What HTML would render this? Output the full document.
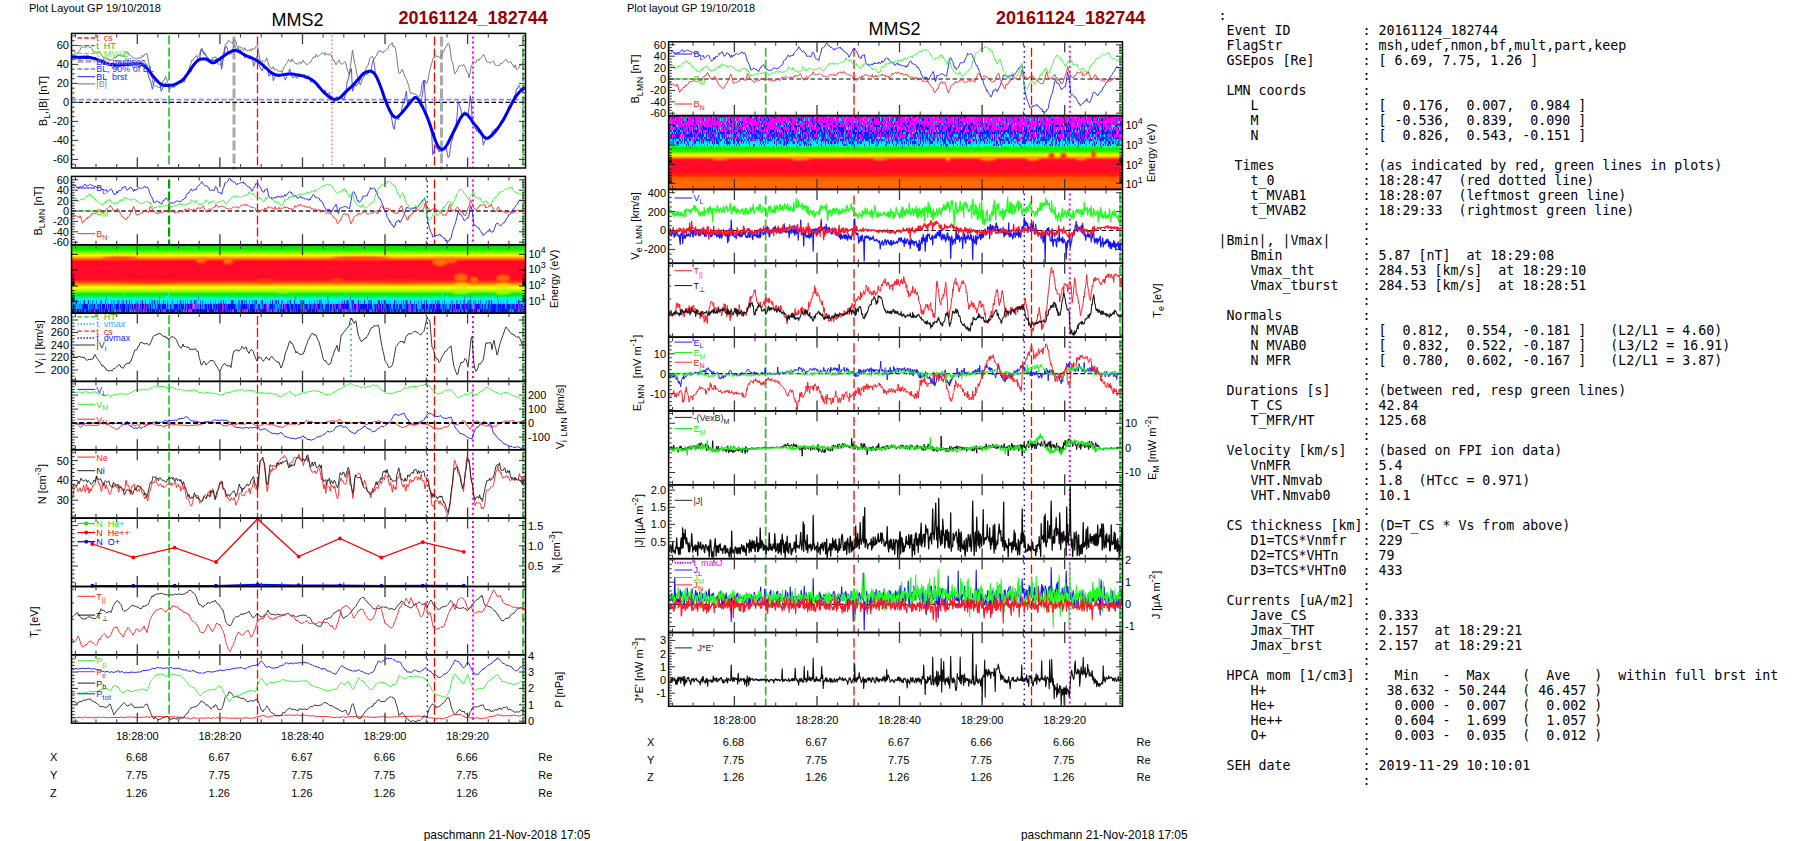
<!DOCTYPE html>
<html><head><meta charset="utf-8"><title>MMS2 20161124_182744</title>
<style>
html,body{margin:0;padding:0;background:#fff;width:1804px;height:841px;overflow:hidden}
pre{position:absolute;left:1218.5px;top:8.4px;margin:0;font-family:"DejaVu Sans Mono","Liberation Mono",monospace;font-size:13.29px;line-height:15px;color:#000;white-space:pre}
svg text{white-space:pre}
</style></head><body>
<svg width="1804" height="841" viewBox="0 0 1804 841" style="position:absolute;left:0;top:0" font-family='Liberation Sans, Arial, sans-serif' fill="none">
<g fill="#000" stroke="none">
<text x="29" y="12" font-size="11">Plot Layout GP 19/10/2018</text>
<text x="271.5" y="26" font-size="18">MMS2</text>
<text x="398.5" y="24" font-size="18" font-weight="bold" fill="#990000">20161124_182744</text>
<text x="627" y="11.5" font-size="11">Plot layout GP 19/10/2018</text>
<text x="868.5" y="35.3" font-size="18">MMS2</text>
<text x="996" y="24" font-size="18" font-weight="bold" fill="#990000">20161124_182744</text>
<text x="423.7" y="838.6" font-size="11.9">paschmann 21-Nov-2018 17:05</text>
<text x="1021" y="838.6" font-size="11.9">paschmann 21-Nov-2018 17:05</text>
<text x="137.3" y="740.1" font-size="11" text-anchor="middle">18:28:00</text>
<text x="219.9" y="740.1" font-size="11" text-anchor="middle">18:28:20</text>
<text x="302.5" y="740.1" font-size="11" text-anchor="middle">18:28:40</text>
<text x="385" y="740.1" font-size="11" text-anchor="middle">18:29:00</text>
<text x="467.6" y="740.1" font-size="11" text-anchor="middle">18:29:20</text>
<text x="50" y="761.3" font-size="11">X</text>
<text x="136.7" y="761.3" font-size="11" text-anchor="middle">6.68</text>
<text x="219.3" y="761.3" font-size="11" text-anchor="middle">6.67</text>
<text x="301.9" y="761.3" font-size="11" text-anchor="middle">6.67</text>
<text x="384.4" y="761.3" font-size="11" text-anchor="middle">6.66</text>
<text x="467" y="761.3" font-size="11" text-anchor="middle">6.66</text>
<text x="538.3" y="761.3" font-size="11">Re</text>
<text x="50" y="779" font-size="11">Y</text>
<text x="136.7" y="779" font-size="11" text-anchor="middle">7.75</text>
<text x="219.3" y="779" font-size="11" text-anchor="middle">7.75</text>
<text x="301.9" y="779" font-size="11" text-anchor="middle">7.75</text>
<text x="384.4" y="779" font-size="11" text-anchor="middle">7.75</text>
<text x="467" y="779" font-size="11" text-anchor="middle">7.75</text>
<text x="538.3" y="779" font-size="11">Re</text>
<text x="50" y="797.2" font-size="11">Z</text>
<text x="136.7" y="797.2" font-size="11" text-anchor="middle">1.26</text>
<text x="219.3" y="797.2" font-size="11" text-anchor="middle">1.26</text>
<text x="301.9" y="797.2" font-size="11" text-anchor="middle">1.26</text>
<text x="384.4" y="797.2" font-size="11" text-anchor="middle">1.26</text>
<text x="467" y="797.2" font-size="11" text-anchor="middle">1.26</text>
<text x="538.3" y="797.2" font-size="11">Re</text>
<text x="734.4" y="724.3" font-size="11" text-anchor="middle">18:28:00</text>
<text x="817" y="724.3" font-size="11" text-anchor="middle">18:28:20</text>
<text x="899.5" y="724.3" font-size="11" text-anchor="middle">18:28:40</text>
<text x="982.1" y="724.3" font-size="11" text-anchor="middle">18:29:00</text>
<text x="1064.7" y="724.3" font-size="11" text-anchor="middle">18:29:20</text>
<text x="647.1" y="746" font-size="11">X</text>
<text x="733.5" y="746" font-size="11" text-anchor="middle">6.68</text>
<text x="816.1" y="746" font-size="11" text-anchor="middle">6.67</text>
<text x="898.6" y="746" font-size="11" text-anchor="middle">6.67</text>
<text x="981.2" y="746" font-size="11" text-anchor="middle">6.66</text>
<text x="1063.8" y="746" font-size="11" text-anchor="middle">6.66</text>
<text x="1136.5" y="746" font-size="11">Re</text>
<text x="647.1" y="763.8" font-size="11">Y</text>
<text x="733.5" y="763.8" font-size="11" text-anchor="middle">7.75</text>
<text x="816.1" y="763.8" font-size="11" text-anchor="middle">7.75</text>
<text x="898.6" y="763.8" font-size="11" text-anchor="middle">7.75</text>
<text x="981.2" y="763.8" font-size="11" text-anchor="middle">7.75</text>
<text x="1063.8" y="763.8" font-size="11" text-anchor="middle">7.75</text>
<text x="1136.5" y="763.8" font-size="11">Re</text>
<text x="647.1" y="781" font-size="11">Z</text>
<text x="733.5" y="781" font-size="11" text-anchor="middle">1.26</text>
<text x="816.1" y="781" font-size="11" text-anchor="middle">1.26</text>
<text x="898.6" y="781" font-size="11" text-anchor="middle">1.26</text>
<text x="981.2" y="781" font-size="11" text-anchor="middle">1.26</text>
<text x="1063.8" y="781" font-size="11" text-anchor="middle">1.26</text>
<text x="1136.5" y="781" font-size="11">Re</text>
</g>
<defs>
<linearGradient id="gl" x1="0" y1="0" x2="0" y2="1"><stop offset="0.000" stop-color="#00d800"/><stop offset="0.077" stop-color="#20ee00"/><stop offset="0.121" stop-color="#90ff00"/><stop offset="0.153" stop-color="#ffff00"/><stop offset="0.184" stop-color="#ffb000"/><stop offset="0.213" stop-color="#ff5a00"/><stop offset="0.242" stop-color="#ff0a28"/><stop offset="0.505" stop-color="#ff0a28"/><stop offset="0.549" stop-color="#ff5000"/><stop offset="0.586" stop-color="#ffa800"/><stop offset="0.615" stop-color="#ffff00"/><stop offset="0.644" stop-color="#e0ff00"/><stop offset="0.681" stop-color="#80ff00"/><stop offset="0.718" stop-color="#10e800"/><stop offset="0.753" stop-color="#00f050"/><stop offset="0.776" stop-color="#00ffb0"/><stop offset="0.805" stop-color="#00f4ff"/><stop offset="0.873" stop-color="#00e0ff"/><stop offset="0.879" stop-color="#0030ff"/><stop offset="1.000" stop-color="#0020ff"/></linearGradient>
<linearGradient id="gm" x1="0" y1="0" x2="0" y2="1"><stop offset="0.000" stop-color="#ff00ff"/><stop offset="0.250" stop-color="#ff00ff"/><stop offset="0.255" stop-color="#0828ff"/><stop offset="0.343" stop-color="#0830ff"/><stop offset="0.349" stop-color="#00dcff"/><stop offset="0.388" stop-color="#00f0ff"/><stop offset="0.406" stop-color="#00ffb0"/><stop offset="0.422" stop-color="#00f040"/><stop offset="0.445" stop-color="#10e800"/><stop offset="0.486" stop-color="#30f000"/><stop offset="0.509" stop-color="#90ff00"/><stop offset="0.533" stop-color="#ffff00"/><stop offset="0.560" stop-color="#ffb800"/><stop offset="0.582" stop-color="#ff5000"/><stop offset="0.601" stop-color="#ff0a28"/><stop offset="0.770" stop-color="#ff0a28"/><stop offset="0.784" stop-color="#ff2000"/><stop offset="0.817" stop-color="#ff2800"/><stop offset="0.838" stop-color="#ff5a00"/><stop offset="0.953" stop-color="#ff7000"/><stop offset="1.000" stop-color="#ff5000"/></linearGradient>
</defs>
<rect x="71.5" y="244.8" width="454" height="68.4" fill="url(#gl)"/>
<rect x="668.6" y="115.6" width="453.9" height="73.8" fill="url(#gm)"/>
<defs><filter id="bl" x="-50%" y="-50%" width="200%" height="200%"><feGaussianBlur stdDeviation="1.1"/></filter><clipPath id="cl"><rect x="71.5" y="244.8" width="454" height="68.4"/></clipPath><clipPath id="cm"><rect x="668.6" y="115.6" width="453.9" height="73.8"/></clipPath></defs>
<g filter="url(#bl)" clip-path="url(#cl)">
<ellipse cx="201" cy="260.5" rx="5" ry="2.5" fill="#ff7a00" opacity="1"/>
<ellipse cx="228" cy="261" rx="5" ry="3" fill="#ff7a00" opacity="1"/>
<ellipse cx="440" cy="262" rx="8" ry="4" fill="#ff7000" opacity="1"/>
<ellipse cx="452" cy="260.5" rx="5" ry="2.5" fill="#ff6a00" opacity="1"/>
<ellipse cx="461" cy="277.5" rx="7" ry="4" fill="#ff6a00" opacity="1"/>
<ellipse cx="474" cy="279.5" rx="4" ry="2.5" fill="#ff7a00" opacity="1"/>
<ellipse cx="503" cy="278" rx="7" ry="3.5" fill="#ff6a00" opacity="1"/>
<ellipse cx="337" cy="280.5" rx="6" ry="2" fill="#ff5000" opacity="1"/>
<ellipse cx="265" cy="281" rx="8" ry="2" fill="#ff4000" opacity="1"/>
<ellipse cx="461" cy="285.5" rx="8" ry="2.5" fill="#ffd800" opacity="1"/>
<ellipse cx="503" cy="286" rx="8" ry="2.5" fill="#ffd800" opacity="1"/>
<ellipse cx="461" cy="291.5" rx="9" ry="2.5" fill="#a0ff00" opacity="1"/>
<ellipse cx="503" cy="292" rx="8" ry="2.5" fill="#a0ff00" opacity="1"/>
<ellipse cx="283" cy="291" rx="7" ry="2" fill="#a0ff00" opacity="1"/>
<ellipse cx="120" cy="258.3" rx="18" ry="1.6" fill="#ff3a10" opacity="1"/>
<ellipse cx="360" cy="258.3" rx="30" ry="1.6" fill="#ff3a10" opacity="1"/>
<ellipse cx="150" cy="281.5" rx="30" ry="1.5" fill="#ff2a18" opacity="1"/>
<ellipse cx="400" cy="281" rx="25" ry="1.5" fill="#ff2a18" opacity="1"/>
</g>
<g filter="url(#bl)" clip-path="url(#cm)">
<ellipse cx="1051.5" cy="156" rx="3" ry="3" fill="#ff2a10" opacity="1"/>
<ellipse cx="1063.5" cy="156" rx="3" ry="3" fill="#ff2a10" opacity="1"/>
<ellipse cx="1093.5" cy="154.5" rx="2.2" ry="4" fill="#ff3a10" opacity="1"/>
<ellipse cx="948" cy="158.5" rx="2" ry="2.5" fill="#ffc000" opacity="1"/>
<ellipse cx="988" cy="158.8" rx="8" ry="1.6" fill="#ffa800" opacity="1"/>
<ellipse cx="1033" cy="158.8" rx="7" ry="1.6" fill="#ffa800" opacity="1"/>
<ellipse cx="1081" cy="158.8" rx="6" ry="1.5" fill="#ffa000" opacity="1"/>
<ellipse cx="720" cy="158.8" rx="9" ry="1.4" fill="#ffa000" opacity="1"/>
<ellipse cx="800" cy="158.8" rx="10" ry="1.4" fill="#ffa000" opacity="1"/>
<ellipse cx="880" cy="158.8" rx="8" ry="1.4" fill="#ffa000" opacity="1"/>
</g>
<path d="M72 310.9h2m1 0h1m1 0h2m1 0h1m1 0h2m2 0h2m3 0h1m1 0h1m1 0h4m1 0h1m2 0h1m1 0h3m2 0h1m2 0h1m2 0h1m4 0h1m1 0h2m1 0h1m1 0h1m4 0h1m8 0h1m4 0h2m1 0h1m1 0h3m1 0h3m1 0h1m5 0h3m2 0h4m2 0h4m6 0h1m4 0h3m1 0h11m2 0h5m4 0h4m1 0h2m2 0h1m1 0h1m4 0h3m3 0h2m6 0h1m1 0h5m6 0h5m6 0h1m5 0h1m1 0h1m2 0h2m2 0h3m2 0h1m3 0h1m1 0h2m7 0h4m1 0h3m1 0h1m8 0h1m1 0h2m1 0h1m3 0h1m3 0h1m1 0h2m17 0h1m3 0h2m1 0h3m3 0h1m2 0h1m2 0h1m1 0h1m3 0h1m2 0h3m1 0h1m2 0h2m2 0h1m3 0h3m1 0h2m3 0h2m3 0h2m2 0h1m3 0h1m1 0h1m2 0h1m2 0h2m1 0h7m1 0h1m1 0h5m2 0h1m2 0h1m4 0h1m3 0h1m3 0h5m1 0h3m3 0h3m1 0h1m1 0h1m3 0h1m1 0h4m2 0h1m1 0h8m6 0h2m1 0h1m2 0h1M72 306.6m1 0h1m9 0h5m6 0h1m5 0h1m1 0h3m1 0h1m3 0h1m5 0h3m1 0h1m1 0h3m3 0h1m3 0h1m1 0h1m2 0h1m4 0h2m1 0h1m1 0h1m2 0h1m4 0h1m2 0h2m2 0h4m1 0h1m2 0h1m3 0h3m2 0h1m1 0h3m1 0h1m1 0h2m1 0h2m8 0h1m4 0h2m1 0h1m1 0h2m2 0h1m1 0h1m1 0h4m2 0h1m3 0h7m6 0h4m1 0h1m3 0h4m4 0h2m4 0h2m4 0h3m8 0h1m1 0h1m2 0h3m2 0h2m2 0h2m1 0h2m5 0h2m2 0h2m3 0h1m2 0h3m2 0h1m3 0h1m1 0h1m1 0h2m1 0h1m2 0h2m3 0h3m1 0h4m5 0h2m2 0h1m1 0h7m1 0h1m1 0h2m3 0h1m1 0h1m1 0h2m1 0h1m3 0h3m1 0h1m2 0h2m2 0h1m1 0h3m4 0h2m3 0h2m3 0h1m5 0h3m1 0h2m1 0h3m1 0h1m3 0h3m3 0h1m6 0h1m1 0h1m1 0h1m1 0h4m2 0h2m2 0h1m3 0h1m4 0h4m3 0h1m2 0h1m2 0h1m2 0h5m2 0h3m1 0h3m2 0h3m2 0h2m2 0h2m1 0h1m1 0h1" stroke="#0010ff" stroke-width="4.3" shape-rendering="crispEdges"/>
<path d="M72 310.9m2 0h1m1 0h1m2 0h1m1 0h1m2 0h1m3 0h1m1 0h1m10 0h2m1 0h1m4 0h1m1 0h2m4 0h2m8 0h1m1 0h1m1 0h1m3 0h3m2 0h2m2 0h1m4 0h1m1 0h1m9 0h2m12 0h2m4 0h1m2 0h2m9 0h1m12 0h1m7 0h2m8 0h1m1 0h1m1 0h1m7 0h1m10 0h1m7 0h1m8 0h1m2 0h2m2 0h1m3 0h1m17 0h1m1 0h1m3 0h2m1 0h1m6 0h1m5 0h2m1 0h1m1 0h3m1 0h1m4 0h1m1 0h1m1 0h2m2 0h1m3 0h2m2 0h4m1 0h3m5 0h1m4 0h1m3 0h1m4 0h1m6 0h1m3 0h2m5 0h2m2 0h2m10 0h1m5 0h1m4 0h1m2 0h1m5 0h1m1 0h1m3 0h1m9 0h1m6 0h1m1 0h1m3 0h2m2 0h1m5 0h1m15 0h1m1 0h1m3 0h1m6 0h2m1 0h1m8 0h2m1 0h1m7 0h1m3 0h1M72 306.6m2 0h2m3 0h1m1 0h2m6 0h5m3 0h3m9 0h1m1 0h2m1 0h2m5 0h1m3 0h3m1 0h3m6 0h1m2 0h1m4 0h1m1 0h1m3 0h1m4 0h1m2 0h2m16 0h1m1 0h1m8 0h1m5 0h1m2 0h1m3 0h1m1 0h1m4 0h1m5 0h1m1 0h1m5 0h1m3 0h1m7 0h1m2 0h3m6 0h2m5 0h1m7 0h2m9 0h2m2 0h1m1 0h2m4 0h1m3 0h2m2 0h2m2 0h1m2 0h1m1 0h1m1 0h1m6 0h3m1 0h1m4 0h2m3 0h1m9 0h1m2 0h2m19 0h1m14 0h1m1 0h1m6 0h1m12 0h1m7 0h1m3 0h1m4 0h2m6 0h1m10 0h1m7 0h1m1 0h1m1 0h3m2 0h1m3 0h1m7 0h1m3 0h1m2 0h1m2 0h1m8 0h1m3 0h1m4 0h2m5 0h2m3 0h1m4 0h1m3 0h2m2 0h2m4 0h1m1 0h1" stroke="#0060ff" stroke-width="4.3" shape-rendering="crispEdges"/>
<path d="M72 310.9m13 0h1m8 0h1m4 0h1m19 0h1m12 0h1m5 0h1m7 0h1m12 0h1m3 0h3m3 0h1m18 0h1m1 0h1m16 0h1m6 0h1m7 0h1m9 0h1m9 0h1m1 0h3m11 0h1m8 0h2m5 0h1m6 0h1m8 0h2m1 0h1m9 0h1m1 0h2m8 0h1m3 0h1m1 0h1m24 0h1m10 0h1m4 0h1m8 0h1m4 0h1m6 0h1m25 0h2m2 0h1m7 0h1m1 0h1m1 0h1m1 0h1m3 0h1m22 0h1m1 0h1m2 0h1m5 0h1m11 0h2m34 0h1m7 0h2M72 306.6m64 0h1m7 0h1m4 0h1m21 0h1m1 0h1m12 0h1m5 0h1m3 0h2m9 0h1m14 0h1m2 0h1m29 0h1m10 0h1m8 0h1m8 0h1m16 0h1m14 0h1m17 0h1m5 0h1m12 0h1m2 0h1m10 0h1m10 0h1m10 0h1m5 0h1m7 0h1m1 0h1m3 0h2m4 0h1m58 0h1m6 0h1m5 0h1m30 0h1" stroke="#ff00ff" stroke-width="4.3" shape-rendering="crispEdges"/>
<path d="M72 310.9m17 0h1m2 0h1m29 0h1m16 0h1m5 0h1m24 0h1m11 0h1m32 0h1m9 0h1m5 0h1m11 0h1m12 0h1m2 0h2m21 0h1m2 0h1m8 0h1m5 0h1m54 0h1m2 0h1m2 0h1m15 0h1m1 0h1m2 0h1m16 0h1m1 0h1m61 0h1m23 0h2m2 0h1m24 0h1M72 306.6m36 0h1m26 0h1m4 0h1m36 0h1m35 0h1m12 0h1m18 0h1m23 0h1m37 0h1m19 0h1m16 0h1m7 0h1m16 0h1m64 0h1m1 0h1m27 0h1m4 0h1m9 0h1m44 0h1" stroke="#6000ff" stroke-width="4.3" shape-rendering="crispEdges"/>
<path d="M72 310.9m36 0h1m5 0h2m4 0h1m4 0h1m4 0h1m3 0h1m8 0h1m11 0h1m27 0h1m2 0h1m2 0h1m1 0h1m41 0h1m3 0h1m1 0h1m7 0h1m7 0h1m15 0h1m3 0h2m2 0h1m6 0h1m42 0h1m2 0h1m4 0h1m4 0h1m2 0h1m5 0h1m4 0h1m13 0h1m2 0h1m16 0h1m9 0h1m4 0h1m9 0h1m2 0h1m23 0h1m7 0h1m11 0h1m3 0h1m6 0h1m5 0h1m30 0h1m1 0h1m5 0h1m5 0h1" stroke="#00a0ff" stroke-width="4.3" shape-rendering="crispEdges"/>
<path d="M72 306.6h1m3 0h3m1 0h1m7 0h1m6 0h2m4 0h1m3 0h1m1 0h1m5 0h1m5 0h1m13 0h1m5 0h1m11 0h1m1 0h2m1 0h1m9 0h1m1 0h2m2 0h1m11 0h1m8 0h2m4 0h1m1 0h1m1 0h1m8 0h1m23 0h2m11 0h1m6 0h2m2 0h2m5 0h2m7 0h1m1 0h1m3 0h1m20 0h1m4 0h1m14 0h2m4 0h1m2 0h1m16 0h3m5 0h1m14 0h2m7 0h1m2 0h2m5 0h2m5 0h1m3 0h1m14 0h4m4 0h1m2 0h1m6 0h1m5 0h1m5 0h2m2 0h1m3 0h1m4 0h1m6 0h1m4 0h2m9 0h1m2 0h1m18 0h1m17 0h1" stroke="#00b0ff" stroke-width="4.3" shape-rendering="crispEdges"/>
<path d="M72 302.3h1m5 0h1m1 0h1m9 0h1m2 0h1m13 0h1m6 0h1m4 0h1m1 0h1m13 0h2m1 0h1m1 0h2m11 0h1m1 0h1m9 0h1m15 0h1m11 0h1m11 0h1m7 0h1m4 0h1m1 0h1m9 0h1m4 0h1m7 0h1m1 0h1m14 0h1m4 0h1m1 0h1m6 0h1m13 0h2m14 0h1m6 0h1m13 0h1m1 0h1m10 0h1m2 0h1m8 0h1m9 0h1m16 0h1m4 0h2m2 0h1m1 0h2m5 0h2m1 0h1m17 0h1m3 0h1m10 0h3m8 0h1m7 0h2m5 0h1m7 0h1m5 0h1m2 0h1m6 0h1m3 0h1m4 0h1m1 0h1m7 0h1m2 0h1m2 0h1m9 0h1m2 0h1m4 0h1" stroke="#00c0ff" stroke-width="4.3" shape-rendering="crispEdges"/>
<path d="M72 302.3m1 0h1m1 0h1m7 0h1m8 0h1m3 0h1m3 0h2m9 0h1m1 0h1m3 0h2m3 0h2m7 0h1m13 0h1m3 0h1m1 0h2m14 0h1m4 0h1m4 0h1m5 0h1m1 0h1m1 0h1m2 0h2m3 0h2m3 0h1m1 0h1m7 0h1m4 0h1m5 0h1m3 0h1m7 0h1m4 0h2m4 0h1m1 0h1m2 0h1m2 0h1m1 0h2m5 0h1m8 0h1m4 0h1m5 0h2m4 0h1m12 0h3m6 0h1m4 0h1m2 0h1m2 0h2m6 0h1m13 0h1m3 0h1m1 0h1m2 0h1m16 0h3m10 0h1m3 0h1m15 0h1m3 0h1m1 0h1m6 0h1m3 0h1m2 0h1m2 0h1m13 0h2m4 0h1m7 0h1m3 0h1m3 0h1m2 0h2m3 0h3m2 0h1m1 0h1m2 0h1m1 0h1m5 0h1m1 0h2m8 0h1m8 0h1m15 0h1" stroke="#0080ff" stroke-width="4.3" shape-rendering="crispEdges"/>
<path d="M72 302.3m4 0h1m7 0h1m3 0h1m16 0h1m20 0h1m2 0h1m12 0h1m11 0h1m2 0h1m1 0h1m3 0h1m16 0h1m13 0h1m28 0h1m7 0h2m8 0h2m13 0h1m5 0h1m9 0h1m3 0h1m1 0h1m11 0h1m3 0h1m8 0h1m15 0h1m24 0h1m2 0h1m4 0h2m4 0h1m5 0h1m6 0h1m6 0h2m4 0h1m9 0h1m8 0h1m2 0h1m3 0h1m15 0h1m8 0h1m1 0h1m53 0h1m26 0h1" stroke="#0020ff" stroke-width="4.3" shape-rendering="crispEdges"/>
<path d="M72 298.1m34 0h1m52 0h1m38 0h1m96 0h1m31 0h1m22 0h1m16 0h1m96 0h1m5 0h1m26 0h1" stroke="#0090ff" stroke-width="4.3" shape-rendering="crispEdges"/>
<path d="M72 298.1m11 0h1m25 0h1m37 0h1m18 0h2m37 0h1m11 0h1m8 0h1m28 0h1m3 0h1m1 0h1m18 0h1m16 0h1m5 0h1m10 0h2m6 0h1m17 0h2m43 0h1m5 0h1m44 0h1m9 0h2m12 0h1m25 0h1m5 0h1m21 0h1m2 0h1" stroke="#00ffff" stroke-width="4.3" shape-rendering="crispEdges"/>
<path d="M72 293.8m51 0h1m44 0h1m176 0h1m96 0h1" stroke="#00ffd0" stroke-width="4.3" shape-rendering="crispEdges"/>
<path d="M669 117.1h1m4 0h1m36 0h1m9 0h1m12 0h1m15 0h2m4 0h1m10 0h1m3 0h1m2 0h1m6 0h1m5 0h1m8 0h1m6 0h1m8 0h1m31 0h1m9 0h2m2 0h1m8 0h1m8 0h1m20 0h1m11 0h1m4 0h2m3 0h1m19 0h1m9 0h1m10 0h1m3 0h1m14 0h1m9 0h1m1 0h1m17 0h1m2 0h1m22 0h1m1 0h1m11 0h1m13 0h1m5 0h1m10 0h1m4 0h1m6 0h1m2 0h1m2 0h1m10 0h1M669 119.4m8 0h1m9 0h1m6 0h1m8 0h1m7 0h1m4 0h1m13 0h1m16 0h1m1 0h1m6 0h1m3 0h1m3 0h1m3 0h1m21 0h1m7 0h2m1 0h1m10 0h1m10 0h1m1 0h1m3 0h1m42 0h2m1 0h1m3 0h1m2 0h1m5 0h1m3 0h1m3 0h2m12 0h1m11 0h2m4 0h1m17 0h1m7 0h1m3 0h1m6 0h1m40 0h1m6 0h1m4 0h1m15 0h1m2 0h1m6 0h1m7 0h1m17 0h1m6 0h1m14 0h1m4 0h1m1 0h1m1 0h2m2 0h1m3 0h1m9 0h1M669 121.7m7 0h1m6 0h1m10 0h1m15 0h1m2 0h1m1 0h1m11 0h1m2 0h2m8 0h1m1 0h1m14 0h1m4 0h1m4 0h1m1 0h1m9 0h1m4 0h2m5 0h1m5 0h1m7 0h1m1 0h1m4 0h1m1 0h1m1 0h1m11 0h2m1 0h1m2 0h1m8 0h1m4 0h1m9 0h1m4 0h1m5 0h1m3 0h1m7 0h1m3 0h1m5 0h1m16 0h1m6 0h1m15 0h1m19 0h1m6 0h1m1 0h2m10 0h1m5 0h1m1 0h1m18 0h1m6 0h1m7 0h1m13 0h1m8 0h1m1 0h1m2 0h1m2 0h1m22 0h1m6 0h1m10 0h1m26 0h1m6 0h1M669 124m4 0h1m13 0h1m5 0h1m1 0h1m11 0h1m9 0h1m4 0h1m5 0h1m5 0h1m2 0h1m1 0h1m1 0h1m3 0h1m1 0h1m11 0h1m1 0h1m2 0h1m13 0h1m1 0h1m5 0h1m2 0h1m3 0h1m1 0h1m9 0h1m1 0h1m5 0h1m3 0h2m4 0h3m7 0h2m4 0h1m9 0h2m3 0h1m3 0h1m2 0h1m9 0h1m1 0h2m5 0h1m1 0h1m8 0h1m2 0h1m8 0h2m2 0h2m8 0h2m1 0h1m2 0h1m1 0h1m1 0h1m3 0h1m7 0h2m3 0h1m1 0h1m3 0h1m3 0h1m3 0h1m3 0h1m3 0h1m3 0h3m13 0h1m4 0h1m7 0h1m11 0h1m9 0h1m6 0h1m8 0h1m3 0h1m3 0h1m7 0h1m10 0h3m1 0h2m5 0h2m5 0h1m3 0h1m6 0h2m1 0h1m3 0h3m5 0h2m1 0h1m3 0h1m4 0h1M669 126.3m4 0h3m5 0h1m2 0h2m1 0h1m2 0h2m1 0h2m1 0h2m4 0h2m5 0h1m2 0h2m1 0h3m3 0h1m2 0h1m2 0h1m2 0h2m2 0h1m3 0h1m3 0h1m6 0h2m2 0h3m1 0h2m5 0h1m1 0h1m6 0h1m1 0h1m2 0h1m5 0h1m1 0h1m1 0h1m1 0h1m3 0h3m1 0h2m3 0h3m7 0h1m2 0h1m1 0h2m10 0h2m5 0h2m2 0h1m1 0h2m3 0h1m5 0h1m4 0h1m2 0h1m2 0h1m3 0h1m4 0h6m2 0h1m6 0h1m1 0h1m1 0h1m8 0h1m2 0h1m5 0h2m3 0h3m1 0h3m2 0h2m2 0h1m5 0h5m2 0h1m4 0h1m2 0h2m3 0h1m2 0h1m1 0h1m3 0h2m2 0h2m1 0h1m1 0h2m3 0h1m1 0h1m5 0h1m2 0h3m8 0h1m1 0h2m1 0h1m3 0h2m6 0h2m2 0h1m1 0h1m9 0h1m3 0h1m2 0h1m3 0h1m3 0h1m1 0h1m1 0h1m2 0h4m2 0h2m3 0h2m1 0h2m10 0h2m1 0h1m2 0h2m2 0h1m2 0h1m2 0h1m4 0h1m7 0h1m4 0h2M669 128.6h1m6 0h1m3 0h1m1 0h1m5 0h1m4 0h1m3 0h1m3 0h1m1 0h4m1 0h3m1 0h1m4 0h1m5 0h1m2 0h1m7 0h1m4 0h1m1 0h1m4 0h1m4 0h1m2 0h1m6 0h3m1 0h1m3 0h1m4 0h1m6 0h2m7 0h1m4 0h2m3 0h2m3 0h2m1 0h1m2 0h1m5 0h1m2 0h1m2 0h2m2 0h1m3 0h1m1 0h3m2 0h6m1 0h1m6 0h1m1 0h3m8 0h1m2 0h1m7 0h1m4 0h1m9 0h2m2 0h2m9 0h1m3 0h1m5 0h2m1 0h1m1 0h3m1 0h4m6 0h1m2 0h1m3 0h1m4 0h4m2 0h3m7 0h2m3 0h3m2 0h1m2 0h1m6 0h1m5 0h2m2 0h1m3 0h1m10 0h1m1 0h1m6 0h1m1 0h1m1 0h1m2 0h1m1 0h1m2 0h1m6 0h1m1 0h3m3 0h1m2 0h1m2 0h1m1 0h1m13 0h1m1 0h1m1 0h1m3 0h1m2 0h1m1 0h1m1 0h1m2 0h1m6 0h2m1 0h2m1 0h2m3 0h1m1 0h1m8 0h1m4 0h1M669 130.9m1 0h1m2 0h3m2 0h2m3 0h1m1 0h1m2 0h1m2 0h1m1 0h5m4 0h1m5 0h1m1 0h1m1 0h1m1 0h2m1 0h1m1 0h1m7 0h2m2 0h1m1 0h1m4 0h3m1 0h1m1 0h1m2 0h1m1 0h1m1 0h1m2 0h1m1 0h3m6 0h1m2 0h1m1 0h4m2 0h1m5 0h2m1 0h1m1 0h1m1 0h2m1 0h2m1 0h1m6 0h5m2 0h1m2 0h4m3 0h3m2 0h1m1 0h1m1 0h2m3 0h1m3 0h1m1 0h5m2 0h2m1 0h2m2 0h2m3 0h1m2 0h1m3 0h1m3 0h1m1 0h1m4 0h1m2 0h3m2 0h1m1 0h1m1 0h1m2 0h2m3 0h1m2 0h2m1 0h3m2 0h1m8 0h1m2 0h2m2 0h2m4 0h1m1 0h1m4 0h1m2 0h3m4 0h1m1 0h3m2 0h2m5 0h4m5 0h3m3 0h2m7 0h1m1 0h3m2 0h1m3 0h1m1 0h2m2 0h1m1 0h6m1 0h1m2 0h2m2 0h2m2 0h1m2 0h3m3 0h3m1 0h1m1 0h1m1 0h1m1 0h1m1 0h2m2 0h1m3 0h3m4 0h1m1 0h2m3 0h1m1 0h5m2 0h1m3 0h1m2 0h1m1 0h1m1 0h2m2 0h2m1 0h2m2 0h2m1 0h1m2 0h3m3 0h2m3 0h1m1 0h2m5 0h1M669 133.2h1m2 0h1m1 0h1m1 0h1m1 0h1m1 0h1m2 0h2m5 0h2m3 0h2m3 0h1m1 0h1m3 0h1m1 0h1m2 0h1m1 0h1m4 0h1m1 0h5m1 0h4m4 0h1m1 0h1m3 0h2m4 0h1m1 0h1m1 0h2m1 0h1m2 0h1m1 0h3m1 0h1m2 0h1m3 0h3m2 0h1m1 0h1m1 0h1m2 0h1m1 0h1m1 0h2m2 0h1m1 0h3m1 0h1m4 0h1m1 0h1m4 0h1m2 0h3m1 0h2m1 0h3m1 0h2m1 0h1m2 0h1m1 0h2m3 0h1m1 0h1m1 0h1m2 0h3m2 0h1m2 0h1m2 0h5m1 0h4m2 0h5m3 0h2m1 0h1m1 0h3m2 0h2m2 0h3m1 0h1m2 0h1m1 0h1m2 0h2m2 0h1m3 0h3m2 0h1m3 0h3m1 0h2m1 0h1m1 0h1m2 0h1m1 0h1m1 0h1m1 0h3m1 0h2m1 0h1m1 0h3m1 0h1m2 0h1m1 0h4m1 0h2m1 0h2m1 0h1m2 0h1m1 0h3m1 0h1m2 0h1m1 0h2m1 0h10m1 0h1m1 0h3m1 0h1m1 0h1m1 0h1m2 0h2m3 0h1m1 0h3m1 0h2m1 0h1m2 0h2m3 0h2m1 0h1m4 0h1m2 0h1m4 0h1m1 0h2m1 0h2m1 0h1m1 0h2m2 0h2m1 0h3m3 0h1m2 0h1m4 0h1m1 0h1m5 0h1m1 0h3m4 0h2m1 0h4m1 0h1m1 0h1m1 0h7m1 0h2m1 0h4m3 0h2" stroke="#0818ff" stroke-width="2.3" shape-rendering="crispEdges"/>
<path d="M669 117.1m17 0h1m66 0h1m61 0h1m27 0h1m2 0h1m70 0h1m20 0h1m105 0h1M669 119.4m15 0h1m35 0h1m75 0h1m38 0h1m3 0h1m49 0h1m4 0h1m76 0h1m11 0h1m7 0h1m38 0h1m67 0h1M669 121.7h1m11 0h1m18 0h1m35 0h1m49 0h1m70 0h1m115 0h1m9 0h1m103 0h1m3 0h1m13 0h1m5 0h1m6 0h1M669 124m67 0h1m14 0h1m24 0h1m85 0h1m135 0h1m16 0h1M669 126.3m93 0h1m18 0h1m26 0h1m6 0h1m50 0h1m13 0h1m168 0h1m68 0h1M669 128.6m51 0h1m9 0h1m115 0h1m2 0h1m1 0h1m45 0h1m7 0h1m117 0h1m41 0h1m14 0h1m19 0h1M669 130.9m3 0h1m7 0h1m18 0h1m16 0h1m50 0h1m11 0h1m135 0h1m140 0h1m30 0h1M669 133.2m1 0h1m2 0h1m113 0h1m11 0h1m44 0h1m58 0h2m7 0h1m103 0h1" stroke="#00ffa0" stroke-width="2.3" shape-rendering="crispEdges"/>
<path d="M669 117.1m8 0h1m13 0h1m9 0h1m14 0h1m7 0h1m7 0h1m13 0h1m29 0h1m24 0h1m15 0h1m22 0h1m8 0h1m12 0h1m12 0h1m96 0h1m3 0h1m9 0h1m10 0h1m2 0h1m6 0h1m22 0h1m9 0h1m7 0h1m1 0h1M669 119.4m17 0h1m30 0h1m16 0h1m30 0h2m22 0h1m10 0h1m6 0h1m3 0h1m35 0h1m9 0h1m19 0h1m23 0h1m1 0h1m3 0h1m36 0h1m47 0h1m17 0h2m14 0h1m89 0h1M669 121.7m13 0h1m8 0h1m25 0h1m21 0h1m9 0h1m3 0h1m48 0h1m18 0h2m13 0h1m3 0h1m1 0h1m13 0h1m32 0h1m2 0h1m11 0h1m6 0h1m25 0h1m44 0h1m12 0h1m1 0h1m2 0h1m62 0h1m7 0h1m1 0h1m6 0h1m2 0h1m8 0h1m6 0h1M669 124m57 0h2m20 0h1m4 0h1m1 0h1m15 0h1m34 0h1m4 0h1m25 0h2m12 0h1m15 0h2m18 0h1m7 0h1m1 0h1m11 0h1m1 0h1m4 0h1m35 0h1m42 0h1m13 0h1m2 0h1m25 0h1m3 0h1m8 0h2m2 0h2m31 0h1m18 0h1m9 0h1m3 0h1M669 126.3m1 0h1m52 0h1m56 0h1m39 0h2m82 0h1m10 0h1m14 0h1m1 0h1m12 0h1m35 0h1m5 0h1m9 0h2m25 0h1m11 0h1m6 0h1m9 0h1m11 0h1m11 0h1m8 0h1m6 0h1m2 0h1m10 0h1M669 128.6m9 0h1m5 0h1m17 0h1m11 0h1m16 0h1m3 0h2m13 0h1m7 0h1m20 0h1m22 0h1m33 0h1m22 0h2m1 0h1m1 0h1m6 0h1m2 0h1m7 0h1m4 0h1m2 0h1m8 0h1m1 0h1m5 0h1m3 0h3m27 0h1m17 0h1m2 0h1m8 0h1m12 0h1m6 0h1m7 0h1m3 0h1m5 0h1m43 0h1m9 0h1m12 0h1m12 0h1M669 130.9m7 0h2m51 0h1m4 0h1m45 0h1m3 0h1m6 0h1m6 0h1m9 0h1m9 0h1m16 0h1m16 0h1m7 0h1m2 0h1m4 0h1m1 0h1m19 0h1m27 0h1m8 0h1m16 0h1m2 0h1m26 0h1m2 0h1m4 0h2m10 0h1m5 0h1m32 0h1m14 0h1m13 0h1m2 0h1m5 0h1m7 0h1m19 0h1m6 0h1m3 0h1m8 0h2M669 133.2m8 0h1m1 0h1m1 0h1m4 0h1m2 0h1m3 0h1m16 0h1m5 0h1m26 0h1m19 0h2m10 0h1m3 0h1m8 0h1m8 0h1m15 0h1m9 0h1m1 0h1m6 0h2m5 0h1m7 0h1m9 0h1m23 0h1m10 0h1m1 0h1m1 0h1m28 0h1m10 0h1m2 0h1m21 0h1m4 0h1m22 0h1m19 0h1m9 0h1m2 0h2m16 0h1m24 0h2m24 0h1m26 0h1" stroke="#0070ff" stroke-width="2.3" shape-rendering="crispEdges"/>
<path d="M669 117.1m3 0h1m8 0h1m30 0h1m32 0h1m6 0h1m6 0h1m68 0h1m5 0h1m18 0h1m11 0h1m14 0h1m3 0h1m4 0h1m16 0h1m4 0h1m21 0h1m27 0h1m11 0h1m29 0h1m20 0h1m27 0h1m4 0h1m7 0h1m4 0h1m4 0h1m10 0h1m12 0h1M669 119.4m24 0h1m10 0h1m17 0h1m3 0h1m8 0h1m4 0h1m63 0h1m3 0h1m31 0h1m4 0h1m17 0h1m4 0h1m11 0h1m24 0h1m9 0h1m4 0h1m32 0h1m45 0h1m35 0h1m2 0h1m8 0h1m16 0h1M669 121.7m2 0h1m53 0h1m3 0h1m15 0h1m14 0h1m28 0h1m10 0h1m43 0h1m9 0h1m10 0h1m4 0h1m15 0h1m6 0h1m40 0h1m1 0h1m2 0h1m27 0h1m18 0h1m17 0h1m114 0h1M669 124m5 0h1m28 0h1m17 0h1m3 0h1m14 0h1m47 0h1m7 0h1m19 0h1m125 0h1m21 0h1m31 0h1m11 0h1m14 0h1m15 0h1m23 0h1m9 0h1m3 0h1m14 0h1M669 126.3m2 0h1m4 0h2m20 0h1m27 0h1m20 0h1m34 0h1m2 0h1m59 0h1m25 0h1m14 0h1m7 0h1m58 0h1m59 0h1m5 0h1m8 0h1m82 0h4M669 128.6m27 0h1m16 0h1m29 0h1m1 0h1m11 0h1m35 0h1m3 0h1m1 0h1m22 0h1m5 0h1m18 0h1m13 0h1m13 0h1m61 0h1m23 0h1m15 0h1m2 0h1m53 0h1m7 0h1m14 0h1m3 0h1m23 0h2m25 0h1m6 0h1M669 130.9m23 0h1m12 0h1m12 0h1m27 0h1m30 0h1m3 0h1m17 0h1m10 0h1m16 0h1m4 0h1m22 0h1m3 0h1m57 0h1m3 0h1m3 0h2m3 0h1m4 0h1m2 0h1m26 0h1m63 0h1m42 0h1m2 0h1m2 0h1m15 0h1M669 133.2m6 0h1m6 0h1m4 0h1m13 0h1m23 0h1m18 0h1m45 0h1m7 0h1m21 0h1m97 0h1m53 0h1m28 0h1m4 0h1m6 0h1m21 0h1m9 0h1m71 0h1M669 135.5m12 0h1m22 0h2m10 0h1m3 0h1m6 0h1m1 0h2m1 0h1m5 0h1m2 0h1m8 0h1m13 0h2m30 0h1m4 0h1m1 0h1m14 0h1m7 0h1m9 0h1m15 0h1m40 0h1m14 0h2m6 0h1m11 0h1m3 0h1m5 0h1m2 0h1m1 0h1m10 0h1m1 0h2m3 0h1m5 0h1m8 0h2m7 0h1m7 0h1m1 0h1m1 0h1m1 0h1m4 0h1m2 0h2m10 0h3m13 0h1m4 0h1m4 0h1m10 0h1m6 0h1m26 0h1m3 0h1m5 0h1m3 0h1m16 0h1M669 137.8m11 0h1m2 0h1m9 0h1m4 0h1m4 0h1m3 0h1m12 0h2m3 0h1m16 0h1m1 0h2m1 0h1m17 0h1m3 0h1m1 0h1m4 0h1m3 0h1m9 0h1m16 0h1m2 0h1m8 0h2m5 0h1m2 0h1m11 0h1m2 0h1m11 0h1m16 0h1m3 0h3m1 0h4m4 0h2m1 0h1m5 0h1m8 0h2m8 0h1m6 0h1m5 0h1m5 0h1m2 0h1m3 0h1m5 0h1m2 0h1m14 0h1m5 0h2m1 0h3m2 0h1m5 0h1m3 0h1m1 0h1m3 0h1m4 0h1m9 0h1m12 0h1m3 0h1m6 0h1m14 0h1m1 0h1m12 0h1m3 0h1m14 0h1m5 0h1m1 0h1m2 0h1m15 0h1M669 140.1m1 0h2m2 0h1m1 0h3m2 0h1m1 0h1m3 0h2m2 0h1m8 0h1m21 0h3m3 0h1m1 0h1m1 0h1m2 0h1m7 0h1m2 0h1m2 0h1m6 0h1m1 0h1m4 0h2m1 0h1m6 0h1m1 0h1m6 0h1m2 0h1m3 0h1m3 0h3m1 0h1m6 0h1m1 0h1m4 0h2m3 0h1m1 0h2m10 0h1m8 0h1m7 0h1m2 0h1m8 0h1m4 0h1m4 0h2m4 0h1m9 0h1m1 0h1m1 0h1m12 0h1m1 0h1m8 0h1m1 0h3m1 0h1m1 0h1m4 0h1m4 0h1m3 0h2m2 0h1m1 0h1m4 0h1m6 0h1m1 0h1m3 0h1m2 0h2m7 0h1m5 0h1m1 0h1m6 0h1m1 0h1m1 0h1m4 0h1m1 0h2m10 0h1m4 0h2m5 0h1m10 0h1m3 0h1m2 0h1m10 0h2m2 0h1m2 0h1m3 0h2m3 0h1m3 0h1m3 0h1m11 0h1m7 0h1m1 0h1m1 0h1m5 0h1m9 0h1m2 0h1" stroke="#00e8ff" stroke-width="2.3" shape-rendering="crispEdges"/>
<path d="M669 135.5m9 0h1m83 0h1m26 0h1m7 0h1m33 0h1m9 0h1m37 0h1m123 0h1m27 0h1m50 0h1m5 0h1M669 137.8m31 0h1m32 0h1m88 0h1m10 0h2m32 0h1m92 0h1m24 0h1m8 0h1m27 0h1m36 0h1m5 0h1" stroke="#6000ff" stroke-width="2.3" shape-rendering="crispEdges"/>
<path d="M669 135.5m3 0h1m1 0h1m5 0h1m1 0h1m1 0h1m11 0h1m11 0h1m2 0h1m2 0h2m7 0h1m1 0h2m1 0h1m7 0h1m8 0h1m1 0h3m7 0h1m1 0h1m1 0h1m4 0h1m3 0h1m4 0h1m2 0h1m3 0h1m12 0h1m10 0h1m2 0h1m1 0h1m2 0h1m1 0h1m8 0h1m4 0h1m3 0h2m2 0h1m4 0h1m1 0h2m3 0h1m2 0h1m2 0h1m2 0h2m2 0h1m13 0h2m1 0h1m2 0h1m2 0h1m3 0h1m4 0h2m2 0h2m1 0h1m1 0h2m4 0h1m1 0h1m5 0h1m4 0h1m11 0h3m2 0h1m7 0h1m14 0h1m5 0h1m4 0h1m3 0h1m2 0h1m1 0h1m7 0h2m7 0h1m4 0h1m5 0h3m3 0h1m4 0h2m6 0h1m2 0h2m1 0h1m2 0h1m1 0h3m9 0h1m4 0h1m1 0h1m1 0h1m5 0h1m10 0h1m1 0h1m4 0h1m4 0h1m1 0h1m1 0h2m6 0h1m3 0h1m2 0h1m3 0h1m1 0h1m1 0h3M669 137.8m10 0h1m5 0h1m2 0h1m3 0h1m1 0h2m13 0h1m2 0h1m2 0h1m13 0h1m1 0h2m1 0h1m1 0h1m2 0h1m13 0h1m4 0h1m1 0h1m6 0h1m7 0h1m1 0h1m6 0h1m3 0h1m5 0h1m2 0h2m3 0h1m3 0h1m2 0h1m1 0h1m1 0h1m3 0h1m3 0h1m2 0h1m12 0h1m2 0h1m1 0h1m12 0h1m4 0h1m1 0h1m13 0h1m9 0h2m6 0h1m5 0h1m12 0h1m4 0h2m1 0h1m6 0h1m5 0h1m13 0h1m4 0h2m1 0h1m8 0h1m3 0h1m1 0h1m17 0h1m6 0h1m3 0h1m2 0h1m14 0h3m9 0h1m3 0h1m4 0h1m7 0h1m1 0h1m6 0h1m3 0h1m1 0h2m7 0h1m1 0h1m1 0h1m2 0h1m3 0h1m3 0h1m2 0h2m1 0h1m5 0h1m8 0h1m1 0h1m4 0h1m5 0h1M669 140.1m23 0h1m2 0h1m6 0h1m8 0h2m27 0h1m11 0h1m1 0h1m4 0h1m11 0h1m9 0h1m1 0h1m12 0h1m13 0h1m13 0h1m10 0h1m10 0h1m10 0h1m3 0h1m18 0h1m9 0h1m8 0h1m3 0h1m5 0h1m51 0h1m6 0h3m1 0h1m11 0h1m4 0h1m15 0h1m7 0h1m2 0h1m3 0h1m7 0h1m8 0h1m9 0h1m5 0h1m18 0h1m3 0h1m18 0h1m9 0h1m7 0h1m1 0h1m3 0h1M669 142.4m7 0h1m90 0h1m8 0h1m8 0h1m15 0h1m30 0h1m18 0h1m6 0h1m143 0h1m33 0h1m56 0h1m6 0h1m9 0h1m8 0h1" stroke="#ff00ff" stroke-width="2.3" shape-rendering="crispEdges"/>
<path d="M669 135.5h1m13 0h1m9 0h1m1 0h1m1 0h1m9 0h1m9 0h1m19 0h1m1 0h1m2 0h1m3 0h1m11 0h1m4 0h1m20 0h2m2 0h1m18 0h1m7 0h1m4 0h1m6 0h2m11 0h1m3 0h1m2 0h1m21 0h1m2 0h1m16 0h1m1 0h1m5 0h1m13 0h1m7 0h3m2 0h2m3 0h1m14 0h1m2 0h1m5 0h1m1 0h1m16 0h1m11 0h1m5 0h1m7 0h1m7 0h1m7 0h1m11 0h1m2 0h1m17 0h1m3 0h1m7 0h1m7 0h1m2 0h1m1 0h1m4 0h1m5 0h1m1 0h1m22 0h2m1 0h1M669 137.8h1m2 0h1m3 0h1m4 0h2m4 0h1m2 0h2m4 0h1m2 0h1m8 0h1m8 0h1m5 0h1m3 0h1m2 0h1m9 0h1m9 0h1m12 0h1m9 0h1m19 0h1m2 0h1m4 0h1m25 0h2m7 0h1m1 0h2m9 0h1m1 0h1m9 0h1m31 0h1m3 0h1m1 0h1m3 0h2m4 0h1m21 0h1m3 0h1m2 0h1m2 0h1m4 0h1m10 0h1m3 0h1m1 0h1m2 0h1m3 0h1m1 0h1m10 0h1m4 0h1m6 0h1m8 0h2m2 0h4m9 0h1m4 0h1m5 0h1m5 0h1m1 0h1m4 0h2m5 0h1m2 0h1m8 0h1m9 0h1m4 0h1m8 0h1m10 0h1m8 0h1m2 0h1m7 0h1" stroke="#0080ff" stroke-width="2.3" shape-rendering="crispEdges"/>
<path d="M669 140.1m3 0h1m20 0h1m10 0h2m7 0h1m1 0h1m2 0h1m26 0h1m7 0h1m3 0h1m14 0h1m1 0h1m4 0h2m18 0h1m5 0h1m3 0h1m4 0h1m5 0h1m8 0h1m4 0h1m2 0h1m6 0h1m4 0h1m2 0h1m2 0h1m4 0h1m17 0h1m4 0h1m2 0h1m4 0h1m1 0h2m3 0h1m6 0h1m2 0h1m2 0h2m5 0h1m4 0h2m3 0h1m3 0h1m7 0h1m6 0h1m2 0h1m7 0h1m16 0h1m6 0h1m2 0h1m7 0h1m10 0h1m5 0h1m11 0h1m4 0h1m1 0h1m3 0h1m1 0h1m13 0h1m5 0h1m17 0h1m1 0h1m4 0h1m3 0h1m2 0h2m3 0h2m14 0h3m1 0h1m3 0h1m1 0h1m1 0h2M669 142.4h4m7 0h1m7 0h1m4 0h1m8 0h1m4 0h1m5 0h1m16 0h1m15 0h1m1 0h2m12 0h1m5 0h1m9 0h2m1 0h1m1 0h1m4 0h2m2 0h1m5 0h2m6 0h3m1 0h1m5 0h1m6 0h1m3 0h1m10 0h1m5 0h1m1 0h1m1 0h1m10 0h1m16 0h2m3 0h1m5 0h2m7 0h1m1 0h1m9 0h1m7 0h1m1 0h1m6 0h2m13 0h1m32 0h1m5 0h2m5 0h2m3 0h1m2 0h1m8 0h1m10 0h2m2 0h1m12 0h1m2 0h1m3 0h1m3 0h1m9 0h1m13 0h1m1 0h1m12 0h1m1 0h1m17 0h1m2 0h1m1 0h1m10 0h1" stroke="#0090ff" stroke-width="2.3" shape-rendering="crispEdges"/>
<path d="M669 142.4m4 0h1m3 0h2m2 0h1m2 0h1m2 0h1m6 0h2m3 0h1m1 0h1m1 0h1m5 0h1m2 0h1m1 0h1m1 0h3m5 0h1m1 0h4m3 0h2m2 0h2m2 0h1m1 0h1m16 0h1m2 0h1m1 0h1m8 0h1m5 0h1m3 0h1m1 0h2m5 0h2m2 0h1m5 0h3m11 0h1m3 0h1m3 0h1m2 0h1m1 0h2m2 0h2m1 0h1m4 0h1m6 0h2m1 0h2m3 0h1m2 0h2m7 0h1m1 0h3m4 0h1m7 0h1m2 0h1m2 0h1m4 0h1m3 0h2m1 0h1m1 0h1m3 0h1m1 0h4m4 0h1m2 0h1m5 0h4m4 0h1m5 0h3m3 0h2m1 0h2m1 0h1m4 0h1m4 0h2m1 0h3m5 0h1m7 0h1m4 0h1m6 0h2m2 0h1m3 0h1m3 0h2m1 0h1m5 0h1m4 0h4m7 0h1m3 0h1m1 0h1m5 0h2m4 0h1m3 0h2m2 0h1m5 0h1m3 0h1m2 0h2m4 0h1m1 0h1m1 0h1m1 0h1m4 0h1m4 0h1m1 0h1m8 0h1m2 0h2m2 0h2m1 0h1m2 0h1M669 144.7h1m7 0h1m8 0h1m1 0h1m3 0h1m14 0h1m5 0h1m13 0h1m1 0h1m6 0h1m2 0h1m9 0h1m3 0h2m6 0h1m2 0h1m11 0h1m6 0h2m1 0h1m12 0h2m3 0h1m1 0h1m1 0h1m1 0h1m10 0h1m3 0h1m17 0h3m8 0h1m9 0h1m4 0h1m7 0h1m7 0h2m6 0h1m2 0h1m11 0h1m9 0h2m2 0h1m6 0h1m11 0h1m1 0h1m1 0h3m5 0h1m3 0h1m4 0h1m3 0h1m26 0h2m1 0h1m1 0h1m2 0h1m11 0h1m5 0h2m23 0h1m5 0h1m1 0h1m2 0h1m2 0h1m5 0h1m2 0h1m10 0h1m13 0h1m1 0h1m5 0h1m2 0h1m1 0h1m1 0h2m1 0h1m6 0h1" stroke="#0828ff" stroke-width="2.3" shape-rendering="crispEdges"/>
<path d="M669 144.7m6 0h1m2 0h1m15 0h1m4 0h1m4 0h1m13 0h2m5 0h1m8 0h1m24 0h1m21 0h1m14 0h1m14 0h1m6 0h1m1 0h1m8 0h1m1 0h1m1 0h1m3 0h1m8 0h2m3 0h3m3 0h1m17 0h2m18 0h1m4 0h1m1 0h1m1 0h1m7 0h3m1 0h1m16 0h2m5 0h1m19 0h1m3 0h1m6 0h1m6 0h1m21 0h1m23 0h1m4 0h1m4 0h1m3 0h1m7 0h1m2 0h1m1 0h1m4 0h1m2 0h1m2 0h1m6 0h1m4 0h2m4 0h1m5 0h1m8 0h1m6 0h1" stroke="#00a0ff" stroke-width="2.3" shape-rendering="crispEdges"/>
<path d="M669 147m9 0h1m19 0h1m15 0h1m6 0h1m6 0h1m29 0h1m2 0h1m10 0h1m2 0h1m8 0h1m5 0h1m3 0h1m3 0h1m1 0h1m1 0h1m21 0h1m4 0h1m11 0h1m2 0h1m6 0h1m7 0h1m1 0h3m2 0h1m5 0h2m4 0h2m11 0h1m25 0h1m33 0h1m5 0h1m10 0h1m5 0h1m6 0h1m1 0h1m10 0h1m4 0h2m10 0h1m6 0h1m13 0h1m10 0h1m9 0h1m7 0h1m4 0h1m8 0h1m4 0h1m3 0h1m2 0h1m15 0h2m1 0h1m3 0h2m2 0h1m3 0h1m1 0h1" stroke="#00ffd0" stroke-width="2.3" shape-rendering="crispEdges"/>
<path d="M669 147m21 0h1m20 0h1m41 0h1m19 0h1m23 0h1m56 0h1m47 0h1m43 0h1m74 0h1m55 0h1m23 0h1" stroke="#0060ff" stroke-width="2.3" shape-rendering="crispEdges"/>
<path d="M169.1 35.4L169.1 167.5" stroke="#3fbf3f" stroke-width="1.8" stroke-dasharray="9 3"/>
<path d="M169.1 179.4L169.1 244.2" stroke="#00a000" stroke-width="2.2" stroke-dasharray="9 3"/>
<path d="M169.1 315.1L169.1 380.9" stroke="#3fbf3f" stroke-width="1.8" stroke-dasharray="9 3"/>
<path d="M169.1 383.4L169.1 449.3" stroke="#3fbf3f" stroke-width="1.8" stroke-dasharray="9 3"/>
<path d="M169.1 451.8L169.1 517.6" stroke="#3fbf3f" stroke-width="1.8" stroke-dasharray="9 3"/>
<path d="M169.1 520.1L169.1 586" stroke="#3fbf3f" stroke-width="1.8" stroke-dasharray="9 3"/>
<path d="M169.1 588.5L169.1 654.3" stroke="#3fbf3f" stroke-width="1.8" stroke-dasharray="9 3"/>
<path d="M169.1 656.8L169.1 722.7" stroke="#3fbf3f" stroke-width="1.8" stroke-dasharray="9 3"/>
<path d="M523 36.4L523 167.5" stroke="#3fbf3f" stroke-width="2" stroke-dasharray="9 3"/>
<path d="M523 179.4L523 244.2" stroke="#3fbf3f" stroke-width="2" stroke-dasharray="9 3"/>
<path d="M523 316.1L523 380.9" stroke="#3fbf3f" stroke-width="2" stroke-dasharray="9 3"/>
<path d="M523 384.4L523 449.3" stroke="#3fbf3f" stroke-width="2" stroke-dasharray="9 3"/>
<path d="M523 452.8L523 517.6" stroke="#3fbf3f" stroke-width="2" stroke-dasharray="9 3"/>
<path d="M523 521.1L523 586" stroke="#3fbf3f" stroke-width="2" stroke-dasharray="9 3"/>
<path d="M523 589.5L523 654.3" stroke="#3fbf3f" stroke-width="2" stroke-dasharray="9 3"/>
<path d="M523 657.8L523 722.7" stroke="#3fbf3f" stroke-width="2" stroke-dasharray="9 3"/>
<path d="M234 36.4L234 169.5" stroke="#aaaaaa" stroke-width="3" stroke-dasharray="10 3"/>
<path d="M441.5 36.4L441.5 169.5" stroke="#aaaaaa" stroke-width="3" stroke-dasharray="10 3"/>
<path d="M332 35.4L332 167.5" stroke="#ff5050" stroke-width="1" stroke-dasharray="2 2"/>
<path d="M351.1 318.1L351.1 380.9" stroke="#33bbff" stroke-width="1.8" stroke-dasharray="1.8 3.4"/>
<path d="M257.5 36.4L257.5 167.5" stroke="#ff0000" stroke-width="1.3" stroke-dasharray="9 3"/>
<path d="M257.5 179.4L257.5 244.2" stroke="#ff0000" stroke-width="1.3" stroke-dasharray="9 3"/>
<path d="M257.5 316.1L257.5 380.9" stroke="#ff0000" stroke-width="1.3" stroke-dasharray="9 3"/>
<path d="M257.5 384.4L257.5 449.3" stroke="#ff0000" stroke-width="1.3" stroke-dasharray="9 3"/>
<path d="M257.5 452.8L257.5 517.6" stroke="#ff0000" stroke-width="1.3" stroke-dasharray="9 3"/>
<path d="M257.5 521.1L257.5 586" stroke="#ff0000" stroke-width="1.3" stroke-dasharray="9 3"/>
<path d="M257.5 589.5L257.5 654.3" stroke="#ff0000" stroke-width="1.3" stroke-dasharray="9 3"/>
<path d="M257.5 657.8L257.5 722.7" stroke="#ff0000" stroke-width="1.3" stroke-dasharray="9 3"/>
<path d="M434.5 36.4L434.5 167.5" stroke="#ff0000" stroke-width="1.3" stroke-dasharray="9 3"/>
<path d="M434.5 179.4L434.5 244.2" stroke="#ff0000" stroke-width="1.3" stroke-dasharray="9 3"/>
<path d="M434.5 316.1L434.5 380.9" stroke="#ff0000" stroke-width="1.3" stroke-dasharray="9 3"/>
<path d="M434.5 384.4L434.5 449.3" stroke="#ff0000" stroke-width="1.3" stroke-dasharray="9 3"/>
<path d="M434.5 452.8L434.5 517.6" stroke="#ff0000" stroke-width="1.3" stroke-dasharray="9 3"/>
<path d="M434.5 521.1L434.5 586" stroke="#ff0000" stroke-width="1.3" stroke-dasharray="9 3"/>
<path d="M434.5 589.5L434.5 654.3" stroke="#ff0000" stroke-width="1.3" stroke-dasharray="9 3"/>
<path d="M434.5 657.8L434.5 722.7" stroke="#ff0000" stroke-width="1.3" stroke-dasharray="9 3"/>
<path d="M427.3 180.4L427.3 244.2" stroke="#0000ff" stroke-width="1.4" stroke-dasharray="1.6 3.6"/>
<path d="M427.3 317.1L427.3 380.9" stroke="#0000ff" stroke-width="1.4" stroke-dasharray="1.6 3.6"/>
<path d="M427.3 385.4L427.3 449.3" stroke="#0000ff" stroke-width="1.4" stroke-dasharray="1.6 3.6"/>
<path d="M427.3 453.8L427.3 517.6" stroke="#0000ff" stroke-width="1.4" stroke-dasharray="1.6 3.6"/>
<path d="M427.3 522.1L427.3 586" stroke="#0000ff" stroke-width="1.4" stroke-dasharray="1.6 3.6"/>
<path d="M427.3 590.5L427.3 654.3" stroke="#0000ff" stroke-width="1.4" stroke-dasharray="1.6 3.6"/>
<path d="M427.3 658.8L427.3 722.7" stroke="#0000ff" stroke-width="1.4" stroke-dasharray="1.6 3.6"/>
<path d="M473 36.4L473 167.5" stroke="#ff00ff" stroke-width="2" stroke-dasharray="2 3"/>
<path d="M473 179.4L473 244.2" stroke="#ff00ff" stroke-width="2" stroke-dasharray="2 3"/>
<path d="M473 316.1L473 380.9" stroke="#ff00ff" stroke-width="2" stroke-dasharray="2 3"/>
<path d="M473 384.4L473 449.3" stroke="#ff00ff" stroke-width="2" stroke-dasharray="2 3"/>
<path d="M473 452.8L473 517.6" stroke="#ff00ff" stroke-width="2" stroke-dasharray="2 3"/>
<path d="M473 521.1L473 586" stroke="#ff00ff" stroke-width="2" stroke-dasharray="2 3"/>
<path d="M473 589.5L473 654.3" stroke="#ff00ff" stroke-width="2" stroke-dasharray="2 3"/>
<path d="M473 657.8L473 722.7" stroke="#ff00ff" stroke-width="2" stroke-dasharray="2 3"/>
<path d="M765.7 47.8L765.7 115.1" stroke="#3fbf3f" stroke-width="1.8" stroke-dasharray="9 3"/>
<path d="M765.7 195.5L765.7 262.8" stroke="#3fbf3f" stroke-width="1.8" stroke-dasharray="9 3"/>
<path d="M765.7 269.3L765.7 336.7" stroke="#3fbf3f" stroke-width="1.8" stroke-dasharray="9 3"/>
<path d="M765.7 343.2L765.7 410.5" stroke="#3fbf3f" stroke-width="1.8" stroke-dasharray="9 3"/>
<path d="M765.7 417L765.7 484.3" stroke="#3fbf3f" stroke-width="1.8" stroke-dasharray="9 3"/>
<path d="M765.7 490.8L765.7 558.2" stroke="#3fbf3f" stroke-width="1.8" stroke-dasharray="9 3"/>
<path d="M765.7 564.7L765.7 632" stroke="#3fbf3f" stroke-width="1.8" stroke-dasharray="9 3"/>
<path d="M765.7 638.5L765.7 705.9" stroke="#3fbf3f" stroke-width="1.8" stroke-dasharray="9 3"/>
<path d="M1120.1 44.8L1120.1 115.1" stroke="#3fbf3f" stroke-width="2" stroke-dasharray="9 3"/>
<path d="M1120.1 192.5L1120.1 262.8" stroke="#3fbf3f" stroke-width="2" stroke-dasharray="9 3"/>
<path d="M1120.1 266.3L1120.1 336.7" stroke="#3fbf3f" stroke-width="2" stroke-dasharray="9 3"/>
<path d="M1120.1 340.2L1120.1 410.5" stroke="#3fbf3f" stroke-width="2" stroke-dasharray="9 3"/>
<path d="M1120.1 414L1120.1 484.3" stroke="#3fbf3f" stroke-width="2" stroke-dasharray="9 3"/>
<path d="M1120.1 487.8L1120.1 558.2" stroke="#3fbf3f" stroke-width="2" stroke-dasharray="9 3"/>
<path d="M1120.1 561.7L1120.1 632" stroke="#3fbf3f" stroke-width="2" stroke-dasharray="9 3"/>
<path d="M1120.1 635.5L1120.1 705.9" stroke="#3fbf3f" stroke-width="2" stroke-dasharray="9 3"/>
<path d="M854 47.8L854 115.1" stroke="#ff0000" stroke-width="1.3" stroke-dasharray="9 3"/>
<path d="M854 195.5L854 262.8" stroke="#ff0000" stroke-width="1.3" stroke-dasharray="9 3"/>
<path d="M854 269.3L854 336.7" stroke="#ff0000" stroke-width="1.3" stroke-dasharray="9 3"/>
<path d="M854 343.2L854 410.5" stroke="#ff0000" stroke-width="1.3" stroke-dasharray="9 3"/>
<path d="M854 417L854 484.3" stroke="#ff0000" stroke-width="1.3" stroke-dasharray="9 3"/>
<path d="M854 490.8L854 558.2" stroke="#ff0000" stroke-width="1.3" stroke-dasharray="9 3"/>
<path d="M854 564.7L854 632" stroke="#ff0000" stroke-width="1.3" stroke-dasharray="9 3"/>
<path d="M854 638.5L854 705.9" stroke="#ff0000" stroke-width="1.3" stroke-dasharray="9 3"/>
<path d="M1031.5 47.8L1031.5 115.1" stroke="#ff0000" stroke-width="1.3" stroke-dasharray="9 3"/>
<path d="M1031.5 195.5L1031.5 262.8" stroke="#ff0000" stroke-width="1.3" stroke-dasharray="9 3"/>
<path d="M1031.5 269.3L1031.5 336.7" stroke="#ff0000" stroke-width="1.3" stroke-dasharray="9 3"/>
<path d="M1031.5 343.2L1031.5 410.5" stroke="#ff0000" stroke-width="1.3" stroke-dasharray="9 3"/>
<path d="M1031.5 417L1031.5 484.3" stroke="#ff0000" stroke-width="1.3" stroke-dasharray="9 3"/>
<path d="M1031.5 490.8L1031.5 558.2" stroke="#ff0000" stroke-width="1.3" stroke-dasharray="9 3"/>
<path d="M1031.5 564.7L1031.5 632" stroke="#ff0000" stroke-width="1.3" stroke-dasharray="9 3"/>
<path d="M1031.5 638.5L1031.5 705.9" stroke="#ff0000" stroke-width="1.3" stroke-dasharray="9 3"/>
<path d="M1024.3 45.8L1024.3 115.1" stroke="#0000ff" stroke-width="1.4" stroke-dasharray="1.6 3.6"/>
<path d="M1024.3 193.5L1024.3 262.8" stroke="#0000ff" stroke-width="1.4" stroke-dasharray="1.6 3.6"/>
<path d="M1024.3 267.3L1024.3 336.7" stroke="#0000ff" stroke-width="1.4" stroke-dasharray="1.6 3.6"/>
<path d="M1024.3 341.2L1024.3 410.5" stroke="#0000ff" stroke-width="1.4" stroke-dasharray="1.6 3.6"/>
<path d="M1024.3 415L1024.3 484.3" stroke="#0000ff" stroke-width="1.4" stroke-dasharray="1.6 3.6"/>
<path d="M1024.3 488.8L1024.3 558.2" stroke="#0000ff" stroke-width="1.4" stroke-dasharray="1.6 3.6"/>
<path d="M1024.3 562.7L1024.3 632" stroke="#0000ff" stroke-width="1.4" stroke-dasharray="1.6 3.6"/>
<path d="M1024.3 636.5L1024.3 705.9" stroke="#0000ff" stroke-width="1.4" stroke-dasharray="1.6 3.6"/>
<path d="M1069.8 45.8L1069.8 115.1" stroke="#ff00ff" stroke-width="2" stroke-dasharray="2 3"/>
<path d="M1069.8 193.5L1069.8 262.8" stroke="#ff00ff" stroke-width="2" stroke-dasharray="2 3"/>
<path d="M1069.8 267.3L1069.8 336.7" stroke="#ff00ff" stroke-width="2" stroke-dasharray="2 3"/>
<path d="M1069.8 341.2L1069.8 410.5" stroke="#ff00ff" stroke-width="2" stroke-dasharray="2 3"/>
<path d="M1069.8 415L1069.8 484.3" stroke="#ff00ff" stroke-width="2" stroke-dasharray="2 3"/>
<path d="M1069.8 488.8L1069.8 558.2" stroke="#ff00ff" stroke-width="2" stroke-dasharray="2 3"/>
<path d="M1069.8 562.7L1069.8 632" stroke="#ff00ff" stroke-width="2" stroke-dasharray="2 3"/>
<path d="M1069.8 636.5L1069.8 705.9" stroke="#ff00ff" stroke-width="2" stroke-dasharray="2 3"/>
<path d="M71.5 99.7L525.5 99.7" stroke="#8a8aff" stroke-width="1.8" stroke-dasharray="5 2.5"/>
<path d="M71.5 102.3L525.5 102.3" stroke="#000" stroke-width="1.2" stroke-dasharray="4.5 2.5"/>
<path d="M72 51.3L73.1 51L74.2 50.8L75.3 53.5L76.4 53.8L77.5 53.2L78.6 51.8L79.7 50.7L80.8 48L81.9 47.2L83 47.1L84.1 46.6L85.2 47.5L86.3 47.2L87.4 45.5L88.5 45.3L89.6 47.6L90.7 47.1L91.8 48.6L92.9 51L94 52.1L95.1 51.9L96.2 52.2L97.3 53.4L98.4 51.5L99.5 51.6L100.6 54.2L101.7 55.6L102.8 56.4L103.9 58L105 57.7L106.1 57.9L107.2 58.7L108.3 58.2L109.4 61.2L110.5 59.6L111.6 59.9L112.7 58.8L113.8 58.3L114.9 57.3L116 57.8L117.1 55.1L118.2 55.7L119.3 55.3L120.4 56.2L121.5 54.6L122.6 56.6L123.7 56.2L124.8 54.5L125.9 53.6L127 52L128.1 52.5L129.2 54.7L130.3 55.1L131.4 56.4L132.5 57.6L133.6 58.1L134.7 57.8L135.8 59.2L136.9 58.7L138 57.9L139.1 58L140.2 57.7L141.3 58.5L142.4 55.1L143.5 56.9L144.6 54.5L145.7 54.2L146.8 53.2L147.9 58L149 63.6L150.1 68.4L151.2 74.7L152.3 78.8L153.4 84.9L154.5 85.5L155.6 86.4L156.7 86L157.8 86.8L158.9 87.5L160 87.2L161.1 86.9L162.2 83.4L163.3 80.5L164.4 80L165.5 76.4L166.6 79L167.7 82.9L168.8 84.6L169.9 85.5L171 84.7L172.1 85L173.2 87.3L174.3 87L175.4 86.3L176.5 85.3L177.6 83L178.7 82L179.8 82.4L180.9 81.3L182 79.3L183.1 78.2L184.2 76.9L185.3 76L186.4 74.2L187.5 73.3L188.6 70.8L189.7 66.1L190.8 63.6L191.9 60.1L193 60.7L194.1 57.7L195.2 57.6L196.3 55.4L197.4 57.6L198.5 55.8L199.6 54.1L200.7 49.8L201.8 49.9L202.9 51.6L204 51.9L205.1 53.4L206.2 55.6L207.3 57L208.4 59.1L209.5 61L210.6 61.2L211.7 60.4L212.8 57.4L213.9 57.5L215 57.1L216.1 57.1L217.2 62L218.3 64.3L219.4 64.1L220.5 65L221.6 64.6L222.7 57.6L223.8 51.8L224.9 46.5L226 43.5L227.1 43.5L228.2 40.6L229.3 41L230.4 41.7L231.5 42.6L232.6 43.5L233.7 39.8L234.8 40.2L235.9 41.7L237 45.7L238.1 46.9L239.2 46.6L240.3 47.2L241.4 47L242.5 48.9L243.6 50.4L244.7 47.6L245.8 50.1L246.9 50.6L248 50.6L249.1 50.8L250.2 49L251.3 51.1L252.4 48.3L253.5 49.2L254.6 49.1L255.7 46.7L256.8 46.6L257.9 47.3L259 54.5L260.1 60.9L261.2 61.3L262.3 60.6L263.4 61.3L264.5 61.9L265.6 61.1L266.7 57.8L267.8 61.5L268.9 65.7L270 67L271.1 68.5L272.2 68.6L273.3 66.6L274.4 70.1L275.5 69.5L276.6 69.2L277.7 70.9L278.8 70.9L279.9 71.6L281 70.9L282.1 72.7L283.2 68.9L284.3 66.6L285.4 65L286.5 63.3L287.6 62.1L288.7 59.2L289.8 60.6L290.9 62.2L292 58.9L293.1 61L294.2 62.4L295.3 63.5L296.4 63L297.5 64.7L298.6 63.1L299.7 61.7L300.8 63.7L301.9 62.7L303 60.2L304.1 62.5L305.2 62.5L306.3 64.4L307.4 64.8L308.5 63.5L309.6 62.8L310.7 62.4L311.8 59.5L312.9 58.1L314 56.6L315.1 57.7L316.2 54.5L317.3 56.5L318.4 56.2L319.5 55.4L320.6 54.4L321.7 53.1L322.8 53.5L323.9 52.3L325 55.3L326.1 53.2L327.2 54.2L328.3 55.2L329.4 53.7L330.5 54.2L331.6 56.1L332.7 59L333.8 59.9L334.9 62.4L336 64.9L337.1 62.9L338.2 60.9L339.3 60.1L340.4 63.6L341.5 64.1L342.6 63.9L343.7 62.8L344.8 61.6L345.9 63.5L347 68.9L348.1 71.5L349.2 74.4L350.3 66.9L351.4 59.1L352.5 50L353.6 57.2L354.7 63.4L355.8 68.2L356.9 74.6L358 77.7L359.1 79.8L360.2 85.4L361.3 83.2L362.4 78.9L363.5 78.1L364.6 73L365.7 69.2L366.8 67.2L367.9 65.5L369 61.8L370.1 57.9L371.2 57.4L372.3 56.1L373.4 58.5L374.5 59L375.6 56.3L376.7 55.6L377.8 52.3L378.9 50.9L380 51.2L381.1 51.4L382.2 51.7L383.3 53L384.4 51L385.5 50.6L386.6 49.6L387.7 49L388.8 45.7L389.9 45L391 44.4L392.1 42.5L393.2 46.8L394.3 46.1L395.4 48.3L396.5 54.6L397.6 64.5L398.7 73L399.8 73.6L400.9 72L402 69.3L403.1 70.9L404.2 74.9L405.3 77.2L406.4 79.3L407.5 82L408.6 85.4L409.7 91L410.8 93.7L411.9 93.2L413 92.7L414.1 94.2L415.2 94L416.3 94.5L417.4 96.1L418.5 97L419.6 96.3L420.7 93.7L421.8 84.6L422.9 81.5L424 81.1L425.1 80.2L426.2 83.9L427.3 82.7L428.4 78L429.5 71.4L430.6 67.1L431.7 63.2L432.8 59.4L433.9 57.2L435 55.8L436.1 56.2L437.2 56.4L438.3 56L439.4 57.6L440.5 57.1L441.6 55.1L442.7 52.5L443.8 51.9L444.9 48.6L446 46.7L447.1 45.1L448.2 43.2L449.3 44.5L450.4 51.4L451.5 60.3L452.6 62L453.7 68.6L454.8 73.9L455.9 72.4L457 70.8L458.1 68.4L459.2 65.7L460.3 66.1L461.4 65.2L462.5 66L463.6 64.5L464.7 66.2L465.8 68.9L466.9 71.3L468 73.4L469.1 77.9L470.2 72.4L471.3 65.8L472.4 64.3L473.5 62.7L474.6 62.2L475.7 63L476.8 60L477.9 59.7L479 60.7L480.1 58.6L481.2 57.2L482.3 56.5L483.4 54.4L484.5 56.4L485.6 58.8L486.7 61.6L487.8 62.1L488.9 62.2L490 63.2L491.1 62.6L492.2 61.5L493.3 61.1L494.4 62.9L495.5 65.3L496.6 65.5L497.7 65.3L498.8 65.7L499.9 65.1L501 62.9L502.1 63.7L503.2 62.6L504.3 60.8L505.4 59.9L506.5 59.5L507.6 62L508.7 62.5L509.8 62.2L510.9 61.6L512 64.3L513.1 64.8L514.2 67.6L515.3 64.9L516.4 69.4L517.5 69.4L518.6 68.3L519.7 65.5L520.8 65.2L521.9 64.4L523 63.4L524.1 64.3" stroke="#777" stroke-width="1" stroke-linejoin="round"/>
<path d="M72 57.5L73.1 56.7L74.2 58.5L75.3 59.5L76.4 58.5L77.5 57L78.6 57.9L79.7 60.3L80.8 57.8L81.9 58.3L83 58.6L84.1 55.3L85.2 57.4L86.3 54.9L87.4 55.4L88.5 55.6L89.6 58.6L90.7 57.1L91.8 58.7L92.9 60.1L94 58.7L95.1 57.1L96.2 59.8L97.3 59.5L98.4 62.5L99.5 62.4L100.6 60.1L101.7 61.8L102.8 61.5L103.9 60.5L105 61.6L106.1 62L107.2 62.8L108.3 65.1L109.4 63.7L110.5 65.7L111.6 66.5L112.7 68L113.8 68.3L114.9 65.1L116 67.9L117.1 69L118.2 65.4L119.3 61.2L120.4 63.6L121.5 63L122.6 62.1L123.7 62.2L124.8 64.2L125.9 63.6L127 64.6L128.1 65.7L129.2 65.6L130.3 65.8L131.4 64.1L132.5 66.3L133.6 68.2L134.7 66.7L135.8 64.4L136.9 66.4L138 66.4L139.1 66.7L140.2 67.3L141.3 64.7L142.4 66.1L143.5 65.3L144.6 65.9L145.7 63.8L146.8 64.2L147.9 74L149 77.7L150.1 80L151.2 83.3L152.3 89.2L153.4 85L154.5 80.2L155.6 79.3L156.7 80.9L157.8 79.9L158.9 84L160 83.9L161.1 91.2L162.2 89.2L163.3 86.3L164.4 85.1L165.5 82.5L166.6 85.9L167.7 85.1L168.8 87.8L169.9 88.4L171 87.8L172.1 86.4L173.2 87.1L174.3 86.5L175.4 84.1L176.5 85.2L177.6 82.9L178.7 82.8L179.8 80L180.9 81.1L182 82.9L183.1 79.8L184.2 82.1L185.3 79.1L186.4 75.2L187.5 73.5L188.6 73.8L189.7 71.5L190.8 72.1L191.9 69.5L193 65.2L194.1 63.1L195.2 62.9L196.3 62.8L197.4 58.7L198.5 61.3L199.6 58.9L200.7 52.2L201.8 48.3L202.9 51.8L204 54.6L205.1 53.6L206.2 55.8L207.3 59L208.4 57.8L209.5 60L210.6 59.2L211.7 62.4L212.8 59.6L213.9 61L215 59.3L216.1 59.8L217.2 59L218.3 58.6L219.4 59.6L220.5 58.4L221.6 69.3L222.7 62L223.8 56.3L224.9 49.5L226 46.4L227.1 47.3L228.2 52.3L229.3 54.3L230.4 52.7L231.5 53.6L232.6 50.2L233.7 46L234.8 45.8L235.9 51.9L237 48.6L238.1 47.4L239.2 50.8L240.3 49.4L241.4 52L242.5 53.8L243.6 54.2L244.7 57.7L245.8 56.4L246.9 56.1L248 56.7L249.1 58.8L250.2 55.9L251.3 56.6L252.4 57.2L253.5 66.2L254.6 64.8L255.7 58.5L256.8 56.7L257.9 59L259 64.7L260.1 67.7L261.2 69.2L262.3 71L263.4 66.8L264.5 68.5L265.6 67.3L266.7 68.9L267.8 69.8L268.9 76.2L270 75.4L271.1 71.7L272.2 71.8L273.3 80.7L274.4 77.5L275.5 76.2L276.6 75.9L277.7 75.7L278.8 76.6L279.9 76.2L281 74.9L282.1 74.6L283.2 74.2L284.3 77.4L285.4 80.1L286.5 76.7L287.6 73L288.7 72.1L289.8 68.9L290.9 73.7L292 76.3L293.1 78.1L294.2 76.3L295.3 75.1L296.4 78.2L297.5 77.4L298.6 73.3L299.7 74.6L300.8 73.9L301.9 75.5L303 77.1L304.1 74.3L305.2 75.9L306.3 79L307.4 76.8L308.5 75.9L309.6 78.9L310.7 82.4L311.8 79.4L312.9 79L314 81.3L315.1 80.7L316.2 82.7L317.3 87.2L318.4 87.6L319.5 88.4L320.6 89.6L321.7 90.4L322.8 90.9L323.9 91.4L325 90.2L326.1 93.8L327.2 94L328.3 93.1L329.4 92.9L330.5 96.9L331.6 96.3L332.7 97.8L333.8 102.2L334.9 101.7L336 99.9L337.1 96.6L338.2 98.2L339.3 98.5L340.4 98.5L341.5 98L342.6 97.9L343.7 100.2L344.8 96.3L345.9 93.6L347 82.7L348.1 79.2L349.2 75L350.3 71.2L351.4 68.6L352.5 91.2L353.6 88.4L354.7 82.3L355.8 86.2L356.9 85.1L358 84.1L359.1 81.7L360.2 80.3L361.3 77.7L362.4 72.5L363.5 73.2L364.6 75.8L365.7 74.7L366.8 74.1L367.9 74L369 70L370.1 72.1L371.2 70.2L372.3 62.9L373.4 59.4L374.5 65.5L375.6 75.6L376.7 78.5L377.8 78.9L378.9 80.3L380 83.4L381.1 87.1L382.2 90.2L383.3 92.9L384.4 99.3L385.5 98.5L386.6 102.8L387.7 106.1L388.8 107.5L389.9 109.8L391 113.9L392.1 121.1L393.2 127.1L394.3 129.2L395.4 120.5L396.5 118.1L397.6 119.2L398.7 119.6L399.8 114.1L400.9 113.1L402 107.3L403.1 104.2L404.2 101.7L405.3 96.1L406.4 91.2L407.5 104.8L408.6 99.3L409.7 102.2L410.8 102.5L411.9 100L413 99.6L414.1 96.5L415.2 97.1L416.3 98.1L417.4 96.9L418.5 103.1L419.6 103.3L420.7 106.5L421.8 97.7L422.9 90.9L424 80.1L425.1 94.5L426.2 111.9L427.3 118.2L428.4 121.9L429.5 125.9L430.6 128.6L431.7 133.8L432.8 154.7L433.9 151.1L435 148L436.1 145.6L437.2 148.9L438.3 150.1L439.4 152.1L440.5 149.5L441.6 152.5L442.7 149.2L443.8 147.2L444.9 146.3L446 145.4L447.1 153.1L448.2 157.6L449.3 156.1L450.4 147.4L451.5 141.5L452.6 139.3L453.7 132.3L454.8 130.3L455.9 126.3L457 116.8L458.1 101.8L459.2 104.7L460.3 107.5L461.4 112.4L462.5 117.4L463.6 112.6L464.7 111.6L465.8 112.8L466.9 113.7L468 115.8L469.1 107.5L470.2 95.6L471.3 103.1L472.4 124.8L473.5 123.4L474.6 124.8L475.7 129.2L476.8 131.4L477.9 129.6L479 133.2L480.1 131.5L481.2 131L482.3 136.8L483.4 145.2L484.5 141.2L485.6 140.2L486.7 137.9L487.8 139.8L488.9 138.4L490 138.6L491.1 135.9L492.2 131.9L493.3 130L494.4 129.6L495.5 128.9L496.6 129.8L497.7 130.2L498.8 125.7L499.9 125.9L501 121L502.1 119.7L503.2 122.3L504.3 120.3L505.4 118.3L506.5 114.2L507.6 112.2L508.7 106.2L509.8 106.6L510.9 107.9L512 101.9L513.1 101.6L514.2 96L515.3 94.8L516.4 88.9L517.5 88.5L518.6 85L519.7 86.6L520.8 90.7L521.9 91.8L523 90.8L524.1 85.5" stroke="#3a3aff" stroke-width="0.9" stroke-linejoin="round"/>
<path d="M72 57L73 57.1L74 57.1L75 57.1L76 57.1L77 57.2L78 57.2L79 57.2L80 57.3L81 57.3L82 57.3L83 57.3L84 57.4L85 57.4L86 57.4L87 57.4L88 57.5L89 57.5L90 57.5L91 57.7L92 57.9L93 58.1L94 58.4L95 58.8L96 59.1L97 59.4L98 59.8L99 60.2L100 60.6L101 61L102 61.4L103 61.9L104 62.3L105 62.8L106 63.3L107 63.7L108 64L109 64.2L110 64.4L111 64.5L112 64.6L113 64.7L114 64.7L115 64.8L116 64.9L117 64.9L118 64.9L119 64.9L120 64.8L121 64.8L122 64.7L123 64.7L124 64.6L125 64.6L126 64.5L127 64.4L128 64.3L129 64.2L130 64.1L131 64L132 63.9L133 63.9L134 63.8L135 63.8L136 63.8L137 63.8L138 63.8L139 63.8L140 63.8L141 63.9L142 64.3L143 64.8L144 65.5L145 66.3L146 67.2L147 68.3L148 69.4L149 70.7L150 72.1L151 73.4L152 74.8L153 76.1L154 77.3L155 78.5L156 79.6L157 80.6L158 81.7L159 82.7L160 83.5L161 84.2L162 84.7L163 85L164 85.3L165 85.4L166 85.5L167 85.5L168 85.5L169 85.4L170 85.3L171 85.2L172 85.1L173 84.9L174 84.6L175 84.3L176 83.9L177 83.4L178 82.9L179 82.4L180 81.9L181 81.3L182 80.6L183 79.6L184 78.6L185 77.3L186 76L187 74.6L188 73.2L189 71.7L190 70.2L191 68.7L192 67.2L193 65.8L194 64.5L195 63.3L196 62.2L197 61.3L198 60.4L199 59.8L200 59.3L201 59L202 58.9L203 58.9L204 58.8L205 58.9L206 59.1L207 59.6L208 60.1L209 60.9L210 61.6L211 62.3L212 62.7L213 62.9L214 62.7L215 62.3L216 61.6L217 60.9L218 60.2L219 59.5L220 58.8L221 58.1L222 57.3L223 56.6L224 55.9L225 55.1L226 54.4L227 53.7L228 53L229 52.5L230 52L231 51.6L232 51.1L233 50.7L234 50.5L235 50.4L236 50.5L237 50.8L238 51.2L239 51.7L240 52.2L241 52.7L242 53.3L243 54L244 54.6L245 55.2L246 55.7L247 56.1L248 56.5L249 56.8L250 57.2L251 57.6L252 58.1L253 58.5L254 59L255 59.5L256 60L257 60.5L258 61.2L259 61.8L260 62.6L261 63.4L262 64.3L263 65.2L264 66.1L265 67L266 67.9L267 68.8L268 69.8L269 70.7L270 71.7L271 72.5L272 73.2L273 73.7L274 74.2L275 74.5L276 74.8L277 75L278 75.2L279 75.3L280 75.3L281 75.1L282 74.9L283 74.7L284 74.5L285 74.4L286 74.3L287 74.2L288 74.1L289 74.1L290 74L291 74L292 74L293 74.1L294 74.3L295 74.5L296 74.7L297 74.9L298 75.1L299 75.3L300 75.4L301 75.6L302 75.8L303 76.1L304 76.4L305 76.7L306 77L307 77.3L308 77.7L309 78.1L310 78.7L311 79.3L312 80L313 80.7L314 81.5L315 82.3L316 83.2L317 84.3L318 85.4L319 86.6L320 87.9L321 89.1L322 90.3L323 91.4L324 92.4L325 93.4L326 94.2L327 95.1L328 96L329 96.7L330 97.4L331 98.1L332 98.6L333 98.9L334 99.2L335 99.2L336 99.2L337 99L338 98.7L339 98.3L340 97.7L341 96.9L342 95.9L343 94.8L344 93.7L345 92.6L346 91.6L347 90.7L348 89.8L349 88.9L350 88L351 87.1L352 86.1L353 85.1L354 84L355 82.9L356 81.7L357 80.6L358 79.5L359 78.3L360 77.2L361 76L362 74.9L363 74L364 73.2L365 72.6L366 72.1L367 71.8L368 71.4L369 71.2L370 71.1L371 71.3L372 71.7L373 72.3L374 73.2L375 74.4L376 76L377 77.9L378 80.1L379 82.5L380 85L381 87.7L382 90.5L383 93.5L384 96.4L385 99.2L386 101.9L387 104.4L388 106.8L389 109L390 111L391 112.8L392 114.3L393 115.6L394 116.6L395 117.2L396 117.4L397 117.2L398 116.6L399 115.8L400 114.8L401 113.8L402 112.7L403 111.5L404 110.3L405 109L406 107.8L407 106.5L408 105.3L409 104L410 102.8L411 101.5L412 100.3L413 99.2L414 98.2L415 97.6L416 97.6L417 98.1L418 99L419 100.4L420 102.1L421 103.9L422 105.8L423 107.8L424 110L425 112.1L426 114.3L427 116.6L428 119.1L429 121.8L430 124.7L431 127.7L432 130.7L433 133.7L434 136.7L435 139.5L436 142L437 144.3L438 146.2L439 147.6L440 148.6L441 149.4L442 149.5L443 149.3L444 148.7L445 147.7L446 146.3L447 144.7L448 143L449 141L450 139L451 137L452 135L453 133L454 131L455 129L456 127L457 125L458 123L459 121L460 119.1L461 117.4L462 115.9L463 114.7L464 114L465 113.8L466 113.9L467 114.5L468 115.5L469 116.7L470 118L471 119.4L472 120.9L473 122.3L474 123.6L475 124.9L476 126L477 127.2L478 128.5L479 129.9L480 131.3L481 132.8L482 134.3L483 135.8L484 136.9L485 137.7L486 138.2L487 138.2L488 137.9L489 137.5L490 136.8L491 136.1L492 135.1L493 134L494 132.9L495 131.8L496 130.5L497 129.3L498 127.9L499 126.5L500 125L501 123.5L502 121.9L503 120.3L504 118.6L505 116.7L506 114.8L507 112.8L508 110.8L509 108.8L510 106.9L511 105L512 103.1L513 101.2L514 99.5L515 97.8L516 96.3L517 95L518 93.8L519 92.6L520 91.5L521 90.5L522 89.6L523 88.7L524 88.3L525 87.9" stroke="#0000f0" stroke-width="3" stroke-linejoin="round"/>
<path d="M71.5 211L525.5 211" stroke="#222" stroke-width="1.5" stroke-dasharray="4.5 2.6"/>
<path d="M72 184.6L72.8 185.2L73.6 184.8L74.4 186.2L75.2 184.6L76 186.3L76.8 187.7L77.6 186.9L78.4 188.3L79.2 186.9L80 187.2L80.8 186.6L81.6 187L82.4 187.1L83.2 185.9L84 184.8L84.8 184.3L85.6 184.4L86.4 186.4L87.2 185.7L88 185.9L88.8 185.3L89.6 184.4L90.4 184.5L91.2 185.3L92 185.3L92.8 185.4L93.6 186L94.4 186.9L95.2 186.1L96 187.1L96.8 187.5L97.6 187.9L98.4 187.7L99.2 187.3L100 186.9L100.8 188.5L101.6 189L102.4 189.3L103.2 189.3L104 189.8L104.8 190.3L105.6 190L106.4 189.6L107.2 192.3L108 191.5L108.8 190.5L109.6 190L110.4 189.8L111.2 189L112 189.7L112.8 192.2L113.6 193.1L114.4 195L115.2 194.2L116 193.9L116.8 191.2L117.6 193L118.4 190.9L119.2 190L120 190.9L120.8 190.3L121.6 189.5L122.4 187.3L123.2 188.1L124 187.3L124.8 186L125.6 187.2L126.4 189.1L127.2 190.4L128 189.3L128.8 189.1L129.6 187.4L130.4 187.1L131.2 188.2L132 188.1L132.8 189.7L133.6 191.5L134.4 189.1L135.2 190.8L136 189.4L136.8 190L137.6 189.4L138.4 187.8L139.2 187.9L140 187.8L140.8 188.6L141.6 188.3L142.4 188L143.2 187.5L144 187L144.8 186.1L145.6 187.5L146.4 187.8L147.2 186.8L148 188L148.8 189.7L149.6 192.6L150.4 194.8L151.2 196.3L152 197.8L152.8 199.2L153.6 202.6L154.4 202.8L155.2 202.2L156 201.8L156.8 200.8L157.6 201.5L158.4 202.3L159.2 201.8L160 203.3L160.8 203.2L161.6 204.3L162.4 202.4L163.2 200.4L164 200.7L164.8 199.1L165.6 198.8L166.4 197.7L167.2 199.7L168 200.6L168.8 201.7L169.6 202.5L170.4 202L171.2 203.2L172 203L172.8 203L173.6 203L174.4 203.2L175.2 201.9L176 201.1L176.8 200.9L177.6 201.3L178.4 201.1L179.2 201.7L180 201.1L180.8 201.7L181.6 200.5L182.4 199.9L183.2 199.9L184 198.7L184.8 198.3L185.6 198.1L186.4 194.5L187.2 194.2L188 193L188.8 193.1L189.6 191.7L190.4 190L191.2 189L192 190.5L192.8 190.9L193.6 189.3L194.4 190L195.2 189.2L196 190L196.8 187.4L197.6 186.8L198.4 185.9L199.2 185L200 184.6L200.8 183.5L201.6 181.4L202.4 182.3L203.2 183.9L204 184.7L204.8 185.8L205.6 186.1L206.4 185.1L207.2 186.3L208 187.7L208.8 187.8L209.6 190.3L210.4 190.4L211.2 190.3L212 189.8L212.8 190.1L213.6 191.1L214.4 189.8L215.2 187.1L216 186.5L216.8 187.6L217.6 190.4L218.4 192.4L219.2 193L220 192.3L220.8 193L221.6 194.4L222.4 191.4L223.2 188.7L224 186.6L224.8 183L225.6 182.5L226.4 182.5L227.2 181.9L228 180.8L228.8 178.8L229.6 178.5L230.4 178.8L231.2 180.8L232 180.1L232.8 181.5L233.6 182.5L234.4 181.8L235.2 182.9L236 183.6L236.8 184.9L237.6 183.2L238.4 184.2L239.2 183.4L240 182.8L240.8 182.7L241.6 182.5L242.4 182.5L243.2 181.7L244 183.8L244.8 183.6L245.6 183.8L246.4 185.3L247.2 186.4L248 186.1L248.8 186.7L249.6 188L250.4 187.8L251.2 189.3L252 191.3L252.8 189.8L253.6 188.7L254.4 186.5L255.2 185.6L256 183.4L256.8 184.2L257.6 182.8L258.4 184.7L259.2 185.3L260 186.7L260.8 188.1L261.6 190.7L262.4 190.8L263.2 192L264 192.5L264.8 189.8L265.6 189.6L266.4 189.4L267.2 188.4L268 192.4L268.8 196.3L269.6 197.7L270.4 198.1L271.2 197.2L272 199.4L272.8 197.8L273.6 197.5L274.4 197.4L275.2 198.3L276 196.8L276.8 197.5L277.6 195.9L278.4 196.9L279.2 196.8L280 196.6L280.8 197.5L281.6 195.5L282.4 196.4L283.2 197.1L284 196.5L284.8 194.4L285.6 195.9L286.4 195.3L287.2 194.6L288 192.8L288.8 192.4L289.6 191.5L290.4 192.4L291.2 192L292 194.1L292.8 194.3L293.6 194.9L294.4 196.4L295.2 195.7L296 195.5L296.8 197.3L297.6 198.7L298.4 197.5L299.2 197.6L300 196.2L300.8 196.3L301.6 198.2L302.4 198L303.2 197.6L304 198.8L304.8 198.7L305.6 198.8L306.4 199.1L307.2 199L308 199.1L308.8 200.5L309.6 198.9L310.4 199.8L311.2 197.3L312 196.8L312.8 194.8L313.6 194.6L314.4 195.2L315.2 197.4L316 196.9L316.8 197.6L317.6 198L318.4 197.6L319.2 198.4L320 200.6L320.8 200L321.6 201.2L322.4 203L323.2 203.2L324 206.2L324.8 207.3L325.6 209.1L326.4 210.8L327.2 210.6L328 208.8L328.8 210.7L329.6 209.3L330.4 210.4L331.2 212L332 211.5L332.8 209.5L333.6 207.7L334.4 206.4L335.2 206L336 204.3L336.8 205.9L337.6 211.3L338.4 213.6L339.2 210.8L340 207.6L340.8 208.1L341.6 208L342.4 207.1L343.2 206.9L344 206.4L344.8 206.5L345.6 206.4L346.4 206.6L347.2 207.9L348 207.6L348.8 208.6L349.6 208.5L350.4 203.6L351.2 200.5L352 195.2L352.8 192.2L353.6 191.7L354.4 192.2L355.2 194.8L356 195.3L356.8 199.2L357.6 201L358.4 200.4L359.2 202.5L360 201.5L360.8 200.9L361.6 200.2L362.4 198.1L363.2 195.9L364 196.4L364.8 196L365.6 196L366.4 195.7L367.2 195.8L368 193.1L368.8 191.6L369.6 190.5L370.4 187.5L371.2 188.5L372 188.7L372.8 188.7L373.6 187.8L374.4 188.2L375.2 189L376 192L376.8 191.9L377.6 195.1L378.4 196.9L379.2 198.6L380 198.4L380.8 200.4L381.6 202.4L382.4 204.2L383.2 205.7L384 209.5L384.8 211L385.6 211.7L386.4 213.7L387.2 217.3L388 218L388.8 219.1L389.6 222.1L390.4 221.5L391.2 223.9L392 225L392.8 224.9L393.6 227.4L394.4 227L395.2 225.2L396 221.6L396.8 222.1L397.6 221.4L398.4 220L399.2 220.4L400 222.6L400.8 221.6L401.6 219.5L402.4 218.4L403.2 216.7L404 214.6L404.8 212.7L405.6 210.3L406.4 207.3L407.2 207.8L408 207.6L408.8 208.4L409.6 207.9L410.4 208.6L411.2 209.7L412 208.3L412.8 207.9L413.6 208.9L414.4 207.9L415.2 207L416 208.8L416.8 207.4L417.6 206.2L418.4 205.8L419.2 205.2L420 203.7L420.8 202.7L421.6 201L422.4 200.9L423.2 199.6L424 199.1L424.8 198.7L425.6 202.2L426.4 211.4L427.2 217.5L428 222L428.8 225.6L429.6 228.7L430.4 231L431.2 232.4L432 234.1L432.8 237.2L433.6 236.8L434.4 236.2L435.2 236.5L436 235L436.8 235.8L437.6 235.4L438.4 235.6L439.2 234.1L440 234.2L440.8 236.1L441.6 235.8L442.4 236.7L443.2 238.1L444 238.7L444.8 237.9L445.6 241.1L446.4 240L447.2 241.5L448 240.8L448.8 241.4L449.6 239L450.4 239.2L451.2 237.9L452 233.5L452.8 230.3L453.6 228.3L454.4 225.5L455.2 224.2L456 220.9L456.8 217.5L457.6 213.7L458.4 211.8L459.2 213.1L460 214.9L460.8 214.6L461.6 215L462.4 217.1L463.2 218.2L464 220.6L464.8 220.5L465.6 219.4L466.4 218.8L467.2 218.2L468 218.3L468.8 216.1L469.6 211.5L470.4 205.4L471.2 206.7L472 210L472.8 214.9L473.6 223.3L474.4 225.8L475.2 224.9L476 225.9L476.8 226.6L477.6 227.6L478.4 227.4L479.2 228.8L480 230.2L480.8 231.4L481.6 233.4L482.4 233.3L483.2 235.5L484 234.4L484.8 234.1L485.6 233.4L486.4 233.1L487.2 231.3L488 231.1L488.8 231.3L489.6 228.8L490.4 231.3L491.2 232L492 231.6L492.8 232.2L493.6 230.8L494.4 228.7L495.2 226.7L496 224L496.8 223.4L497.6 222.9L498.4 224L499.2 224.5L500 225.9L500.8 225.8L501.6 225L502.4 223.7L503.2 222.7L504 223L504.8 222.1L505.6 220.1L506.4 218.3L507.2 218L508 216.9L508.8 214.4L509.6 214.5L510.4 214.1L511.2 212.2L512 212L512.8 209.3L513.6 209.2L514.4 207.7L515.2 207L516 205.3L516.8 204.3L517.6 204L518.4 201.5L519.2 200.5L520 199.6L520.8 200.7L521.6 200.7L522.4 200.3L523.2 201.3L524 202.4L524.8 201.6" stroke="#1a1aff" stroke-width="0.9" stroke-linejoin="round"/>
<path d="M72 197.4L72.8 197.4L73.6 198.8L74.4 199.7L75.2 198.2L76 198.2L76.8 199.9L77.6 201.4L78.4 201.3L79.2 201.2L80 200.1L80.8 199.1L81.6 200.3L82.4 198.8L83.2 199.4L84 199.1L84.8 198.3L85.6 196.6L86.4 195.9L87.2 196.7L88 195L88.8 194.2L89.6 195.2L90.4 194.2L91.2 196.7L92 197.1L92.8 196.1L93.6 198L94.4 198.5L95.2 198.5L96 200.9L96.8 200.7L97.6 201.8L98.4 201.8L99.2 202.8L100 203.8L100.8 203.9L101.6 204.1L102.4 204.6L103.2 205.1L104 203.2L104.8 201.5L105.6 203.1L106.4 201.6L107.2 199.8L108 200.8L108.8 199.6L109.6 199.3L110.4 200L111.2 202.2L112 202.2L112.8 203L113.6 202.7L114.4 204.2L115.2 202.5L116 203.5L116.8 202.3L117.6 203L118.4 202.9L119.2 200.7L120 200.3L120.8 200.7L121.6 199L122.4 201L123.2 199.4L124 197.9L124.8 196.9L125.6 198.6L126.4 198.8L127.2 197.9L128 198.6L128.8 199.6L129.6 198.9L130.4 200.4L131.2 200.1L132 200.2L132.8 198.7L133.6 198.8L134.4 199.2L135.2 200L136 199.7L136.8 201.5L137.6 200.9L138.4 202.5L139.2 202.8L140 203.1L140.8 203.9L141.6 202.7L142.4 203.4L143.2 203.8L144 202.7L144.8 201.5L145.6 202.1L146.4 201.3L147.2 200.9L148 201.5L148.8 203.2L149.6 202.1L150.4 204.2L151.2 203.3L152 205.7L152.8 206.3L153.6 208.5L154.4 208L155.2 207.1L156 208.1L156.8 207.1L157.6 206.7L158.4 206.3L159.2 206.3L160 206.8L160.8 206.2L161.6 205.7L162.4 206.3L163.2 205.9L164 205.4L164.8 206.5L165.6 205.4L166.4 205.4L167.2 205.4L168 205.7L168.8 205.8L169.6 205.8L170.4 206.6L171.2 206.6L172 207.5L172.8 206.5L173.6 206.5L174.4 205.6L175.2 205.1L176 206.3L176.8 205.2L177.6 204.7L178.4 205.1L179.2 203.8L180 203.5L180.8 203.3L181.6 205.2L182.4 204.2L183.2 204L184 204.6L184.8 205.1L185.6 205.1L186.4 204.8L187.2 203.7L188 203.9L188.8 203.3L189.6 203.6L190.4 202.3L191.2 200L192 200.2L192.8 201L193.6 201.4L194.4 201.8L195.2 202.9L196 200.3L196.8 202.2L197.6 202.8L198.4 204.5L199.2 203.5L200 203.6L200.8 204.1L201.6 205.3L202.4 203.5L203.2 204.4L204 203.5L204.8 203L205.6 199.6L206.4 200.4L207.2 200.8L208 201.9L208.8 203.8L209.6 203L210.4 203L211.2 201.4L212 201.6L212.8 200.9L213.6 201.2L214.4 201.5L215.2 202.5L216 203.5L216.8 202.7L217.6 202.4L218.4 201.8L219.2 202.2L220 202L220.8 200.9L221.6 201.4L222.4 201.1L223.2 200.2L224 200.8L224.8 202.7L225.6 203.6L226.4 204L227.2 202.5L228 202.2L228.8 200.5L229.6 199.7L230.4 199.4L231.2 198.5L232 196.7L232.8 196.3L233.6 197.1L234.4 197.2L235.2 196.8L236 196L236.8 197.9L237.6 196.9L238.4 196.9L239.2 196.9L240 197.3L240.8 197.3L241.6 197L242.4 196.3L243.2 196L244 196.2L244.8 195.4L245.6 195.3L246.4 195L247.2 195.7L248 194.3L248.8 191.8L249.6 193.4L250.4 193.2L251.2 194.1L252 194L252.8 194L253.6 193.1L254.4 195.4L255.2 196.2L256 197.1L256.8 198.2L257.6 197.4L258.4 198L259.2 197.1L260 199.3L260.8 198.6L261.6 199.5L262.4 200.4L263.2 201.6L264 201.3L264.8 200.2L265.6 197.7L266.4 199.1L267.2 197.6L268 196.6L268.8 195.5L269.6 196.5L270.4 197.7L271.2 198.3L272 198.8L272.8 198.7L273.6 199.8L274.4 201.6L275.2 201.1L276 202.8L276.8 202L277.6 201.8L278.4 202.1L279.2 203.4L280 204L280.8 205.4L281.6 204.8L282.4 205.2L283.2 203.7L284 201.8L284.8 199.5L285.6 199.9L286.4 199.6L287.2 199.4L288 199.4L288.8 196.8L289.6 197.5L290.4 197L291.2 197.2L292 195.9L292.8 197.3L293.6 196.1L294.4 195.9L295.2 196.7L296 195.8L296.8 196.4L297.6 196L298.4 194.5L299.2 194.8L300 194L300.8 193.7L301.6 195.1L302.4 193.6L303.2 194.6L304 193.5L304.8 193.9L305.6 194.2L306.4 193.7L307.2 191.7L308 192L308.8 193.6L309.6 192.6L310.4 192.1L311.2 191.5L312 191.6L312.8 191.4L313.6 190.1L314.4 190.5L315.2 192L316 189.5L316.8 189.2L317.6 189.3L318.4 188.7L319.2 188.6L320 188.3L320.8 186.8L321.6 186.5L322.4 186.4L323.2 185.3L324 186.6L324.8 186.1L325.6 184.6L326.4 184.4L327.2 184.5L328 184.4L328.8 185.1L329.6 184.3L330.4 184.5L331.2 185.8L332 186.8L332.8 187.2L333.6 188.8L334.4 189.4L335.2 191.5L336 192.4L336.8 193.2L337.6 193.6L338.4 191.8L339.2 192L340 191.6L340.8 191.8L341.6 192.3L342.4 189.6L343.2 190.5L344 188.9L344.8 188.6L345.6 191.5L346.4 190.5L347.2 193.4L348 194.1L348.8 195.9L349.6 197.6L350.4 196.3L351.2 193.5L352 193.1L352.8 193.5L353.6 197.5L354.4 201.3L355.2 201.5L356 203L356.8 204.7L357.6 204.8L358.4 205.1L359.2 206.1L360 206.8L360.8 206.2L361.6 207.4L362.4 204.1L363.2 205.3L364 206.9L364.8 208.1L365.6 208.2L366.4 207.8L367.2 207.5L368 206.4L368.8 205.4L369.6 203.9L370.4 203.4L371.2 203.7L372 202.4L372.8 202.6L373.6 201.8L374.4 199.7L375.2 196.5L376 193.7L376.8 193.6L377.6 190.8L378.4 188.6L379.2 187.6L380 187.1L380.8 186.6L381.6 185.8L382.4 184.7L383.2 184.5L384 183.6L384.8 182.4L385.6 183.2L386.4 183.3L387.2 182.9L388 181L388.8 181.5L389.6 182.1L390.4 182.5L391.2 182.6L392 184.3L392.8 184L393.6 185.6L394.4 185.9L395.2 185.4L396 188L396.8 191.2L397.6 193.5L398.4 193L399.2 195.4L400 197.5L400.8 195.8L401.6 194.8L402.4 192.8L403.2 193.4L404 195.6L404.8 199.3L405.6 201.8L406.4 203.6L407.2 204.1L408 204.8L408.8 206.1L409.6 209.3L410.4 210.5L411.2 208.6L412 207.3L412.8 207.8L413.6 207.3L414.4 206.5L415.2 205.4L416 206L416.8 206.7L417.6 206.4L418.4 206.7L419.2 208.4L420 208.1L420.8 207.7L421.6 206.2L422.4 203.4L423.2 201.7L424 200.1L424.8 197L425.6 201.5L426.4 210.4L427.2 215.5L428 216.9L428.8 219.4L429.6 220L430.4 219.7L431.2 218.2L432 216.6L432.8 214.4L433.6 213.4L434.4 214.4L435.2 213.8L436 213L436.8 215.5L437.6 215.8L438.4 215L439.2 213.8L440 212.4L440.8 212.6L441.6 212.3L442.4 209.9L443.2 206.5L444 207.9L444.8 207.4L445.6 204.7L446.4 204.3L447.2 203.6L448 201.2L448.8 202L449.6 201.2L450.4 203.6L451.2 204.9L452 206.2L452.8 203.3L453.6 201.7L454.4 200.5L455.2 197.8L456 197.1L456.8 193.9L457.6 192.7L458.4 192L459.2 190L460 189.1L460.8 189.7L461.6 189.9L462.4 190.5L463.2 191.5L464 193.5L464.8 193.4L465.6 194.7L466.4 196L467.2 197.5L468 199.4L468.8 199.2L469.6 197.9L470.4 195.7L471.2 195L472 194.2L472.8 191.7L473.6 194.4L474.4 193.6L475.2 196.1L476 198.1L476.8 197.6L477.6 198L478.4 198.4L479.2 197.7L480 198L480.8 200.5L481.6 201.2L482.4 202.1L483.2 203L484 201.5L484.8 201.5L485.6 201.6L486.4 200.8L487.2 203.2L488 203.3L488.8 204.6L489.6 205.4L490.4 204.9L491.2 203.4L492 202.8L492.8 200L493.6 199.8L494.4 197.7L495.2 197.4L496 197.5L496.8 196.2L497.6 196.1L498.4 193.1L499.2 193L500 193L500.8 191.6L501.6 191.6L502.4 191.5L503.2 191.1L504 190.3L504.8 189.3L505.6 188.8L506.4 188.8L507.2 189.3L508 189L508.8 188.3L509.6 187.6L510.4 188.3L511.2 187.1L512 187.2L512.8 189L513.6 190.7L514.4 191.6L515.2 192.5L516 192L516.8 192.9L517.6 193.1L518.4 193.2L519.2 193.4L520 194.5L520.8 193.7L521.6 193.7L522.4 193.1L523.2 191.5L524 192L524.8 191.5" stroke="#2ef52e" stroke-width="0.9" stroke-linejoin="round"/>
<path d="M72 215L72.8 213.3L73.6 215.2L74.4 215.8L75.2 215.5L76 215.7L76.8 216.6L77.6 216.4L78.4 217L79.2 217.9L80 215.8L80.8 217.2L81.6 220.4L82.4 223.2L83.2 222L84 220.5L84.8 220.3L85.6 219.5L86.4 218.3L87.2 219.1L88 216.9L88.8 217.7L89.6 216.1L90.4 216.1L91.2 215.3L92 213.3L92.8 213.9L93.6 213.3L94.4 213.3L95.2 213.5L96 213L96.8 211.1L97.6 212.2L98.4 211.1L99.2 211.1L100 210.7L100.8 210.8L101.6 212.6L102.4 211.5L103.2 213.2L104 210.8L104.8 212.3L105.6 209.8L106.4 209.4L107.2 208.3L108 208.4L108.8 207.3L109.6 206.9L110.4 205.1L111.2 206.9L112 207.4L112.8 209.9L113.6 210.5L114.4 210.6L115.2 210.5L116 210L116.8 210L117.6 208.5L118.4 209.1L119.2 210.3L120 213L120.8 214.4L121.6 216.4L122.4 216.6L123.2 217.1L124 218.3L124.8 218.9L125.6 219.4L126.4 219.7L127.2 218.1L128 216.9L128.8 215.8L129.6 215.3L130.4 213.4L131.2 211.9L132 210.4L132.8 208.4L133.6 206.4L134.4 208.5L135.2 210.6L136 214.2L136.8 215.4L137.6 215L138.4 214L139.2 214.4L140 213.9L140.8 213.2L141.6 213.1L142.4 213.3L143.2 210.7L144 210.4L144.8 210.7L145.6 209.6L146.4 210.9L147.2 212.2L148 211.4L148.8 212.6L149.6 209L150.4 206L151.2 207.6L152 208.5L152.8 211.5L153.6 211.2L154.4 211.2L155.2 212.8L156 213.1L156.8 213.7L157.6 214L158.4 212.7L159.2 212.9L160 212.8L160.8 212.7L161.6 211.5L162.4 212.6L163.2 211.7L164 210.6L164.8 210.2L165.6 210.5L166.4 211.3L167.2 212L168 211.9L168.8 211L169.6 211.5L170.4 210.7L171.2 212.3L172 211L172.8 211.9L173.6 212.1L174.4 212.2L175.2 213.1L176 212.7L176.8 211.8L177.6 212.4L178.4 212.4L179.2 211.6L180 212L180.8 210.8L181.6 211.2L182.4 212.6L183.2 211.5L184 210.5L184.8 209.3L185.6 209L186.4 210.5L187.2 209.5L188 208.7L188.8 208.5L189.6 209.2L190.4 209.6L191.2 209.5L192 210.3L192.8 210.7L193.6 208.9L194.4 209.2L195.2 210.5L196 209.6L196.8 208.2L197.6 208.9L198.4 207.3L199.2 208.2L200 208.3L200.8 208.2L201.6 208.1L202.4 206.7L203.2 206.1L204 207.3L204.8 209.3L205.6 210.8L206.4 212.1L207.2 211.9L208 209.7L208.8 208.9L209.6 208.5L210.4 209.4L211.2 210.5L212 208.7L212.8 208.1L213.6 207.2L214.4 207L215.2 206.9L216 204.4L216.8 205.6L217.6 206.4L218.4 207.5L219.2 206.8L220 206.5L220.8 206.8L221.6 206.4L222.4 205.8L223.2 206.4L224 207.1L224.8 207.1L225.6 207.5L226.4 209.2L227.2 208.3L228 208.6L228.8 209.1L229.6 209.1L230.4 208.7L231.2 208.6L232 207.9L232.8 207.6L233.6 206.5L234.4 207.4L235.2 207.5L236 206.7L236.8 206.5L237.6 208.1L238.4 207.8L239.2 207.6L240 206.6L240.8 205.3L241.6 205.4L242.4 204.9L243.2 204.4L244 205.4L244.8 205.1L245.6 205.7L246.4 203.9L247.2 205.4L248 205.2L248.8 206.2L249.6 206.4L250.4 207L251.2 207.2L252 206.7L252.8 207.8L253.6 207.5L254.4 207.7L255.2 208.5L256 210.6L256.8 211.9L257.6 210.6L258.4 211.9L259.2 212.5L260 211.4L260.8 211.5L261.6 209.9L262.4 209.1L263.2 210.1L264 210.5L264.8 207.9L265.6 209.5L266.4 208.6L267.2 208L268 206.6L268.8 207.2L269.6 207.4L270.4 207.8L271.2 207.9L272 207.9L272.8 208.1L273.6 209.3L274.4 207.9L275.2 206.7L276 209.6L276.8 208.5L277.6 209.3L278.4 207.8L279.2 207.4L280 209.4L280.8 208.4L281.6 207.8L282.4 208.5L283.2 207.8L284 207.7L284.8 206.4L285.6 208.1L286.4 207.1L287.2 207.9L288 207.3L288.8 209.1L289.6 208.1L290.4 209.1L291.2 208.2L292 210.3L292.8 209.2L293.6 208.7L294.4 208L295.2 205.4L296 206.9L296.8 206.3L297.6 205.8L298.4 204.7L299.2 206.1L300 205.8L300.8 204.3L301.6 205.6L302.4 206.4L303.2 206.2L304 205.3L304.8 206.8L305.6 206.1L306.4 207.3L307.2 206.9L308 207.8L308.8 206.4L309.6 207L310.4 207L311.2 208.9L312 208.6L312.8 209.1L313.6 209.8L314.4 208.8L315.2 209L316 209.6L316.8 209.8L317.6 211L318.4 209.4L319.2 211L320 209.7L320.8 212.2L321.6 211.6L322.4 211.4L323.2 210.5L324 211.2L324.8 211.1L325.6 212.6L326.4 213.8L327.2 213.2L328 212.8L328.8 213.4L329.6 213.6L330.4 211.8L331.2 214.6L332 215.2L332.8 215.8L333.6 217.6L334.4 217.8L335.2 218.6L336 219L336.8 221.9L337.6 223.7L338.4 222.4L339.2 221.8L340 220L340.8 220.3L341.6 218.3L342.4 215.4L343.2 215L344 213.4L344.8 213.6L345.6 215L346.4 214.3L347.2 214.2L348 214L348.8 216.6L349.6 218.7L350.4 222.2L351.2 223.7L352 221.8L352.8 220.3L353.6 217.7L354.4 216.6L355.2 216.2L356 215.5L356.8 215.2L357.6 215.3L358.4 213L359.2 214.3L360 213.5L360.8 214.3L361.6 213L362.4 212.6L363.2 212.5L364 212.1L364.8 211.5L365.6 211.9L366.4 213.3L367.2 214L368 214.3L368.8 213.8L369.6 213.8L370.4 213.4L371.2 212.6L372 212.7L372.8 213.8L373.6 211.7L374.4 211.2L375.2 211.4L376 212.8L376.8 212.8L377.6 214L378.4 212.3L379.2 210.2L380 208L380.8 206.4L381.6 205.8L382.4 206.5L383.2 208.3L384 209.1L384.8 208.9L385.6 208.1L386.4 208.5L387.2 208.1L388 208.1L388.8 209.6L389.6 208.8L390.4 210.3L391.2 210.6L392 211L392.8 211.2L393.6 213.1L394.4 212.9L395.2 213.6L396 212.9L396.8 213.5L397.6 213.5L398.4 211.3L399.2 208.8L400 207.4L400.8 207.2L401.6 205.5L402.4 208.1L403.2 211.4L404 212.7L404.8 214.8L405.6 215.5L406.4 217.9L407.2 219.8L408 219.9L408.8 215.9L409.6 215.9L410.4 216.4L411.2 214.2L412 214.3L412.8 212.3L413.6 212.4L414.4 211.7L415.2 210.1L416 209.2L416.8 208.8L417.6 209.1L418.4 210.6L419.2 209.9L420 211.2L420.8 211.6L421.6 212L422.4 210.3L423.2 208.8L424 207.3L424.8 203.4L425.6 202.7L426.4 205.2L427.2 208.7L428 208.6L428.8 208.8L429.6 209.8L430.4 210.9L431.2 210.8L432 209L432.8 209.2L433.6 209.6L434.4 207.6L435.2 207.6L436 209.8L436.8 209.6L437.6 210.9L438.4 210.6L439.2 211.6L440 212.4L440.8 213.2L441.6 213.4L442.4 214.2L443.2 215.2L444 215.4L444.8 214.5L445.6 215.5L446.4 214.6L447.2 211.4L448 210.1L448.8 206.6L449.6 204.6L450.4 206.4L451.2 210.1L452 211.3L452.8 210.1L453.6 210.3L454.4 210.2L455.2 209.3L456 208.8L456.8 207.8L457.6 206.8L458.4 208.6L459.2 209.5L460 209.6L460.8 212.3L461.6 210.9L462.4 213L463.2 212.8L464 215.4L464.8 215.2L465.6 215.5L466.4 212.7L467.2 211.1L468 208.3L468.8 206.2L469.6 204.1L470.4 199.7L471.2 201.3L472 203.5L472.8 206.2L473.6 208.1L474.4 208.4L475.2 209.6L476 209.5L476.8 209.3L477.6 207.7L478.4 207.8L479.2 207L480 204.9L480.8 205L481.6 205.1L482.4 205.5L483.2 204.9L484 204.6L484.8 204.3L485.6 208L486.4 207.3L487.2 207.7L488 206.8L488.8 206.2L489.6 206.7L490.4 205L491.2 204.3L492 206.8L492.8 207.4L493.6 210.1L494.4 211.3L495.2 212L496 210.2L496.8 209.8L497.6 207.4L498.4 206.8L499.2 208.2L500 209.8L500.8 211.1L501.6 210.8L502.4 211.6L503.2 211.6L504 212.2L504.8 212.4L505.6 212.9L506.4 212.7L507.2 213.2L508 212.2L508.8 211.1L509.6 211.6L510.4 212.4L511.2 211.3L512 213.3L512.8 213.1L513.6 212.5L514.4 212L515.2 211.7L516 211.5L516.8 210.7L517.6 209.5L518.4 210.2L519.2 212L520 211.2L520.8 211.4L521.6 210.3L522.4 211.3L523.2 212.1L524 209.8L524.8 209.7" stroke="#ff2020" stroke-width="0.9" stroke-linejoin="round"/>
<path d="M72 353.1L73 353.4L74 356.6L75 357.3L76 357.2L77 357.4L78 356.7L79 356.2L80 356.6L81 357.3L82 357L83 357.6L84 357.4L85 358L86 359.6L87 360.6L88 359.4L89 359.7L90 359.6L91 359.3L92 359L93 359L94 355.7L95 354.4L96 357L97 357.8L98 359.7L99 361.1L100 362.1L101 364.2L102 366L103 365.4L104 367.2L105 367.4L106 369.8L107 369.6L108 371L109 371L110 370.5L111 370.3L112 371.1L113 369.5L114 368.2L115 368.6L116 367.4L117 366.5L118 365.6L119 364.7L120 365.1L121 367.3L122 367.2L123 368.4L124 367.1L125 364.7L126 363.9L127 363.6L128 363L129 363.9L130 361.3L131 361.3L132 358L133 355.5L134 352.3L135 349.9L136 350L137 349.7L138 346.3L139 346.4L140 342.8L141 342.2L142 342.6L143 343L144 343.9L145 343.7L146 344L147 343.2L148 344.2L149 345.5L150 344.2L151 341.9L152 339.5L153 336.7L154 335.6L155 335.6L156 334.9L157 334.1L158 334.1L159 333.5L160 333.6L161 334.1L162 334.8L163 336.4L164 336.4L165 336L166 338.1L167 337.3L168 339.3L169 339L170 338.6L171 336.9L172 337.1L173 336.4L174 337.7L175 338.1L176 339.2L177 341.1L178 343.7L179 346.1L180 346.9L181 348.3L182 346.9L183 344.1L184 346.7L185 346.3L186 347.3L187 347.1L188 347.1L189 347.6L190 349.9L191 349.3L192 348.9L193 349.6L194 349.3L195 348.5L196 349.3L197 351.4L198 351.2L199 357L200 360L201 364.7L202 365L203 363L204 361.1L205 362.7L206 365.1L207 364.1L208 363.1L209 361.8L210 361L211 360.2L212 361L213 360.3L214 361.4L215 363.6L216 365.6L217 366.3L218 368.8L219 370.7L220 371.1L221 369L222 366.5L223 365.2L224 363.9L225 363.7L226 365.1L227 365.9L228 365.7L229 366L230 365.5L231 367.6L232 360.5L233 353.7L234 351.1L235 351L236 350.1L237 349.5L238 351.1L239 351L240 350L241 348.8L242 346.3L243 347.9L244 348.8L245 348.3L246 346.8L247 350L248 351.7L249 353.4L250 351.1L251 349.4L252 349.9L253 350.8L254 354.1L255 356.5L256 359.1L257 361.1L258 358.6L259 356.8L260 358L261 357.7L262 359.3L263 361.3L264 360.4L265 359.5L266 357L267 357.4L268 359.1L269 360.3L270 358L271 357.1L272 356.2L273 358.1L274 359.2L275 360.3L276 361L277 362.1L278 361.9L279 362.2L280 365.2L281 368.1L282 366.2L283 362.2L284 360.1L285 354.9L286 351.5L287 349.7L288 346.4L289 342.4L290 340.9L291 343.4L292 343.2L293 344.8L294 347.8L295 349.9L296 353L297 351.5L298 352.9L299 354.1L300 354L301 354.9L302 353.9L303 354.2L304 352L305 349.1L306 345.9L307 343.8L308 340.1L309 339.2L310 336.9L311 334.5L312 333.7L313 333.2L314 335.3L315 334.5L316 335.1L317 337.6L318 340.3L319 341.8L320 345.8L321 349.1L322 353.4L323 358.5L324 360.4L325 360.8L326 360.9L327 363.2L328 364.5L329 364.1L330 364.3L331 362.6L332 357.8L333 355.7L334 352.3L335 349.7L336 347.9L337 345.4L338 349.9L339 351.5L340 343.3L341 336.5L342 334L343 333.4L344 331.7L345 330.9L346 329.7L347 328.2L348 327L349 326.3L350 321.7L351 318.3L352 318.6L353 321.8L354 323.4L355 321.6L356 321L357 327.9L358 334.1L359 336.7L360 339.3L361 341.3L362 341.3L363 339.8L364 339.5L365 338L366 338.4L367 336.5L368 335.1L369 332.8L370 330.3L371 328.2L372 327.6L373 327.6L374 325.7L375 325.6L376 326.4L377 325.7L378 324.7L379 327.6L380 334.8L381 341.4L382 346.5L383 351.3L384 355.2L385 361L386 362.1L387 363.5L388 365.9L389 367.8L390 366.8L391 367L392 365.5L393 363L394 357.4L395 352.1L396 346.5L397 345.5L398 344L399 342.7L400 341.4L401 341.5L402 341.9L403 341.3L404 343.3L405 340.7L406 336.7L407 335.3L408 334.9L409 333.2L410 334.2L411 333.5L412 333.4L413 332.4L414 331.5L415 331.1L416 331.8L417 332.3L418 332.6L419 333.7L420 334.7L421 334.8L422 333.4L423 332.2L424 331.2L425 326.9L426 322.2L427 318.2L428 318.6L429 319.6L430 322.9L431 334.8L432 347L433 348.7L434 351.4L435 356.2L436 357.9L437 359.2L438 359.2L439 362.5L440 361.5L441 359L442 356.8L443 355L444 353.8L445 351.4L446 351.4L447 350L448 348.6L449 347.4L450 347L451 345.9L452 353.7L453 361.1L454 366.5L455 369.4L456 372.2L457 374.8L458 373.9L459 368.2L460 365.4L461 362.2L462 362.6L463 362.5L464 360.8L465 358.3L466 359.3L467 362.6L468 367.2L469 358.2L470 348.2L471 339L472 336.7L473 352.6L474 364.2L475 368.9L476 371.5L477 370.2L478 367.7L479 363.3L480 364.3L481 363.4L482 361.3L483 360.7L484 355.1L485 349.4L486 342.5L487 343.4L488 343L489 342.9L490 342.5L491 343.1L492 349.6L493 343.5L494 340.3L495 345.8L496 349.6L497 355L498 352.4L499 347.4L500 343.8L501 340.3L502 337.9L503 335L504 332.1L505 329.1L506 326.9L507 328.7L508 329.6L509 330.3L510 332.4L511 333.3L512 333.9L513 334.4L514 334.6L515 336.2L516 336.5L517 337.5L518 336.7L519 336.8L520 338.8L521 341.1L522 344.2L523 345.6L524 344.8L525 344.7" stroke="#222" stroke-width="0.9" stroke-linejoin="round"/>
<path d="M72 391.5L73 391.5L74 391.8L75 392.4L76 392.8L77 392.2L78 392.1L79 392L80 391.9L81 392.3L82 392.7L83 392.3L84 392.1L85 391.4L86 392.2L87 392.2L88 391.8L89 393L90 392.5L91 393.2L92 392.1L93 391.9L94 392.4L95 392.4L96 391.6L97 393.3L98 394.1L99 394.2L100 393.5L101 393.9L102 395.3L103 394.1L104 395.1L105 395.2L106 395.6L107 395.1L108 394.8L109 394.8L110 396.5L111 396.1L112 395.7L113 395.2L114 394.6L115 394.9L116 394L117 394.5L118 395.2L119 393.5L120 394L121 393.3L122 394.1L123 393.9L124 393.8L125 394.5L126 394.4L127 394.1L128 393.5L129 393.9L130 392.9L131 393L132 391.9L133 391.1L134 390.6L135 391L136 389.3L137 389.4L138 390.5L139 390.3L140 390.2L141 389.9L142 389L143 389.9L144 388.8L145 389.9L146 389.7L147 390.4L148 389.6L149 388.8L150 388.8L151 388.3L152 387.5L153 387.3L154 386.3L155 385.7L156 386.1L157 386.5L158 386.5L159 386.1L160 386.2L161 386.7L162 386.1L163 386.7L164 386.4L165 387L166 388.2L167 388.3L168 386.9L169 386.8L170 387.3L171 387.3L172 386.9L173 387.1L174 387.9L175 389.1L176 388.6L177 389.7L178 390.1L179 388.9L180 389.6L181 389.9L182 389.8L183 389.8L184 390.7L185 390.4L186 389.9L187 390.4L188 390.4L189 390.9L190 390.7L191 389.8L192 390.4L193 390L194 389.3L195 390.8L196 390.6L197 390.9L198 392.1L199 392.8L200 392.4L201 393.1L202 392.7L203 393.3L204 393.2L205 393.1L206 392.4L207 392.6L208 391.9L209 392.7L210 393.1L211 393.3L212 393.5L213 393.4L214 392.8L215 394L216 393.4L217 394.1L218 394.2L219 394.4L220 395.1L221 395.3L222 394.6L223 394.6L224 394.1L225 393.8L226 393L227 392.5L228 392.6L229 393L230 392.2L231 392.4L232 391.2L233 391.2L234 391L235 390.7L236 390.6L237 390.4L238 390L239 389.6L240 389.9L241 389.9L242 389.6L243 389.8L244 390.2L245 391.6L246 390.7L247 391L248 390.4L249 390.7L250 390.8L251 390.5L252 390.6L253 390.5L254 390.6L255 391.3L256 392.9L257 392.5L258 393.2L259 393.7L260 392L261 392.6L262 391.9L263 393.1L264 393.4L265 393.3L266 393.9L267 392.9L268 393.1L269 392.9L270 393.6L271 393.4L272 392.9L273 394.3L274 394.1L275 394.3L276 393.4L277 395.1L278 395.7L279 396.1L280 397.2L281 396.6L282 396.3L283 395.3L284 395.3L285 393.5L286 394L287 393.6L288 392.7L289 391.6L290 391.2L291 393.3L292 393.1L293 394.8L294 394.3L295 396L296 395.9L297 394.8L298 395L299 393.9L300 394.2L301 394.1L302 392.9L303 392.9L304 392.9L305 392L306 392.3L307 392.3L308 391.4L309 391.4L310 391L311 391.5L312 391.1L313 391.1L314 390.4L315 391.1L316 390.5L317 391.8L318 391.4L319 390.9L320 392.4L321 392.4L322 392.6L323 393.3L324 394.1L325 394.6L326 394.9L327 395L328 394.1L329 394.1L330 394.4L331 394.5L332 393.3L333 392.5L334 392.1L335 391.7L336 391L337 390.7L338 389.5L339 389.1L340 389.3L341 388.9L342 387.6L343 387.6L344 386.3L345 386.2L346 385.2L347 385.4L348 384.9L349 384L350 384L351 383.2L352 384.5L353 384.9L354 385.2L355 386.1L356 385.7L357 385.5L358 386.2L359 386.4L360 387.5L361 387.7L362 387.2L363 386.8L364 387.3L365 387.8L366 387.5L367 386.6L368 386L369 386.3L370 386.1L371 386.4L372 386.3L373 384.5L374 384.9L375 386.3L376 385.2L377 385.4L378 385.9L379 387.1L380 388.6L381 389.5L382 390L383 390.7L384 391.6L385 392.8L386 393.5L387 392.9L388 393.4L389 393L390 393.3L391 393.5L392 394.3L393 393L394 393L395 392.1L396 392.2L397 391.9L398 391.1L399 391.4L400 391.2L401 390.8L402 389.9L403 389.2L404 388.2L405 387.6L406 387.6L407 388.5L408 387.5L409 387.8L410 385.9L411 386.7L412 385.9L413 386.8L414 386.8L415 386.3L416 386.7L417 386.6L418 386.3L419 385.8L420 385.6L421 385.6L422 385.5L423 385.1L424 384.8L425 384.7L426 384.4L427 383.6L428 385.4L429 385.4L430 387.2L431 387.5L432 389.8L433 390.3L434 389.9L435 391.4L436 392.7L437 393.7L438 394.3L439 393.8L440 393.3L441 393.5L442 393.2L443 391.9L444 391.6L445 390.5L446 389.7L447 390.5L448 390.2L449 389.9L450 389.7L451 389.7L452 390.9L453 392.1L454 393.8L455 393.7L456 395.6L457 396.8L458 397.9L459 397.4L460 396.7L461 396.7L462 396.2L463 395L464 395.1L465 393.5L466 394.8L467 394.9L468 394.4L469 393.8L470 393.1L471 392L472 392L473 394.2L474 395.3L475 394.6L476 394.6L477 394.7L478 393.2L479 393.2L480 391.7L481 391.8L482 390.9L483 390.1L484 389.8L485 389.3L486 387.2L487 387.7L488 387.7L489 388.6L490 389.5L491 389.8L492 390.6L493 390.6L494 391.6L495 391.9L496 392.3L497 392.2L498 393.1L499 393.3L500 394.6L501 393.4L502 393.4L503 393.5L504 392.4L505 392.7L506 392.6L507 392.7L508 393.3L509 394.3L510 393.3L511 394.6L512 395.2L513 395.6L514 395.7L515 396.3L516 396.6L517 397.2L518 396.8L519 397.2L520 399L521 400.4L522 400.4L523 401.7L524 401.4L525 401.6" stroke="#2ef52e" stroke-width="0.9" stroke-linejoin="round"/>
<path d="M72 423.4L73 423.7L74 422.7L75 423.6L76 423.4L77 424.2L78 424.1L79 423.9L80 424.4L81 423.9L82 424.2L83 424.1L84 423.8L85 423.7L86 423.5L87 423.3L88 423.6L89 423.9L90 423.1L91 422.7L92 422.9L93 423.4L94 423.1L95 423L96 422.6L97 422.5L98 422.9L99 422.9L100 423.2L101 423.1L102 423.9L103 422.6L104 422.5L105 422.9L106 422.8L107 423.5L108 423.2L109 423.5L110 423L111 423.2L112 423.4L113 424.4L114 422.7L115 422.9L116 423.8L117 423.5L118 423.4L119 423.4L120 422.6L121 424.4L122 423.6L123 424.3L124 424.3L125 424.4L126 424.9L127 423.9L128 423.8L129 424.9L130 426L131 426.9L132 426.5L133 427.8L134 428.3L135 428L136 427.9L137 428.5L138 428.1L139 426.6L140 427.2L141 428.6L142 427.7L143 427.4L144 426.4L145 426.5L146 426.1L147 425L148 425.1L149 423.9L150 424.3L151 423L152 423L153 422.3L154 421.8L155 422.2L156 422.1L157 421.6L158 422.7L159 422.1L160 422.7L161 421.8L162 422.4L163 422L164 420.9L165 420.5L166 420.1L167 421.6L168 420.7L169 420.7L170 420.9L171 420.3L172 420.4L173 420.5L174 420.4L175 420L176 420.2L177 420.5L178 419.1L179 418.8L180 418.5L181 418.6L182 418.1L183 418.7L184 418.1L185 417.3L186 416.6L187 417.2L188 417.7L189 418.6L190 420L191 420.5L192 421.1L193 421L194 420.9L195 421.1L196 421.2L197 421.3L198 422L199 422.1L200 422L201 424L202 422.7L203 423.1L204 421.9L205 422.1L206 421.5L207 421.9L208 422.5L209 422.3L210 422.5L211 422L212 421.1L213 420.7L214 419.9L215 419.9L216 420.4L217 420.3L218 420L219 420.6L220 420.6L221 419.8L222 420.1L223 420.3L224 420.2L225 420.3L226 419.9L227 420.7L228 421.1L229 422.1L230 422.6L231 423.2L232 424.1L233 425.5L234 426.5L235 426.8L236 427.2L237 427.4L238 427.7L239 427.2L240 427.7L241 427.7L242 428.3L243 428L244 428.2L245 427.4L246 428L247 427.3L248 427.8L249 428.6L250 427.2L251 427.4L252 428L253 427.8L254 427.5L255 427.2L256 428L257 427.7L258 427.4L259 428.2L260 430.1L261 430L262 429.4L263 429.3L264 428.6L265 429.1L266 429.2L267 430.1L268 430.9L269 431.3L270 432.2L271 432.6L272 433.3L273 433.6L274 433.1L275 433.6L276 433.6L277 434.2L278 433.5L279 434.1L280 432.6L281 432.9L282 432.9L283 434.4L284 435.7L285 436.8L286 436.2L287 437.4L288 437.2L289 437.6L290 438.2L291 438.2L292 438.4L293 438.1L294 438.9L295 438.7L296 438.9L297 438.2L298 437.9L299 437.9L300 437.5L301 437.5L302 436.8L303 435.6L304 437.4L305 437.2L306 437.9L307 439.5L308 439.5L309 439.5L310 439.6L311 440.4L312 439.7L313 439.8L314 439L315 438.5L316 437.5L317 437.2L318 436.8L319 437L320 436.4L321 435.9L322 435.7L323 434.7L324 434.6L325 433.9L326 432.8L327 431.7L328 431.2L329 431.7L330 432.3L331 431.3L332 431.6L333 430.6L334 430.2L335 428.4L336 427L337 426.4L338 426.3L339 426L340 425.5L341 425.9L342 425.6L343 427.3L344 427.2L345 426.7L346 427L347 427.6L348 429.1L349 430.6L350 430.7L351 432.2L352 432.1L353 432.6L354 433.5L355 433.3L356 433.2L357 430.8L358 430.4L359 430.4L360 429.2L361 429.3L362 428.2L363 426.7L364 427L365 425.9L366 426.9L367 428.2L368 428.8L369 429.2L370 428.9L371 430.2L372 431.5L373 431.9L374 431.5L375 431.2L376 430.8L377 429.2L378 428.6L379 428.5L380 427.3L381 426.3L382 426.1L383 427.2L384 426.4L385 425.4L386 425.1L387 423.7L388 423.3L389 422.5L390 421.7L391 420.4L392 418.8L393 416.7L394 415L395 414.2L396 414L397 415.2L398 415.1L399 415.4L400 414.5L401 414.3L402 414L403 413.8L404 412.9L405 415.1L406 417.2L407 418.8L408 419.1L409 422.2L410 422.4L411 423.3L412 423.9L413 425L414 424.8L415 425.5L416 424.2L417 424L418 422.9L419 422.3L420 422.1L421 421.2L422 421.2L423 420.7L424 419.7L425 417.7L426 416.9L427 414.7L428 414L429 413.1L430 413.2L431 413.8L432 414.5L433 415L434 415.4L435 416.3L436 416.1L437 416.6L438 416.4L439 416.2L440 416L441 415.7L442 416.9L443 418.1L444 417.9L445 418.1L446 418.6L447 418.5L448 417.7L449 417.6L450 417.6L451 416.9L452 419.3L453 422L454 424.7L455 427.1L456 428.5L457 429.6L458 430.9L459 432.6L460 433.3L461 433.6L462 433.9L463 434.3L464 434.9L465 435.1L466 436.5L467 436.7L468 437.5L469 437.8L470 438.5L471 438.3L472 439L473 435.5L474 432.6L475 430.1L476 428.3L477 426.9L478 427.4L479 426L480 424.1L481 424.3L482 423.4L483 422.1L484 421.7L485 422.1L486 423.2L487 423.7L488 423.9L489 425.4L490 425L491 424.5L492 427.7L493 431.9L494 434.2L495 434.2L496 436L497 437.1L498 438.4L499 439.1L500 440.1L501 440.8L502 441.6L503 443L504 443.9L505 443.9L506 444.4L507 445.1L508 445.3L509 446L510 446.4L511 446.5L512 446.4L513 447.4L514 447.6L515 447.3L516 447L517 446.7L518 447.1L519 447.1L520 447.5L521 449L522 447.7L523 446.4L524 445.9L525 445.3" stroke="#1a1aff" stroke-width="0.9" stroke-linejoin="round"/>
<path d="M72 423.2L73 423.6L74 423.2L75 424.2L76 424L77 423.8L78 424.2L79 425.8L80 427L81 427.4L82 425.9L83 425.3L84 424.8L85 424.6L86 425.9L87 425.3L88 425L89 425.3L90 425.1L91 425.3L92 425.2L93 425.1L94 425.8L95 425.1L96 425.6L97 425.4L98 425L99 424.7L100 423.5L101 423.2L102 422.3L103 422.9L104 423L105 423.4L106 424L107 424L108 424.8L109 424.6L110 425.3L111 426.6L112 426.8L113 427.7L114 428L115 428.7L116 429.5L117 429.2L118 428.4L119 428.4L120 426.9L121 425.7L122 425.9L123 424.7L124 424.2L125 423.2L126 422.2L127 421.1L128 421.7L129 422.7L130 422.7L131 424.5L132 425.4L133 424.6L134 425.4L135 426L136 425.3L137 424.9L138 425.2L139 424.7L140 425.1L141 424.7L142 423.5L143 424.5L144 424.2L145 424.7L146 423.9L147 424.3L148 424.1L149 423.6L150 423.9L151 424L152 423.9L153 423.8L154 424L155 424.4L156 425.1L157 425.2L158 425.5L159 425.6L160 425.6L161 425.3L162 426L163 426.3L164 427.3L165 425L166 425.6L167 425.3L168 424.8L169 424.7L170 424.8L171 424.4L172 425.4L173 424.3L174 424.6L175 424.4L176 425.1L177 424.9L178 424.6L179 425.4L180 425.2L181 425.2L182 425L183 425.3L184 424.9L185 425.6L186 425.6L187 425.5L188 425.6L189 426L190 425.9L191 424.9L192 425.4L193 425.7L194 425.2L195 424.7L196 425L197 425.2L198 424.9L199 424.8L200 424.7L201 424.1L202 424.1L203 423.5L204 423.4L205 423.2L206 422.3L207 421.8L208 421.1L209 421.9L210 421.8L211 422.7L212 422.4L213 422.4L214 422.4L215 422.8L216 422.9L217 423.5L218 423.7L219 423.3L220 423.6L221 424.4L222 424.6L223 425.9L224 425.2L225 426.4L226 425.8L227 425.6L228 424.8L229 424.7L230 424.1L231 424.5L232 424.3L233 424.3L234 423.7L235 424.5L236 424.6L237 424L238 423.6L239 423.9L240 423.9L241 423.8L242 424.3L243 424.2L244 423.6L245 424.3L246 424L247 423.4L248 423.1L249 422.8L250 422.7L251 423L252 423.4L253 423.9L254 424.9L255 424.8L256 425.6L257 425.5L258 426.5L259 425.8L260 425.8L261 424.5L262 425.2L263 424.8L264 423.8L265 423.6L266 423.9L267 423.9L268 424.5L269 424L270 425.2L271 423.9L272 424.2L273 424.8L274 425.2L275 425.4L276 426L277 426.1L278 426.8L279 426.6L280 426.6L281 427.1L282 427.3L283 427.3L284 426.9L285 425.9L286 425.3L287 424.4L288 424.9L289 423.7L290 424.2L291 424.1L292 424.1L293 424.2L294 423.9L295 424.4L296 424L297 423.4L298 424.5L299 424.3L300 424.7L301 423.3L302 422.9L303 423.1L304 423L305 422.1L306 420.5L307 420.4L308 421.4L309 421.6L310 421.9L311 421.5L312 421.8L313 422.6L314 422.3L315 423L316 422.9L317 423L318 423.3L319 422.1L320 423.1L321 422.9L322 422.3L323 423.4L324 422.1L325 422.7L326 422.2L327 421.5L328 421.6L329 421.1L330 421L331 421.4L332 420.5L333 420.8L334 420.8L335 421.2L336 421.3L337 421L338 421L339 419.4L340 419.6L341 420.3L342 421.3L343 422.4L344 422.5L345 421.8L346 422.6L347 422.1L348 422.2L349 422.5L350 422.9L351 423.2L352 423.1L353 422.8L354 423L355 423L356 422.4L357 422.9L358 422.2L359 422.5L360 422.7L361 421.4L362 423.3L363 422.2L364 423.7L365 424.5L366 423.8L367 424.8L368 423.3L369 422.9L370 424.1L371 423.6L372 422.6L373 422.6L374 421.4L375 421.4L376 421.5L377 421.4L378 420.4L379 421.1L380 421.6L381 421.6L382 422.3L383 422.5L384 422L385 422.6L386 422.4L387 424L388 423.7L389 423.6L390 422.8L391 422.2L392 422.6L393 421.8L394 422.2L395 423.1L396 423.7L397 424.2L398 425.6L399 425.9L400 426.2L401 427.2L402 427.4L403 427.4L404 427L405 426.8L406 426.5L407 426.2L408 424.6L409 424L410 425.3L411 424.8L412 424.2L413 423.9L414 424.3L415 424.4L416 424.8L417 424.1L418 423.9L419 424.1L420 423.3L421 423.1L422 424.2L423 423.9L424 423.8L425 424.2L426 424L427 424.4L428 424.9L429 424.8L430 426.1L431 426.4L432 426.5L433 428.4L434 427.7L435 427.3L436 428.7L437 428.1L438 428.6L439 429.2L440 428.5L441 428.8L442 428.9L443 427.2L444 427.2L445 427.1L446 426.7L447 427.1L448 426.8L449 425.1L450 423.5L451 422.6L452 421.7L453 422.7L454 422.7L455 423.1L456 425.1L457 424.8L458 424.3L459 423.7L460 423.2L461 422.9L462 421.6L463 420.3L464 421.2L465 421.3L466 423.5L467 425.4L468 426.3L469 427.9L470 429.1L471 427.5L472 425.8L473 423.3L474 421.5L475 422.4L476 421L477 421L478 421.1L479 422.2L480 422.6L481 422.9L482 424.7L483 424.5L484 425.1L485 425.8L486 425.8L487 426L488 425.9L489 425.5L490 426.7L491 427.1L492 427L493 426.3L494 426.4L495 425.6L496 426.6L497 425.2L498 424.2L499 423.6L500 422.9L501 422.7L502 422.1L503 422.3L504 421.5L505 421L506 420.7L507 421.5L508 420.8L509 421.4L510 420.9L511 421.4L512 420.4L513 420.6L514 421.1L515 421.6L516 422.6L517 422.4L518 421.9L519 421.8L520 421.8L521 421.7L522 421.2L523 422.1L524 422.4L525 421.8" stroke="#ff2020" stroke-width="0.9" stroke-linejoin="round"/>
<path d="M71.5 423.1L525.5 423.1" stroke="#000" stroke-width="2" stroke-dasharray="5 2.6"/>
<path d="M72 497.1L72.9 498.1L73.8 490L74.7 488L75.6 485.9L76.5 486.7L77.4 488.6L78.3 491.8L79.2 490L80.1 487.8L81 491.5L81.9 491.3L82.8 488.4L83.7 485.2L84.6 490.3L85.5 492.2L86.4 484L87.3 490L88.2 487.3L89.1 493.5L90 488.4L90.9 491.2L91.8 488.6L92.7 485.8L93.6 485.6L94.5 484.4L95.4 482.7L96.3 478.1L97.2 476.7L98.1 481.1L99 484.7L99.9 484L100.8 489.8L101.7 491.4L102.6 484.7L103.5 485L104.4 483.1L105.3 488.7L106.2 484.7L107.1 488.7L108 488.9L108.9 492.9L109.8 494.6L110.7 493.4L111.6 490.5L112.5 484.4L113.4 487.7L114.3 486.2L115.2 484.1L116.1 487.4L117 487.1L117.9 488.9L118.8 492.3L119.7 485.4L120.6 486.2L121.5 489.2L122.4 490.6L123.3 488.8L124.2 490.8L125.1 487.6L126 480.2L126.9 485.1L127.8 485.5L128.7 485.2L129.6 491.5L130.5 494.4L131.4 486.7L132.3 486.8L133.2 485.1L134.1 484L135 489.6L135.9 487.3L136.8 491.2L137.7 491.2L138.6 489.2L139.5 491.4L140.4 486L141.3 489.4L142.2 493.5L143.1 493L144 496.8L144.9 498.9L145.8 496.5L146.7 496.3L147.6 501.1L148.5 497.3L149.4 490.7L150.3 490.6L151.2 486.8L152.1 483.6L153 481.9L153.9 483L154.8 481.1L155.7 478.8L156.6 482.8L157.5 484.1L158.4 485.9L159.3 485.4L160.2 483.6L161.1 484.9L162 486.8L162.9 485.5L163.8 487.7L164.7 486.3L165.6 486.3L166.5 485.4L167.4 484L168.3 484.2L169.2 483.4L170.1 484.8L171 482.7L171.9 485.5L172.8 483.9L173.7 483L174.6 483.8L175.5 482.1L176.4 487.7L177.3 485.3L178.2 484.3L179.1 486.9L180 486.2L180.9 491.1L181.8 488.2L182.7 483.6L183.6 489.4L184.5 487L185.4 491.9L186.3 498.5L187.2 497.9L188.1 498.6L189 500.6L189.9 503.6L190.8 505.7L191.7 505.7L192.6 502.8L193.5 496.6L194.4 495.9L195.3 496.9L196.2 495.1L197.1 495.8L198 495.4L198.9 500.6L199.8 503.2L200.7 501.3L201.6 501L202.5 500.2L203.4 497.1L204.3 495.4L205.2 494.5L206.1 496.2L207 496.7L207.9 492.7L208.8 492.9L209.7 490.6L210.6 496.4L211.5 491.6L212.4 488.7L213.3 490.9L214.2 494.5L215.1 497.8L216 498.2L216.9 495.6L217.8 490.3L218.7 486.3L219.6 485.1L220.5 481.8L221.4 480.8L222.3 487.3L223.2 489.2L224.1 490.4L225 492L225.9 497L226.8 495.5L227.7 498.1L228.6 498.1L229.5 501.1L230.4 500.2L231.3 497.5L232.2 499.7L233.1 499.7L234 497.4L234.9 500.2L235.8 505.2L236.7 502.5L237.6 500.5L238.5 499.8L239.4 493.2L240.3 493.3L241.2 492.6L242.1 495.4L243 495.5L243.9 496L244.8 493.7L245.7 491.9L246.6 491.3L247.5 492.2L248.4 491.3L249.3 488L250.2 493.8L251.1 488.9L252 487.6L252.9 483.8L253.8 480.4L254.7 487.6L255.6 488.6L256.5 489.5L257.4 490.6L258.3 486.8L259.2 474.7L260.1 461.9L261 460.6L261.9 459.6L262.8 460.8L263.7 461.7L264.6 467.8L265.5 476L266.4 486.1L267.3 491.6L268.2 485.6L269.1 478.4L270 474.1L270.9 469.4L271.8 471.6L272.7 467.7L273.6 469.7L274.5 469.4L275.4 469.1L276.3 468.5L277.2 462.3L278.1 465.8L279 461.5L279.9 460.3L280.8 458.3L281.7 457.7L282.6 456.8L283.5 458.2L284.4 455.4L285.3 456.3L286.2 458.1L287.1 460.3L288 464.3L288.9 464.1L289.8 463.1L290.7 462.7L291.6 462.6L292.5 462.4L293.4 459.2L294.3 457.4L295.2 457.8L296.1 457.1L297 457.8L297.9 458L298.8 454.3L299.7 456.6L300.6 459.4L301.5 459.3L302.4 459.8L303.3 465.7L304.2 462.3L305.1 458.8L306 460.4L306.9 456.4L307.8 461.4L308.7 457.9L309.6 466.3L310.5 468.3L311.4 471L312.3 472.7L313.2 471.4L314.1 472.4L315 470.7L315.9 473.7L316.8 472.9L317.7 469.1L318.6 468L319.5 469.4L320.4 472.5L321.3 479.6L322.2 478.1L323.1 484.5L324 489L324.9 484.2L325.8 493.3L326.7 485.3L327.6 486.4L328.5 486.2L329.4 486.8L330.3 491.1L331.2 484.4L332.1 486.5L333 485.8L333.9 488.5L334.8 486.1L335.7 491.9L336.6 496.4L337.5 498.7L338.4 495.8L339.3 482.7L340.2 481L341.1 478.1L342 481.1L342.9 480.6L343.8 483.3L344.7 483.9L345.6 484.6L346.5 481.9L347.4 474.8L348.3 470.8L349.2 478.6L350.1 485L351 484.8L351.9 488.9L352.8 498.4L353.7 492.4L354.6 479.9L355.5 474.7L356.4 476L357.3 474.2L358.2 473.5L359.1 473.2L360 473.4L360.9 479.5L361.8 482.5L362.7 485.3L363.6 483.8L364.5 480.3L365.4 482.4L366.3 486L367.2 489.7L368.1 492.3L369 491.8L369.9 491.6L370.8 497.9L371.7 493.2L372.6 488.2L373.5 492.6L374.4 489.8L375.3 490.7L376.2 487.3L377.1 487.2L378 488.8L378.9 484.1L379.8 483.9L380.7 481.2L381.6 483.7L382.5 478.8L383.4 477.1L384.3 479.9L385.2 474.7L386.1 476.3L387 477.3L387.9 475.8L388.8 482.7L389.7 485.5L390.6 482.5L391.5 487.2L392.4 492.2L393.3 484.9L394.2 488.8L395.1 486.9L396 489.7L396.9 479.9L397.8 477.7L398.7 478L399.6 474.1L400.5 473.2L401.4 481.6L402.3 485.8L403.2 487.2L404.1 484.3L405 487.5L405.9 491.3L406.8 484.3L407.7 486.6L408.6 486.5L409.5 480.1L410.4 479.2L411.3 482.6L412.2 479.9L413.1 481.3L414 479.9L414.9 477L415.8 477.6L416.7 476.5L417.6 480.3L418.5 476.9L419.4 478.7L420.3 480.1L421.2 474L422.1 480.8L423 481L423.9 480.4L424.8 488.8L425.7 486.1L426.6 478.9L427.5 478.2L428.4 479.1L429.3 486.2L430.2 489.3L431.1 497.8L432 505.9L432.9 505.5L433.8 506.8L434.7 502.7L435.6 500.1L436.5 499.9L437.4 501.1L438.3 501.3L439.2 503.8L440.1 500.5L441 504.4L441.9 503.3L442.8 505L443.7 506L444.6 507.2L445.5 509.9L446.4 512.3L447.3 512.6L448.2 514.5L449.1 509.2L450 505.3L450.9 498L451.8 489.9L452.7 480.8L453.6 468.3L454.5 460.2L455.4 462.1L456.3 464.9L457.2 465.3L458.1 468.7L459 471L459.9 475.5L460.8 477.8L461.7 482.8L462.6 487.7L463.5 491.6L464.4 482.7L465.3 473.3L466.2 462.1L467.1 456.9L468 461.7L468.9 458.8L469.8 468.1L470.7 476L471.6 480L472.5 484.8L473.4 494.7L474.3 499.2L475.2 505.7L476.1 502.7L477 503.1L477.9 502.8L478.8 502.5L479.7 503.5L480.6 503.9L481.5 508.6L482.4 507L483.3 508.8L484.2 506.7L485.1 502L486 491.7L486.9 489.7L487.8 490.6L488.7 489.8L489.6 489.3L490.5 487.7L491.4 486.3L492.3 486.6L493.2 485.8L494.1 482.1L495 477.1L495.9 471.7L496.8 471L497.7 465.9L498.6 470.7L499.5 470.2L500.4 473.6L501.3 472.4L502.2 477.6L503.1 478.3L504 476.6L504.9 477.7L505.8 476.2L506.7 475.4L507.6 477.7L508.5 476.7L509.4 479.4L510.3 481L511.2 480.3L512.1 477.1L513 479.1L513.9 478.9L514.8 480.7L515.7 477.9L516.6 479.7L517.5 480.6L518.4 479.1L519.3 473.6L520.2 476.5L521.1 476.2L522 480.4L522.9 478.7L523.8 482.2L524.7 477.8" stroke="#ff2020" stroke-width="0.9" stroke-linejoin="round"/>
<path d="M72 486.8L72.9 487.5L73.8 483.9L74.7 485.3L75.6 485.2L76.5 486.2L77.4 484.1L78.3 481.1L79.2 483.7L80.1 480.8L81 478.3L81.9 480.3L82.8 480.2L83.7 481.3L84.6 480.1L85.5 480L86.4 480.1L87.3 482.4L88.2 480.4L89.1 481.5L90 482.5L90.9 484.3L91.8 484.2L92.7 483.6L93.6 480.3L94.5 480.6L95.4 482L96.3 475.8L97.2 478.9L98.1 479.3L99 479.5L99.9 478.7L100.8 478.8L101.7 482L102.6 483L103.5 485.4L104.4 481.4L105.3 480.5L106.2 481.2L107.1 482.7L108 481.5L108.9 480.9L109.8 484.5L110.7 486.2L111.6 487.2L112.5 486.9L113.4 482.3L114.3 483.5L115.2 484L116.1 484.7L117 486.2L117.9 484.2L118.8 488L119.7 488L120.6 487.5L121.5 487.3L122.4 488.7L123.3 489.5L124.2 494.9L125.1 494.2L126 491.3L126.9 489.6L127.8 489.9L128.7 490.8L129.6 489.6L130.5 492.1L131.4 490.7L132.3 494.4L133.2 493.6L134.1 490L135 488.8L135.9 490.1L136.8 487L137.7 485.1L138.6 487L139.5 486.4L140.4 486.7L141.3 488L142.2 489.5L143.1 489.9L144 491.5L144.9 495.2L145.8 493.3L146.7 497.3L147.6 494.6L148.5 490.2L149.4 486.8L150.3 482.4L151.2 483.1L152.1 480.8L153 476.5L153.9 477.4L154.8 477.4L155.7 476.4L156.6 479.1L157.5 478L158.4 480.9L159.3 478.1L160.2 477.6L161.1 479.5L162 480.2L162.9 480.2L163.8 480.7L164.7 481L165.6 482.2L166.5 481.8L167.4 479.3L168.3 479.3L169.2 477.4L170.1 478.7L171 478.2L171.9 477L172.8 479.3L173.7 477.7L174.6 481.9L175.5 479.9L176.4 478L177.3 480.5L178.2 479.9L179.1 479.3L180 481.3L180.9 479.6L181.8 483.6L182.7 483.6L183.6 481.6L184.5 485.9L185.4 487.3L186.3 490.3L187.2 492.5L188.1 496.8L189 494.4L189.9 498.6L190.8 498.7L191.7 496.7L192.6 498.2L193.5 496.3L194.4 492.7L195.3 495.2L196.2 496.6L197.1 498.6L198 497.1L198.9 498.4L199.8 500L200.7 501.3L201.6 501.6L202.5 501.1L203.4 498.6L204.3 496.4L205.2 497.3L206.1 498.9L207 496.2L207.9 494.9L208.8 496.2L209.7 496.8L210.6 490.7L211.5 492.1L212.4 492.2L213.3 490.2L214.2 495.4L215.1 499.7L216 495.7L216.9 491.5L217.8 490.7L218.7 488.8L219.6 482.8L220.5 483.6L221.4 483.1L222.3 481.6L223.2 488.6L224.1 488.3L225 489.9L225.9 493.3L226.8 495.9L227.7 494.6L228.6 494.2L229.5 496.5L230.4 495L231.3 493.7L232.2 492.2L233.1 492L234 490.7L234.9 492.5L235.8 496.6L236.7 495.6L237.6 491.9L238.5 487.3L239.4 484L240.3 487.7L241.2 487.3L242.1 491.9L243 488L243.9 489.1L244.8 486.9L245.7 486.6L246.6 484.4L247.5 484.1L248.4 486L249.3 484.3L250.2 483.9L251.1 479.8L252 479.5L252.9 477L253.8 476.7L254.7 482.8L255.6 484.1L256.5 486.4L257.4 489.4L258.3 480.3L259.2 471.3L260.1 460.6L261 459.6L261.9 459.3L262.8 457.1L263.7 461.6L264.6 463.9L265.5 473L266.4 482L267.3 484.7L268.2 481.9L269.1 473.2L270 464.7L270.9 465.3L271.8 466.6L272.7 465.8L273.6 465.8L274.5 466L275.4 466.2L276.3 467.4L277.2 463.1L278.1 463L279 464.1L279.9 464L280.8 462L281.7 464.2L282.6 461.4L283.5 462.1L284.4 461.3L285.3 461.5L286.2 460.2L287.1 461.9L288 465.3L288.9 468L289.8 464.4L290.7 466.9L291.6 464.4L292.5 465.9L293.4 464.7L294.3 465.7L295.2 462L296.1 459.3L297 457.8L297.9 457.5L298.8 456.9L299.7 459L300.6 459.6L301.5 461.2L302.4 459.4L303.3 458.7L304.2 460.9L305.1 460.2L306 459.3L306.9 455.5L307.8 454.8L308.7 459.8L309.6 463.4L310.5 467.3L311.4 464.5L312.3 462L313.2 466.1L314.1 463.3L315 461.9L315.9 466L316.8 468L317.7 466.9L318.6 466.6L319.5 464.6L320.4 468.2L321.3 465.1L322.2 477L323.1 479.4L324 481.7L324.9 480.7L325.8 479.6L326.7 485L327.6 479.9L328.5 480.5L329.4 478.1L330.3 484.1L331.2 480.7L332.1 481.4L333 483.5L333.9 480.6L334.8 480.7L335.7 483.3L336.6 485.8L337.5 487.7L338.4 484.9L339.3 477.9L340.2 472.7L341.1 474.4L342 474.8L342.9 472.2L343.8 472.2L344.7 475.7L345.6 477.3L346.5 472.8L347.4 469.9L348.3 467.3L349.2 470.2L350.1 476.4L351 484.2L351.9 489.8L352.8 493.2L353.7 489.9L354.6 478.7L355.5 475L356.4 476.6L357.3 477.7L358.2 477.7L359.1 477.1L360 478.1L360.9 477.8L361.8 480.7L362.7 484L363.6 487.5L364.5 488.1L365.4 488L366.3 487.6L367.2 491.3L368.1 492.2L369 492.4L369.9 494.7L370.8 493.6L371.7 492.9L372.6 491.3L373.5 490L374.4 488.2L375.3 485L376.2 481.7L377.1 485L378 481.9L378.9 482L379.8 480.6L380.7 477.9L381.6 479.3L382.5 474L383.4 471.2L384.3 472.2L385.2 470.4L386.1 473.3L387 469.4L387.9 472.7L388.8 476.5L389.7 475.5L390.6 479.8L391.5 478.7L392.4 481.4L393.3 480.9L394.2 481.1L395.1 480.5L396 481.4L396.9 474.2L397.8 471.9L398.7 467.8L399.6 471.5L400.5 476.5L401.4 480.2L402.3 479.1L403.2 480.4L404.1 481.6L405 478.1L405.9 480.9L406.8 480.8L407.7 475L408.6 475.1L409.5 476.9L410.4 473.9L411.3 473.4L412.2 472.1L413.1 473.5L414 469.8L414.9 470.3L415.8 469L416.7 470.6L417.6 474L418.5 470.5L419.4 473.2L420.3 471.3L421.2 472.7L422.1 472.5L423 471.2L423.9 470.8L424.8 476.3L425.7 477.2L426.6 479.2L427.5 481.3L428.4 482.5L429.3 488.9L430.2 490.7L431.1 492.1L432 497.6L432.9 493.3L433.8 496.5L434.7 496.2L435.6 495.8L436.5 496.8L437.4 499.1L438.3 496.8L439.2 497.3L440.1 495.8L441 497.3L441.9 496L442.8 499.6L443.7 503L444.6 502.4L445.5 505.7L446.4 508.4L447.3 510.2L448.2 512.4L449.1 507.1L450 503L450.9 493.4L451.8 487.2L452.7 482.5L453.6 471.8L454.5 468.4L455.4 469.3L456.3 466.5L457.2 467.3L458.1 473.3L459 474.2L459.9 474.9L460.8 482.3L461.7 485.4L462.6 488.7L463.5 486.4L464.4 480.8L465.3 472.1L466.2 469.2L467.1 460.2L468 459.8L468.9 460.8L469.8 465.9L470.7 476.5L471.6 482.5L472.5 484.2L473.4 493.1L474.3 497.3L475.2 499.7L476.1 497.1L477 497.3L477.9 496.6L478.8 498.3L479.7 494.8L480.6 499.1L481.5 498.2L482.4 501.6L483.3 496.6L484.2 492.2L485.1 488.1L486 484.1L486.9 480.7L487.8 480.6L488.7 480.4L489.6 478L490.5 480.7L491.4 480L492.3 477.8L493.2 478L494.1 474.6L495 470.7L495.9 466.4L496.8 464.9L497.7 464.1L498.6 465.7L499.5 462.8L500.4 468L501.3 470.5L502.2 470.5L503.1 470.3L504 468.3L504.9 468L505.8 472.2L506.7 473.2L507.6 470.4L508.5 472.6L509.4 470.7L510.3 475.5L511.2 478.4L512.1 477.8L513 479.7L513.9 480.1L514.8 477.1L515.7 479.6L516.6 479.2L517.5 480.1L518.4 479.6L519.3 479.9L520.2 481.3L521.1 481L522 483.9L522.9 480.4L523.8 483L524.7 483.5" stroke="#1a1a1a" stroke-width="0.9" stroke-linejoin="round"/>
<path d="M92.3 544L133.3 557.4L174.7 547.6L216 562L257.6 518.9L298.6 556.6L340 538.5L381.4 557.5L422.8 542.2L463.8 551.8" stroke="#ff0000" stroke-width="1.3"/>
<circle cx="92.3" cy="544" r="1.9" fill="#ff0000"/>
<circle cx="133.3" cy="557.4" r="1.9" fill="#ff0000"/>
<circle cx="174.7" cy="547.6" r="1.9" fill="#ff0000"/>
<circle cx="216" cy="562" r="1.9" fill="#ff0000"/>
<circle cx="257.6" cy="518.9" r="1.9" fill="#ff0000"/>
<circle cx="298.6" cy="556.6" r="1.9" fill="#ff0000"/>
<circle cx="340" cy="538.5" r="1.9" fill="#ff0000"/>
<circle cx="381.4" cy="557.5" r="1.9" fill="#ff0000"/>
<circle cx="422.8" cy="542.2" r="1.9" fill="#ff0000"/>
<circle cx="463.8" cy="551.8" r="1.9" fill="#ff0000"/>
<path d="M92.3 586.1L133.3 586.1L174.7 586.1L216 586.1L257.6 585L298.6 585.6L340 585.8L381.4 586.1L422.8 586L463.8 586.1" stroke="#00dd00" stroke-width="1"/>
<path d="M92.3 585.7L133.3 585.7L174.7 585.7L216 585.7L257.6 584.6L298.6 585.2L340 585.4L381.4 585.7L422.8 585.6L463.8 585.7" stroke="#0000ff" stroke-width="1.6"/>
<circle cx="92.3" cy="585.7" r="1.9" fill="#0000ff"/>
<circle cx="133.3" cy="585.7" r="1.9" fill="#0000ff"/>
<circle cx="174.7" cy="585.7" r="1.9" fill="#0000ff"/>
<circle cx="216" cy="585.7" r="1.9" fill="#0000ff"/>
<circle cx="257.6" cy="584.6" r="1.9" fill="#0000ff"/>
<circle cx="298.6" cy="585.2" r="1.9" fill="#0000ff"/>
<circle cx="340" cy="585.4" r="1.9" fill="#0000ff"/>
<circle cx="381.4" cy="585.7" r="1.9" fill="#0000ff"/>
<circle cx="422.8" cy="585.6" r="1.9" fill="#0000ff"/>
<circle cx="463.8" cy="585.7" r="1.9" fill="#0000ff"/>
<path d="M72 616.8L73 616.6L74 615.6L75 614.4L76 614.1L77 612.4L78 613.1L79 614.9L80 616.7L81 617.9L82 618L83 619.6L84 618.8L85 618.4L86 619.2L87 617.6L88 616.5L89 617.2L90 616.9L91 617.3L92 618L93 618.6L94 618.3L95 618.5L96 618.4L97 617.2L98 614.8L99 612.4L100 611.8L101 608.8L102 610.5L103 610.3L104 610.4L105 611.2L106 612.6L107 613.1L108 611.7L109 611.9L110 611.4L111 612.7L112 609.7L113 606.4L114 604.7L115 602.8L116 601.9L117 600.5L118 601.3L119 601.8L120 603.6L121 604.6L122 607.3L123 610.5L124 611.5L125 610.6L126 610.9L127 610.2L128 609L129 608L130 607.2L131 606L132 605.5L133 605.6L134 605.9L135 606.2L136 606.6L137 607.1L138 607L139 608.1L140 608.5L141 608.8L142 608.1L143 605.9L144 606.5L145 605.9L146 605.2L147 605.5L148 604.4L149 602.6L150 599.8L151 598.3L152 595.9L153 597L154 594.8L155 595.3L156 594.2L157 594.1L158 594L159 594L160 593.4L161 593.4L162 593.2L163 594.2L164 594.3L165 594.3L166 594.7L167 594.9L168 594.8L169 595.4L170 595.1L171 594.5L172 594.4L173 595.3L174 595L175 593.9L176 594.2L177 594.7L178 594.2L179 593.8L180 593.9L181 594.7L182 594.3L183 594.3L184 594.1L185 593.9L186 592.6L187 593L188 591.2L189 590.4L190 590.3L191 590.7L192 591.9L193 592.4L194 593.2L195 594.2L196 596.5L197 599L198 602.1L199 604.7L200 604.6L201 605.2L202 606L203 607.4L204 605.5L205 605.5L206 604.5L207 604L208 602.1L209 603.2L210 603.3L211 602.4L212 602L213 601.6L214 601.5L215 600.1L216 602.2L217 602.9L218 604.4L219 604.2L220 606.3L221 607.9L222 609.5L223 609.9L224 613.9L225 618.9L226 622.3L227 623.6L228 625L229 625.2L230 625.7L231 624.9L232 623L233 620.5L234 618.6L235 617.5L236 616.5L237 617.1L238 616.3L239 616.2L240 615.4L241 613.7L242 614.3L243 614.9L244 613.2L245 613.8L246 612.7L247 613.3L248 612.1L249 611L250 613.7L251 614.5L252 616.9L253 617.7L254 617.6L255 615.9L256 615.5L257 613.2L258 614L259 615.5L260 616.1L261 616.8L262 616.9L263 617L264 615.2L265 614.9L266 613.8L267 612.1L268 610.1L269 612.3L270 613.8L271 614.3L272 614.8L273 614.2L274 614.4L275 615.3L276 614.9L277 613.8L278 614.4L279 614.7L280 614.5L281 615.2L282 615.1L283 615.9L284 614.9L285 614.6L286 614L287 613.6L288 613.4L289 613.6L290 615L291 616.1L292 615.5L293 614.7L294 616.1L295 616.3L296 617.3L297 616.2L298 616.3L299 615.9L300 615.8L301 615.3L302 615.4L303 614.8L304 615.3L305 615.3L306 615.2L307 616.8L308 617.8L309 617L310 617.7L311 619.5L312 621.8L313 622.8L314 623.5L315 624.3L316 624.7L317 626L318 625.7L319 626.6L320 626L321 626.4L322 624.1L323 622.1L324 619.7L325 619L326 618.7L327 619.6L328 617.8L329 618.1L330 617.6L331 617.6L332 615.6L333 614.5L334 612.9L335 612.6L336 611.8L337 611.4L338 611L339 609.5L340 611L341 612.6L342 615.9L343 617.9L344 618.5L345 616.9L346 616.6L347 616.1L348 615.4L349 614.4L350 612.9L351 611.8L352 611L353 608.9L354 608L355 607.4L356 606.3L357 603.5L358 602.8L359 600.9L360 598.9L361 598.4L362 597.4L363 597.4L364 597.5L365 599.4L366 600.8L367 601.2L368 603.1L369 603.5L370 604.8L371 605.5L372 607L373 608.5L374 608.6L375 609.2L376 609L377 608.3L378 608.2L379 608.5L380 608.1L381 607.3L382 607.3L383 606.5L384 607.7L385 606.9L386 606.9L387 607.5L388 608.1L389 609.6L390 609L391 608.3L392 608.7L393 608.9L394 610L395 609.4L396 607.8L397 606.2L398 605.8L399 603.8L400 603.6L401 601.4L402 601.1L403 601.9L404 603.1L405 605.4L406 605.1L407 606.2L408 606.4L409 607L410 607.9L411 607.9L412 607.3L413 606.5L414 605.1L415 604.2L416 604.2L417 604.1L418 602.6L419 602L420 602.4L421 603.6L422 604.2L423 604.5L424 604L425 603.6L426 606.4L427 607.4L428 605.1L429 603.3L430 601.5L431 600L432 601.6L433 604.1L434 605.9L435 606.3L436 606.9L437 607.9L438 609.5L439 609.7L440 608.3L441 608.1L442 606.8L443 606.9L444 606.6L445 606.6L446 606L447 605.5L448 604.4L449 603L450 601.2L451 600.5L452 601.8L453 603.5L454 605L455 604.6L456 607.4L457 607.4L458 607.9L459 608.4L460 608.3L461 608.1L462 608.3L463 607.6L464 607.7L465 608.7L466 608.7L467 610.6L468 610.1L469 609L470 607.6L471 606.6L472 604.7L473 603.4L474 603L475 601.3L476 600.3L477 599.7L478 599.1L479 598.5L480 596.7L481 597L482 595.2L483 599.1L484 602.9L485 605.3L486 605.3L487 605.7L488 606.3L489 606.8L490 606.8L491 607.1L492 608.5L493 609.6L494 610.8L495 610.6L496 612.2L497 614L498 614.5L499 617L500 617.9L501 620.2L502 620.7L503 620.9L504 620.4L505 619.2L506 617.9L507 618.8L508 618.1L509 618.1L510 615.8L511 614.9L512 614.4L513 613.5L514 613.4L515 611.5L516 610.8L517 609.2L518 608.7L519 608.7L520 607.8L521 607.8L522 608.2L523 608.8L524 609L525 609.4" stroke="#2a2a2a" stroke-width="0.9" stroke-linejoin="round"/>
<path d="M72 638.9L73 639.7L74 642L75 641.7L76 640.2L77 638.7L78 636L79 637.6L80 641L81 644.3L82 646.6L83 646.9L84 646.8L85 645.2L86 644.6L87 644.5L88 642.5L89 641.9L90 640.7L91 641.5L92 642.7L93 642.7L94 643.5L95 644.5L96 645.6L97 644.5L98 641.7L99 638.8L100 639.6L101 637.3L102 635.9L103 634.7L104 633.6L105 634.3L106 635.2L107 637.2L108 638L109 636.7L110 636.3L111 634.7L112 631.7L113 629.3L114 627.9L115 627.1L116 627.6L117 626.8L118 629.5L119 631.4L120 633L121 634.3L122 634.8L123 637L124 635.2L125 632.7L126 630.7L127 629.7L128 627.4L129 628.5L130 630.2L131 632L132 633.4L133 635.1L134 633L135 631.8L136 629.2L137 629.1L138 629.5L139 631.2L140 631.5L141 630.3L142 629.5L143 628L144 626L145 629.2L146 629.9L147 632.6L148 627.3L149 624.4L150 619.9L151 617.9L152 615.4L153 614.7L154 612.3L155 611.8L156 610L157 609.8L158 610L159 609L160 608.7L161 608.6L162 608.5L163 609.7L164 610.5L165 611.6L166 612.3L167 610.4L168 609.1L169 609L170 609.8L171 607.4L172 607.3L173 605.3L174 606.3L175 606.5L176 606.6L177 606.9L178 607L179 609.3L180 609.1L181 610L182 610L183 612.2L184 612.4L185 612.2L186 613.3L187 612.9L188 614.6L189 614.5L190 616.8L191 619L192 620.6L193 621.4L194 621.6L195 622.7L196 623.5L197 625L198 626.3L199 628.7L200 631.6L201 632.6L202 632.2L203 632.9L204 632.2L205 631L206 628.8L207 625.8L208 624.3L209 625.8L210 627.9L211 629.1L212 631.6L213 630.8L214 628.8L215 626.9L216 624.3L217 622.9L218 624.3L219 624.6L220 624.4L221 626.8L222 629.6L223 630.5L224 633.6L225 637.8L226 642.7L227 645.3L228 648.3L229 650.4L230 651.6L231 649.5L232 646.9L233 645.9L234 642.3L235 641.2L236 636.6L237 635.1L238 632.7L239 632.3L240 633.8L241 634.6L242 635.5L243 634.9L244 634.4L245 632.2L246 631.5L247 630.9L248 630L249 632.5L250 634.3L251 637.2L252 636.2L253 634.5L254 631.3L255 629.2L256 625.9L257 622.4L258 620.6L259 619.9L260 619.2L261 618.4L262 618.8L263 618.4L264 618.2L265 615.5L266 615.2L267 614.1L268 615.2L269 617.1L270 618.7L271 618.1L272 619.4L273 618.9L274 619.1L275 617.5L276 618.9L277 616.9L278 616.8L279 616L280 616.3L281 616.1L282 615.8L283 614L284 614.8L285 615.1L286 614.5L287 613.3L288 613.5L289 613.8L290 615.5L291 615.8L292 616.7L293 616.6L294 617.7L295 618.6L296 620.9L297 620L298 620.9L299 622.3L300 621.9L301 623.4L302 623.6L303 622.7L304 622.6L305 621.4L306 621.4L307 620.5L308 622L309 623.1L310 623.7L311 623.1L312 623.2L313 622.9L314 623.9L315 624.2L316 623.9L317 623.3L318 622.7L319 621.7L320 622.2L321 622.4L322 622.4L323 621.6L324 622.2L325 622.5L326 622.6L327 622.2L328 623.2L329 623.6L330 625.6L331 626.8L332 625.2L333 627.9L334 628.9L335 629.8L336 628.2L337 624.5L338 622.5L339 618.4L340 615.2L341 610.2L342 607.7L343 607.7L344 606.8L345 606L346 605.9L347 605.7L348 607L349 607.7L350 608.4L351 610.1L352 613.8L353 616.4L354 618.2L355 616.5L356 614.7L357 613.2L358 611.1L359 610.7L360 610.3L361 608.7L362 609.8L363 609.3L364 611.3L365 614.4L366 615.6L367 617.6L368 618.8L369 619.7L370 620.2L371 619.8L372 619.4L373 618.7L374 615.9L375 614.8L376 610.8L377 606.2L378 605.3L379 605.5L380 606.3L381 608.9L382 611.4L383 616.1L384 619.4L385 623.6L386 623.8L387 624.5L388 624.9L389 626.7L390 627.7L391 627.7L392 627.8L393 626.6L394 623L395 621.8L396 618.2L397 615.6L398 613.1L399 609.1L400 606.9L401 606.6L402 604L403 602.6L404 602.8L405 601.3L406 598.1L407 599.8L408 601.4L409 603.9L410 600.3L411 597.7L412 600.2L413 602.7L414 605.9L415 603.5L416 604.2L417 608.1L418 608.9L419 612.4L420 615.5L421 616.7L422 616.3L423 615L424 611.4L425 605.4L426 602.3L427 609.6L428 615L429 612.6L430 612.3L431 615.8L432 621.5L433 626L434 628.7L435 628.2L436 629.4L437 628.4L438 628.9L439 628.3L440 627.5L441 626.4L442 627L443 627.5L444 626.3L445 623.3L446 620.7L447 617.7L448 614.6L449 612.7L450 610.4L451 608.1L452 607.6L453 604.4L454 607.5L455 609.5L456 607L457 603.1L458 599.6L459 599.2L460 598.7L461 597.7L462 597.4L463 598.6L464 599.3L465 600.7L466 603.2L467 606.8L468 609L469 608.8L470 607.4L471 606.6L472 608.1L473 611.7L474 612.8L475 613.9L476 612.7L477 612.1L478 611.9L479 611.6L480 611.8L481 612.2L482 612L483 611.4L484 609L485 608.1L486 606.1L487 604L488 602.2L489 600L490 597.1L491 595.5L492 593.6L493 590.6L494 590L495 591.7L496 593.9L497 596.1L498 596.5L499 596.4L500 595.3L501 597.5L502 599.1L503 602.2L504 603.2L505 603.8L506 604.5L507 604.5L508 604.7L509 605L510 605.4L511 606.5L512 607L513 607.6L514 606.7L515 607.1L516 607.5L517 608L518 607.5L519 607.9L520 607.7L521 608L522 608.1L523 608.8L524 609.2L525 608.7" stroke="#ff2020" stroke-width="0.9" stroke-linejoin="round"/>
<path d="M72 717.4L73 717.2L74 717.8L75 717.4L76 717.5L77 717.8L78 717.3L79 717.3L80 717.5L81 717.2L82 718.2L83 718L84 716.9L85 717.2L86 717.1L87 717.5L88 717.6L89 717.6L90 716.9L91 717.7L92 717.7L93 718L94 717.5L95 717.4L96 717.5L97 717.5L98 717L99 717.1L100 717.4L101 717.8L102 717.5L103 716.9L104 717.3L105 717.6L106 716.9L107 717.9L108 717.3L109 718.1L110 717.3L111 717.4L112 717.6L113 717.5L114 717.2L115 717.5L116 717.4L117 717.6L118 717.4L119 717.6L120 717.4L121 716.9L122 716.9L123 717.4L124 717.7L125 717.8L126 717.4L127 716.9L128 717.4L129 717.3L130 716.6L131 716.8L132 717L133 717.6L134 716.8L135 717.2L136 717.6L137 717.1L138 717.1L139 717.5L140 716.8L141 717.6L142 717.4L143 717.3L144 716.9L145 717.5L146 716.9L147 716.5L148 717.1L149 717.4L150 717.3L151 716.7L152 716.7L153 716.8L154 717L155 716.5L156 716.2L157 716.6L158 716.6L159 716.4L160 716.7L161 716.5L162 716.6L163 716.8L164 717L165 716.4L166 716.7L167 716.6L168 716.5L169 717.1L170 716.8L171 716.7L172 716.9L173 716.8L174 716.9L175 716.4L176 717.4L177 717.1L178 717.1L179 717.1L180 717.3L181 716.9L182 717.5L183 718L184 717.4L185 717.8L186 718L187 718.1L188 718.3L189 717.9L190 718.6L191 719.1L192 718.5L193 717.8L194 717.9L195 717.6L196 718L197 718.7L198 717.5L199 718.7L200 718.1L201 718.2L202 718L203 717.9L204 718.4L205 718L206 718.2L207 717.9L208 717.7L209 717.7L210 718.1L211 718.4L212 718.5L213 717.9L214 717.5L215 718.5L216 718L217 717.5L218 717.7L219 718.3L220 718.3L221 718.2L222 718.1L223 717.7L224 717.9L225 717.9L226 718L227 717.9L228 718.1L229 717.9L230 718.7L231 718.1L232 717.9L233 718.6L234 718.1L235 717.9L236 718.8L237 718.1L238 717.7L239 718.6L240 718L241 718.1L242 718L243 718.5L244 718L245 717.7L246 717.7L247 717.8L248 718L249 718L250 718.3L251 718.3L252 718L253 717.9L254 718.2L255 717.8L256 717.1L257 717L258 716.3L259 716.8L260 716L261 716L262 715.6L263 715L264 715.8L265 716L266 715.9L267 716.7L268 717.2L269 716.6L270 717L271 716.3L272 715.8L273 716.1L274 715.8L275 715.8L276 715.7L277 715.8L278 715.7L279 715.4L280 715.7L281 715.4L282 715.5L283 715.7L284 714.7L285 715.3L286 715L287 715.1L288 715.1L289 715L290 715.1L291 715.1L292 715.1L293 715.3L294 715.7L295 715.2L296 714.9L297 714.8L298 715L299 715.6L300 715.5L301 715.2L302 715.1L303 715.3L304 715.2L305 714.8L306 715.8L307 715.1L308 715.6L309 716.2L310 716L311 715.9L312 715.6L313 715.8L314 716.1L315 716.1L316 716.2L317 716.4L318 716.5L319 716.3L320 716.3L321 716.6L322 716.4L323 716.6L324 716.8L325 716.3L326 716.6L327 716.4L328 716.8L329 716.7L330 717.1L331 716.8L332 717.5L333 717.3L334 717.8L335 717.6L336 717.2L337 717.1L338 717.5L339 717.1L340 717.4L341 717.3L342 717L343 716.2L344 717.2L345 717.6L346 717.1L347 717L348 716.6L349 716.8L350 716.9L351 716.1L352 717L353 716.5L354 716.8L355 716.3L356 716.7L357 717.1L358 716.9L359 716.6L360 716.8L361 717L362 717.2L363 717.4L364 716.7L365 716.5L366 717L367 716.6L368 716.9L369 717.4L370 716.9L371 717.6L372 717.2L373 717.2L374 717.1L375 717.7L376 717.2L377 717.2L378 716.8L379 717.1L380 717.1L381 716.7L382 716.8L383 716.9L384 716.2L385 717.1L386 717.3L387 716.9L388 717.3L389 717L390 717.2L391 717.3L392 717L393 716.9L394 717.2L395 716.6L396 716.9L397 716.4L398 717.1L399 717L400 716.7L401 716.6L402 716.9L403 716.4L404 716.5L405 716.8L406 716.4L407 716.7L408 716.4L409 716.3L410 716.3L411 716.2L412 716.8L413 715.8L414 715.9L415 716.9L416 716.2L417 716.2L418 715.8L419 716.2L420 716.1L421 716.4L422 716.8L423 716.7L424 716.9L425 717L426 717.5L427 717.6L428 717.9L429 717.4L430 717.9L431 718L432 717.8L433 718L434 718.2L435 718.6L436 718.2L437 718.9L438 718.2L439 717.8L440 718.7L441 718.4L442 718.4L443 718.9L444 718.7L445 718.2L446 717.4L447 717.6L448 717L449 716.5L450 716.3L451 715.9L452 715L453 714.8L454 714.9L455 714.9L456 714.5L457 714.5L458 714.4L459 714.8L460 714.4L461 714.5L462 715.6L463 716.4L464 716.1L465 717L466 717.7L467 717.5L468 716.5L469 717.4L470 717.9L471 717.9L472 717.4L473 717.6L474 718.5L475 718L476 717.9L477 717.6L478 718.1L479 718.2L480 718.7L481 718.6L482 718.6L483 718.4L484 717.8L485 718.2L486 718L487 717.9L488 717.5L489 716.8L490 716.4L491 716.6L492 716.8L493 716.1L494 715.9L495 715.9L496 715.6L497 715L498 714.5L499 714.8L500 715.5L501 715.2L502 715L503 716L504 715.7L505 716.2L506 715.6L507 715.3L508 716.1L509 715.9L510 715.5L511 715.4L512 715.8L513 715L514 715.2L515 715.6L516 715.3L517 715.6L518 715.9L519 716L520 716L521 715.4L522 715.4L523 716L524 715.9L525 716" stroke="#ff2020" stroke-width="0.9" stroke-linejoin="round"/>
<path d="M72 701.4L73 701.9L74 701.4L75 701.8L76 703.3L77 702.8L78 703.3L79 701.6L80 701.7L81 701.4L82 701.6L83 700.1L84 700.3L85 700.3L86 699.8L87 699.9L88 698.7L89 699.7L90 698.5L91 699.9L92 701L93 701.4L94 702.2L95 701.8L96 703.2L97 703.4L98 704.5L99 705.2L100 706.6L101 706.5L102 706.6L103 706.7L104 706.9L105 707.3L106 707.8L107 706.9L108 706.3L109 704.4L110 704L111 706.4L112 709.5L113 712.2L114 714.9L115 713.3L116 711.4L117 710.7L118 709.1L119 708.6L120 707.1L121 705.6L122 705.1L123 703.5L124 702.6L125 703.6L126 704.9L127 706.1L128 705.5L129 705.4L130 704.6L131 703.5L132 705.3L133 705.4L134 707.4L135 707.7L136 707.4L137 706.9L138 707.5L139 707.7L140 707.1L141 706.8L142 707.2L143 707.7L144 706.2L145 704.9L146 704.2L147 704L148 706.7L149 709L150 711.3L151 713.6L152 716L153 717.8L154 719.2L155 716.9L156 718.1L157 719L158 719.8L159 719.1L160 719.4L161 719L162 718L163 717.7L164 717.8L165 717.1L166 716.5L167 716.8L168 716.8L169 718L170 719L171 719.9L172 718.2L173 719.1L174 717.9L175 718.5L176 719.2L177 719.2L178 717.6L179 718.7L180 719L181 717.5L182 718.3L183 717.4L184 717.1L185 715.6L186 714.2L187 713.6L188 713L189 710.4L190 709.4L191 707.7L192 708.2L193 707.1L194 707L195 706.9L196 706.2L197 706.2L198 705L199 703.8L200 702.9L201 700.9L202 701.1L203 702.2L204 702.5L205 703.3L206 705.2L207 705L208 705.2L209 706.8L210 707.3L211 709.1L212 707.5L213 706.5L214 707.4L215 705L216 704.8L217 706.6L218 709.4L219 709.7L220 709.5L221 709.4L222 708.5L223 705.6L224 702.1L225 697.8L226 696.6L227 696L228 694.9L229 691.7L230 692.3L231 692.6L232 694.1L233 695.1L234 697.7L235 696.5L236 696L237 697.3L238 696.6L239 697.4L240 697.3L241 698.9L242 698.2L243 698.2L244 698.8L245 699.4L246 700.2L247 701.7L248 701.8L249 701.3L250 700.7L251 700.8L252 700.9L253 700.7L254 701.3L255 700L256 699.4L257 699.2L258 701.2L259 703.7L260 706.4L261 709.6L262 709.9L263 711.9L264 709.9L265 708.9L266 707.7L267 705.9L268 707.6L269 708.8L270 711.2L271 712.4L272 712.9L273 713.1L274 714.1L275 714.8L276 715.7L277 715.5L278 715L279 716.2L280 715.6L281 715.2L282 714.8L283 712.2L284 712.9L285 712.4L286 711.5L287 709.8L288 708.8L289 708.9L290 707.7L291 708.8L292 710L293 708.8L294 709.5L295 709.6L296 710L297 710.4L298 710.9L299 708.8L300 708.8L301 709.4L302 709.1L303 709.1L304 709.7L305 708.8L306 709.2L307 709.5L308 709.2L309 708.1L310 706.7L311 706.1L312 707L313 706.3L314 705.3L315 705.1L316 705.4L317 705.3L318 705.7L319 705.4L320 705.3L321 705.2L322 704.4L323 703.5L324 702.4L325 703L326 702.4L327 703.8L328 703.6L329 705L330 706L331 705.4L332 705.7L333 706.6L334 707.2L335 707.6L336 708.5L337 708.7L338 708.8L339 710L340 710.3L341 710.6L342 712L343 711.3L344 711L345 710.1L346 710.4L347 713.3L348 714.8L349 714.6L350 711.8L351 707.5L352 704.6L353 703.6L354 706.6L355 710.2L356 713.6L357 716.5L358 718L359 718.3L360 718.6L361 718L362 715.5L363 715.2L364 713.6L365 711.9L366 710.9L367 709.5L368 708.6L369 708L370 707.3L371 706.3L372 706.6L373 706L374 703.5L375 703.8L376 702.2L377 701.4L378 699.5L379 700.1L380 700.4L381 701.9L382 701.6L383 701.2L384 701.7L385 701.7L386 700.2L387 698.6L388 698.7L389 697.4L390 697L391 696.5L392 697.6L393 697.1L394 698.8L395 699.3L396 703.6L397 706.4L398 710.5L399 715.6L400 714.2L401 714L402 712.4L403 713.3L404 714.6L405 715.7L406 718.1L407 718.3L408 719.7L409 720.1L410 720.9L411 721.9L412 721L413 720.3L414 721.3L415 721L416 722.1L417 721.3L418 719.7L419 720.8L420 720.7L421 719.6L422 718.5L423 717.6L424 715.4L425 716.2L426 717L427 716.5L428 712.8L429 709.4L430 707L431 706.1L432 704.3L433 703.9L434 704.8L435 705L436 707.5L437 707L438 706.9L439 706.5L440 705.8L441 705.3L442 703.7L443 703.6L444 702.3L445 701.3L446 699.7L447 697.9L448 697.9L449 698L450 701.3L451 706.1L452 709L453 711.2L454 713.5L455 714.5L456 713.5L457 711.9L458 711.2L459 709.7L460 709.5L461 711L462 711.3L463 711.9L464 711L465 713.1L466 713.7L467 714.4L468 715.7L469 716.2L470 712.5L471 710.9L472 708.2L473 706.9L474 706.9L475 707L476 706.9L477 707L478 706.6L479 706.3L480 705.5L481 705.1L482 705.5L483 704.5L484 707.2L485 709L486 710L487 709.3L488 709.7L489 710.1L490 709.6L491 711.9L492 710.8L493 711.2L494 711L495 710L496 709.1L497 710.4L498 708.9L499 709L500 707.8L501 709.7L502 709.3L503 707.6L504 707.2L505 707.8L506 706.7L507 706.9L508 709.7L509 709.6L510 708.9L511 710.1L512 710.1L513 711.5L514 711.2L515 712.8L516 711.6L517 711.7L518 712.3L519 711.9L520 711.4L521 709.9L522 711L523 709.7L524 711.3L525 711.2" stroke="#2a2a2a" stroke-width="0.9" stroke-linejoin="round"/>
<path d="M72 693.3L73 693.3L74 693.9L75 693.5L76 693.6L77 692.9L78 693.4L79 692.5L80 693L81 693.1L82 692.9L83 693.5L84 692.8L85 692.5L86 692.7L87 692.9L88 692.7L89 691.5L90 691L91 691.6L92 691.5L93 691.4L94 691.8L95 691.1L96 691.4L97 691.4L98 690.7L99 690.4L100 690.2L101 689.9L102 689.6L103 689.1L104 688.7L105 688.5L106 688.1L107 688.9L108 689.7L109 689.8L110 690.2L111 690.1L112 688.2L113 686.6L114 686.6L115 685L116 685.9L117 687L118 686.9L119 688.1L120 690.9L121 691.1L122 692.1L123 692.9L124 692.2L125 691.8L126 690.5L127 689.7L128 690.4L129 690.4L130 690.8L131 691.4L132 691.6L133 691.7L134 691.3L135 690.3L136 690.6L137 690.2L138 690L139 689.6L140 689L141 689.9L142 689.6L143 689.1L144 688.8L145 690.2L146 690.2L147 691L148 688.7L149 685.8L150 682.4L151 680.8L152 679.9L153 678.8L154 677.5L155 676.7L156 674.8L157 675.4L158 674.5L159 674.4L160 674.3L161 674.1L162 674.1L163 675L164 675.1L165 675.8L166 676.9L167 676L168 674.7L169 674.5L170 674.4L171 674.1L172 673.9L173 674.5L174 674.2L175 674L176 675.2L177 675.3L178 675.2L179 675.5L180 675.5L181 676L182 677.3L183 678.2L184 678.4L185 680.3L186 681.3L187 682.3L188 683.8L189 685L190 685.5L191 686.7L192 687.1L193 687.4L194 687.7L195 688.5L196 690L197 691.3L198 692.8L199 694.6L200 695.3L201 695.5L202 694.3L203 693.2L204 691.9L205 691.9L206 691.1L207 691.2L208 690.3L209 690L210 689.7L211 690L212 689.5L213 689L214 689.8L215 690.2L216 688.8L217 687.4L218 686.3L219 686.6L220 686.9L221 686.8L222 688.1L223 690.5L224 693.2L225 694.6L226 696.4L227 698.2L228 699.1L229 701.3L230 700.7L231 699.9L232 698.1L233 696.9L234 696.7L235 697.2L236 696.3L237 695.4L238 694.6L239 695.5L240 694.8L241 694.7L242 693.2L243 693.4L244 692.7L245 692.5L246 693L247 691.2L248 691.4L249 690.7L250 690.9L251 690.8L252 690.6L253 690.5L254 691.5L255 691.6L256 690.8L257 687.4L258 683.8L259 680.7L260 679.7L261 678.9L262 678.5L263 680.3L264 682.2L265 683.5L266 684.9L267 685.1L268 684L269 683.2L270 682.7L271 682.3L272 682.9L273 682.7L274 682.8L275 682.2L276 682.2L277 681.8L278 681.5L279 681.2L280 681.6L281 680.7L282 679.5L283 679.7L284 679.9L285 680.1L286 680.3L287 680.9L288 680.8L289 680.8L290 681.7L291 681.3L292 681.5L293 681.9L294 681.6L295 681.6L296 680.7L297 681.4L298 681.6L299 681.1L300 681.4L301 680.9L302 680.7L303 681L304 681L305 680.5L306 681.6L307 680.9L308 681.4L309 682.6L310 684.2L311 685.1L312 685.8L313 685.2L314 686.4L315 686.3L316 687.1L317 687.6L318 687.2L319 688L320 688.2L321 688.4L322 688.9L323 689.4L324 689.4L325 690.3L326 689.5L327 691.3L328 690.9L329 690.7L330 691L331 690.3L332 690L333 689.5L334 688.7L335 689.4L336 689.2L337 688.7L338 686.8L339 685.2L340 684.1L341 682.5L342 683.3L343 683.9L344 684.4L345 684.8L346 683.8L347 682L348 681.9L349 682.4L350 684.4L351 686L352 688.6L353 689.5L354 687.7L355 686.1L356 683.6L357 681.8L358 679.4L359 677.8L360 679.3L361 680.4L362 680.7L363 680.9L364 681.6L365 683.3L366 684.5L367 686.2L368 686.8L369 688L370 689.3L371 689.6L372 689.5L373 688.7L374 686.8L375 685.4L376 684L377 683.7L378 682.7L379 681.7L380 682.1L381 682.5L382 682.4L383 682.8L384 682L385 683.4L386 683.7L387 684.5L388 685.1L389 685.8L390 686.6L391 686.6L392 685.9L393 684.1L394 684.4L395 684.8L396 683.9L397 682L398 678.9L399 675.6L400 675.5L401 676.5L402 676.9L403 678.2L404 678.9L405 678.4L406 678.3L407 677.4L408 677.2L409 676.3L410 676.5L411 676.3L412 676.7L413 677.3L414 676.3L415 676.2L416 676.4L417 676L418 676.2L419 676.6L420 676.9L421 677.8L422 677.7L423 677.6L424 678.2L425 678.6L426 680.1L427 681.5L428 683.2L429 684.1L430 685.9L431 687.5L432 690.4L433 692.1L434 693L435 694L436 694.7L437 694.9L438 695L439 695.8L440 695.5L441 696.2L442 696.2L443 696.7L444 696.9L445 697.3L446 696.5L447 695.4L448 693.8L449 692.4L450 689.3L451 683.9L452 680.4L453 676.8L454 675.5L455 674L456 674.7L457 676.6L458 678L459 679L460 679.9L461 680.9L462 682.2L463 683.9L464 683.4L465 680.4L466 678.5L467 675.1L468 674.2L469 677.6L470 681.6L471 684.4L472 686.7L473 688.1L474 689.2L475 690.3L476 690.2L477 689.6L478 688.8L479 688.4L480 688.1L481 688.3L482 688.7L483 688.4L484 687.9L485 686.8L486 684.2L487 683.1L488 681.8L489 680.9L490 680.4L491 679.6L492 679L493 678.2L494 677L495 676.4L496 675.6L497 674.7L498 675L499 676.4L500 679L501 679.1L502 681.8L503 681.3L504 681.5L505 682.1L506 682L507 682.6L508 683L509 683.6L510 683.6L511 683.4L512 684L513 684.1L514 684.6L515 684.4L516 683.7L517 683.2L518 683.3L519 682.9L520 682L521 681L522 681.2L523 681.4L524 682L525 682.7" stroke="#2ef52e" stroke-width="0.9" stroke-linejoin="round"/>
<path d="M72 669.1L73 668.9L74 669.6L75 668.4L76 668.7L77 668.4L78 669.5L79 668.3L80 668.8L81 668.5L82 668.5L83 668.1L84 669L85 668L86 669L87 668L88 668.4L89 668.1L90 668.6L91 668.8L92 669.1L93 668.7L94 668.6L95 668.9L96 669.8L97 669.3L98 670L99 670.3L100 671.2L101 670.8L102 671.3L103 671L104 672.1L105 671.8L106 671.9L107 671.2L108 671.7L109 672.1L110 672.6L111 671.7L112 671.6L113 672.4L114 672.5L115 671.8L116 671.7L117 672L118 670.5L119 670.8L120 672.7L121 671.3L122 671.6L123 672.1L124 673L125 672.7L126 671.9L127 673L128 672.8L129 672.3L130 673.2L131 671.7L132 672L133 672.8L134 671.9L135 672.6L136 672.2L137 672.3L138 671.9L139 672.3L140 671.8L141 672L142 670.8L143 670.5L144 670.6L145 670.4L146 670.4L147 670.6L148 669.7L149 670.3L150 669.9L151 669.1L152 668.8L153 667.9L154 669L155 668.8L156 668.1L157 667.6L158 667.6L159 667.5L160 668.6L161 667.3L162 668.4L163 668.7L164 668.1L165 668L166 668.3L167 667.6L168 668.2L169 668.1L170 667.9L171 667.4L172 667.6L173 668.7L174 668.1L175 668.7L176 668.7L177 668.2L178 667.9L179 668.5L180 668.4L181 669.1L182 669.7L183 670L184 669.6L185 670.4L186 669.6L187 670.2L188 671.5L189 670.5L190 671.3L191 671.5L192 670.4L193 670.6L194 671L195 671.4L196 672.2L197 672.4L198 672.3L199 673.1L200 673.2L201 672.6L202 673.6L203 672.6L204 673.2L205 672.6L206 672L207 671.8L208 671.6L209 671.6L210 672.1L211 671.8L212 672L213 672.1L214 671.4L215 671.9L216 671.2L217 670.6L218 671.1L219 671L220 669.5L221 670.3L222 670.6L223 670.8L224 670.2L225 670.7L226 669.4L227 669L228 670.2L229 669.3L230 669.4L231 669.2L232 669L233 668.4L234 669.1L235 667.9L236 668.1L237 668.2L238 668.1L239 667.7L240 667.9L241 667.7L242 667.4L243 668.5L244 668.4L245 669L246 668.4L247 667.7L248 666.6L249 667L250 667L251 666.2L252 665.7L253 665.6L254 665.3L255 665.4L256 665.2L257 664.5L258 665L259 663.4L260 662.5L261 660.9L262 661.5L263 662.6L264 663.9L265 665.7L266 667L267 667.1L268 667.3L269 666L270 667.3L271 667.7L272 668.1L273 668.1L274 668L275 667.9L276 668L277 667.2L278 668L279 666.5L280 665.9L281 666L282 665.4L283 665.4L284 664.5L285 663.6L286 663L287 662.5L288 663.8L289 664L290 663.1L291 663.1L292 663.1L293 664.2L294 663.1L295 662.9L296 663.2L297 663.3L298 663.1L299 662.7L300 662.6L301 662.9L302 663L303 663.2L304 661.9L305 663L306 662.6L307 663.1L308 662.6L309 663.7L310 663.8L311 664.9L312 664.7L313 665.8L314 665.5L315 666.6L316 666.5L317 667L318 667.1L319 667.1L320 668.2L321 669.4L322 668.6L323 668.5L324 668.6L325 669.2L326 669.1L327 670.9L328 671L329 670.9L330 671.9L331 671.8L332 672.7L333 673.5L334 673.6L335 674.1L336 674.1L337 672.4L338 670.9L339 669.2L340 667.7L341 666.5L342 665.3L343 666.8L344 667.1L345 668L346 668.3L347 669.2L348 669.1L349 670.1L350 669.9L351 670.5L352 670.5L353 671.6L354 670.4L355 671.1L356 670.9L357 671.2L358 669.9L359 669.7L360 670.6L361 671.5L362 671.7L363 671.8L364 672.4L365 672.9L366 673.6L367 673.3L368 674.4L369 673.6L370 673.6L371 672.5L372 672.4L373 672.1L374 670.8L375 668.7L376 665.3L377 664.4L378 661.5L379 661.1L380 661.5L381 662.6L382 661.5L383 660.7L384 660.5L385 658.7L386 659.3L387 657.6L388 658.7L389 658.4L390 658.7L391 658.2L392 658.4L393 659.4L394 660.1L395 660.2L396 661.5L397 661.9L398 662L399 661.6L400 662.2L401 663L402 665.6L403 666.8L404 668L405 670.1L406 670L407 671.8L408 672.3L409 671.7L410 672.1L411 672.3L412 672.1L413 671.2L414 670.3L415 669.6L416 670.8L417 671L418 671.5L419 671.4L420 672.3L421 671.1L422 670.2L423 669.8L424 669.4L425 668.1L426 667.9L427 668.2L428 669.6L429 670.8L430 671.4L431 671.4L432 673.3L433 673.8L434 675.5L435 674.5L436 675.7L437 675.5L438 677.5L439 677.6L440 677.3L441 677.3L442 676.1L443 675L444 674.1L445 673.9L446 673.6L447 673L448 671.7L449 670.5L450 669L451 667.4L452 665.6L453 664.3L454 661.9L455 660L456 660.3L457 661.7L458 661.3L459 662.1L460 663.9L461 664.1L462 666.4L463 667.5L464 667.8L465 666.4L466 664.5L467 662.6L468 662.7L469 663.3L470 666.2L471 667.8L472 670L473 671.7L474 673.1L475 673.8L476 674.5L477 673.9L478 674.5L479 673.7L480 672L481 670.6L482 670L483 668.7L484 669.5L485 667.6L486 667.1L487 666.1L488 665.1L489 664.8L490 664.1L491 663.8L492 663.1L493 661.6L494 661L495 660.2L496 660L497 658L498 658.1L499 659.4L500 660.2L501 661.4L502 662.7L503 663.6L504 663.2L505 664.4L506 665.2L507 665.3L508 665.5L509 665.4L510 666.6L511 666.4L512 667.3L513 669L514 669.6L515 670.6L516 671L517 670.7L518 669.8L519 668.9L520 667L521 667L522 666.8L523 667L524 668.4L525 669.1" stroke="#1a1aff" stroke-width="0.9" stroke-linejoin="round"/>
<path d="M668.6 79L1122.5 79" stroke="#000" stroke-width="1.0" stroke-dasharray="4.5 2.6"/>
<path d="M669.1 50L669.9 50.7L670.7 50.3L671.5 51.7L672.3 50.1L673.1 51.9L673.9 53.4L674.7 52.6L675.5 54.2L676.3 52.7L677.1 52.9L677.9 52.3L678.7 52.6L679.5 52.8L680.3 51.5L681.1 50.3L681.9 49.8L682.7 49.9L683.5 52.1L684.3 51.3L685.1 51.4L685.9 50.8L686.7 49.9L687.5 50L688.3 50.9L689.1 50.8L689.9 51L690.7 51.6L691.5 52.6L692.3 51.7L693.1 52.7L693.9 53.2L694.7 53.7L695.5 53.5L696.3 53.1L697.1 52.6L697.9 54.3L698.7 54.8L699.5 55.1L700.3 55.2L701.1 55.8L701.9 56.2L702.7 56L703.5 55.5L704.3 58.4L705.1 57.6L705.9 56.6L706.7 56L707.5 55.7L708.3 54.9L709.1 55.7L709.9 58.5L710.7 59.5L711.5 61.4L712.3 60.7L713.1 60.2L713.9 57.4L714.7 59.2L715.5 57L716.3 55.9L717.1 56.9L717.9 56.3L718.7 55.4L719.5 53L720.3 53.9L721.1 53L721.9 51.6L722.7 52.9L723.5 55L724.3 56.4L725.1 55.2L725.9 54.9L726.7 53.1L727.5 52.8L728.3 54L729.1 53.9L729.9 55.7L730.7 57.6L731.5 55.1L732.3 56.9L733.1 55.3L733.9 55.9L734.7 55.3L735.5 53.7L736.3 53.7L737.1 53.6L737.9 54.4L738.7 54.1L739.5 53.7L740.3 53.3L741.1 52.7L741.9 51.7L742.7 53.2L743.5 53.6L744.3 52.5L745.1 53.9L745.9 55.7L746.7 58.9L747.5 61.2L748.3 63L749.1 64.7L749.9 66.2L750.7 69.8L751.5 69.9L752.3 69.3L753.1 69L753.9 67.8L754.7 68.5L755.5 69.5L756.3 69L757.1 70.6L757.9 70.5L758.7 71.6L759.5 69.6L760.3 67.5L761.1 67.7L761.9 65.9L762.7 65.5L763.5 64.5L764.3 66.5L765.1 67.6L765.9 68.8L766.7 69.7L767.5 69.2L768.3 70.4L769.1 70.2L769.9 70.2L770.7 70.3L771.5 70.5L772.3 69.1L773.1 68.1L773.9 68L774.7 68.4L775.5 68.1L776.3 68.7L777.1 68.2L777.9 68.8L778.7 67.5L779.5 66.9L780.3 66.7L781.1 65.5L781.9 65.1L782.7 64.7L783.5 61L784.3 60.6L785.1 59.3L785.9 59.4L786.7 57.9L787.5 56.1L788.3 54.9L789.1 56.5L789.9 56.9L790.7 55.2L791.5 55.9L792.3 55.1L793.1 55.9L793.9 53.1L794.7 52.4L795.5 51.5L796.3 50.5L797.1 49.9L797.9 48.8L798.7 46.6L799.5 47.6L800.3 49.4L801.1 50.1L801.9 51.3L802.7 51.7L803.5 50.7L804.3 52L805.1 53.4L805.9 53.6L806.7 56.3L807.5 56.4L808.3 56.3L809.1 55.8L809.9 56.2L810.7 57.2L811.5 55.6L812.3 52.7L813.1 52.2L813.9 53.5L814.7 56.5L815.5 58.5L816.3 59.2L817.1 58.6L817.9 59.3L818.7 60.7L819.5 57.4L820.3 54.5L821.1 52.1L821.9 48.2L822.7 47.6L823.5 47.7L824.3 47L825.1 45.8L825.9 43.6L826.7 43.3L827.5 43.7L828.3 45.9L829.1 45.2L829.9 46.7L830.7 47.8L831.5 47.1L832.3 48.2L833.1 48.9L833.9 50.2L834.7 48.5L835.5 49.5L836.3 48.7L837.1 48.1L837.9 48L838.7 47.7L839.5 47.8L840.3 47L841.1 49.2L841.9 49L842.7 49.2L843.5 50.9L844.3 52L845.1 51.8L845.9 52.4L846.7 53.7L847.5 53.7L848.3 55.3L849.1 57.3L849.9 55.7L850.7 54.4L851.5 52.1L852.3 51.1L853.1 48.8L853.9 49.5L854.7 48.2L855.5 50.2L856.3 50.9L857.1 52.6L857.9 54.1L858.7 56.9L859.5 56.9L860.3 58.1L861.1 58.6L861.9 55.8L862.7 55.5L863.5 55.3L864.3 54.6L865.1 58.9L865.9 63.1L866.7 64.4L867.5 64.9L868.3 63.9L869.1 66.2L869.9 64.6L870.7 64.3L871.5 64.1L872.3 65.1L873.1 63.5L873.9 64.1L874.7 62.5L875.5 63.5L876.3 63.5L877.1 63.2L877.9 64L878.7 62L879.5 63L880.3 63.7L881.1 63L881.9 60.8L882.7 62.4L883.5 61.7L884.3 60.9L885.1 59L885.9 58.6L886.7 57.7L887.5 58.7L888.3 58.3L889.1 60.5L889.9 60.7L890.7 61.4L891.5 63L892.3 62.2L893.1 62L893.9 64L894.7 65.5L895.5 64.2L896.3 64.4L897.1 62.8L897.9 63L898.7 65L899.5 64.8L900.3 64.4L901.1 65.6L901.9 65.6L902.7 65.7L903.5 65.9L904.3 65.9L905.1 66L905.9 67.4L906.7 65.7L907.5 66.6L908.3 64L909.1 63.4L909.9 61.2L910.7 61L911.5 61.8L912.3 64L913.1 63.6L913.9 64.3L914.7 64.8L915.5 64.4L916.3 65.3L917.1 67.6L917.9 67L918.7 68.3L919.5 70.3L920.3 70.7L921.1 73.9L921.9 75.1L922.7 77.1L923.5 78.8L924.3 78.6L925.1 76.7L925.9 78.6L926.7 77.2L927.5 78.3L928.3 80L929.1 79.6L929.9 77.2L930.7 75.3L931.5 73.9L932.3 73.3L933.1 71.5L933.9 73.8L934.7 79.7L935.5 81.6L936.3 78.5L937.1 75.1L937.9 75.9L938.7 75.7L939.5 74.7L940.3 74.4L941.1 73.9L941.9 74L942.7 74L943.5 74.2L944.3 75.6L945.1 75.4L945.9 76.5L946.7 75.8L947.5 70.6L948.3 67.1L949.1 61.4L949.9 58L950.7 58L951.5 58.6L952.3 61.3L953.1 62L953.9 66.2L954.7 68L955.5 67.4L956.3 69.7L957.1 68.6L957.9 67.8L958.7 67L959.5 64.8L960.3 62.4L961.1 63L961.9 62.6L962.7 62.6L963.5 62.3L964.3 62.2L965.1 59.3L965.9 57.7L966.7 56.4L967.5 53.3L968.3 54.3L969.1 54.4L969.9 54.4L970.7 53.5L971.5 53.9L972.3 55.1L973.1 58.3L973.9 58.3L974.7 61.7L975.5 63.6L976.3 65.4L977.1 65.3L977.9 67.5L978.7 69.7L979.5 71.7L980.3 73.5L981.1 77.5L981.9 79.3L982.7 80L983.5 82.2L984.3 86.1L985.1 86.9L985.9 88L986.7 91.1L987.5 90.6L988.3 93.3L989.1 94.4L989.9 94.4L990.7 97.1L991.5 96.4L992.3 94.4L993.1 90.5L993.9 90.9L994.7 90.1L995.5 88.7L996.3 89.6L997.1 91.8L997.9 90.5L998.7 88.1L999.5 87L1000.3 85.2L1001.1 82.8L1001.9 80.7L1002.7 78L1003.5 74.8L1004.3 75.5L1005.1 75.3L1005.9 76.2L1006.7 75.7L1007.5 76.4L1008.3 77.6L1009.1 75.9L1009.9 75.6L1010.7 76.6L1011.5 75.6L1012.3 74.6L1013.1 76.5L1013.9 75L1014.7 73.7L1015.5 73.2L1016.3 72.5L1017.1 70.8L1017.9 69.8L1018.7 68L1019.5 67.9L1020.3 66.5L1021.1 65.9L1021.9 65.4L1022.7 70.3L1023.5 80.3L1024.3 86.6L1025.1 91.5L1025.9 95.3L1026.7 98.6L1027.5 101.2L1028.3 102.8L1029.1 104.7L1029.9 107.9L1030.7 107.2L1031.5 106.6L1032.3 107L1033.1 105.4L1033.9 106.1L1034.7 105.7L1035.5 105.9L1036.3 104.4L1037.1 104.5L1037.9 106.5L1038.7 106.3L1039.5 107.2L1040.3 108.7L1041.1 109.4L1041.9 108.7L1042.7 112L1043.5 110.9L1044.3 112.5L1045.1 111.8L1045.9 112L1046.7 109.5L1047.5 109.6L1048.3 108.2L1049.1 103.4L1049.9 99.8L1050.7 97.8L1051.5 94.6L1052.3 93.1L1053.1 89.4L1053.9 85.7L1054.7 81.6L1055.5 80L1056.3 81.4L1057.1 83.4L1057.9 83.2L1058.7 83.6L1059.5 85.8L1060.3 87.1L1061.1 89.4L1061.9 89.4L1062.7 88.1L1063.5 87.6L1064.3 86.9L1065.1 86.9L1065.9 84L1066.7 78.9L1067.5 72.4L1068.3 74.8L1069.1 78.4L1069.9 84.2L1070.7 93.5L1071.5 95.3L1072.3 94.4L1073.1 95.4L1073.9 96.1L1074.7 97.3L1075.5 97.1L1076.3 98.7L1077.1 100.2L1077.9 101.5L1078.7 103.7L1079.5 103.6L1080.3 105.9L1081.1 104.6L1081.9 104.2L1082.7 103.4L1083.5 103.2L1084.3 101.3L1085.1 100.9L1085.9 101.1L1086.7 98.6L1087.5 101.3L1088.3 102L1089.1 101.7L1089.9 102.3L1090.7 100.4L1091.5 98.2L1092.3 95.9L1093.1 93L1093.9 92.2L1094.7 92.2L1095.5 93.4L1096.3 93.9L1097.1 95.3L1097.9 95.4L1098.7 94.2L1099.5 92.8L1100.3 91.7L1101.1 91.9L1101.9 90.9L1102.7 88.9L1103.5 86.9L1104.3 86.6L1105.1 85.3L1105.9 82.8L1106.7 82.7L1107.5 82.2L1108.3 80.2L1109.1 79.9L1109.9 77.1L1110.7 76.8L1111.5 75.2L1112.3 74.3L1113.1 72.6L1113.9 71.4L1114.7 71L1115.5 68.5L1116.3 67.5L1117.1 66.4L1117.9 67.7L1118.7 67.8L1119.5 67.3L1120.3 68.4L1121.1 69.5L1121.9 68.7" stroke="#1a1aff" stroke-width="0.9" stroke-linejoin="round"/>
<path d="M669.1 64.1L669.9 64.2L670.7 65.6L671.5 66.5L672.3 65L673.1 65L673.9 66.8L674.7 68.3L675.5 68.3L676.3 68.2L677.1 67L677.9 66L678.7 67.2L679.5 65.6L680.3 66.3L681.1 65.9L681.9 65L682.7 63.2L683.5 62.4L684.3 63.3L685.1 61.4L685.9 60.7L686.7 61.6L687.5 60.7L688.3 63.4L689.1 63.7L689.9 62.8L690.7 64.8L691.5 65.2L692.3 65.4L693.1 68L693.9 67.7L694.7 68.9L695.5 68.8L696.3 70L697.1 71.1L697.9 71.2L698.7 71.3L699.5 72L700.3 72.5L701.1 70.5L701.9 68.6L702.7 70.2L703.5 68.7L704.3 66.8L705.1 67.8L705.9 66.5L706.7 66.1L707.5 66.9L708.3 69.4L709.1 69.4L709.9 70.1L710.7 70L711.5 71.4L712.3 69.7L713.1 70.7L713.9 69.5L714.7 70.1L715.5 70L716.3 67.7L717.1 67.3L717.9 67.7L718.7 65.9L719.5 68L720.3 66.3L721.1 64.6L721.9 63.6L722.7 65.5L723.5 65.7L724.3 64.7L725.1 65.4L725.9 66.5L726.7 65.8L727.5 67.3L728.3 67.1L729.1 67.2L729.9 65.6L730.7 65.6L731.5 66.1L732.3 67L733.1 66.7L733.9 68.6L734.7 68L735.5 69.6L736.3 69.9L737.1 70.3L737.9 71.1L738.7 70L739.5 70.7L740.3 71.1L741.1 69.9L741.9 68.6L742.7 69.1L743.5 68.3L744.3 67.9L745.1 68.5L745.9 70.4L746.7 69.3L747.5 71.5L748.3 70.6L749.1 73.2L749.9 73.9L750.7 76.3L751.5 75.8L752.3 74.8L753.1 75.9L753.9 74.7L754.7 74.3L755.5 73.8L756.3 73.9L757.1 74.3L757.9 73.7L758.7 73.2L759.5 73.9L760.3 73.4L761.1 72.9L761.9 74L762.7 72.9L763.5 72.9L764.3 72.8L765.1 73.2L765.9 73.2L766.7 73.3L767.5 74.1L768.3 74.2L769.1 75.2L769.9 74.2L770.7 74L771.5 73.1L772.3 72.5L773.1 73.8L773.9 72.6L774.7 72.1L775.5 72.4L776.3 71.1L777.1 70.7L777.9 70.6L778.7 72.6L779.5 71.6L780.3 71.3L781.1 72.1L781.9 72.5L782.7 72.6L783.5 72.2L784.3 71L785.1 71.2L785.9 70.6L786.7 70.8L787.5 69.4L788.3 67L789.1 67.2L789.9 68.1L790.7 68.4L791.5 68.9L792.3 70.1L793.1 67.3L793.9 69.4L794.7 70L795.5 71.8L796.3 70.8L797.1 70.9L797.9 71.5L798.7 72.7L799.5 70.8L800.3 71.7L801.1 70.7L801.9 70L802.7 66.5L803.5 67.4L804.3 67.9L805.1 69.2L805.9 71.1L806.7 70.3L807.5 70.2L808.3 68.5L809.1 68.6L809.9 67.8L810.7 68.2L811.5 68.7L812.3 69.6L813.1 70.8L813.9 69.9L814.7 69.6L815.5 69L816.3 69.3L817.1 69.2L817.9 68L818.7 68.5L819.5 68.1L820.3 67.1L821.1 67.9L821.9 69.9L822.7 70.9L823.5 71.3L824.3 69.6L825.1 69.2L825.9 67.5L826.7 66.6L827.5 66.2L828.3 65.2L829.1 63.4L829.9 62.9L830.7 63.7L831.5 63.8L832.3 63.5L833.1 62.7L833.9 64.6L834.7 63.6L835.5 63.6L836.3 63.6L837.1 64L837.9 64L838.7 63.6L839.5 62.9L840.3 62.6L841.1 62.7L841.9 61.9L842.7 61.8L843.5 61.4L844.3 62.1L845.1 60.6L845.9 58L846.7 59.6L847.5 59.5L848.3 60.5L849.1 60.4L849.9 60.4L850.7 59.5L851.5 61.9L852.3 62.9L853.1 63.9L853.9 65L854.7 64.1L855.5 64.7L856.3 63.7L857.1 66.2L857.9 65.5L858.7 66.6L859.5 67.4L860.3 68.7L861.1 68.3L861.9 67.2L862.7 64.5L863.5 65.8L864.3 64.3L865.1 63.2L865.9 62.2L866.7 63.1L867.5 64.4L868.3 65L869.1 65.7L869.9 65.6L870.7 66.8L871.5 68.7L872.3 68.2L873.1 70L873.9 69.2L874.7 69L875.5 69.3L876.3 70.7L877.1 71.5L877.9 72.9L878.7 72.2L879.5 72.6L880.3 70.9L881.1 68.8L881.9 66.4L882.7 66.8L883.5 66.5L884.3 66.3L885.1 66.1L885.9 63.5L886.7 64.2L887.5 63.6L888.3 63.7L889.1 62.5L889.9 64L890.7 62.6L891.5 62.4L892.3 63.4L893.1 62.4L893.9 62.9L894.7 62.5L895.5 60.8L896.3 61.2L897.1 60.4L897.9 60.1L898.7 61.6L899.5 60L900.3 61L901.1 59.8L901.9 60.2L902.7 60.5L903.5 59.9L904.3 57.8L905.1 58.1L905.9 59.8L906.7 58.8L907.5 58.3L908.3 57.6L909.1 57.7L909.9 57.5L910.7 56.2L911.5 56.5L912.3 58.1L913.1 55.4L913.9 55.1L914.7 55.2L915.5 54.6L916.3 54.3L917.1 53.9L917.9 52.4L918.7 52.1L919.5 52.1L920.3 50.9L921.1 52.2L921.9 51.7L922.7 50L923.5 49.8L924.3 50L925.1 49.9L925.9 50.6L926.7 49.8L927.5 50L928.3 51.4L929.1 52.4L929.9 53L930.7 54.7L931.5 55.4L932.3 57.6L933.1 58.6L933.9 59.4L934.7 59.9L935.5 58.1L936.3 58.1L937.1 57.7L937.9 57.9L938.7 58.4L939.5 55.5L940.3 56.4L941.1 54.7L941.9 54.6L942.7 57.7L943.5 56.8L944.3 59.9L945.1 60.7L945.9 62.6L946.7 64.4L947.5 62.7L948.3 59.8L949.1 59.2L949.9 60.1L950.7 64.5L951.5 68.4L952.3 68.7L953.1 70.3L953.9 72.1L954.7 72.3L955.5 72.6L956.3 73.7L957.1 74.4L957.9 73.7L958.7 74.9L959.5 71.6L960.3 72.9L961.1 74.6L961.9 75.9L962.7 76L963.5 75.4L964.3 75L965.1 73.9L965.9 72.8L966.7 71.3L967.5 70.7L968.3 70.9L969.1 69.5L969.9 69.7L970.7 68.9L971.5 66.4L972.3 63L973.1 59.9L973.9 59.6L974.7 56.7L975.5 54.2L976.3 53.3L977.1 52.7L977.9 52.3L978.7 51.4L979.5 50.2L980.3 50L981.1 49L981.9 47.7L982.7 48.6L983.5 48.5L984.3 48.1L985.1 46.1L985.9 46.7L986.7 47.3L987.5 47.8L988.3 48L989.1 49.7L989.9 49.4L990.7 51.2L991.5 51.5L992.3 51.1L993.1 54L993.9 57.3L994.7 59.8L995.5 59.4L996.3 62.3L997.1 64.1L997.9 62.2L998.7 61.1L999.5 59L1000.3 59.9L1001.1 62.3L1001.9 66.3L1002.7 69.1L1003.5 71L1004.3 71.6L1005.1 72.3L1005.9 73.8L1006.7 77.3L1007.5 78.4L1008.3 76.4L1009.1 74.9L1009.9 75.5L1010.7 75L1011.5 74L1012.3 72.9L1013.1 73.6L1013.9 74.3L1014.7 74L1015.5 74.4L1016.3 76.1L1017.1 75.9L1017.9 75.2L1018.7 73.5L1019.5 70.5L1020.3 68.6L1021.1 66.8L1021.9 63.4L1022.7 69.4L1023.5 79.1L1024.3 84.1L1025.1 85.6L1025.9 88.3L1026.7 89L1027.5 88.4L1028.3 86.7L1029.1 85L1029.9 82.6L1030.7 81.6L1031.5 82.7L1032.3 82L1033.1 81.4L1033.9 83.9L1034.7 84.2L1035.5 83.4L1036.3 81.9L1037.1 80.5L1037.9 80.6L1038.7 80.2L1039.5 77.6L1040.3 74.1L1041.1 75.5L1041.9 74.9L1042.7 72.1L1043.5 71.6L1044.3 70.9L1045.1 68.2L1045.9 68.9L1046.7 68.5L1047.5 71L1048.3 72.4L1049.1 73.4L1049.9 70.4L1050.7 68.6L1051.5 67.1L1052.3 64.2L1053.1 63.4L1053.9 60.1L1054.7 58.9L1055.5 58.1L1056.3 55.9L1057.1 54.9L1057.9 55.7L1058.7 56L1059.5 56.7L1060.3 57.8L1061.1 59.9L1061.9 59.9L1062.7 61.3L1063.5 62.8L1064.3 64.4L1065.1 66.5L1065.9 66L1066.7 64.5L1067.5 62.1L1068.3 61.2L1069.1 60.4L1069.9 57.7L1070.7 60.8L1071.5 60.1L1072.3 62.8L1073.1 64.9L1073.9 64.6L1074.7 64.7L1075.5 65.2L1076.3 64.4L1077.1 64.7L1077.9 67.7L1078.7 68.5L1079.5 69.4L1080.3 70.2L1081.1 68.6L1081.9 68.6L1082.7 68.7L1083.5 68L1084.3 70.5L1085.1 70.7L1085.9 72L1086.7 72.7L1087.5 72.1L1088.3 70.7L1089.1 69.8L1089.9 66.8L1090.7 66.5L1091.5 64.3L1092.3 63.9L1093.1 64.1L1093.9 62.7L1094.7 62.5L1095.5 59.4L1096.3 59.1L1097.1 59.2L1097.9 57.8L1098.7 57.8L1099.5 57.6L1100.3 57.1L1101.1 56.2L1101.9 55.2L1102.7 54.7L1103.5 54.7L1104.3 55.2L1105.1 54.9L1105.9 54.1L1106.7 53.4L1107.5 54L1108.3 52.8L1109.1 53.1L1109.9 54.8L1110.7 56.9L1111.5 57.8L1112.3 58.7L1113.1 58.3L1113.9 59.2L1114.7 59.4L1115.5 59.5L1116.3 59.8L1117.1 60.9L1117.9 60L1118.7 60L1119.5 59.3L1120.3 57.7L1121.1 58.2L1121.9 57.5" stroke="#2ef52e" stroke-width="0.9" stroke-linejoin="round"/>
<path d="M669.1 83.3L669.9 81.6L670.7 83.6L671.5 84.2L672.3 84L673.1 84.1L673.9 85.1L674.7 84.9L675.5 85.6L676.3 86.4L677.1 84.3L677.9 85.9L678.7 89.4L679.5 92.3L680.3 91L681.1 89.5L681.9 89.1L682.7 88.3L683.5 87.1L684.3 87.9L685.1 85.5L685.9 86.3L686.7 84.6L687.5 84.5L688.3 83.7L689.1 81.5L689.9 82.2L690.7 81.5L691.5 81.5L692.3 81.7L693.1 81.2L693.9 79.2L694.7 80.3L695.5 79.2L696.3 79.1L697.1 78.6L697.9 78.8L698.7 80.7L699.5 79.5L700.3 81.3L701.1 78.8L701.9 80.4L702.7 77.7L703.5 77.2L704.3 76L705.1 76L705.9 74.9L706.7 74.5L707.5 72.6L708.3 74.5L709.1 75L709.9 77.8L710.7 78.4L711.5 78.5L712.3 78.5L713.1 77.8L713.9 77.9L714.7 76.2L715.5 76.9L716.3 78.2L717.1 81.2L717.9 82.8L718.7 84.9L719.5 85.2L720.3 85.8L721.1 86.9L721.9 87.6L722.7 88.2L723.5 88.5L724.3 86.8L725.1 85.5L725.9 84.2L726.7 83.7L727.5 81.6L728.3 80L729.1 78.3L729.9 76.1L730.7 74L731.5 76.3L732.3 78.7L733.1 82.6L733.9 83.8L734.7 83.3L735.5 82.3L736.3 82.7L737.1 82.2L737.9 81.4L738.7 81.3L739.5 81.5L740.3 78.8L741.1 78.4L741.9 78.7L742.7 77.5L743.5 79L744.3 80.3L745.1 79.5L745.9 80.6L746.7 76.7L747.5 73.6L748.3 75.3L749.1 76.4L749.9 79.5L750.7 79.2L751.5 79.3L752.3 80.9L753.1 81.3L753.9 82L754.7 82.2L755.5 80.9L756.3 81.1L757.1 80.9L757.9 80.8L758.7 79.6L759.5 80.8L760.3 79.8L761.1 78.5L761.9 78.2L762.7 78.5L763.5 79.3L764.3 80L765.1 80L765.9 79L766.7 79.6L767.5 78.7L768.3 80.4L769.1 79.1L769.9 80L770.7 80.3L771.5 80.3L772.3 81.2L773.1 80.9L773.9 79.8L774.7 80.4L775.5 80.5L776.3 79.7L777.1 80.1L777.9 78.8L778.7 79.3L779.5 80.7L780.3 79.6L781.1 78.5L781.9 77.2L782.7 76.8L783.5 78.4L784.3 77.4L785.1 76.5L785.9 76.3L786.7 77.1L787.5 77.5L788.3 77.4L789.1 78.3L789.9 78.7L790.7 76.8L791.5 77.1L792.3 78.4L793.1 77.4L793.9 76.1L794.7 76.7L795.5 75L796.3 75.9L797.1 76L797.9 75.8L798.7 75.7L799.5 74.3L800.3 73.6L801.1 75L801.9 77.2L802.7 78.8L803.5 80.2L804.3 79.9L805.1 77.6L805.9 76.8L806.7 76.4L807.5 77.3L808.3 78.4L809.1 76.5L809.9 75.8L810.7 74.9L811.5 74.6L812.3 74.5L813.1 71.8L813.9 73L814.7 73.9L815.5 75L816.3 74.4L817.1 74.1L817.9 74.4L818.7 74L819.5 73.3L820.3 73.9L821.1 74.7L821.9 74.7L822.7 75.1L823.5 76.9L824.3 76.1L825.1 76.4L825.9 77L826.7 76.9L827.5 76.5L828.3 76.4L829.1 75.6L829.9 75.3L830.7 74.2L831.5 75.1L832.3 75.2L833.1 74.3L833.9 74.1L834.7 75.8L835.5 75.4L836.3 75.2L837.1 74.1L837.9 72.7L838.7 72.9L839.5 72.3L840.3 71.8L841.1 72.9L841.9 72.6L842.7 73.1L843.5 71.3L844.3 72.9L845.1 72.7L845.9 73.8L846.7 74L847.5 74.7L848.3 74.8L849.1 74.4L849.9 75.5L850.7 75.3L851.5 75.5L852.3 76.3L853.1 78.5L853.9 79.9L854.7 78.7L855.5 80.1L856.3 80.6L857.1 79.5L857.9 79.5L858.7 77.7L859.5 76.9L860.3 78L861.1 78.4L861.9 75.6L862.7 77.3L863.5 76.4L864.3 75.8L865.1 74.3L865.9 74.9L866.7 75L867.5 75.5L868.3 75.6L869.1 75.6L869.9 75.8L870.7 77.1L871.5 75.7L872.3 74.4L873.1 77.4L873.9 76.3L874.7 77.1L875.5 75.5L876.3 75.1L877.1 77.2L877.9 76.2L878.7 75.6L879.5 76.2L880.3 75.5L881.1 75.4L881.9 74L882.7 75.8L883.5 74.7L884.3 75.6L885.1 75L885.9 76.9L886.7 75.9L887.5 76.9L888.3 75.9L889.1 78.1L889.9 77.1L890.7 76.4L891.5 75.6L892.3 72.9L893.1 74.4L893.9 73.9L894.7 73.3L895.5 72.2L896.3 73.6L897.1 73.2L897.9 71.8L898.7 73.1L899.5 73.9L900.3 73.7L901.1 72.8L901.9 74.3L902.7 73.7L903.5 74.9L904.3 74.5L905.1 75.4L905.9 74L906.7 74.6L907.5 74.7L908.3 76.7L909.1 76.4L909.9 76.9L910.7 77.6L911.5 76.7L912.3 76.8L913.1 77.5L913.9 77.7L914.7 78.9L915.5 77.3L916.3 78.9L917.1 77.6L917.9 80.3L918.7 79.6L919.5 79.3L920.3 78.5L921.1 79.3L921.9 79.2L922.7 80.8L923.5 82L924.3 81.4L925.1 81L925.9 81.6L926.7 81.8L927.5 79.9L928.3 83L929.1 83.6L929.9 84.3L930.7 86.3L931.5 86.5L932.3 87.5L933.1 88L933.9 91.2L934.7 92.8L935.5 91.4L936.3 90.7L937.1 88.7L937.9 89L938.7 86.8L939.5 83.8L940.3 83.3L941.1 81.6L941.9 81.8L942.7 83.3L943.5 82.7L944.3 82.5L945.1 82.6L945.9 85.4L946.7 87.7L947.5 91.5L948.3 92.8L949.1 90.6L949.9 89L950.7 86.2L951.5 85.1L952.3 84.6L953.1 83.9L953.9 83.5L954.7 83.7L955.5 81.3L956.3 82.6L957.1 81.8L957.9 82.6L958.7 81.2L959.5 80.7L960.3 80.6L961.1 80.1L961.9 79.6L962.7 80L963.5 81.5L964.3 82.3L965.1 82.6L965.9 82.1L966.7 82L967.5 81.5L968.3 80.7L969.1 80.8L969.9 81.9L970.7 79.7L971.5 79.2L972.3 79.6L973.1 80.9L973.9 81.1L974.7 82.3L975.5 80.2L976.3 77.9L977.1 75.6L977.9 73.7L978.7 73.4L979.5 74.2L980.3 76.1L981.1 77.1L981.9 76.7L982.7 75.8L983.5 76.3L984.3 75.8L985.1 75.9L985.9 77.5L986.7 76.7L987.5 78.2L988.3 78.5L989.1 79.1L989.9 79.2L990.7 81.3L991.5 81.2L992.3 81.9L993.1 81.2L993.9 81.8L994.7 81.6L995.5 79.2L996.3 76.4L997.1 75L997.9 74.7L998.7 72.9L999.5 76.1L1000.3 79.7L1001.1 81L1001.9 83.3L1002.7 84.1L1003.5 86.6L1004.3 88.6L1005.1 88.6L1005.9 84.4L1006.7 84.3L1007.5 84.8L1008.3 82.6L1009.1 82.5L1009.9 80.4L1010.7 80.5L1011.5 79.7L1012.3 77.9L1013.1 76.9L1013.9 76.6L1014.7 77L1015.5 78.6L1016.3 77.9L1017.1 79.3L1017.9 79.6L1018.7 79.9L1019.5 78.2L1020.3 76.5L1021.1 74.9L1021.9 69.9L1022.7 70.2L1023.5 73.1L1024.3 76.5L1025.1 76.6L1025.9 76.7L1026.7 77.6L1027.5 78.9L1028.3 78.8L1029.1 76.9L1029.9 77L1030.7 77.3L1031.5 75.2L1032.3 75.4L1033.1 77.8L1033.9 77.5L1034.7 78.9L1035.5 78.6L1036.3 79.8L1037.1 80.6L1037.9 81.5L1038.7 81.8L1039.5 82.7L1040.3 83.6L1041.1 83.8L1041.9 83L1042.7 83.9L1043.5 82.9L1044.3 79.2L1045.1 77.8L1045.9 74L1046.7 71.7L1047.5 74.1L1048.3 78.1L1049.1 79.4L1049.9 78.2L1050.7 78.2L1051.5 78.1L1052.3 77L1053.1 76.6L1053.9 75.5L1054.7 74.4L1055.5 76.4L1056.3 77.4L1057.1 77.6L1057.9 80.5L1058.7 79.1L1059.5 81.3L1060.3 81.1L1061.1 83.9L1061.9 83.7L1062.7 83.5L1063.5 80.5L1064.3 78.7L1065.1 75.6L1065.9 73.5L1066.7 71.2L1067.5 66.5L1068.3 68.6L1069.1 71L1069.9 73.9L1070.7 75.9L1071.5 76.3L1072.3 77.6L1073.1 77.4L1073.9 77L1074.7 75.3L1075.5 75.2L1076.3 74.5L1077.1 72.2L1077.9 72.4L1078.7 72.5L1079.5 73L1080.3 72.3L1081.1 71.9L1081.9 71.8L1082.7 75.7L1083.5 75L1084.3 75.6L1085.1 74.3L1085.9 73.7L1086.7 74.2L1087.5 72.3L1088.3 71.8L1089.1 74.6L1089.9 75.3L1090.7 78.2L1091.5 79.6L1092.3 79.9L1093.1 77.9L1093.9 77.5L1094.7 75L1095.5 74.6L1096.3 76.1L1097.1 77.8L1097.9 79.2L1098.7 79L1099.5 79.7L1100.3 79.7L1101.1 80.3L1101.9 80.5L1102.7 81.1L1103.5 80.9L1104.3 81.4L1105.1 80.3L1105.9 79.1L1106.7 79.6L1107.5 80.4L1108.3 79.3L1109.1 81.5L1109.9 81.3L1110.7 80.7L1111.5 80.2L1112.3 79.8L1113.1 79.6L1113.9 78.7L1114.7 77.4L1115.5 78.2L1116.3 80L1117.1 79.2L1117.9 79.5L1118.7 78.3L1119.5 79.3L1120.3 80.2L1121.1 77.8L1121.9 77.7" stroke="#ff2020" stroke-width="0.9" stroke-linejoin="round"/>
<path d="M668.6 230.5L1122.5 230.5" stroke="#000" stroke-width="1.2" stroke-dasharray="4.5 2.6"/>
<path d="M669.2 207.2L669.7 211.9L670.2 212.5L670.7 210L671.2 210.1L671.7 212.9L672.2 213.8L672.7 214.9L673.2 211.2L673.7 216.9L674.2 213.5L674.7 213.8L675.2 215.7L675.7 211.6L676.2 214.8L676.7 212.5L677.2 216.1L677.7 211.4L678.2 214.5L678.7 211.5L679.2 215.8L679.7 213.7L680.2 216.2L680.7 212.3L681.2 212L681.7 216L682.2 213.6L682.7 214.2L683.2 217L683.7 214.9L684.2 215L684.7 209.9L685.2 214.7L685.7 217.2L686.2 208.5L686.7 210.1L687.2 210.3L687.7 210.4L688.2 209.7L688.7 209.4L689.2 211.7L689.7 211.9L690.2 209.5L690.7 213.9L691.2 209.8L691.7 210.4L692.2 208.5L692.7 210L693.2 209.8L693.7 205.7L694.2 208.7L694.7 205.6L695.2 211.4L695.7 206.3L696.2 210.3L696.7 209.2L697.2 208.6L697.7 211.1L698.2 210.3L698.7 214.7L699.2 211.7L699.7 214L700.2 213.5L700.7 216L701.2 211.3L701.7 213.1L702.2 215.1L702.7 211.8L703.2 215.4L703.7 213.3L704.2 207.5L704.7 215.8L705.2 210L705.7 211.8L706.2 211.9L706.7 212.1L707.2 209.9L707.7 208L708.2 213.8L708.7 213.5L709.2 207.4L709.7 209.1L710.2 206.1L710.7 210.5L711.2 211.9L711.7 214.2L712.2 208.2L712.7 221.9L713.2 209.2L713.7 210.6L714.2 208.6L714.7 209.8L715.2 208.9L715.7 209.8L716.2 212.6L716.7 209.3L717.2 205.8L717.7 206L718.2 211.1L718.7 209.3L719.2 212.1L719.7 211.2L720.2 207.6L720.7 208.2L721.2 210.2L721.7 212.8L722.2 211.4L722.7 210.7L723.2 206.1L723.7 209.4L724.2 212L724.7 212.3L725.2 208.1L725.7 206.6L726.2 208.1L726.7 205.9L727.2 207.6L727.7 211.8L728.2 209.4L728.7 210.2L729.2 209.9L729.7 206.5L730.2 203.2L730.7 206L731.2 213.1L731.7 214.3L732.2 208.4L732.7 207.2L733.2 209.7L733.7 211.6L734.2 205.5L734.7 207.3L735.2 211.3L735.7 207.5L736.2 213.6L736.7 211.5L737.2 208.9L737.7 211.9L738.2 209.6L738.7 212L739.2 211.5L739.7 213.6L740.2 212.1L740.7 209.8L741.2 210L741.7 210.6L742.2 208.4L742.7 210.8L743.2 214.5L743.7 214.5L744.2 213.6L744.7 212.1L745.2 208.1L745.7 214.6L746.2 208.3L746.7 212.4L747.2 210.3L747.7 213.9L748.2 214.1L748.7 211.5L749.2 209.7L749.7 210.9L750.2 207.4L750.7 212.1L751.2 211.9L751.7 208.8L752.2 207.6L752.7 210.1L753.2 204L753.7 210.2L754.2 213.7L754.7 212.4L755.2 210.9L755.7 210.1L756.2 208.1L756.7 207.3L757.2 209.1L757.7 207L758.2 208.1L758.7 211.1L759.2 204.6L759.7 208.5L760.2 204.1L760.7 209.3L761.2 212.4L761.7 212.9L762.2 210.1L762.7 210.7L763.2 206.4L763.7 208.6L764.2 208.1L764.7 210.9L765.2 210.4L765.7 208.8L766.2 211.7L766.7 212L767.2 217.2L767.7 212.8L768.2 208.9L768.7 206.4L769.2 211.6L769.7 207.3L770.2 205.8L770.7 208.5L771.2 212.4L771.7 210.2L772.2 212.6L772.7 209.7L773.2 209.1L773.7 211.8L774.2 212.5L774.7 205.2L775.2 212.7L775.7 212.2L776.2 206.6L776.7 208.7L777.2 205L777.7 208.4L778.2 210.8L778.7 209.4L779.2 207.7L779.7 204.6L780.2 204.4L780.7 208.9L781.2 210.3L781.7 208.2L782.2 206.2L782.7 207.8L783.2 210.6L783.7 205.6L784.2 208.6L784.7 203.6L785.2 205.9L785.7 205.8L786.2 205.9L786.7 209.6L787.2 205.6L787.7 203.6L788.2 207.1L788.7 211L789.2 208.4L789.7 209.9L790.2 209.7L790.7 206.4L791.2 209.6L791.7 210.2L792.2 208.5L792.7 211.3L793.2 211.1L793.7 202L794.2 211.1L794.7 208L795.2 205.5L795.7 206.1L796.2 198.4L796.7 207.4L797.2 205L797.7 208L798.2 200.9L798.7 200.9L799.2 206L799.7 205.6L800.2 206.9L800.7 206.3L801.2 205.4L801.7 205.7L802.2 203L802.7 209.6L803.2 205.3L803.7 205.5L804.2 205.3L804.7 208.3L805.2 207.9L805.7 206.1L806.2 211.7L806.7 205.7L807.2 209.9L807.7 213.4L808.2 206.7L808.7 212.9L809.2 215.3L809.7 212.4L810.2 211.3L810.7 210.1L811.2 212.3L811.7 211.3L812.2 214.8L812.7 212L813.2 210.8L813.7 210.5L814.2 217.1L814.7 213.2L815.2 216.7L815.7 213.1L816.2 212.3L816.7 211.7L817.2 213.2L817.7 212.8L818.2 214.2L818.7 214.4L819.2 209.4L819.7 214.2L820.2 206.1L820.7 210.5L821.2 206.4L821.7 205L822.2 208.7L822.7 208.7L823.2 207.9L823.7 206.4L824.2 205.8L824.7 207.9L825.2 207.5L825.7 209.7L826.2 203.8L826.7 207.9L827.2 215.4L827.7 220.6L828.2 210.6L828.7 214.6L829.2 214.2L829.7 210.6L830.2 209.9L830.7 209.8L831.2 213.3L831.7 216.2L832.2 214.3L832.7 208.7L833.2 212.1L833.7 210.3L834.2 208.1L834.7 210.5L835.2 214.4L835.7 209.7L836.2 211L836.7 208.5L837.2 209.1L837.7 212.3L838.2 215L838.7 211.6L839.2 209.1L839.7 213.6L840.2 210.4L840.7 213.5L841.2 211.8L841.7 213.4L842.2 208.6L842.7 212L843.2 209.8L843.7 211.1L844.2 212.2L844.7 209.6L845.2 209.6L845.7 210.6L846.2 211.6L846.7 205.1L847.2 206.4L847.7 207.2L848.2 210.2L848.7 211.6L849.2 209L849.7 208.9L850.2 208.7L850.7 207.4L851.2 203.2L851.7 209.1L852.2 210.6L852.7 208.9L853.2 206.5L853.7 210.6L854.2 213.4L854.7 213.9L855.2 211.8L855.7 216.1L856.2 213.4L856.7 215.4L857.2 214L857.7 218.6L858.2 215.9L858.7 216.4L859.2 212.7L859.7 215.1L860.2 214.5L860.7 215L861.2 216.6L861.7 218L862.2 210.6L862.7 215.6L863.2 213.3L863.7 212.3L864.2 213.7L864.7 211.2L865.2 207.8L865.7 210.8L866.2 214.7L866.7 212.6L867.2 208.7L867.7 211.1L868.2 213.5L868.7 213.1L869.2 213.7L869.7 211.2L870.2 216.7L870.7 215.4L871.2 210.8L871.7 209.4L872.2 218.1L872.7 212.1L873.2 211.9L873.7 214.7L874.2 209.1L874.7 205.4L875.2 207.6L875.7 213.9L876.2 212.5L876.7 217.2L877.2 216.2L877.7 214L878.2 211.3L878.7 216.5L879.2 216.4L879.7 215.6L880.2 212.9L880.7 214.9L881.2 214.5L881.7 214.6L882.2 214.5L882.7 215.4L883.2 213.4L883.7 212.2L884.2 213.8L884.7 211.9L885.2 214.5L885.7 215.1L886.2 216.2L886.7 214L887.2 215.6L887.7 212.2L888.2 211.6L888.7 217.4L889.2 211.8L889.7 212.6L890.2 217.2L890.7 209.1L891.2 213.4L891.7 212.1L892.2 213L892.7 211.6L893.2 218.6L893.7 212L894.2 217.9L894.7 215.1L895.2 216.3L895.7 212L896.2 207.1L896.7 211.1L897.2 212.5L897.7 214.9L898.2 213.1L898.7 214.2L899.2 215L899.7 218.5L900.2 211.3L900.7 216.4L901.2 213.3L901.7 206.9L902.2 217.6L902.7 213.3L903.2 207.6L903.7 213.8L904.2 215L904.7 210.5L905.2 215.4L905.7 210.7L906.2 208.8L906.7 209.7L907.2 213.7L907.7 210.9L908.2 210.6L908.7 214.1L909.2 203L909.7 208.3L910.2 210.3L910.7 215.3L911.2 213L911.7 212.2L912.2 208L912.7 210.1L913.2 215.5L913.7 213.6L914.2 209.6L914.7 209.6L915.2 212.8L915.7 209.2L916.2 206.4L916.7 215.6L917.2 217.7L917.7 208.9L918.2 217.9L918.7 213.3L919.2 207.9L919.7 215.2L920.2 212.1L920.7 210.2L921.2 217.3L921.7 213.7L922.2 209.7L922.7 208.4L923.2 212.7L923.7 215.5L924.2 208.4L924.7 221.2L925.2 206.5L925.7 208.5L926.2 209.4L926.7 211.5L927.2 207L927.7 217.2L928.2 202.2L928.7 212.4L929.2 204.4L929.7 213.7L930.2 207.5L930.7 207.3L931.2 216.4L931.7 212.2L932.2 212.4L932.7 220.3L933.2 208.6L933.7 214L934.2 217.2L934.7 212.9L935.2 214.8L935.7 212.1L936.2 212.4L936.7 208.5L937.2 216L937.7 214.9L938.2 213.6L938.7 209.4L939.2 211.2L939.7 207.8L940.2 213L940.7 213.9L941.2 214.6L941.7 208.5L942.2 211.5L942.7 207.7L943.2 208.9L943.7 204.6L944.2 205.9L944.7 209.8L945.2 205.6L945.7 210.1L946.2 209.3L946.7 202.5L947.2 204.7L947.7 207.3L948.2 202L948.7 206.7L949.2 207.7L949.7 212.7L950.2 207.1L950.7 208.3L951.2 200.7L951.7 204.6L952.2 200.9L952.7 201.5L953.2 210.9L953.7 216.1L954.2 226.9L954.7 210.2L955.2 210.4L955.7 202.3L956.2 203.2L956.7 213.8L957.2 212.2L957.7 211.2L958.2 209.4L958.7 211.5L959.2 209.6L959.7 205.8L960.2 201L960.7 209.7L961.2 210.5L961.7 211.2L962.2 209.6L962.7 206.1L963.2 204L963.7 217.1L964.2 202.7L964.7 205L965.2 205.4L965.7 201.5L966.2 207.7L966.7 207.6L967.2 203.9L967.7 209.4L968.2 211.1L968.7 209.6L969.2 212.1L969.7 210.4L970.2 207.3L970.7 208.1L971.2 205.2L971.7 217.9L972.2 203.3L972.7 199.3L973.2 202.6L973.7 214.7L974.2 213.5L974.7 214.7L975.2 204.5L975.7 204.6L976.2 212.6L976.7 206.9L977.2 219L977.7 208.7L978.2 219.5L978.7 214.8L979.2 212L979.7 203.3L980.2 217L980.7 217.9L981.2 215.2L981.7 199.2L982.2 216.5L982.7 223.8L983.2 210L983.7 220.8L984.2 225.1L984.7 219.2L985.2 221.4L985.7 222.6L986.2 212.1L986.7 215.5L987.2 209.8L987.7 220.9L988.2 219.8L988.7 219.3L989.2 219.6L989.7 214.6L990.2 221.1L990.7 215.9L991.2 214.9L991.7 211.6L992.2 214.1L992.7 215.8L993.2 205L993.7 213.8L994.2 199.9L994.7 207L995.2 208.6L995.7 220.4L996.2 210.9L996.7 208.2L997.2 204.6L997.7 209.4L998.2 203.8L998.7 203.9L999.2 213L999.7 214.3L1000.2 215.8L1000.7 211.6L1001.2 210.8L1001.7 213.6L1002.2 217.8L1002.7 208.6L1003.2 220.2L1003.7 215.9L1004.2 210.6L1004.7 216.8L1005.2 215.4L1005.7 209.5L1006.2 210.3L1006.7 211.6L1007.2 201.9L1007.7 197.2L1008.2 211.2L1008.7 212.7L1009.2 211.6L1009.7 202.5L1010.2 205L1010.7 212.9L1011.2 201.9L1011.7 211L1012.2 214.4L1012.7 205.4L1013.2 204.5L1013.7 206.5L1014.2 205.6L1014.7 213.6L1015.2 207L1015.7 210.7L1016.2 203.9L1016.7 207.2L1017.2 202.6L1017.7 202L1018.2 200.7L1018.7 210.5L1019.2 202L1019.7 208.8L1020.2 204.3L1020.7 205.6L1021.2 203.2L1021.7 211.5L1022.2 215.3L1022.7 211.4L1023.2 209.9L1023.7 207.9L1024.2 210.6L1024.7 211L1025.2 213.5L1025.7 207.3L1026.2 209.7L1026.7 212.1L1027.2 206.1L1027.7 210.7L1028.2 209L1028.7 210.8L1029.2 204.4L1029.7 207.1L1030.2 201.7L1030.7 208.2L1031.2 208.5L1031.7 212.9L1032.2 211.5L1032.7 210.6L1033.2 211.3L1033.7 213.7L1034.2 214.6L1034.7 216.4L1035.2 212.3L1035.7 211.6L1036.2 213.6L1036.7 211L1037.2 215.3L1037.7 207.8L1038.2 211L1038.7 208.7L1039.2 209L1039.7 210.5L1040.2 202.6L1040.7 209.6L1041.2 205.1L1041.7 210.4L1042.2 202.4L1042.7 206.1L1043.2 205.6L1043.7 203L1044.2 205L1044.7 203.9L1045.2 204.5L1045.7 198.2L1046.2 205.1L1046.7 204.7L1047.2 200.3L1047.7 204.4L1048.2 205L1048.7 205.4L1049.2 202.5L1049.7 209.3L1050.2 209.6L1050.7 209.2L1051.2 212.6L1051.7 201L1052.2 208.2L1052.7 211L1053.2 213.4L1053.7 210.6L1054.2 210.7L1054.7 214.4L1055.2 207L1055.7 218.9L1056.2 215.3L1056.7 215.3L1057.2 218L1057.7 221.5L1058.2 215.2L1058.7 212.7L1059.2 216L1059.7 216.9L1060.2 217.6L1060.7 221.3L1061.2 213.1L1061.7 216.5L1062.2 208.2L1062.7 217.1L1063.2 214.5L1063.7 215.2L1064.2 214.9L1064.7 211.5L1065.2 210.4L1065.7 211.7L1066.2 213.3L1066.7 217.9L1067.2 212.7L1067.7 210.9L1068.2 209.3L1068.7 216L1069.2 211.4L1069.7 214.1L1070.2 216.7L1070.7 215.9L1071.2 214.7L1071.7 218.2L1072.2 218.2L1072.7 212.8L1073.2 210.3L1073.7 218.7L1074.2 213.9L1074.7 216.5L1075.2 212.7L1075.7 212.5L1076.2 210L1076.7 209.4L1077.2 212.1L1077.7 212.5L1078.2 209L1078.7 211.4L1079.2 213.5L1079.7 211.7L1080.2 209.8L1080.7 211.4L1081.2 216.5L1081.7 211.9L1082.2 209.2L1082.7 215.1L1083.2 213.2L1083.7 214L1084.2 202.1L1084.7 209.2L1085.2 210.8L1085.7 207.8L1086.2 208.3L1086.7 210.1L1087.2 207.3L1087.7 214.9L1088.2 210.8L1088.7 211.8L1089.2 210.1L1089.7 208.5L1090.2 210.3L1090.7 216.3L1091.2 205.8L1091.7 214.1L1092.2 213L1092.7 214.1L1093.2 217.5L1093.7 208.3L1094.2 212.3L1094.7 211.5L1095.2 214.6L1095.7 215.7L1096.2 214.4L1096.7 212.2L1097.2 211.3L1097.7 210L1098.2 221.9L1098.7 212.6L1099.2 217.9L1099.7 213.1L1100.2 215.9L1100.7 207.3L1101.2 211.5L1101.7 217.2L1102.2 215.9L1102.7 213.7L1103.2 218.7L1103.7 217.1L1104.2 216.7L1104.7 213.7L1105.2 211.1L1105.7 218.8L1106.2 217.8L1106.7 217.3L1107.2 214.5L1107.7 217.1L1108.2 215.6L1108.7 217.5L1109.2 211L1109.7 208.9L1110.2 218.9L1110.7 221.7L1111.2 216.9L1111.7 214.2L1112.2 213.1L1112.7 211.6L1113.2 216.1L1113.7 216.2L1114.2 210L1114.7 213.9L1115.2 216L1115.7 212.8L1116.2 217.4L1116.7 216.9L1117.2 217.1L1117.7 218.7L1118.2 214.6L1118.7 221.4L1119.2 219L1119.7 215.4L1120.2 211.3L1120.7 216.1L1121.2 212.3L1121.7 214.4" stroke="#1eff1e" stroke-width="1.2" stroke-linejoin="round"/>
<path d="M669.2 233.1L669.7 234.2L670.2 228.7L670.7 231.6L671.2 234.3L671.7 236.2L672.2 231.4L672.7 232.7L673.2 233.8L673.7 231.1L674.2 237.5L674.7 232.3L675.2 233.6L675.7 236L676.2 234.1L676.7 231.3L677.2 233.2L677.7 234.1L678.2 236.1L678.7 236.5L679.2 234.9L679.7 239.7L680.2 244.4L680.7 235L681.2 232.9L681.7 235.1L682.2 233.3L682.7 243.4L683.2 234.6L683.7 234.8L684.2 238L684.7 235.1L685.2 238.3L685.7 236.7L686.2 235L686.7 232.6L687.2 235.9L687.7 235.8L688.2 235.8L688.7 233.6L689.2 235.2L689.7 235.8L690.2 236.8L690.7 232.8L691.2 233.4L691.7 230.9L692.2 230.9L692.7 236.3L693.2 237L693.7 231L694.2 231.9L694.7 231.9L695.2 235.5L695.7 233.8L696.2 234.9L696.7 229.7L697.2 232.7L697.7 232.3L698.2 233.1L698.7 235.7L699.2 229.4L699.7 232.3L700.2 235.9L700.7 234.6L701.2 230.8L701.7 229.2L702.2 230.7L702.7 234L703.2 232.4L703.7 234L704.2 234.4L704.7 236.3L705.2 231.6L705.7 232.6L706.2 236.5L706.7 230.3L707.2 233.7L707.7 231.5L708.2 232.4L708.7 233.1L709.2 232L709.7 234.5L710.2 233.5L710.7 236.9L711.2 232.8L711.7 236.4L712.2 235.2L712.7 233L713.2 232.8L713.7 233.3L714.2 234.3L714.7 234.8L715.2 233.1L715.7 233.8L716.2 234.4L716.7 236.9L717.2 236.2L717.7 230.7L718.2 235.8L718.7 236.7L719.2 233.1L719.7 238.3L720.2 234.3L720.7 236.8L721.2 232.9L721.7 238.2L722.2 236.4L722.7 234.7L723.2 234.1L723.7 229.5L724.2 233.5L724.7 234.1L725.2 234.7L725.7 236.4L726.2 234.6L726.7 231L727.2 235L727.7 242.6L728.2 234.9L728.7 240.6L729.2 229.1L729.7 235.6L730.2 235.4L730.7 235.6L731.2 220.1L731.7 233.5L732.2 232.5L732.7 235.3L733.2 234.6L733.7 233L734.2 236.9L734.7 236.8L735.2 236.6L735.7 235.7L736.2 238.8L736.7 233.1L737.2 234.3L737.7 235.3L738.2 235.7L738.7 233.7L739.2 231.7L739.7 236.7L740.2 233.4L740.7 235.3L741.2 236.8L741.7 234.4L742.2 236.3L742.7 232.4L743.2 232.1L743.7 234.5L744.2 228.6L744.7 233.8L745.2 233.3L745.7 236.3L746.2 237.5L746.7 236L747.2 237.7L747.7 236.8L748.2 232.1L748.7 236.7L749.2 234.9L749.7 237.5L750.2 236.6L750.7 231.3L751.2 232.9L751.7 232.3L752.2 237.4L752.7 239.7L753.2 235.1L753.7 233.3L754.2 235.7L754.7 232.1L755.2 235L755.7 235.4L756.2 236.4L756.7 236.8L757.2 230.4L757.7 237.3L758.2 235.1L758.7 235.8L759.2 237.9L759.7 230.9L760.2 235.1L760.7 237.3L761.2 229.9L761.7 230.6L762.2 232.1L762.7 232.6L763.2 235L763.7 233.6L764.2 232.7L764.7 230.4L765.2 234.2L765.7 232.4L766.2 228.5L766.7 231.4L767.2 226.4L767.7 231.4L768.2 233.3L768.7 230.2L769.2 237L769.7 235.9L770.2 232.9L770.7 230.2L771.2 230.7L771.7 233.1L772.2 229.7L772.7 231.2L773.2 231.8L773.7 227.5L774.2 229.4L774.7 230.3L775.2 226.1L775.7 231.8L776.2 232.7L776.7 230.6L777.2 228.2L777.7 229.1L778.2 232.5L778.7 228.6L779.2 229.6L779.7 233.3L780.2 229.7L780.7 229.1L781.2 233.1L781.7 233L782.2 231.3L782.7 228L783.2 229.5L783.7 229.9L784.2 223.8L784.7 231.9L785.2 232L785.7 229.4L786.2 232.6L786.7 230.5L787.2 231.2L787.7 231.8L788.2 232.3L788.7 231.2L789.2 237.7L789.7 231.5L790.2 229.7L790.7 230.2L791.2 233.4L791.7 226.9L792.2 229.2L792.7 231L793.2 233L793.7 231L794.2 225.4L794.7 235.4L795.2 233.2L795.7 229.5L796.2 231.3L796.7 233.8L797.2 228.3L797.7 224.8L798.2 240.1L798.7 231.4L799.2 228.8L799.7 231.4L800.2 230L800.7 220.1L801.2 234.5L801.7 228.1L802.2 234L802.7 233.7L803.2 231.5L803.7 246L804.2 232.8L804.7 233.4L805.2 232.6L805.7 235.8L806.2 237L806.7 235.4L807.2 237.5L807.7 235.1L808.2 235.3L808.7 237.6L809.2 231.5L809.7 238.1L810.2 233.7L810.7 235.5L811.2 237.2L811.7 231.5L812.2 229.8L812.7 229.3L813.2 251.2L813.7 229.3L814.2 230.5L814.7 233.2L815.2 228.3L815.7 231.8L816.2 231.3L816.7 228.9L817.2 234L817.7 234.6L818.2 227.8L818.7 228.1L819.2 232.5L819.7 232.2L820.2 230.4L820.7 230L821.2 219.4L821.7 229.1L822.2 227.4L822.7 228.5L823.2 229.3L823.7 228.4L824.2 226.6L824.7 228L825.2 229.1L825.7 229.2L826.2 224L826.7 230.2L827.2 227.9L827.7 230.2L828.2 227.8L828.7 232.1L829.2 227.4L829.7 229.8L830.2 230.4L830.7 230.3L831.2 233.9L831.7 233.1L832.2 233.8L832.7 230.5L833.2 231.4L833.7 231.1L834.2 229.1L834.7 230.3L835.2 232.7L835.7 232.6L836.2 235.2L836.7 235.5L837.2 232L837.7 233.4L838.2 234.6L838.7 236.5L839.2 234.1L839.7 237.6L840.2 234.5L840.7 239.3L841.2 233.8L841.7 238.3L842.2 238.5L842.7 236.4L843.2 235.5L843.7 235L844.2 238.5L844.7 237.2L845.2 234.4L845.7 239L846.2 235.2L846.7 236.2L847.2 239L847.7 240.4L848.2 233.7L848.7 236.8L849.2 237.8L849.7 235.9L850.2 238.9L850.7 236.4L851.2 239.3L851.7 236.1L852.2 233.5L852.7 232.2L853.2 234L853.7 229.7L854.2 229.1L854.7 218.8L855.2 228.8L855.7 232.1L856.2 234.4L856.7 233.4L857.2 234.6L857.7 232.8L858.2 236.7L858.7 243.3L859.2 240.5L859.7 241.1L860.2 236.4L860.7 238.8L861.2 241.1L861.7 235.9L862.2 235L862.7 237.6L863.2 241.3L863.7 240.2L864.2 260.9L864.7 236.7L865.2 236.7L865.7 238.2L866.2 235.7L866.7 237.3L867.2 236.9L867.7 237.8L868.2 235.8L868.7 238.4L869.2 237.1L869.7 240.1L870.2 239.3L870.7 237.4L871.2 238.3L871.7 239.4L872.2 238.6L872.7 237.8L873.2 236.1L873.7 238.7L874.2 240.9L874.7 239.9L875.2 240.2L875.7 240.2L876.2 240.8L876.7 239.1L877.2 240.7L877.7 240.8L878.2 241.7L878.7 242.6L879.2 240.8L879.7 241.1L880.2 248.9L880.7 244.1L881.2 244.2L881.7 242.8L882.2 240.7L882.7 242.1L883.2 245.4L883.7 244.9L884.2 242.5L884.7 240.8L885.2 239.3L885.7 241.3L886.2 244.9L886.7 241.2L887.2 241.8L887.7 240L888.2 240.3L888.7 243.3L889.2 242.2L889.7 244.7L890.2 242.8L890.7 240.6L891.2 245.7L891.7 240.6L892.2 243.6L892.7 244.4L893.2 244.1L893.7 240.9L894.2 242.3L894.7 242.9L895.2 243.7L895.7 243.1L896.2 242.5L896.7 241.3L897.2 242.5L897.7 243.1L898.2 240.6L898.7 238.4L899.2 239.8L899.7 238L900.2 241.4L900.7 240.3L901.2 237.7L901.7 239.7L902.2 241.6L902.7 242.3L903.2 240L903.7 240.6L904.2 246.4L904.7 238.1L905.2 240.3L905.7 243.4L906.2 243.1L906.7 240.5L907.2 238.8L907.7 239.4L908.2 242.1L908.7 244.3L909.2 244.3L909.7 240.7L910.2 248.4L910.7 243.9L911.2 239.2L911.7 240.4L912.2 243.8L912.7 240.7L913.2 241L913.7 243.4L914.2 245.5L914.7 241.7L915.2 242.2L915.7 242.3L916.2 241.1L916.7 244.6L917.2 247.1L917.7 243.9L918.2 245.9L918.7 250.3L919.2 240L919.7 250.6L920.2 249.6L920.7 242.7L921.2 241.6L921.7 237.8L922.2 243.6L922.7 239.3L923.2 234.4L923.7 240.9L924.2 239.7L924.7 237.9L925.2 251.2L925.7 241.4L926.2 235.3L926.7 236.9L927.2 241.6L927.7 233.8L928.2 234.3L928.7 235.7L929.2 234.1L929.7 237.8L930.2 238.7L930.7 239.7L931.2 238.2L931.7 236.8L932.2 235.2L932.7 244.6L933.2 237.4L933.7 237.4L934.2 235.8L934.7 237.4L935.2 238.1L935.7 234.3L936.2 238.2L936.7 236.1L937.2 232.2L937.7 232.3L938.2 235.4L938.7 234.2L939.2 230.6L939.7 236.8L940.2 231.5L940.7 230.5L941.2 238.6L941.7 240L942.2 238L942.7 234.3L943.2 234.9L943.7 238.9L944.2 237.8L944.7 234.9L945.2 239L945.7 241.8L946.2 237.7L946.7 239.3L947.2 233.2L947.7 232.9L948.2 238.4L948.7 240.4L949.2 236.7L949.7 238.7L950.2 238.2L950.7 258.3L951.2 240.5L951.7 235.8L952.2 238.6L952.7 244.6L953.2 242.4L953.7 240.3L954.2 239.1L954.7 239.6L955.2 243.7L955.7 237.7L956.2 228.6L956.7 238.5L957.2 239.4L957.7 234.1L958.2 235.5L958.7 239.2L959.2 235.7L959.7 242L960.2 239.6L960.7 238.6L961.2 236.9L961.7 238.4L962.2 239.1L962.7 248.3L963.2 235.7L963.7 238.5L964.2 238.9L964.7 233.9L965.2 241.8L965.7 243.3L966.2 237.7L966.7 236.1L967.2 237.2L967.7 239L968.2 234.8L968.7 237.2L969.2 237.8L969.7 239.9L970.2 237.7L970.7 234.1L971.2 235.6L971.7 240.5L972.2 239.6L972.7 259.6L973.2 235.8L973.7 242.1L974.2 242L974.7 243.3L975.2 237.7L975.7 235.7L976.2 244.6L976.7 241.4L977.2 236.1L977.7 238.8L978.2 237.6L978.7 238.1L979.2 234.7L979.7 233.9L980.2 236.7L980.7 239.6L981.2 234.2L981.7 238.2L982.2 235.5L982.7 230.8L983.2 237.5L983.7 233.3L984.2 233.7L984.7 233.1L985.2 228.8L985.7 233.5L986.2 233.6L986.7 234.7L987.2 230.9L987.7 226.5L988.2 232.5L988.7 228.5L989.2 227.1L989.7 238.7L990.2 224.7L990.7 224.8L991.2 230.6L991.7 226.8L992.2 230L992.7 225.7L993.2 226.5L993.7 229.5L994.2 230L994.7 229.3L995.2 231.7L995.7 226.3L996.2 222.9L996.7 225.2L997.2 229.3L997.7 226.5L998.2 230.2L998.7 231.7L999.2 229.5L999.7 230.2L1000.2 229.6L1000.7 228.7L1001.2 230.9L1001.7 232.8L1002.2 231.8L1002.7 232L1003.2 231.7L1003.7 234L1004.2 236.9L1004.7 229.2L1005.2 235.1L1005.7 231.5L1006.2 234.2L1006.7 234.1L1007.2 232.3L1007.7 230.8L1008.2 234.5L1008.7 222.8L1009.2 236.9L1009.7 230.3L1010.2 232.3L1010.7 236.7L1011.2 233.4L1011.7 234.6L1012.2 234.9L1012.7 239L1013.2 237.2L1013.7 232.2L1014.2 233.7L1014.7 233.4L1015.2 237.4L1015.7 230.6L1016.2 234.8L1016.7 233.1L1017.2 235.5L1017.7 232.6L1018.2 228.5L1018.7 237.3L1019.2 236.1L1019.7 232.3L1020.2 234L1020.7 237.5L1021.2 230.3L1021.7 229.9L1022.2 231.3L1022.7 226.5L1023.2 226.4L1023.7 228.6L1024.2 217.5L1024.7 223.6L1025.2 225.7L1025.7 221.2L1026.2 223.7L1026.7 223.2L1027.2 227L1027.7 223.6L1028.2 231.5L1028.7 227.4L1029.2 227L1029.7 227.9L1030.2 227.6L1030.7 231.5L1031.2 225.2L1031.7 224.7L1032.2 229L1032.7 227.9L1033.2 221.5L1033.7 228.2L1034.2 229.8L1034.7 234.3L1035.2 232.1L1035.7 224.2L1036.2 232.8L1036.7 229.1L1037.2 232L1037.7 231.4L1038.2 236.2L1038.7 234.6L1039.2 232.6L1039.7 234.2L1040.2 234.4L1040.7 235.5L1041.2 239L1041.7 233.7L1042.2 233.8L1042.7 237L1043.2 242.8L1043.7 240.4L1044.2 232.8L1044.7 237.9L1045.2 261.6L1045.7 230.9L1046.2 230.5L1046.7 233.4L1047.2 228.3L1047.7 228.3L1048.2 230.8L1048.7 227.5L1049.2 232.1L1049.7 235.4L1050.2 240.3L1050.7 241L1051.2 241.3L1051.7 240.5L1052.2 228.6L1052.7 244.2L1053.2 246.3L1053.7 239.8L1054.2 240.4L1054.7 239.1L1055.2 240.6L1055.7 239.6L1056.2 244.9L1056.7 246.8L1057.2 237.8L1057.7 238.3L1058.2 238.4L1058.7 241.4L1059.2 232.1L1059.7 241.2L1060.2 239.5L1060.7 239.6L1061.2 238.2L1061.7 241.4L1062.2 242.1L1062.7 237.1L1063.2 243.2L1063.7 240.4L1064.2 239.4L1064.7 241.6L1065.2 241.7L1065.7 246.2L1066.2 259L1066.7 242.7L1067.2 247.8L1067.7 240.4L1068.2 241.9L1068.7 242.1L1069.2 240.7L1069.7 236.4L1070.2 248L1070.7 245.5L1071.2 242.2L1071.7 241.1L1072.2 236.1L1072.7 236.3L1073.2 235.4L1073.7 230.7L1074.2 234.6L1074.7 230.3L1075.2 225.8L1075.7 226.7L1076.2 221.4L1076.7 230.6L1077.2 225L1077.7 231.6L1078.2 227.3L1078.7 227.9L1079.2 227.1L1079.7 229.2L1080.2 228.5L1080.7 230.8L1081.2 225.6L1081.7 227.1L1082.2 233.1L1082.7 223.4L1083.2 232.9L1083.7 232.8L1084.2 235.6L1084.7 232.6L1085.2 234.4L1085.7 240.3L1086.2 236.2L1086.7 235.5L1087.2 234.3L1087.7 236.7L1088.2 233.6L1088.7 236.9L1089.2 234.2L1089.7 237.1L1090.2 234.9L1090.7 235.7L1091.2 242L1091.7 234.5L1092.2 238.1L1092.7 233.4L1093.2 231.4L1093.7 232.4L1094.2 240.8L1094.7 243.2L1095.2 238.8L1095.7 241.9L1096.2 239.7L1096.7 238.4L1097.2 243.9L1097.7 238.9L1098.2 241.8L1098.7 241.3L1099.2 238.7L1099.7 238.1L1100.2 236.1L1100.7 247L1101.2 244.9L1101.7 243.1L1102.2 241.3L1102.7 237.9L1103.2 246.9L1103.7 243.2L1104.2 242.4L1104.7 244.2L1105.2 241.3L1105.7 243.7L1106.2 239.5L1106.7 242.7L1107.2 241.7L1107.7 239.1L1108.2 240.2L1108.7 246.6L1109.2 241.6L1109.7 242.8L1110.2 248.4L1110.7 242.2L1111.2 248.7L1111.7 245.8L1112.2 243.3L1112.7 246.7L1113.2 245.6L1113.7 240.6L1114.2 247.1L1114.7 241.8L1115.2 244.4L1115.7 250L1116.2 243.8L1116.7 244.6L1117.2 246L1117.7 244L1118.2 241.9L1118.7 249.2L1119.2 243.6L1119.7 249.6L1120.2 250.6L1120.7 243.5L1121.2 244.5L1121.7 243" stroke="#1414ff" stroke-width="1.2" stroke-linejoin="round"/>
<path d="M669.2 233.6L669.7 231.8L670.2 230.9L670.7 234.8L671.2 232.8L671.7 232.7L672.2 230.3L672.7 228.9L673.2 227.2L673.7 234.7L674.2 231.4L674.7 232.1L675.2 232.6L675.7 230.5L676.2 231.5L676.7 229L677.2 232.7L677.7 231L678.2 231.7L678.7 230.5L679.2 227.9L679.7 231.5L680.2 230.6L680.7 228.4L681.2 230L681.7 230.6L682.2 233.5L682.7 231.9L683.2 228.2L683.7 236.1L684.2 231.3L684.7 229.2L685.2 232.5L685.7 231.5L686.2 232.4L686.7 228.4L687.2 230L687.7 230.7L688.2 228.4L688.7 227.9L689.2 232.3L689.7 222.7L690.2 229.4L690.7 232.5L691.2 231.5L691.7 221.2L692.2 228.6L692.7 227.7L693.2 228.1L693.7 227.9L694.2 228.6L694.7 231.7L695.2 232.1L695.7 226.8L696.2 234.6L696.7 234.1L697.2 232.4L697.7 229.3L698.2 231.2L698.7 229.5L699.2 232.7L699.7 232.2L700.2 233.5L700.7 235.4L701.2 228.9L701.7 230.2L702.2 231.1L702.7 228.3L703.2 231.4L703.7 227.2L704.2 232.6L704.7 230.2L705.2 234L705.7 229.7L706.2 231.1L706.7 234.8L707.2 226.5L707.7 231.5L708.2 226.7L708.7 239L709.2 234.4L709.7 233.7L710.2 231.9L710.7 228.8L711.2 235.1L711.7 231.2L712.2 233.9L712.7 233.5L713.2 231.1L713.7 226L714.2 233.1L714.7 231.6L715.2 231.6L715.7 233.7L716.2 233.3L716.7 230.4L717.2 230.7L717.7 235.2L718.2 228.9L718.7 231.8L719.2 234.2L719.7 230.2L720.2 232.6L720.7 233.9L721.2 229.8L721.7 233.3L722.2 233.8L722.7 234.5L723.2 232.2L723.7 232.9L724.2 235.2L724.7 231.1L725.2 231.6L725.7 231.4L726.2 235.4L726.7 231.5L727.2 230.5L727.7 231L728.2 233.2L728.7 234.8L729.2 232.5L729.7 228.6L730.2 230.7L730.7 235L731.2 234.3L731.7 233.3L732.2 229L732.7 230.6L733.2 232.4L733.7 231.6L734.2 231.3L734.7 233.3L735.2 233.3L735.7 234.9L736.2 231.3L736.7 236.1L737.2 227.5L737.7 230.2L738.2 232.1L738.7 231L739.2 231.9L739.7 232L740.2 232.5L740.7 230.6L741.2 233.6L741.7 233L742.2 234.7L742.7 232.5L743.2 228.5L743.7 225.9L744.2 230.1L744.7 228.4L745.2 233.1L745.7 233.2L746.2 231.9L746.7 229.8L747.2 232.2L747.7 228.4L748.2 230.4L748.7 229.1L749.2 228.4L749.7 234.1L750.2 230.9L750.7 230.6L751.2 233.1L751.7 230.9L752.2 230.6L752.7 233.3L753.2 234.6L753.7 232.5L754.2 233.2L754.7 230L755.2 231.7L755.7 230.9L756.2 233.1L756.7 232.2L757.2 230.9L757.7 232.7L758.2 230.3L758.7 229.6L759.2 233.5L759.7 229.2L760.2 228.3L760.7 228.6L761.2 231.5L761.7 232.2L762.2 229.4L762.7 231L763.2 230L763.7 226.4L764.2 230.4L764.7 231.6L765.2 228.3L765.7 230.6L766.2 229.7L766.7 231.2L767.2 229.9L767.7 233.2L768.2 232.4L768.7 227.6L769.2 231L769.7 231.6L770.2 231.6L770.7 232.5L771.2 231.2L771.7 231.3L772.2 230.6L772.7 228.3L773.2 233.3L773.7 235.6L774.2 229.8L774.7 229.3L775.2 230.6L775.7 229.1L776.2 228.4L776.7 233.5L777.2 231.5L777.7 229.2L778.2 226.1L778.7 229.8L779.2 231.9L779.7 232.7L780.2 228L780.7 231.5L781.2 233L781.7 227.9L782.2 230.8L782.7 227.4L783.2 224.6L783.7 232.1L784.2 230.1L784.7 228.6L785.2 231L785.7 227.5L786.2 229.5L786.7 231.1L787.2 227.3L787.7 229.1L788.2 230.3L788.7 227.1L789.2 228.6L789.7 224.7L790.2 228.1L790.7 227.8L791.2 228.1L791.7 226.3L792.2 227L792.7 227.8L793.2 225.6L793.7 227.4L794.2 228.3L794.7 228.4L795.2 228.2L795.7 226.5L796.2 229.9L796.7 229.9L797.2 224.5L797.7 231.6L798.2 229.9L798.7 233.1L799.2 231L799.7 230.6L800.2 227.9L800.7 225.2L801.2 231.8L801.7 227.8L802.2 235.4L802.7 230L803.2 229.3L803.7 227.4L804.2 230.6L804.7 231.7L805.2 232.4L805.7 229.7L806.2 226.9L806.7 233L807.2 228.1L807.7 230.7L808.2 223.1L808.7 233.8L809.2 226.6L809.7 233.3L810.2 231.9L810.7 228.5L811.2 230.9L811.7 231.3L812.2 232.7L812.7 233L813.2 230.5L813.7 231.3L814.2 231.6L814.7 232.1L815.2 232.6L815.7 230.2L816.2 236.4L816.7 231.7L817.2 230.7L817.7 232.2L818.2 227.8L818.7 228L819.2 228.6L819.7 226.8L820.2 236.4L820.7 223.6L821.2 230.1L821.7 229.8L822.2 228.6L822.7 230.4L823.2 232.6L823.7 239.8L824.2 229.3L824.7 236L825.2 234.8L825.7 231.1L826.2 232.9L826.7 230.4L827.2 228.5L827.7 233L828.2 230.4L828.7 230.4L829.2 232L829.7 230L830.2 232.1L830.7 231.5L831.2 228.6L831.7 229.5L832.2 229.7L832.7 227.9L833.2 231.7L833.7 229.9L834.2 234.1L834.7 227.8L835.2 230.3L835.7 228.5L836.2 229.3L836.7 233.8L837.2 232.2L837.7 233.5L838.2 236L838.7 228.4L839.2 225L839.7 234L840.2 231.6L840.7 232.9L841.2 228.8L841.7 231.5L842.2 228.1L842.7 228.7L843.2 232.9L843.7 227.9L844.2 232.8L844.7 231.5L845.2 232.2L845.7 228.3L846.2 230.5L846.7 228.4L847.2 233.6L847.7 229.1L848.2 231.2L848.7 230.8L849.2 230.4L849.7 230.4L850.2 229.7L850.7 229.5L851.2 229.9L851.7 228.5L852.2 229.1L852.7 235.5L853.2 228.2L853.7 234.5L854.2 228.7L854.7 225.3L855.2 231.1L855.7 231.7L856.2 228.2L856.7 226.2L857.2 229.5L857.7 230.5L858.2 231.3L858.7 231L859.2 231.2L859.7 230.7L860.2 229.2L860.7 230.1L861.2 230.2L861.7 231.9L862.2 229.9L862.7 229.1L863.2 227.9L863.7 231.4L864.2 230.3L864.7 229.8L865.2 229.2L865.7 229.1L866.2 229.6L866.7 230.5L867.2 229.4L867.7 231.6L868.2 230L868.7 229.3L869.2 229.8L869.7 230.8L870.2 230.2L870.7 230.7L871.2 231L871.7 229.4L872.2 230.4L872.7 229.8L873.2 230L873.7 230.2L874.2 229.8L874.7 230.4L875.2 230.7L875.7 230.1L876.2 231.8L876.7 230.7L877.2 230.6L877.7 231.5L878.2 232.7L878.7 230.4L879.2 230.1L879.7 232.1L880.2 230.2L880.7 230.8L881.2 231.2L881.7 230.7L882.2 232.2L882.7 231.9L883.2 231.2L883.7 231L884.2 229.7L884.7 231.1L885.2 232.1L885.7 231.7L886.2 231.3L886.7 230.4L887.2 232.6L887.7 229.1L888.2 231.5L888.7 232.3L889.2 231.9L889.7 233.4L890.2 230.6L890.7 232.4L891.2 233.2L891.7 231.5L892.2 231.8L892.7 232.3L893.2 230.8L893.7 231.6L894.2 232.9L894.7 231.5L895.2 233.9L895.7 232.9L896.2 231.4L896.7 231.3L897.2 231.2L897.7 230.4L898.2 231.8L898.7 229.9L899.2 231.4L899.7 230.3L900.2 230.3L900.7 232.6L901.2 231.9L901.7 231.1L902.2 229.8L902.7 230.3L903.2 227.9L903.7 231.2L904.2 229.5L904.7 229.7L905.2 230.4L905.7 231.1L906.2 230.2L906.7 228.4L907.2 229.1L907.7 228.8L908.2 232.9L908.7 233L909.2 227.8L909.7 229.4L910.2 239.6L910.7 229.8L911.2 228.9L911.7 229.8L912.2 227.1L912.7 230.3L913.2 231.8L913.7 230.6L914.2 231.2L914.7 232.8L915.2 229.5L915.7 228.9L916.2 231.7L916.7 228.7L917.2 228.6L917.7 230.1L918.2 225.9L918.7 228.3L919.2 230L919.7 226.3L920.2 225.7L920.7 230L921.2 226.8L921.7 230L922.2 230.1L922.7 228L923.2 225.2L923.7 226.8L924.2 223.9L924.7 223.3L925.2 226L925.7 225.4L926.2 228.1L926.7 227.3L927.2 224.3L927.7 231L928.2 225.9L928.7 224.4L929.2 223.5L929.7 225.5L930.2 224.8L930.7 220.7L931.2 221L931.7 223.3L932.2 225.4L932.7 230.6L933.2 222.5L933.7 226.1L934.2 225.6L934.7 222.7L935.2 221.9L935.7 224.4L936.2 221.2L936.7 223.3L937.2 222L937.7 223.1L938.2 223.4L938.7 223.4L939.2 227.2L939.7 225.4L940.2 228.8L940.7 225L941.2 224.8L941.7 230.2L942.2 228.4L942.7 230.1L943.2 228.6L943.7 228.2L944.2 229L944.7 224L945.2 226.9L945.7 227.7L946.2 226.7L946.7 226L947.2 228.5L947.7 226.9L948.2 227.1L948.7 227L949.2 225.8L949.7 226.4L950.2 227.7L950.7 224.9L951.2 225.2L951.7 223.8L952.2 225.9L952.7 227.7L953.2 225.2L953.7 230L954.2 226.8L954.7 226.8L955.2 227.8L955.7 227.5L956.2 231.4L956.7 226.6L957.2 229L957.7 231.2L958.2 228.3L958.7 233.3L959.2 228.7L959.7 230.6L960.2 231L960.7 227.8L961.2 231.5L961.7 229.1L962.2 230.6L962.7 230.3L963.2 236.3L963.7 231.6L964.2 230.5L964.7 227.3L965.2 229.6L965.7 232.1L966.2 228.7L966.7 228.6L967.2 230.7L967.7 234.5L968.2 229.4L968.7 229.4L969.2 233.2L969.7 228L970.2 232.4L970.7 231.6L971.2 232.5L971.7 229L972.2 230.7L972.7 231.5L973.2 229.8L973.7 229.7L974.2 230.9L974.7 231.7L975.2 230.2L975.7 232.8L976.2 232.4L976.7 230.6L977.2 234.8L977.7 231.4L978.2 232L978.7 231.8L979.2 232.3L979.7 230L980.2 231.8L980.7 233.8L981.2 233.2L981.7 232.1L982.2 233.5L982.7 230.6L983.2 232.9L983.7 234L984.2 231.8L984.7 230.6L985.2 235.4L985.7 233L986.2 232.8L986.7 231.7L987.2 232.8L987.7 229.5L988.2 229.7L988.7 232.6L989.2 231.3L989.7 229.6L990.2 232.4L990.7 230.4L991.2 233L991.7 234.6L992.2 231L992.7 229.4L993.2 231.2L993.7 229.6L994.2 229.1L994.7 226.5L995.2 230.8L995.7 233.5L996.2 233.1L996.7 232.2L997.2 233.3L997.7 231.9L998.2 233.1L998.7 232.2L999.2 232.9L999.7 230.9L1000.2 231L1000.7 232.5L1001.2 230.3L1001.7 232.1L1002.2 228.6L1002.7 229.2L1003.2 226.8L1003.7 231.3L1004.2 230.2L1004.7 232.6L1005.2 229.5L1005.7 231.7L1006.2 229.7L1006.7 232.7L1007.2 231.2L1007.7 233.1L1008.2 232.3L1008.7 232.3L1009.2 232.5L1009.7 231.1L1010.2 232.2L1010.7 231.4L1011.2 229.9L1011.7 231.9L1012.2 230.2L1012.7 230.4L1013.2 228.2L1013.7 224.4L1014.2 230.6L1014.7 230.6L1015.2 232.3L1015.7 232.9L1016.2 227.8L1016.7 229.8L1017.2 230.8L1017.7 228.8L1018.2 227.5L1018.7 226.6L1019.2 229.2L1019.7 229.3L1020.2 231.6L1020.7 232.3L1021.2 233.7L1021.7 227.1L1022.2 231.7L1022.7 229.7L1023.2 229.3L1023.7 228.5L1024.2 232.9L1024.7 228.3L1025.2 227.6L1025.7 228.6L1026.2 230.4L1026.7 229.3L1027.2 228.6L1027.7 232.4L1028.2 232.1L1028.7 231.2L1029.2 229L1029.7 227.8L1030.2 228L1030.7 223.5L1031.2 230.6L1031.7 231.1L1032.2 231L1032.7 229L1033.2 229.7L1033.7 227.7L1034.2 232.8L1034.7 232.6L1035.2 230.8L1035.7 227.7L1036.2 233.7L1036.7 231.7L1037.2 234L1037.7 233.7L1038.2 234.7L1038.7 236.1L1039.2 232.3L1039.7 233L1040.2 234.5L1040.7 235.1L1041.2 231L1041.7 237.9L1042.2 235.4L1042.7 231.7L1043.2 230.2L1043.7 235.9L1044.2 232.5L1044.7 231.8L1045.2 233.4L1045.7 230.9L1046.2 233L1046.7 232L1047.2 234.4L1047.7 232.8L1048.2 235.6L1048.7 233.6L1049.2 233.7L1049.7 233.3L1050.2 233.5L1050.7 230.4L1051.2 232.9L1051.7 233.5L1052.2 229L1052.7 233.3L1053.2 233.5L1053.7 234.9L1054.2 231.9L1054.7 236.9L1055.2 234L1055.7 233L1056.2 234.3L1056.7 230.9L1057.2 234.2L1057.7 230.4L1058.2 232.2L1058.7 225.6L1059.2 228.2L1059.7 231.4L1060.2 231.5L1060.7 230.1L1061.2 229.1L1061.7 229L1062.2 231.4L1062.7 233.5L1063.2 230.2L1063.7 226.8L1064.2 230.4L1064.7 232.8L1065.2 231.1L1065.7 230.9L1066.2 234.2L1066.7 234.2L1067.2 234.6L1067.7 236.5L1068.2 237.4L1068.7 235.5L1069.2 231.6L1069.7 236.2L1070.2 237.1L1070.7 235.3L1071.2 234.1L1071.7 232.7L1072.2 234.8L1072.7 232.7L1073.2 235.1L1073.7 235.4L1074.2 231.7L1074.7 231.5L1075.2 230.3L1075.7 228.8L1076.2 228.9L1076.7 226.6L1077.2 227.5L1077.7 228L1078.2 229.5L1078.7 229.3L1079.2 230.4L1079.7 230.5L1080.2 231.2L1080.7 229.7L1081.2 228.5L1081.7 231.8L1082.2 228.6L1082.7 230.8L1083.2 230.4L1083.7 232L1084.2 233.9L1084.7 228.8L1085.2 229.5L1085.7 230.7L1086.2 230L1086.7 231.3L1087.2 229.4L1087.7 233.6L1088.2 231.3L1088.7 231.3L1089.2 230.9L1089.7 231.9L1090.2 231.3L1090.7 232.7L1091.2 237.6L1091.7 230.9L1092.2 232.2L1092.7 227.1L1093.2 233.7L1093.7 230.1L1094.2 226.1L1094.7 231.3L1095.2 229.5L1095.7 230L1096.2 229.3L1096.7 228.8L1097.2 228.6L1097.7 227.2L1098.2 228.3L1098.7 228.1L1099.2 228L1099.7 227.4L1100.2 228.3L1100.7 229.3L1101.2 227.5L1101.7 227.4L1102.2 227.7L1102.7 227.5L1103.2 227.4L1103.7 227.4L1104.2 227.7L1104.7 228.5L1105.2 226.6L1105.7 227.5L1106.2 226.7L1106.7 226.2L1107.2 225.6L1107.7 227.4L1108.2 228.2L1108.7 226.1L1109.2 227.6L1109.7 228.1L1110.2 228.1L1110.7 226.3L1111.2 228.4L1111.7 228.9L1112.2 227.1L1112.7 227.9L1113.2 228.4L1113.7 227.3L1114.2 228.4L1114.7 226.7L1115.2 227.4L1115.7 228.5L1116.2 229.2L1116.7 228.1L1117.2 226.7L1117.7 229.5L1118.2 227.6L1118.7 228.8L1119.2 228.2L1119.7 228.2L1120.2 227.9L1120.7 228.3L1121.2 228.3L1121.7 227.6" stroke="#ff1428" stroke-width="1.2" stroke-linejoin="round"/>
<path d="M669.2 315.7L669.7 314.4L670.2 314.3L670.7 315.3L671.2 310.3L671.7 315.5L672.2 314.6L672.7 315.4L673.2 316.1L673.7 313.3L674.2 311.8L674.7 314.8L675.2 315.1L675.7 312.4L676.2 305.4L676.7 302.7L677.2 307.6L677.7 303.7L678.2 303.7L678.7 305.8L679.2 307.8L679.7 303.9L680.2 310.9L680.7 312.9L681.2 310.8L681.7 312.8L682.2 312L682.7 310.9L683.2 315.3L683.7 311.9L684.2 316.8L684.7 312.1L685.2 310.7L685.7 312.3L686.2 313L686.7 308.2L687.2 309.1L687.7 313.4L688.2 308.3L688.7 309.6L689.2 305.6L689.7 315.2L690.2 307.5L690.7 312.4L691.2 307L691.7 309.4L692.2 305.8L692.7 308.6L693.2 306L693.7 305L694.2 309.9L694.7 308L695.2 308.4L695.7 310.9L696.2 312.8L696.7 313.2L697.2 309.1L697.7 312.6L698.2 310.3L698.7 312.2L699.2 312.1L699.7 312.6L700.2 318.6L700.7 311.4L701.2 313.5L701.7 312.3L702.2 316.2L702.7 313.9L703.2 317.8L703.7 316.5L704.2 322.3L704.7 319.9L705.2 315L705.7 321.1L706.2 315.8L706.7 316.3L707.2 323.6L707.7 316.5L708.2 313.2L708.7 311L709.2 307.3L709.7 307.9L710.2 304.6L710.7 302.6L711.2 301.1L711.7 302.3L712.2 302.1L712.7 302.2L713.2 306.1L713.7 303.1L714.2 307.9L714.7 307L715.2 308.3L715.7 307.7L716.2 310.7L716.7 308L717.2 311.3L717.7 312L718.2 306.3L718.7 309.3L719.2 310.3L719.7 312.8L720.2 308.9L720.7 309.9L721.2 311.8L721.7 315.7L722.2 312.9L722.7 309.8L723.2 309L723.7 309.2L724.2 303.7L724.7 310.2L725.2 304.1L725.7 310.1L726.2 310.2L726.7 316.6L727.2 305.4L727.7 312.3L728.2 314.5L728.7 311.7L729.2 315.5L729.7 316.8L730.2 320.7L730.7 313.6L731.2 317.1L731.7 313.4L732.2 315L732.7 315L733.2 314L733.7 314.4L734.2 311.7L734.7 308.3L735.2 308L735.7 309L736.2 309.1L736.7 310.3L737.2 309.2L737.7 309.9L738.2 314.6L738.7 313.2L739.2 304.6L739.7 308.6L740.2 313.8L740.7 313.6L741.2 311.5L741.7 316L742.2 313.1L742.7 316L743.2 311.7L743.7 312.7L744.2 314.2L744.7 314.6L745.2 312.5L745.7 312.7L746.2 315.3L746.7 307.7L747.2 310.6L747.7 308.1L748.2 306.2L748.7 308.8L749.2 300.3L749.7 299.9L750.2 296.4L750.7 302L751.2 296.3L751.7 297.4L752.2 297.5L752.7 296.6L753.2 294.3L753.7 294.1L754.2 290L754.7 291.4L755.2 289.7L755.7 295.3L756.2 297.1L756.7 301.5L757.2 301.6L757.7 304.1L758.2 302.7L758.7 305.2L759.2 305.6L759.7 304.7L760.2 301.9L760.7 306.1L761.2 308L761.7 308.5L762.2 306.5L762.7 305.1L763.2 304.1L763.7 301.2L764.2 302.9L764.7 305.6L765.2 298.9L765.7 304.1L766.2 297.3L766.7 301.2L767.2 300.7L767.7 301.9L768.2 298.4L768.7 302.8L769.2 297.9L769.7 302.5L770.2 301.1L770.7 300.6L771.2 300.7L771.7 303.2L772.2 305L772.7 301.8L773.2 305.8L773.7 309.5L774.2 307.7L774.7 311.3L775.2 306.4L775.7 308L776.2 304.9L776.7 307L777.2 309.4L777.7 308.7L778.2 309L778.7 306.3L779.2 311.4L779.7 308.6L780.2 309.5L780.7 305.1L781.2 306.5L781.7 309.8L782.2 310.7L782.7 310.2L783.2 310.4L783.7 310.6L784.2 317.4L784.7 318L785.2 316.9L785.7 316.7L786.2 317.7L786.7 321.3L787.2 323.9L787.7 315.4L788.2 317.9L788.7 317.4L789.2 319.3L789.7 316.7L790.2 316.4L790.7 315.3L791.2 315.4L791.7 312.9L792.2 317.6L792.7 314.4L793.2 313.2L793.7 313.9L794.2 314.2L794.7 313.4L795.2 308.5L795.7 315.9L796.2 312.5L796.7 314.9L797.2 312.7L797.7 314.6L798.2 309.9L798.7 314.3L799.2 311.6L799.7 312.2L800.2 311.5L800.7 308.2L801.2 308L801.7 311.7L802.2 306.7L802.7 313.8L803.2 308.7L803.7 310L804.2 309.3L804.7 309.2L805.2 315.7L805.7 308.8L806.2 312.6L806.7 309.9L807.2 310.2L807.7 311.3L808.2 310.4L808.7 301.9L809.2 305.6L809.7 307.4L810.2 303.6L810.7 303.4L811.2 299.1L811.7 299.7L812.2 297L812.7 297.1L813.2 291.9L813.7 293.4L814.2 292L814.7 285.6L815.2 293.8L815.7 288.2L816.2 294.3L816.7 296.2L817.2 295.1L817.7 292.4L818.2 295.7L818.7 295.8L819.2 295.3L819.7 298.2L820.2 301.8L820.7 301.5L821.2 301.8L821.7 304.9L822.2 300.7L822.7 305.8L823.2 306.6L823.7 312.3L824.2 307.6L824.7 312.6L825.2 316.5L825.7 313.9L826.2 315.7L826.7 313L827.2 317.2L827.7 314.8L828.2 314.5L828.7 321.5L829.2 319.9L829.7 321L830.2 320.7L830.7 318.3L831.2 321.3L831.7 319.5L832.2 318.4L832.7 318.1L833.2 319.7L833.7 321.8L834.2 318L834.7 315.3L835.2 318.1L835.7 318L836.2 319.7L836.7 314.7L837.2 318.5L837.7 318.5L838.2 314.9L838.7 316.1L839.2 314.3L839.7 315.9L840.2 316.7L840.7 317.5L841.2 313.7L841.7 315.2L842.2 316.3L842.7 313.2L843.2 314.8L843.7 315.4L844.2 310.5L844.7 314.2L845.2 314.4L845.7 311.7L846.2 311.6L846.7 312.8L847.2 312.8L847.7 308.5L848.2 308.5L848.7 308L849.2 314.5L849.7 308.2L850.2 307.1L850.7 311.2L851.2 305.5L851.7 308.5L852.2 303.3L852.7 305.9L853.2 306.8L853.7 307.5L854.2 303.8L854.7 306.8L855.2 305L855.7 301L856.2 299.4L856.7 300.9L857.2 298.6L857.7 299.9L858.2 296.3L858.7 296.1L859.2 298.7L859.7 298.6L860.2 300L860.7 291.9L861.2 293.1L861.7 297.7L862.2 294L862.7 294.6L863.2 294L863.7 290.6L864.2 292.1L864.7 294.5L865.2 291.9L865.7 291.5L866.2 285.1L866.7 286.6L867.2 288.2L867.7 291.3L868.2 288.2L868.7 287.2L869.2 293.5L869.7 291.4L870.2 291.2L870.7 290.9L871.2 295.2L871.7 292.3L872.2 293.4L872.7 294.5L873.2 291.1L873.7 295.2L874.2 290.3L874.7 291.7L875.2 293L875.7 295.5L876.2 292.5L876.7 293.9L877.2 292.7L877.7 292.6L878.2 285.8L878.7 289.9L879.2 290.4L879.7 289.7L880.2 291.3L880.7 289.9L881.2 286.5L881.7 284L882.2 285.9L882.7 286.1L883.2 280.8L883.7 280.7L884.2 281.9L884.7 283.2L885.2 278.4L885.7 283.1L886.2 283.1L886.7 286L887.2 282.6L887.7 284L888.2 281.9L888.7 285.1L889.2 284.8L889.7 289.3L890.2 285.8L890.7 285.2L891.2 286.6L891.7 284.8L892.2 284.5L892.7 290.2L893.2 284.2L893.7 283.8L894.2 285.8L894.7 280.8L895.2 283.2L895.7 281.8L896.2 285.1L896.7 279.1L897.2 284.4L897.7 281.3L898.2 279.2L898.7 284.5L899.2 285.7L899.7 285.6L900.2 283.7L900.7 280.5L901.2 283L901.7 278.9L902.2 281.6L902.7 283.9L903.2 283.1L903.7 276.5L904.2 278.7L904.7 282.8L905.2 281.9L905.7 283.2L906.2 288L906.7 284.6L907.2 291.4L907.7 293.1L908.2 290.6L908.7 297L909.2 295.1L909.7 294.3L910.2 293.1L910.7 295.6L911.2 291.6L911.7 290.6L912.2 292.8L912.7 286.1L913.2 289.2L913.7 290.4L914.2 293.1L914.7 293.3L915.2 288.6L915.7 292.3L916.2 294.2L916.7 294.8L917.2 292L917.7 295.1L918.2 295.3L918.7 300.5L919.2 301.3L919.7 303.7L920.2 304.2L920.7 307.8L921.2 313.2L921.7 309.6L922.2 314.4L922.7 312.7L923.2 310.2L923.7 314.3L924.2 309.4L924.7 308.1L925.2 308.6L925.7 304.5L926.2 304.5L926.7 305.2L927.2 307.6L927.7 304.2L928.2 308.9L928.7 310.2L929.2 306.6L929.7 305L930.2 305.3L930.7 302.7L931.2 311.1L931.7 309.2L932.2 309.8L932.7 312.7L933.2 317.3L933.7 313.2L934.2 313.3L934.7 317.9L935.2 312.1L935.7 300.2L936.2 290.7L936.7 281.8L937.2 281.1L937.7 286.8L938.2 288.5L938.7 292.4L939.2 297.3L939.7 302.1L940.2 302.7L940.7 304.9L941.2 301.1L941.7 298.5L942.2 297.4L942.7 298.9L943.2 294.3L943.7 296.4L944.2 294L944.7 289L945.2 287.3L945.7 282L946.2 287.5L946.7 294.9L947.2 298.8L947.7 309L948.2 311.2L948.7 315.7L949.2 318.2L949.7 312L950.2 308.9L950.7 307.9L951.2 302.9L951.7 298.1L952.2 297.6L952.7 288.9L953.2 291.2L953.7 285.2L954.2 282.4L954.7 283.5L955.2 279.8L955.7 278L956.2 284.8L956.7 282.7L957.2 284.3L957.7 283.7L958.2 287.5L958.7 289.6L959.2 292L959.7 287.7L960.2 288.2L960.7 287.9L961.2 284.4L961.7 281.7L962.2 281.6L962.7 283.7L963.2 280.4L963.7 282.5L964.2 284L964.7 283.5L965.2 284.9L965.7 285.8L966.2 293L966.7 292.1L967.2 293.3L967.7 302.2L968.2 302.6L968.7 309.3L969.2 308.4L969.7 305.9L970.2 304.6L970.7 306.4L971.2 302.7L971.7 301L972.2 305L972.7 303.6L973.2 307.6L973.7 302.8L974.2 306.5L974.7 305.1L975.2 309.4L975.7 307.9L976.2 308.6L976.7 313.1L977.2 311.7L977.7 309L978.2 307.4L978.7 306.2L979.2 302.6L979.7 300.7L980.2 303.4L980.7 300.9L981.2 307.5L981.7 304.8L982.2 306.4L982.7 303.9L983.2 305.9L983.7 305.7L984.2 311.7L984.7 315L985.2 312.7L985.7 318.5L986.2 320.7L986.7 323L987.2 320L987.7 323.1L988.2 322.3L988.7 319.1L989.2 319.6L989.7 317L990.2 315.8L990.7 316.9L991.2 310.9L991.7 314.2L992.2 314.5L992.7 312.1L993.2 303.3L993.7 305.1L994.2 305.3L994.7 299.2L995.2 295.8L995.7 296.5L996.2 290.5L996.7 291.9L997.2 289.3L997.7 292.1L998.2 297.3L998.7 301.4L999.2 305.5L999.7 302.2L1000.2 302.8L1000.7 298.4L1001.2 298.6L1001.7 294.3L1002.2 290.4L1002.7 293.3L1003.2 295.3L1003.7 300.5L1004.2 305.4L1004.7 308.2L1005.2 312.9L1005.7 317.6L1006.2 313.4L1006.7 316.3L1007.2 310.8L1007.7 310.7L1008.2 312.3L1008.7 310.6L1009.2 312.6L1009.7 313.2L1010.2 311.9L1010.7 307.4L1011.2 311.4L1011.7 309.3L1012.2 307.1L1012.7 308.3L1013.2 310.1L1013.7 310.5L1014.2 309.5L1014.7 313.5L1015.2 308.5L1015.7 315.1L1016.2 307.3L1016.7 306.8L1017.2 306.9L1017.7 312.4L1018.2 308.3L1018.7 309.6L1019.2 306.4L1019.7 309.4L1020.2 307.6L1020.7 306.2L1021.2 307.9L1021.7 306L1022.2 303.9L1022.7 307.7L1023.2 305.4L1023.7 304L1024.2 304.9L1024.7 301.6L1025.2 297.7L1025.7 302.4L1026.2 304.5L1026.7 308.8L1027.2 310.5L1027.7 309.6L1028.2 316.2L1028.7 320.9L1029.2 322.9L1029.7 322.3L1030.2 325.6L1030.7 325.5L1031.2 330.3L1031.7 333L1032.2 330.2L1032.7 328.1L1033.2 330.8L1033.7 327.6L1034.2 324.1L1034.7 325L1035.2 325.1L1035.7 323.9L1036.2 322.1L1036.7 320L1037.2 319.8L1037.7 313.9L1038.2 315.3L1038.7 313.5L1039.2 307.2L1039.7 311.7L1040.2 314.6L1040.7 319L1041.2 321.7L1041.7 329.8L1042.2 323.9L1042.7 328.6L1043.2 325.4L1043.7 324.8L1044.2 321.7L1044.7 319.8L1045.2 319.2L1045.7 311.3L1046.2 315.5L1046.7 309.6L1047.2 304.8L1047.7 298.9L1048.2 293L1048.7 291.8L1049.2 285L1049.7 278.8L1050.2 274.2L1050.7 273L1051.2 268.4L1051.7 267.1L1052.2 272.1L1052.7 272.9L1053.2 270.7L1053.7 273.7L1054.2 279L1054.7 281.7L1055.2 285.2L1055.7 290L1056.2 290.1L1056.7 289.1L1057.2 293.2L1057.7 294.3L1058.2 293.8L1058.7 293.6L1059.2 293.6L1059.7 302.2L1060.2 298.5L1060.7 296.4L1061.2 294.7L1061.7 293L1062.2 288.2L1062.7 288.5L1063.2 286.6L1063.7 292.3L1064.2 283.6L1064.7 284.2L1065.2 283.6L1065.7 285.1L1066.2 285.3L1066.7 286.2L1067.2 284.2L1067.7 292L1068.2 289.2L1068.7 288.1L1069.2 284.1L1069.7 281.2L1070.2 282L1070.7 285.9L1071.2 285.9L1071.7 294.3L1072.2 302.7L1072.7 298.2L1073.2 295.6L1073.7 288.8L1074.2 284.8L1074.7 277.7L1075.2 282.9L1075.7 282.7L1076.2 293.2L1076.7 295.1L1077.2 295L1077.7 296.1L1078.2 300.2L1078.7 304.1L1079.2 304.6L1079.7 308L1080.2 313.1L1080.7 315.5L1081.2 312.6L1081.7 311.7L1082.2 306.5L1082.7 306.1L1083.2 302.5L1083.7 296.2L1084.2 297.7L1084.7 291.3L1085.2 288.3L1085.7 285.2L1086.2 281.9L1086.7 274.4L1087.2 281.6L1087.7 285.8L1088.2 288.8L1088.7 289.8L1089.2 296.4L1089.7 298.1L1090.2 300.5L1090.7 298.6L1091.2 292L1091.7 291.1L1092.2 285.4L1092.7 286.4L1093.2 284.2L1093.7 278.5L1094.2 281.4L1094.7 280.1L1095.2 277L1095.7 280.7L1096.2 279.4L1096.7 278.2L1097.2 279.6L1097.7 279.1L1098.2 278.4L1098.7 280.6L1099.2 281.3L1099.7 283.2L1100.2 282.9L1100.7 284.1L1101.2 285L1101.7 284L1102.2 281.4L1102.7 282L1103.2 279.4L1103.7 281.6L1104.2 278.8L1104.7 283.3L1105.2 281.9L1105.7 275.9L1106.2 277.9L1106.7 275.2L1107.2 274.2L1107.7 274.4L1108.2 277.7L1108.7 273.9L1109.2 275L1109.7 274.2L1110.2 277.3L1110.7 277.8L1111.2 274.1L1111.7 275.2L1112.2 278.4L1112.7 277.4L1113.2 276.4L1113.7 282.4L1114.2 273.9L1114.7 275L1115.2 275.8L1115.7 274.8L1116.2 273.7L1116.7 274.2L1117.2 275.4L1117.7 276.3L1118.2 277.1L1118.7 275L1119.2 275.5L1119.7 277.2L1120.2 280L1120.7 284.2L1121.2 284.5L1121.7 278" stroke="#ff1e28" stroke-width="1.0" stroke-linejoin="round"/>
<path d="M669.2 315.9L669.7 312.8L670.2 311.1L670.7 312.8L671.2 313.2L671.7 313.3L672.2 316.1L672.7 313.9L673.2 314.5L673.7 312.7L674.2 313L674.7 313.8L675.2 311.7L675.7 310.7L676.2 313.6L676.7 311.7L677.2 313.4L677.7 313.2L678.2 314.3L678.7 313.1L679.2 315.9L679.7 313L680.2 314.5L680.7 309.9L681.2 314.9L681.7 309.9L682.2 309.5L682.7 311.6L683.2 312.6L683.7 312.6L684.2 311L684.7 312L685.2 312.4L685.7 308.8L686.2 310.7L686.7 311.8L687.2 311L687.7 312.5L688.2 312.8L688.7 311.4L689.2 308.9L689.7 312.3L690.2 313.7L690.7 313.9L691.2 311L691.7 308.6L692.2 308.8L692.7 311.5L693.2 310.6L693.7 310.5L694.2 312.5L694.7 312.6L695.2 311.2L695.7 316.4L696.2 313.5L696.7 309.9L697.2 310.1L697.7 314L698.2 313.6L698.7 313.6L699.2 314.3L699.7 313.4L700.2 314.2L700.7 313.2L701.2 316.1L701.7 311.9L702.2 312.7L702.7 311.2L703.2 313.6L703.7 313.9L704.2 313.1L704.7 312.6L705.2 313.1L705.7 312.1L706.2 312.2L706.7 311L707.2 313.9L707.7 315.2L708.2 315.3L708.7 312.6L709.2 311.8L709.7 315.3L710.2 311.7L710.7 313.4L711.2 312.4L711.7 310.6L712.2 312.1L712.7 311.6L713.2 309.1L713.7 313.5L714.2 308.7L714.7 311.3L715.2 313.2L715.7 312.1L716.2 312.6L716.7 310.7L717.2 313.4L717.7 312.4L718.2 308.9L718.7 308.4L719.2 311.5L719.7 311.7L720.2 311.1L720.7 310.5L721.2 309.3L721.7 310.4L722.2 309.6L722.7 307.8L723.2 311.1L723.7 310.1L724.2 310.2L724.7 308.9L725.2 312.5L725.7 312.3L726.2 313.6L726.7 312.2L727.2 308.9L727.7 314.4L728.2 309.3L728.7 313L729.2 314.2L729.7 311.3L730.2 313.9L730.7 311.9L731.2 309.1L731.7 312.1L732.2 313.1L732.7 313.5L733.2 314.8L733.7 312.1L734.2 311.7L734.7 308.4L735.2 308.7L735.7 312.3L736.2 313.8L736.7 308.8L737.2 316.5L737.7 310.5L738.2 310.5L738.7 313.4L739.2 312.4L739.7 314.3L740.2 312.1L740.7 313.2L741.2 310.3L741.7 311.6L742.2 312.1L742.7 312.4L743.2 316.2L743.7 314.1L744.2 311.9L744.7 312.8L745.2 312.5L745.7 312.6L746.2 312.4L746.7 311.7L747.2 311.7L747.7 308.6L748.2 307.5L748.7 306.7L749.2 304.6L749.7 302.9L750.2 307.1L750.7 303L751.2 303.1L751.7 304.1L752.2 302.6L752.7 306.2L753.2 305.5L753.7 310.7L754.2 315L754.7 313.4L755.2 314.7L755.7 310.2L756.2 309L756.7 310.8L757.2 308.7L757.7 306.4L758.2 307.3L758.7 304.2L759.2 306.5L759.7 305.4L760.2 305.7L760.7 307L761.2 307.5L761.7 311.1L762.2 310.8L762.7 310.7L763.2 310L763.7 310.8L764.2 309.3L764.7 309.1L765.2 310.1L765.7 314.1L766.2 313.4L766.7 312.1L767.2 311.8L767.7 309.3L768.2 306.5L768.7 306.4L769.2 310.7L769.7 310.2L770.2 307.7L770.7 308.6L771.2 310L771.7 307.4L772.2 308.6L772.7 308.9L773.2 309.2L773.7 309.1L774.2 309.5L774.7 310.8L775.2 309.9L775.7 308.7L776.2 308.7L776.7 312.3L777.2 311.4L777.7 310L778.2 307.7L778.7 309.4L779.2 310.7L779.7 312.1L780.2 309.8L780.7 310.8L781.2 311.7L781.7 313.3L782.2 313.6L782.7 312.2L783.2 312.3L783.7 312.1L784.2 314.4L784.7 312.9L785.2 314.4L785.7 314.2L786.2 316.7L786.7 316.6L787.2 320.7L787.7 316.8L788.2 318.5L788.7 314.8L789.2 319.3L789.7 316.3L790.2 317.1L790.7 316.1L791.2 314.6L791.7 317.1L792.2 313.1L792.7 314.2L793.2 317.8L793.7 315.4L794.2 314.2L794.7 319L795.2 319.2L795.7 317.5L796.2 319L796.7 318.8L797.2 318.4L797.7 317.6L798.2 318.5L798.7 320.4L799.2 318L799.7 318.3L800.2 316.8L800.7 315.8L801.2 312.2L801.7 311.2L802.2 311.7L802.7 314L803.2 313.2L803.7 314.6L804.2 313.5L804.7 310.5L805.2 312.7L805.7 310.5L806.2 312.5L806.7 313.8L807.2 310.5L807.7 314L808.2 315.7L808.7 314.5L809.2 316L809.7 312.4L810.2 317.5L810.7 317.1L811.2 318.1L811.7 316.6L812.2 318.7L812.7 320.6L813.2 321.1L813.7 319.3L814.2 315.8L814.7 318.3L815.2 317.8L815.7 314.6L816.2 313.6L816.7 313.9L817.2 314.1L817.7 313.2L818.2 311.4L818.7 312.1L819.2 311.9L819.7 314.4L820.2 312.9L820.7 314.4L821.2 315.3L821.7 314.2L822.2 316.2L822.7 313.8L823.2 317.7L823.7 318.4L824.2 319.7L824.7 316.7L825.2 318.7L825.7 316.9L826.2 318.1L826.7 317.4L827.2 316.1L827.7 318.5L828.2 316.4L828.7 318.2L829.2 315.3L829.7 317.8L830.2 319.1L830.7 319L831.2 318.2L831.7 316.2L832.2 317.1L832.7 315.9L833.2 317.2L833.7 318.4L834.2 315.4L834.7 317.1L835.2 313L835.7 315.3L836.2 314.8L836.7 316.2L837.2 315.3L837.7 314.2L838.2 316L838.7 317.1L839.2 314.6L839.7 312.9L840.2 313.9L840.7 313.9L841.2 314.4L841.7 315L842.2 315.2L842.7 315.1L843.2 314L843.7 315.2L844.2 314.8L844.7 313.4L845.2 314L845.7 313.7L846.2 314.1L846.7 312.4L847.2 313.9L847.7 311.7L848.2 311.3L848.7 311.2L849.2 309.7L849.7 313.1L850.2 307.9L850.7 310.9L851.2 310.6L851.7 314.5L852.2 310.1L852.7 310.2L853.2 312.1L853.7 311.5L854.2 312.7L854.7 313.1L855.2 315.7L855.7 307.9L856.2 314.8L856.7 309.8L857.2 309.7L857.7 308.7L858.2 311.9L858.7 308.5L859.2 306.7L859.7 307.4L860.2 306.5L860.7 307.3L861.2 310.3L861.7 314.4L862.2 313.7L862.7 315.1L863.2 318.2L863.7 318.1L864.2 318.7L864.7 317.3L865.2 314.1L865.7 316.4L866.2 312.7L866.7 313.6L867.2 312.7L867.7 311.6L868.2 309.3L868.7 307.1L869.2 306.1L869.7 305.7L870.2 304.6L870.7 304.9L871.2 304.6L871.7 300.4L872.2 299.5L872.7 299.9L873.2 299.3L873.7 298.3L874.2 296.6L874.7 297.6L875.2 299L875.7 300.8L876.2 304.2L876.7 303.9L877.2 300.3L877.7 302.7L878.2 295.5L878.7 297.2L879.2 296.6L879.7 296.3L880.2 297.8L880.7 297L881.2 298L881.7 299.2L882.2 299.9L882.7 303.6L883.2 305.6L883.7 306.8L884.2 308.6L884.7 309.4L885.2 311.1L885.7 310L886.2 313.1L886.7 312.5L887.2 312.4L887.7 310.9L888.2 312.9L888.7 312.4L889.2 311.3L889.7 313.5L890.2 312.4L890.7 311.1L891.2 313.9L891.7 313.6L892.2 310.7L892.7 311.7L893.2 309.7L893.7 309.3L894.2 312.5L894.7 313.1L895.2 310.8L895.7 313.3L896.2 311.9L896.7 311.6L897.2 313.8L897.7 311.4L898.2 313.5L898.7 313.8L899.2 314.9L899.7 314L900.2 314.8L900.7 314.3L901.2 311.5L901.7 316.3L902.2 314.7L902.7 316.2L903.2 314.3L903.7 314L904.2 315.5L904.7 316.1L905.2 317.8L905.7 315.7L906.2 316.4L906.7 316.4L907.2 315.9L907.7 314.4L908.2 315.6L908.7 315.6L909.2 315.5L909.7 315.7L910.2 313L910.7 315.8L911.2 317.3L911.7 316.5L912.2 317.5L912.7 312.4L913.2 317.6L913.7 314.7L914.2 317.3L914.7 316.1L915.2 316.7L915.7 317.3L916.2 315.8L916.7 317L917.2 315.9L917.7 315.1L918.2 314L918.7 314.8L919.2 315.2L919.7 316.9L920.2 317.3L920.7 318.4L921.2 317.3L921.7 320.1L922.2 319.6L922.7 319.8L923.2 319.8L923.7 320.7L924.2 321.8L924.7 322.5L925.2 323.5L925.7 321.5L926.2 321.5L926.7 324.3L927.2 320.7L927.7 323.4L928.2 322.7L928.7 323.4L929.2 324.3L929.7 323.4L930.2 322.6L930.7 328.3L931.2 326.5L931.7 325.1L932.2 326.7L932.7 324.3L933.2 322.5L933.7 324.2L934.2 323.5L934.7 321.4L935.2 321.8L935.7 321.8L936.2 321.8L936.7 322.8L937.2 319.9L937.7 320.6L938.2 318.1L938.7 317.4L939.2 319.8L939.7 321.4L940.2 322.1L940.7 324.3L941.2 322.9L941.7 324L942.2 326.2L942.7 325.5L943.2 321.8L943.7 321.7L944.2 321.8L944.7 321L945.2 317.4L945.7 313.6L946.2 314L946.7 315.1L947.2 311.9L947.7 316.2L948.2 315.4L948.7 319.2L949.2 323.9L949.7 326.3L950.2 323.3L950.7 323.7L951.2 319.8L951.7 318.8L952.2 314.4L952.7 311.3L953.2 312.3L953.7 311.4L954.2 313.4L954.7 312.7L955.2 312.3L955.7 308.7L956.2 311.9L956.7 313.3L957.2 309.7L957.7 310.4L958.2 312.3L958.7 316.1L959.2 316.4L959.7 315.9L960.2 317.5L960.7 322L961.2 321.7L961.7 323.1L962.2 324.1L962.7 324.7L963.2 325.5L963.7 325.2L964.2 323.6L964.7 326.5L965.2 325.8L965.7 328.2L966.2 327.4L966.7 328.4L967.2 329.2L967.7 326.7L968.2 330.1L968.7 330.6L969.2 328.4L969.7 329.1L970.2 331.3L970.7 327L971.2 322.9L971.7 323.5L972.2 324.9L972.7 322.3L973.2 317.2L973.7 318L974.2 319.4L974.7 318.3L975.2 319.4L975.7 320L976.2 319.6L976.7 318.2L977.2 318L977.7 316.4L978.2 317.6L978.7 313.6L979.2 317.7L979.7 314.7L980.2 317.1L980.7 316.7L981.2 317.2L981.7 318.7L982.2 317.9L982.7 317.5L983.2 317.2L983.7 319.3L984.2 322L984.7 320.6L985.2 321.4L985.7 322.5L986.2 321.1L986.7 321.4L987.2 320.8L987.7 321.8L988.2 322.9L988.7 318.8L989.2 320.8L989.7 319.8L990.2 320.1L990.7 319.5L991.2 316.7L991.7 315.2L992.2 317.1L992.7 317.1L993.2 314.6L993.7 314.1L994.2 313.6L994.7 311.8L995.2 311.4L995.7 310.2L996.2 309.9L996.7 310.1L997.2 315.7L997.7 313.2L998.2 313.5L998.7 318.1L999.2 318L999.7 318.5L1000.2 320L1000.7 320.4L1001.2 323.3L1001.7 323L1002.2 319.1L1002.7 318.7L1003.2 317.4L1003.7 317.1L1004.2 316.3L1004.7 312L1005.2 311.6L1005.7 308L1006.2 311.2L1006.7 312.2L1007.2 311.1L1007.7 313.4L1008.2 315.1L1008.7 312L1009.2 312.1L1009.7 311.9L1010.2 311.7L1010.7 314.6L1011.2 312.3L1011.7 309.3L1012.2 310.6L1012.7 309.8L1013.2 311.6L1013.7 309.8L1014.2 313L1014.7 309.5L1015.2 309.3L1015.7 309L1016.2 308L1016.7 309.2L1017.2 308.2L1017.7 306.9L1018.2 308.1L1018.7 306.8L1019.2 309L1019.7 306.9L1020.2 307.2L1020.7 309.6L1021.2 306.5L1021.7 306.1L1022.2 308.4L1022.7 309.4L1023.2 305.4L1023.7 305.5L1024.2 309.9L1024.7 310.6L1025.2 313.9L1025.7 317.1L1026.2 318.9L1026.7 318.1L1027.2 319.1L1027.7 319.9L1028.2 318.5L1028.7 325.1L1029.2 324.1L1029.7 323.6L1030.2 326L1030.7 327.4L1031.2 327.4L1031.7 323.1L1032.2 322.6L1032.7 322L1033.2 324.5L1033.7 324.8L1034.2 323.7L1034.7 323.3L1035.2 322.6L1035.7 324.2L1036.2 323.3L1036.7 322.2L1037.2 323.7L1037.7 322.6L1038.2 321.9L1038.7 323L1039.2 322.1L1039.7 320.9L1040.2 321.1L1040.7 322.4L1041.2 322.9L1041.7 321L1042.2 321.7L1042.7 321.4L1043.2 321L1043.7 319.7L1044.2 321.1L1044.7 321.5L1045.2 322.3L1045.7 322.1L1046.2 320.1L1046.7 317L1047.2 315.1L1047.7 315.2L1048.2 314.9L1048.7 310.3L1049.2 309.6L1049.7 309.8L1050.2 308.9L1050.7 305.6L1051.2 307.1L1051.7 307.7L1052.2 304.9L1052.7 306.1L1053.2 307.2L1053.7 302.4L1054.2 303.4L1054.7 302.2L1055.2 307.3L1055.7 303.7L1056.2 305.9L1056.7 310.7L1057.2 308.6L1057.7 313.1L1058.2 315.7L1058.7 311.9L1059.2 315.2L1059.7 315L1060.2 315L1060.7 311.5L1061.2 309.1L1061.7 304.1L1062.2 301.4L1062.7 299.2L1063.2 296.2L1063.7 292.7L1064.2 293.8L1064.7 297.2L1065.2 299.1L1065.7 303.3L1066.2 304.3L1066.7 306.8L1067.2 309.8L1067.7 309.9L1068.2 309.3L1068.7 310.3L1069.2 310.7L1069.7 322.9L1070.2 333.6L1070.7 333.7L1071.2 331.2L1071.7 329.7L1072.2 334.2L1072.7 333.7L1073.2 335.1L1073.7 332.2L1074.2 335.3L1074.7 330.6L1075.2 333.7L1075.7 332.3L1076.2 332.2L1076.7 329.6L1077.2 328.3L1077.7 325.1L1078.2 328.8L1078.7 323.7L1079.2 324.5L1079.7 323.7L1080.2 322.4L1080.7 322.8L1081.2 321.9L1081.7 324.1L1082.2 321.2L1082.7 323.9L1083.2 323L1083.7 324L1084.2 323.5L1084.7 322.1L1085.2 319.3L1085.7 318.6L1086.2 319.2L1086.7 318.6L1087.2 317.9L1087.7 317.9L1088.2 314.9L1088.7 317.3L1089.2 317.8L1089.7 313.7L1090.2 314.9L1090.7 314.2L1091.2 311.6L1091.7 304.3L1092.2 304.8L1092.7 299.8L1093.2 297.4L1093.7 294.5L1094.2 297.4L1094.7 303.9L1095.2 304.2L1095.7 308.3L1096.2 310L1096.7 310.5L1097.2 308.7L1097.7 311.2L1098.2 312.5L1098.7 310.2L1099.2 309.5L1099.7 312.3L1100.2 311.3L1100.7 314.1L1101.2 314.5L1101.7 310.8L1102.2 312.2L1102.7 314.7L1103.2 311L1103.7 313.6L1104.2 313.2L1104.7 314.3L1105.2 313.7L1105.7 315.1L1106.2 313.4L1106.7 316.4L1107.2 315.4L1107.7 314.2L1108.2 314.7L1108.7 315.7L1109.2 317.6L1109.7 316.3L1110.2 313.3L1110.7 315.8L1111.2 315.9L1111.7 314.3L1112.2 314.5L1112.7 312.8L1113.2 313.5L1113.7 311.7L1114.2 314.3L1114.7 310L1115.2 311.5L1115.7 310.9L1116.2 312.6L1116.7 313.9L1117.2 314L1117.7 315.1L1118.2 316.1L1118.7 314.8L1119.2 316.7L1119.7 316.7L1120.2 315.2L1120.7 316.5L1121.2 316.2L1121.7 314.4" stroke="#1a1a1a" stroke-width="1.1" stroke-linejoin="round"/>
<path d="M668.6 373.7L1122.5 373.7" stroke="#000" stroke-width="1.2" stroke-dasharray="4.5 2.6"/>
<path d="M669.2 375.6L669.7 377.8L670.2 374.1L670.7 377.2L671.2 375.8L671.7 373.7L672.2 375.8L672.7 377.3L673.2 377.6L673.7 374.8L674.2 377.2L674.7 374.8L675.2 376.7L675.7 376.9L676.2 379.6L676.7 376.2L677.2 377L677.7 378.7L678.2 382.7L678.7 381L679.2 383.7L679.7 381.5L680.2 384.4L680.7 386.8L681.2 382.8L681.7 379.6L682.2 378.8L682.7 377L683.2 378.9L683.7 375.2L684.2 379L684.7 377.7L685.2 376.5L685.7 377.1L686.2 375.7L686.7 376.1L687.2 374.7L687.7 374.5L688.2 374.1L688.7 373L689.2 374.9L689.7 373.3L690.2 372.1L690.7 375.5L691.2 372.6L691.7 374.4L692.2 375.1L692.7 373.4L693.2 374.1L693.7 373L694.2 372.8L694.7 372.2L695.2 371.8L695.7 374L696.2 372.4L696.7 372.1L697.2 372.7L697.7 373.8L698.2 372.1L698.7 373.7L699.2 371.5L699.7 373.6L700.2 372.1L700.7 371.7L701.2 371L701.7 371.4L702.2 372.2L702.7 372L703.2 370.2L703.7 371.9L704.2 370.2L704.7 372.1L705.2 370L705.7 372.7L706.2 368.6L706.7 368.8L707.2 370.1L707.7 370L708.2 367.7L708.7 369.1L709.2 369.6L709.7 370.9L710.2 370.1L710.7 370.4L711.2 372.4L711.7 371.1L712.2 373.8L712.7 374.3L713.2 371.3L713.7 371.3L714.2 373.9L714.7 372.9L715.2 373.7L715.7 373.8L716.2 373.2L716.7 372.7L717.2 372.3L717.7 372.3L718.2 374.3L718.7 375.3L719.2 378.5L719.7 377.7L720.2 378.9L720.7 377.8L721.2 378.5L721.7 376.5L722.2 377.9L722.7 376.9L723.2 375.6L723.7 378.3L724.2 376L724.7 375.4L725.2 376.8L725.7 376.5L726.2 375.7L726.7 373.8L727.2 373.1L727.7 374.8L728.2 373L728.7 372L729.2 371.8L729.7 370.5L730.2 370.6L730.7 370.5L731.2 371.7L731.7 373.9L732.2 372.9L732.7 375L733.2 375.4L733.7 373.3L734.2 374.9L734.7 376L735.2 374L735.7 374.3L736.2 373.4L736.7 375.6L737.2 374.1L737.7 373.8L738.2 375.1L738.7 376L739.2 375.7L739.7 374.1L740.2 373.2L740.7 375.6L741.2 373.1L741.7 372.5L742.2 373.1L742.7 373L743.2 373.1L743.7 374.6L744.2 374.3L744.7 373L745.2 373.2L745.7 372.4L746.2 371.8L746.7 371.2L747.2 369.7L747.7 369L748.2 369.6L748.7 369.6L749.2 371.4L749.7 372L750.2 371.8L750.7 372.2L751.2 373.6L751.7 372.1L752.2 373.6L752.7 373.6L753.2 374.3L753.7 373.3L754.2 371.6L754.7 373.5L755.2 374.6L755.7 372.9L756.2 372.1L756.7 373.7L757.2 373.6L757.7 374.5L758.2 373L758.7 374.5L759.2 375.5L759.7 374.7L760.2 374.1L760.7 373.8L761.2 372.5L761.7 372.3L762.2 372.9L762.7 372.3L763.2 374.4L763.7 373.3L764.2 373.3L764.7 373.3L765.2 367.9L765.7 374L766.2 373.3L766.7 373.7L767.2 373.2L767.7 374.7L768.2 372.9L768.7 373.9L769.2 373.3L769.7 372.7L770.2 372.6L770.7 373.9L771.2 374.3L771.7 374.8L772.2 374.1L772.7 374L773.2 373.3L773.7 373.4L774.2 374.9L774.7 374.5L775.2 373.8L775.7 374.4L776.2 373L776.7 373.1L777.2 373.9L777.7 367L778.2 372L778.7 373.1L779.2 375.1L779.7 372.7L780.2 374.3L780.7 373.2L781.2 372.5L781.7 372.5L782.2 372.6L782.7 371.6L783.2 372.4L783.7 373.2L784.2 372L784.7 373L785.2 373.1L785.7 372.2L786.2 371.6L786.7 370.8L787.2 371L787.7 371.1L788.2 371.1L788.7 371.8L789.2 373.9L789.7 373.1L790.2 370.6L790.7 371.7L791.2 371.9L791.7 371.3L792.2 372.2L792.7 370.9L793.2 371.8L793.7 371.8L794.2 369.5L794.7 369.6L795.2 369.4L795.7 370.8L796.2 370.1L796.7 369.8L797.2 369.6L797.7 370.1L798.2 370.7L798.7 367.5L799.2 368.4L799.7 367.1L800.2 368.8L800.7 369.2L801.2 367.9L801.7 368.2L802.2 372L802.7 370.4L803.2 369.5L803.7 368.7L804.2 370.7L804.7 370.6L805.2 371.6L805.7 373.1L806.2 371.9L806.7 371L807.2 372.1L807.7 371.2L808.2 370.9L808.7 371.4L809.2 370.5L809.7 369.4L810.2 368.4L810.7 369.4L811.2 369.1L811.7 370L812.2 370.5L812.7 369.8L813.2 368.2L813.7 368.2L814.2 370.4L814.7 368.9L815.2 368.3L815.7 368L816.2 369.6L816.7 370.9L817.2 370.5L817.7 369.3L818.2 371.5L818.7 371.3L819.2 371.9L819.7 372.1L820.2 371.9L820.7 369.8L821.2 371.4L821.7 371.6L822.2 371.8L822.7 371.9L823.2 371.1L823.7 367.4L824.2 369.6L824.7 371.5L825.2 369.9L825.7 370.8L826.2 371.2L826.7 371.4L827.2 372L827.7 369L828.2 368.4L828.7 369.2L829.2 369.6L829.7 369.7L830.2 372.8L830.7 367L831.2 370.5L831.7 368.7L832.2 370.3L832.7 370L833.2 369.9L833.7 367.7L834.2 369.8L834.7 369.6L835.2 367.7L835.7 369.5L836.2 367.9L836.7 370.9L837.2 370.1L837.7 368.3L838.2 374.6L838.7 371.8L839.2 364.2L839.7 369.1L840.2 372.2L840.7 371.2L841.2 372.1L841.7 369.5L842.2 369.8L842.7 370L843.2 369.2L843.7 369.3L844.2 367.2L844.7 371.7L845.2 370.7L845.7 370L846.2 370.9L846.7 367.7L847.2 368.8L847.7 370.6L848.2 368.9L848.7 370.7L849.2 372.6L849.7 371.6L850.2 372.1L850.7 370.9L851.2 372.8L851.7 373.6L852.2 371.1L852.7 373.2L853.2 372.2L853.7 373.8L854.2 372.9L854.7 374.9L855.2 376.8L855.7 373.1L856.2 375.5L856.7 376.7L857.2 372.1L857.7 374.7L858.2 376.3L858.7 369L859.2 374.6L859.7 372.1L860.2 369.1L860.7 373.2L861.2 372.9L861.7 370.3L862.2 371.8L862.7 371.1L863.2 372.7L863.7 369.5L864.2 373.9L864.7 372.9L865.2 369.7L865.7 371.5L866.2 371.4L866.7 370.2L867.2 368.7L867.7 369.9L868.2 369.9L868.7 371.3L869.2 368.5L869.7 372L870.2 369.7L870.7 369L871.2 367.6L871.7 372.7L872.2 369.1L872.7 370.6L873.2 368.8L873.7 372.1L874.2 369.8L874.7 371.8L875.2 369.4L875.7 370.7L876.2 370.3L876.7 369.4L877.2 370.8L877.7 370.2L878.2 369.8L878.7 372.1L879.2 373.3L879.7 368.7L880.2 368.4L880.7 361L881.2 370.2L881.7 371.3L882.2 369.2L882.7 371.2L883.2 371.3L883.7 371.7L884.2 370.1L884.7 374.3L885.2 367.7L885.7 372.5L886.2 370.2L886.7 372.3L887.2 379.8L887.7 375.8L888.2 369.9L888.7 372.1L889.2 374.5L889.7 371.4L890.2 367.2L890.7 373.2L891.2 370.1L891.7 370.6L892.2 372.4L892.7 371.2L893.2 371.5L893.7 366.5L894.2 371.3L894.7 368.5L895.2 369L895.7 373.6L896.2 371.3L896.7 370.3L897.2 367.8L897.7 369L898.2 368.4L898.7 372.2L899.2 369.2L899.7 368.1L900.2 368.7L900.7 369.8L901.2 370.7L901.7 368.7L902.2 370.3L902.7 368.4L903.2 368.3L903.7 369.2L904.2 370.8L904.7 367.5L905.2 372.1L905.7 369.9L906.2 369.3L906.7 370.7L907.2 370.5L907.7 367.9L908.2 368.8L908.7 370.3L909.2 373.1L909.7 375L910.2 368.5L910.7 371.3L911.2 372.3L911.7 373.5L912.2 369.3L912.7 373.3L913.2 376.2L913.7 370L914.2 370.1L914.7 369.6L915.2 372.4L915.7 372.9L916.2 369.3L916.7 372.8L917.2 369.5L917.7 372.6L918.2 375.4L918.7 371.6L919.2 378L919.7 373.3L920.2 372.8L920.7 378.4L921.2 375.5L921.7 376.8L922.2 377.9L922.7 377L923.2 372.9L923.7 375.8L924.2 377L924.7 374.4L925.2 374.5L925.7 371.5L926.2 376.4L926.7 374.3L927.2 376.6L927.7 378.4L928.2 378.3L928.7 377.4L929.2 378.8L929.7 376.4L930.2 377.9L930.7 383.1L931.2 380.5L931.7 379.6L932.2 383.6L932.7 380.6L933.2 381.5L933.7 384.7L934.2 375.3L934.7 386L935.2 385.2L935.7 382.6L936.2 382.7L936.7 377.9L937.2 377.8L937.7 378.5L938.2 375.8L938.7 376.3L939.2 374.3L939.7 378.5L940.2 375.4L940.7 375.5L941.2 377.6L941.7 377.1L942.2 375.7L942.7 373.5L943.2 374.3L943.7 375.9L944.2 376.7L944.7 371.9L945.2 369.8L945.7 373.8L946.2 376.7L946.7 380.7L947.2 380L947.7 382.9L948.2 382.1L948.7 384.5L949.2 381.9L949.7 386.1L950.2 379.8L950.7 383.2L951.2 378.8L951.7 380.4L952.2 378L952.7 378.2L953.2 375.7L953.7 376L954.2 376.3L954.7 374.8L955.2 374.4L955.7 374.6L956.2 372.9L956.7 371.4L957.2 368L957.7 373.8L958.2 372.7L958.7 377.5L959.2 371.8L959.7 375.3L960.2 375.4L960.7 375.9L961.2 371.4L961.7 369.9L962.2 372L962.7 370.7L963.2 372.5L963.7 372L964.2 367.9L964.7 374.4L965.2 372.4L965.7 373.8L966.2 372.3L966.7 374.9L967.2 373L967.7 372.8L968.2 371.7L968.7 374L969.2 374.9L969.7 375.2L970.2 374.3L970.7 374.8L971.2 374.1L971.7 374.5L972.2 371.8L972.7 371.6L973.2 374.1L973.7 371.3L974.2 370.4L974.7 372.4L975.2 372.5L975.7 369.5L976.2 372.5L976.7 370.9L977.2 369.8L977.7 371.6L978.2 368.3L978.7 369.7L979.2 373.3L979.7 365.3L980.2 372.2L980.7 374.2L981.2 371.1L981.7 372.1L982.2 370.1L982.7 370.1L983.2 371.5L983.7 371.5L984.2 371.2L984.7 369.8L985.2 365.8L985.7 367.1L986.2 368.1L986.7 364.5L987.2 366.5L987.7 367.8L988.2 367.8L988.7 369.5L989.2 369.8L989.7 367L990.2 371.7L990.7 367.9L991.2 371.6L991.7 368.2L992.2 369.8L992.7 374.8L993.2 372.8L993.7 374.5L994.2 374.7L994.7 374.5L995.2 376.2L995.7 378L996.2 373.7L996.7 372.4L997.2 372.2L997.7 366.7L998.2 368.3L998.7 365.6L999.2 367.2L999.7 370.1L1000.2 372.1L1000.7 375.7L1001.2 374.9L1001.7 378L1002.2 374.1L1002.7 378.2L1003.2 380.2L1003.7 381.1L1004.2 377.5L1004.7 378.8L1005.2 382L1005.7 377.4L1006.2 379.6L1006.7 376.1L1007.2 375.3L1007.7 378.8L1008.2 375.6L1008.7 372.3L1009.2 375.8L1009.7 372.8L1010.2 376.1L1010.7 377.9L1011.2 374.4L1011.7 377.7L1012.2 375.1L1012.7 373.8L1013.2 374L1013.7 375.3L1014.2 370.7L1014.7 370.8L1015.2 373.3L1015.7 372.3L1016.2 370.2L1016.7 370.4L1017.2 372.6L1017.7 368.7L1018.2 371.1L1018.7 371.2L1019.2 370.2L1019.7 370.3L1020.2 368.3L1020.7 365.7L1021.2 367.8L1021.7 365.4L1022.2 366L1022.7 369.4L1023.2 366.8L1023.7 366.7L1024.2 371.1L1024.7 367.3L1025.2 370.5L1025.7 369.9L1026.2 372.1L1026.7 372L1027.2 371.5L1027.7 372L1028.2 374.1L1028.7 371.7L1029.2 372.9L1029.7 374.3L1030.2 375.7L1030.7 371.1L1031.2 375.2L1031.7 374.1L1032.2 376L1032.7 374.6L1033.2 371.7L1033.7 374L1034.2 374.5L1034.7 375.4L1035.2 371.9L1035.7 373.6L1036.2 374.9L1036.7 371L1037.2 374.2L1037.7 374.3L1038.2 376.1L1038.7 378.2L1039.2 376.2L1039.7 377.3L1040.2 376.3L1040.7 374.6L1041.2 373.1L1041.7 378.3L1042.2 374.1L1042.7 373L1043.2 373.8L1043.7 374.7L1044.2 374.8L1044.7 370.5L1045.2 372.8L1045.7 371.9L1046.2 369.5L1046.7 368.4L1047.2 372L1047.7 370.1L1048.2 380.7L1048.7 371.1L1049.2 372.6L1049.7 369.5L1050.2 373.2L1050.7 373.2L1051.2 370.3L1051.7 370.2L1052.2 374.6L1052.7 375.1L1053.2 370.2L1053.7 372.9L1054.2 373.8L1054.7 372.7L1055.2 375.3L1055.7 375L1056.2 374.6L1056.7 373L1057.2 372.8L1057.7 374.3L1058.2 377.2L1058.7 374.2L1059.2 376.3L1059.7 380.4L1060.2 380.2L1060.7 381.9L1061.2 383.7L1061.7 379.3L1062.2 379.9L1062.7 381.5L1063.2 375.7L1063.7 375.8L1064.2 375.7L1064.7 371.4L1065.2 369.4L1065.7 367.8L1066.2 368.9L1066.7 363.2L1067.2 367.3L1067.7 365.2L1068.2 366.8L1068.7 363.2L1069.2 366.5L1069.7 363.2L1070.2 364.1L1070.7 364L1071.2 364L1071.7 363.9L1072.2 366.1L1072.7 367.1L1073.2 365.6L1073.7 370L1074.2 368.1L1074.7 371.2L1075.2 369.3L1075.7 371.6L1076.2 368.5L1076.7 367.6L1077.2 369.5L1077.7 367.4L1078.2 371.4L1078.7 368.1L1079.2 363.7L1079.7 366.1L1080.2 368.2L1080.7 368.4L1081.2 367.1L1081.7 368.7L1082.2 371.6L1082.7 370L1083.2 371.4L1083.7 369.7L1084.2 362.4L1084.7 371.8L1085.2 370.1L1085.7 372.6L1086.2 370.2L1086.7 371.3L1087.2 370.2L1087.7 368.5L1088.2 370.1L1088.7 371.8L1089.2 367.9L1089.7 367.7L1090.2 371.1L1090.7 371.7L1091.2 367.2L1091.7 371.2L1092.2 367.1L1092.7 370.5L1093.2 371.7L1093.7 368.3L1094.2 367.1L1094.7 368.8L1095.2 373.1L1095.7 372.2L1096.2 372.6L1096.7 372.6L1097.2 367.4L1097.7 370.2L1098.2 373.3L1098.7 374L1099.2 374.3L1099.7 374.5L1100.2 373.9L1100.7 374.3L1101.2 372.8L1101.7 377L1102.2 373.3L1102.7 374L1103.2 372.8L1103.7 373.5L1104.2 373.7L1104.7 371.6L1105.2 376.9L1105.7 373.5L1106.2 374.3L1106.7 371.2L1107.2 374.6L1107.7 374.4L1108.2 374.9L1108.7 377L1109.2 375.3L1109.7 373.3L1110.2 375.3L1110.7 372.7L1111.2 373.3L1111.7 374.2L1112.2 371.7L1112.7 372.6L1113.2 374.3L1113.7 376.9L1114.2 375.1L1114.7 373L1115.2 376.7L1115.7 376.3L1116.2 375.4L1116.7 379.4L1117.2 374.6L1117.7 373.2L1118.2 374.9L1118.7 374.2L1119.2 374.9L1119.7 374.8L1120.2 375.3L1120.7 372.2L1121.2 372.6L1121.7 374.1" stroke="#1e1eff" stroke-width="1.0" stroke-linejoin="round"/>
<path d="M669.2 375.2L669.7 373.5L670.2 372.7L670.7 374.8L671.2 373.7L671.7 373.2L672.2 375.6L672.7 375.2L673.2 372.6L673.7 373.7L674.2 374.4L674.7 373.5L675.2 375.6L675.7 374.2L676.2 377.8L676.7 372.5L677.2 374.4L677.7 373.6L678.2 373.5L678.7 374L679.2 374.7L679.7 373.3L680.2 372.8L680.7 373.6L681.2 374.2L681.7 373.2L682.2 373.8L682.7 374.6L683.2 372.7L683.7 375.3L684.2 375.3L684.7 373.9L685.2 373.6L685.7 373.7L686.2 375.1L686.7 372.5L687.2 375.4L687.7 373.4L688.2 372.6L688.7 374.5L689.2 373.6L689.7 374.7L690.2 373.1L690.7 372.7L691.2 375.3L691.7 373.2L692.2 374.4L692.7 373.6L693.2 374.1L693.7 373.2L694.2 373.9L694.7 373.2L695.2 374.1L695.7 373.5L696.2 373.2L696.7 374.3L697.2 373.7L697.7 373L698.2 375.4L698.7 374.3L699.2 373.2L699.7 372.4L700.2 369.3L700.7 374.3L701.2 372.5L701.7 373.4L702.2 372.7L702.7 374.4L703.2 374.7L703.7 373.9L704.2 373.2L704.7 375L705.2 376.2L705.7 374L706.2 374.9L706.7 376L707.2 376.5L707.7 376.2L708.2 377L708.7 374.4L709.2 375.9L709.7 377L710.2 376.4L710.7 376L711.2 375.9L711.7 375.7L712.2 377L712.7 375.6L713.2 376.4L713.7 375L714.2 375.2L714.7 376.2L715.2 375L715.7 375L716.2 374.9L716.7 374.7L717.2 375.3L717.7 374.5L718.2 374.9L718.7 375.2L719.2 374.5L719.7 374.1L720.2 374.3L720.7 375.5L721.2 375.9L721.7 375.6L722.2 375.2L722.7 375.8L723.2 374.5L723.7 374.7L724.2 374.9L724.7 375.2L725.2 375.1L725.7 375.2L726.2 373.8L726.7 374.3L727.2 374.8L727.7 373.7L728.2 374L728.7 374.1L729.2 376.3L729.7 374.4L730.2 373.9L730.7 373.2L731.2 374.2L731.7 375.2L732.2 373.7L732.7 376.5L733.2 374.4L733.7 373.6L734.2 374.4L734.7 375.6L735.2 374.5L735.7 374.8L736.2 375.4L736.7 375.8L737.2 375.4L737.7 376.4L738.2 374.5L738.7 374.4L739.2 374.7L739.7 374.6L740.2 375.8L740.7 375.1L741.2 375.1L741.7 375.3L742.2 375.6L742.7 374.6L743.2 374.1L743.7 373.8L744.2 374.7L744.7 374.5L745.2 375.2L745.7 373.5L746.2 373.8L746.7 374.8L747.2 376.3L747.7 375.9L748.2 374.4L748.7 374.4L749.2 375.2L749.7 376.1L750.2 375.4L750.7 376.4L751.2 374.3L751.7 375.7L752.2 374.8L752.7 375.8L753.2 374.6L753.7 375.2L754.2 376.3L754.7 375.7L755.2 374.9L755.7 375.4L756.2 375.2L756.7 374.6L757.2 375.1L757.7 374.6L758.2 375.3L758.7 374.2L759.2 374.5L759.7 375.7L760.2 374.4L760.7 374.1L761.2 374.3L761.7 374.3L762.2 374.4L762.7 373.9L763.2 373.6L763.7 374L764.2 373.8L764.7 375.2L765.2 374.9L765.7 374.6L766.2 373.4L766.7 374L767.2 374.1L767.7 374.3L768.2 374.9L768.7 373.5L769.2 373.5L769.7 374.5L770.2 373.9L770.7 373.7L771.2 374.3L771.7 372.9L772.2 373.7L772.7 374.6L773.2 373.9L773.7 373.5L774.2 373L774.7 372.7L775.2 373.7L775.7 373.6L776.2 373.7L776.7 372.9L777.2 373.1L777.7 373.6L778.2 373.7L778.7 374.3L779.2 373.8L779.7 373.1L780.2 372.6L780.7 372.4L781.2 373.3L781.7 372.7L782.2 372.9L782.7 372.6L783.2 372.9L783.7 372.2L784.2 373.1L784.7 373.8L785.2 372.9L785.7 373.2L786.2 373.3L786.7 373.7L787.2 372L787.7 373.3L788.2 373.2L788.7 374.2L789.2 371.8L789.7 373.2L790.2 373.3L790.7 372.8L791.2 368.9L791.7 374L792.2 372.8L792.7 373.6L793.2 373.2L793.7 374L794.2 373.1L794.7 372.9L795.2 373.2L795.7 374.5L796.2 373.7L796.7 373.9L797.2 373.4L797.7 372.9L798.2 373.1L798.7 372.3L799.2 372.6L799.7 373.5L800.2 374.1L800.7 374.2L801.2 373.2L801.7 373.9L802.2 374.6L802.7 373.4L803.2 372.5L803.7 374.7L804.2 372.6L804.7 375.3L805.2 374.1L805.7 374.1L806.2 373.6L806.7 373L807.2 374.6L807.7 372.8L808.2 373.7L808.7 373.9L809.2 374.8L809.7 374.9L810.2 373.4L810.7 374L811.2 372.6L811.7 372.2L812.2 375.8L812.7 372.9L813.2 373.8L813.7 373.2L814.2 371.9L814.7 374.1L815.2 373.9L815.7 373.1L816.2 373.6L816.7 372.6L817.2 372.6L817.7 372.1L818.2 373.7L818.7 372.1L819.2 372.3L819.7 373.1L820.2 372.8L820.7 373.9L821.2 371.4L821.7 372.7L822.2 374.7L822.7 373.5L823.2 373.3L823.7 373.5L824.2 374.2L824.7 373.5L825.2 373.4L825.7 371.6L826.2 373.3L826.7 372.7L827.2 373.2L827.7 373.8L828.2 372.4L828.7 373.8L829.2 373.9L829.7 373L830.2 374.5L830.7 373.7L831.2 375.2L831.7 373.7L832.2 375.7L832.7 374.6L833.2 372.8L833.7 373.1L834.2 374.4L834.7 373.9L835.2 372.3L835.7 375.7L836.2 374.5L836.7 373.3L837.2 373.3L837.7 374.4L838.2 373.8L838.7 372.2L839.2 373.3L839.7 371.5L840.2 372.6L840.7 372.9L841.2 373.7L841.7 373.5L842.2 373.5L842.7 373.7L843.2 374.1L843.7 373L844.2 372L844.7 372.3L845.2 374.2L845.7 373.2L846.2 373.7L846.7 370.8L847.2 371.7L847.7 371.7L848.2 372.2L848.7 372.5L849.2 375.5L849.7 372.7L850.2 373.3L850.7 370.8L851.2 374.1L851.7 372.7L852.2 372.8L852.7 373L853.2 374.6L853.7 374.7L854.2 371.9L854.7 372.4L855.2 372.5L855.7 373.1L856.2 373.9L856.7 373.8L857.2 371.5L857.7 374.4L858.2 373.4L858.7 375.3L859.2 373.9L859.7 373.6L860.2 373L860.7 373.1L861.2 373L861.7 372.9L862.2 372.9L862.7 373.9L863.2 373L863.7 372.7L864.2 373.5L864.7 374L865.2 372.1L865.7 374.1L866.2 375L866.7 374.9L867.2 373.7L867.7 374L868.2 374.1L868.7 373.1L869.2 374.8L869.7 375L870.2 372.7L870.7 373.5L871.2 376.3L871.7 374.7L872.2 373.7L872.7 373L873.2 373.9L873.7 372.9L874.2 372.6L874.7 374.2L875.2 373L875.7 372.2L876.2 372L876.7 372.9L877.2 374.1L877.7 371.6L878.2 373.9L878.7 375L879.2 373.7L879.7 374.5L880.2 372.7L880.7 373.9L881.2 374.4L881.7 373.9L882.2 373.8L882.7 376.3L883.2 375.1L883.7 371.6L884.2 374.3L884.7 374.2L885.2 373.7L885.7 368.4L886.2 373.3L886.7 374.1L887.2 373L887.7 372.9L888.2 372.2L888.7 374L889.2 372.1L889.7 372.3L890.2 371.7L890.7 372.5L891.2 372.4L891.7 372.4L892.2 373.1L892.7 371.9L893.2 372.2L893.7 371.8L894.2 372.5L894.7 372.8L895.2 370.3L895.7 371.4L896.2 371.8L896.7 370.5L897.2 369.5L897.7 371.6L898.2 372.1L898.7 372.9L899.2 372.8L899.7 374.2L900.2 373.1L900.7 371.6L901.2 371.9L901.7 372.9L902.2 370.9L902.7 371.3L903.2 373.8L903.7 372.9L904.2 369.6L904.7 372.6L905.2 371.3L905.7 373.7L906.2 371.8L906.7 371.2L907.2 371.5L907.7 372.2L908.2 372.3L908.7 372.1L909.2 371.7L909.7 371.8L910.2 373.8L910.7 372.5L911.2 372.2L911.7 373.1L912.2 371.8L912.7 373L913.2 373.6L913.7 372.3L914.2 372.6L914.7 372.3L915.2 371.9L915.7 373.9L916.2 373.6L916.7 372.8L917.2 374.2L917.7 373.6L918.2 373L918.7 374.8L919.2 372.3L919.7 373.9L920.2 372.7L920.7 372.5L921.2 373.6L921.7 371.9L922.2 373.9L922.7 378.5L923.2 374.5L923.7 373.3L924.2 374.2L924.7 373.6L925.2 374.2L925.7 374.4L926.2 372.8L926.7 378.2L927.2 374.7L927.7 374.6L928.2 373.7L928.7 372.8L929.2 374.2L929.7 375.1L930.2 374.4L930.7 375.9L931.2 373L931.7 374.6L932.2 374.8L932.7 375.9L933.2 376L933.7 376.2L934.2 374.5L934.7 373.9L935.2 375.4L935.7 372.8L936.2 374.2L936.7 371.7L937.2 374.4L937.7 374.2L938.2 373.3L938.7 374.1L939.2 372.5L939.7 372.2L940.2 374.5L940.7 374.1L941.2 373.9L941.7 371.3L942.2 373.5L942.7 371.2L943.2 372.7L943.7 373.6L944.2 372.5L944.7 373.8L945.2 374L945.7 372.8L946.2 382.9L946.7 374.1L947.2 374.7L947.7 375.3L948.2 373.3L948.7 374.8L949.2 374.1L949.7 373.7L950.2 373.6L950.7 377.3L951.2 378L951.7 375.2L952.2 377.1L952.7 374.8L953.2 375.4L953.7 375.9L954.2 376.5L954.7 376.2L955.2 374L955.7 375.4L956.2 376.2L956.7 376L957.2 376.3L957.7 373.9L958.2 375.2L958.7 374.9L959.2 375.6L959.7 375.8L960.2 374.4L960.7 374L961.2 373.3L961.7 379.1L962.2 373.8L962.7 375.7L963.2 375L963.7 373.1L964.2 376L964.7 373.5L965.2 375.2L965.7 374.4L966.2 376.2L966.7 376.2L967.2 373.6L967.7 374.5L968.2 375L968.7 372.1L969.2 373.2L969.7 373.7L970.2 374.8L970.7 374.2L971.2 371.9L971.7 374.1L972.2 374L972.7 373.9L973.2 374.3L973.7 373.6L974.2 372.5L974.7 374.7L975.2 373.1L975.7 373.7L976.2 372.3L976.7 373L977.2 371.9L977.7 372.1L978.2 372.8L978.7 373.4L979.2 373.1L979.7 374.5L980.2 373.3L980.7 370.8L981.2 373.1L981.7 371.5L982.2 373.3L982.7 373.8L983.2 375.2L983.7 373.8L984.2 372.5L984.7 372.1L985.2 372.3L985.7 374.4L986.2 371.6L986.7 371.2L987.2 373L987.7 371.4L988.2 372.8L988.7 372.2L989.2 372.1L989.7 372.5L990.2 370.9L990.7 370.4L991.2 371.9L991.7 369.9L992.2 372.2L992.7 371.3L993.2 372.6L993.7 370.1L994.2 369.4L994.7 371.8L995.2 369.8L995.7 370.3L996.2 369.5L996.7 370.4L997.2 370.3L997.7 371.2L998.2 372.7L998.7 371.9L999.2 372.9L999.7 371.6L1000.2 370.1L1000.7 372.3L1001.2 370.9L1001.7 373.7L1002.2 373.6L1002.7 372.8L1003.2 372.8L1003.7 373.6L1004.2 375.2L1004.7 371.7L1005.2 373.6L1005.7 370.9L1006.2 372.4L1006.7 372.7L1007.2 370.9L1007.7 372L1008.2 374.4L1008.7 371.8L1009.2 372.6L1009.7 374.3L1010.2 375.5L1010.7 373.3L1011.2 373.6L1011.7 374.1L1012.2 372.7L1012.7 374.5L1013.2 373.7L1013.7 374.3L1014.2 374.5L1014.7 375.3L1015.2 375.3L1015.7 374.4L1016.2 374.7L1016.7 372.8L1017.2 373.8L1017.7 374.6L1018.2 373.8L1018.7 374.6L1019.2 373.2L1019.7 373.8L1020.2 372L1020.7 373.1L1021.2 373.1L1021.7 372.2L1022.2 372.5L1022.7 372.1L1023.2 373.2L1023.7 370.6L1024.2 372L1024.7 371L1025.2 373.9L1025.7 369.8L1026.2 370.9L1026.7 373L1027.2 364.1L1027.7 370L1028.2 372.3L1028.7 368.1L1029.2 369.4L1029.7 370L1030.2 366.8L1030.7 367.6L1031.2 367.7L1031.7 367.8L1032.2 369.2L1032.7 366.9L1033.2 366L1033.7 366.9L1034.2 366.3L1034.7 365.2L1035.2 369.1L1035.7 367L1036.2 368L1036.7 365.5L1037.2 364.2L1037.7 368.1L1038.2 366.8L1038.7 372.6L1039.2 365.7L1039.7 365.4L1040.2 364.7L1040.7 366.9L1041.2 364.2L1041.7 366.7L1042.2 367.7L1042.7 367.4L1043.2 368.3L1043.7 369.9L1044.2 367.9L1044.7 369.1L1045.2 369.5L1045.7 369.8L1046.2 371.6L1046.7 373L1047.2 373.5L1047.7 374.6L1048.2 373.3L1048.7 373.3L1049.2 373.7L1049.7 375.4L1050.2 374.8L1050.7 372.4L1051.2 372L1051.7 374.8L1052.2 373.8L1052.7 374.6L1053.2 375.5L1053.7 373.8L1054.2 372.2L1054.7 373.3L1055.2 374.7L1055.7 375.2L1056.2 374.1L1056.7 374.5L1057.2 375.4L1057.7 375.4L1058.2 374.9L1058.7 377.3L1059.2 375.9L1059.7 376.8L1060.2 374.7L1060.7 376L1061.2 375.9L1061.7 377.3L1062.2 376.5L1062.7 377.3L1063.2 375.4L1063.7 375.3L1064.2 373L1064.7 373.1L1065.2 371.8L1065.7 372.7L1066.2 373L1066.7 373.3L1067.2 371.2L1067.7 370.8L1068.2 370.6L1068.7 367.3L1069.2 371.4L1069.7 369L1070.2 369.1L1070.7 369.5L1071.2 367.7L1071.7 369.6L1072.2 371.3L1072.7 367.3L1073.2 362.9L1073.7 369.7L1074.2 367.3L1074.7 369.8L1075.2 370.1L1075.7 369.3L1076.2 367.9L1076.7 366.3L1077.2 367.6L1077.7 368.8L1078.2 367.5L1078.7 368.2L1079.2 366.7L1079.7 367.3L1080.2 367.4L1080.7 369.1L1081.2 366.7L1081.7 367.7L1082.2 368.3L1082.7 368.1L1083.2 368.7L1083.7 367.2L1084.2 368.1L1084.7 372.9L1085.2 369.1L1085.7 370.1L1086.2 371.3L1086.7 371.3L1087.2 371.1L1087.7 370.7L1088.2 371.8L1088.7 371.6L1089.2 371.1L1089.7 373.9L1090.2 371.1L1090.7 371L1091.2 372.6L1091.7 372.1L1092.2 373.7L1092.7 373.7L1093.2 373.1L1093.7 373.3L1094.2 374.8L1094.7 372.8L1095.2 374.8L1095.7 374.6L1096.2 374.7L1096.7 371.9L1097.2 375L1097.7 372.8L1098.2 374L1098.7 373.5L1099.2 374.8L1099.7 374.6L1100.2 372.7L1100.7 373.1L1101.2 375.4L1101.7 374.3L1102.2 372.8L1102.7 373.5L1103.2 373.8L1103.7 373.9L1104.2 372.8L1104.7 374.1L1105.2 372L1105.7 374.9L1106.2 375.7L1106.7 372.8L1107.2 374.1L1107.7 374.3L1108.2 372.7L1108.7 373.7L1109.2 374L1109.7 373L1110.2 373.2L1110.7 373.1L1111.2 374.3L1111.7 374.3L1112.2 373L1112.7 372.9L1113.2 371.8L1113.7 372.7L1114.2 371.5L1114.7 373.5L1115.2 370.7L1115.7 372.9L1116.2 374.4L1116.7 373.8L1117.2 374.1L1117.7 372.6L1118.2 372.4L1118.7 374.6L1119.2 370.5L1119.7 370.9L1120.2 373.3L1120.7 370L1121.2 371.9L1121.7 371.9" stroke="#1eff1e" stroke-width="1.0" stroke-linejoin="round"/>
<path d="M669.2 394.8L669.7 395.1L670.2 396.7L670.7 396.3L671.2 395.7L671.7 394.9L672.2 393.9L672.7 393.5L673.2 392.3L673.7 390.5L674.2 394.5L674.7 395.8L675.2 397.1L675.7 393.8L676.2 397.3L676.7 394.2L677.2 392.7L677.7 393.6L678.2 394.7L678.7 395.8L679.2 391.3L679.7 392.7L680.2 390.5L680.7 390.3L681.2 391.6L681.7 392.6L682.2 395L682.7 402.2L683.2 400.5L683.7 402.1L684.2 399L684.7 397L685.2 390.6L685.7 391.5L686.2 386.8L686.7 392.2L687.2 392.4L687.7 393.5L688.2 395.8L688.7 398.2L689.2 402.2L689.7 398.8L690.2 397.7L690.7 397.7L691.2 395.7L691.7 397.3L692.2 396.4L692.7 400.1L693.2 396.5L693.7 394.7L694.2 395.2L694.7 395.1L695.2 395.2L695.7 394.7L696.2 393L696.7 391.4L697.2 391.3L697.7 391.6L698.2 389L698.7 389.5L699.2 388.8L699.7 386.4L700.2 389.1L700.7 388.2L701.2 388.6L701.7 387L702.2 388.4L702.7 388.4L703.2 388.5L703.7 388.9L704.2 389.1L704.7 389.6L705.2 388.9L705.7 393.5L706.2 394.4L706.7 390.4L707.2 389.7L707.7 389.6L708.2 387.9L708.7 389.2L709.2 390.8L709.7 388.4L710.2 382.7L710.7 386.3L711.2 384.4L711.7 387.7L712.2 389.2L712.7 388.2L713.2 390L713.7 389.6L714.2 385.4L714.7 387.9L715.2 385.4L715.7 390L716.2 388.3L716.7 388L717.2 388.9L717.7 389.4L718.2 390.5L718.7 391.6L719.2 390.8L719.7 391.7L720.2 391.7L720.7 390.1L721.2 391.3L721.7 393.5L722.2 392.8L722.7 392.8L723.2 392.1L723.7 391.8L724.2 392.4L724.7 390.8L725.2 392.5L725.7 392.3L726.2 390.6L726.7 391.8L727.2 390.4L727.7 391.7L728.2 391.4L728.7 392.8L729.2 390.1L729.7 393L730.2 392.3L730.7 393.2L731.2 392.5L731.7 390.7L732.2 392.7L732.7 392L733.2 393.2L733.7 395L734.2 393.7L734.7 392.9L735.2 392.1L735.7 393L736.2 394.3L736.7 391.9L737.2 392.1L737.7 394L738.2 393.5L738.7 394.4L739.2 393.6L739.7 392.8L740.2 393.5L740.7 394.3L741.2 394.7L741.7 394.1L742.2 392.5L742.7 396.4L743.2 393.8L743.7 397.2L744.2 397.2L744.7 397.5L745.2 395.8L745.7 396.6L746.2 392.6L746.7 388.7L747.2 389.8L747.7 386.3L748.2 384.7L748.7 383.5L749.2 384.8L749.7 382.8L750.2 381.9L750.7 380.9L751.2 380.6L751.7 381L752.2 382.1L752.7 381.9L753.2 383.3L753.7 379.9L754.2 379.8L754.7 380.1L755.2 381.1L755.7 378.4L756.2 381.4L756.7 380.4L757.2 380.4L757.7 382.5L758.2 380.9L758.7 381.2L759.2 383.1L759.7 380.7L760.2 382.5L760.7 384.3L761.2 384.9L761.7 382.7L762.2 384.9L762.7 382.9L763.2 381.3L763.7 383.9L764.2 382.7L764.7 384.6L765.2 382.9L765.7 379.6L766.2 381.4L766.7 378.8L767.2 379.5L767.7 379.8L768.2 377.4L768.7 379.4L769.2 380.1L769.7 379.3L770.2 380.7L770.7 379.1L771.2 380.4L771.7 378.4L772.2 379.5L772.7 380.4L773.2 381.4L773.7 380.6L774.2 380.9L774.7 379.7L775.2 382.4L775.7 381.8L776.2 380.9L776.7 380.8L777.2 382L777.7 382.6L778.2 380.8L778.7 383.4L779.2 382.6L779.7 382.2L780.2 384.9L780.7 385.6L781.2 385L781.7 385.6L782.2 386.3L782.7 386.8L783.2 386.9L783.7 387.6L784.2 389L784.7 389.5L785.2 389.7L785.7 392.1L786.2 394L786.7 394.5L787.2 394.7L787.7 396.4L788.2 395.2L788.7 392.5L789.2 392.4L789.7 391.3L790.2 389.8L790.7 389.5L791.2 391L791.7 392.4L792.2 389.9L792.7 390.8L793.2 392.7L793.7 396.6L794.2 398.4L794.7 397.8L795.2 402.1L795.7 400.8L796.2 401.5L796.7 404.5L797.2 410.2L797.7 406.1L798.2 400.1L798.7 400.6L799.2 401.5L799.7 393.3L800.2 392.6L800.7 396.7L801.2 396.8L801.7 392.1L802.2 397.2L802.7 397.7L803.2 397.4L803.7 395.8L804.2 395.1L804.7 393.1L805.2 393L805.7 390.4L806.2 385.8L806.7 389.2L807.2 391.5L807.7 382.1L808.2 388.2L808.7 385.9L809.2 390.2L809.7 393.3L810.2 386.9L810.7 386.4L811.2 387.7L811.7 386.4L812.2 387.4L812.7 388.9L813.2 385.6L813.7 390.7L814.2 385L814.7 385.9L815.2 383.7L815.7 386L816.2 386.6L816.7 389.2L817.2 391L817.7 387L818.2 385.9L818.7 388.9L819.2 389.5L819.7 392.8L820.2 391.8L820.7 391.2L821.2 397.6L821.7 396.1L822.2 399.7L822.7 395.6L823.2 402L823.7 397.9L824.2 403.8L824.7 403.7L825.2 400.2L825.7 395.9L826.2 398.3L826.7 404.2L827.2 394.1L827.7 398.5L828.2 398.6L828.7 399L829.2 398.1L829.7 399.7L830.2 399L830.7 398.2L831.2 404.5L831.7 403.1L832.2 401.1L832.7 397.9L833.2 402.6L833.7 399L834.2 397.3L834.7 396.9L835.2 396.1L835.7 390.8L836.2 395.7L836.7 396.9L837.2 396.8L837.7 398.6L838.2 402.8L838.7 399.3L839.2 399.6L839.7 397.6L840.2 402.5L840.7 399.7L841.2 398.8L841.7 399.5L842.2 394L842.7 395.1L843.2 395.8L843.7 399.9L844.2 394.2L844.7 396.2L845.2 393.1L845.7 392.1L846.2 391.9L846.7 391.5L847.2 397.3L847.7 396.9L848.2 396.7L848.7 397.2L849.2 401.7L849.7 393.1L850.2 397.3L850.7 396.4L851.2 396.8L851.7 395.3L852.2 394.9L852.7 396L853.2 392.8L853.7 393.7L854.2 393.7L854.7 393.1L855.2 396.2L855.7 389.8L856.2 391.1L856.7 393.4L857.2 390.3L857.7 389L858.2 387.2L858.7 394.2L859.2 388.7L859.7 394.1L860.2 393.6L860.7 396L861.2 388L861.7 389.9L862.2 387.5L862.7 387L863.2 386.3L863.7 392L864.2 385.8L864.7 386.2L865.2 389.4L865.7 385.8L866.2 388.1L866.7 383.7L867.2 388.7L867.7 389.5L868.2 384.8L868.7 388.4L869.2 388.5L869.7 386.3L870.2 387L870.7 387L871.2 385.8L871.7 387.1L872.2 386.6L872.7 390.1L873.2 385.6L873.7 385.1L874.2 385.6L874.7 386.6L875.2 384.3L875.7 384.8L876.2 387.7L876.7 387.2L877.2 385.7L877.7 385.5L878.2 384.6L878.7 383.2L879.2 383L879.7 386L880.2 384L880.7 385.4L881.2 387.5L881.7 386.5L882.2 388L882.7 387.7L883.2 388.8L883.7 392.8L884.2 389.2L884.7 393.1L885.2 390.4L885.7 390.5L886.2 392.7L886.7 394.5L887.2 390.8L887.7 391.2L888.2 392.7L888.7 390.2L889.2 388.5L889.7 389.2L890.2 392.1L890.7 390L891.2 389.3L891.7 388.1L892.2 391.3L892.7 392.3L893.2 389.5L893.7 388.9L894.2 391.9L894.7 390.3L895.2 393L895.7 391L896.2 389.5L896.7 388.8L897.2 389.1L897.7 390.9L898.2 383.9L898.7 389.3L899.2 391L899.7 390L900.2 387.8L900.7 391.6L901.2 387.4L901.7 390.8L902.2 387L902.7 386.4L903.2 389.6L903.7 391.6L904.2 390L904.7 388.5L905.2 388.5L905.7 390.2L906.2 392.5L906.7 391.3L907.2 390.8L907.7 391L908.2 392.5L908.7 392.3L909.2 393.6L909.7 394.8L910.2 392.3L910.7 395.7L911.2 391L911.7 395.6L912.2 395.2L912.7 396L913.2 394.8L913.7 397L914.2 396.7L914.7 398.8L915.2 393.1L915.7 396.6L916.2 394.4L916.7 398.2L917.2 391L917.7 392.4L918.2 398.1L918.7 392.8L919.2 390L919.7 387.8L920.2 380.1L920.7 385.1L921.2 385.5L921.7 379.7L922.2 380.2L922.7 382.4L923.2 379.7L923.7 379.2L924.2 382.4L924.7 377.6L925.2 382.9L925.7 383.9L926.2 382.2L926.7 385.2L927.2 386.3L927.7 386.8L928.2 382.9L928.7 384.2L929.2 383.4L929.7 383.2L930.2 383.2L930.7 381.5L931.2 383.7L931.7 378.4L932.2 378.6L932.7 379.7L933.2 376.6L933.7 371.7L934.2 376.9L934.7 378.1L935.2 374.8L935.7 375.9L936.2 374.8L936.7 377.1L937.2 377.9L937.7 374.6L938.2 373.2L938.7 381.4L939.2 379L939.7 377.1L940.2 375.6L940.7 377.6L941.2 376.4L941.7 380.7L942.2 378.7L942.7 378.7L943.2 382.2L943.7 378.7L944.2 378.5L944.7 374.3L945.2 379.7L945.7 381.4L946.2 383.5L946.7 389L947.2 388L947.7 388.8L948.2 392L948.7 391.7L949.2 396.9L949.7 398.9L950.2 397.7L950.7 400.8L951.2 399.7L951.7 401.4L952.2 398L952.7 398.5L953.2 393.1L953.7 392.6L954.2 390.2L954.7 384.9L955.2 386.5L955.7 380.4L956.2 383.3L956.7 383.3L957.2 386.5L957.7 387.7L958.2 383.6L958.7 385.7L959.2 385.9L959.7 386.1L960.2 386.2L960.7 384.7L961.2 388.6L961.7 388.4L962.2 388.1L962.7 391.8L963.2 389.4L963.7 392.4L964.2 392.2L964.7 395.9L965.2 393.8L965.7 392.7L966.2 393.6L966.7 393.5L967.2 397.9L967.7 391L968.2 397.2L968.7 394.2L969.2 400L969.7 397.8L970.2 397.9L970.7 397.4L971.2 399.9L971.7 397.1L972.2 397.9L972.7 390.9L973.2 399.9L973.7 395.3L974.2 395.5L974.7 394L975.2 395.8L975.7 387.1L976.2 393L976.7 391.4L977.2 387.9L977.7 387.4L978.2 383.6L978.7 386.1L979.2 386.1L979.7 382.5L980.2 382.8L980.7 379.6L981.2 379L981.7 374L982.2 378.9L982.7 371.1L983.2 375.7L983.7 370.6L984.2 371.4L984.7 369.7L985.2 367.3L985.7 367.7L986.2 363.2L986.7 365L987.2 360.2L987.7 361.6L988.2 359.4L988.7 358.5L989.2 356.8L989.7 360.4L990.2 356.1L990.7 358.9L991.2 357.8L991.7 356.2L992.2 356.6L992.7 357.9L993.2 354.6L993.7 356.9L994.2 359.8L994.7 362L995.2 361.7L995.7 363.2L996.2 363.9L996.7 364.8L997.2 365.8L997.7 368.3L998.2 363L998.7 365.5L999.2 369.1L999.7 368.7L1000.2 371.6L1000.7 374.7L1001.2 372.1L1001.7 372.4L1002.2 375L1002.7 374.3L1003.2 377.6L1003.7 376.7L1004.2 378.7L1004.7 373.2L1005.2 373.7L1005.7 377.5L1006.2 375.4L1006.7 379.4L1007.2 375.8L1007.7 377.8L1008.2 376.3L1008.7 375.3L1009.2 377.9L1009.7 372.6L1010.2 378.7L1010.7 377.7L1011.2 377L1011.7 379.8L1012.2 379.4L1012.7 375.3L1013.2 382.1L1013.7 378.2L1014.2 379.9L1014.7 380L1015.2 381.8L1015.7 380.8L1016.2 381.5L1016.7 382.2L1017.2 379.2L1017.7 386.8L1018.2 382.5L1018.7 384.9L1019.2 385.6L1019.7 388.7L1020.2 386.8L1020.7 389.4L1021.2 391.5L1021.7 385.8L1022.2 373.9L1022.7 361.4L1023.2 366.7L1023.7 364.8L1024.2 363L1024.7 364.7L1025.2 362.5L1025.7 358.8L1026.2 359.3L1026.7 359.3L1027.2 355.9L1027.7 353.6L1028.2 353.5L1028.7 351.9L1029.2 356L1029.7 351.9L1030.2 350.4L1030.7 350.6L1031.2 345.5L1031.7 345.2L1032.2 349.4L1032.7 350.1L1033.2 350.2L1033.7 359.3L1034.2 354.5L1034.7 355.2L1035.2 357.2L1035.7 358.5L1036.2 352.7L1036.7 356L1037.2 355.3L1037.7 355.7L1038.2 353L1038.7 348.7L1039.2 354.1L1039.7 352.7L1040.2 350.8L1040.7 350.9L1041.2 351.8L1041.7 350.2L1042.2 348.5L1042.7 353.9L1043.2 352.6L1043.7 348L1044.2 347.5L1044.7 348L1045.2 347.7L1045.7 343.8L1046.2 344.3L1046.7 344.2L1047.2 345.6L1047.7 349.8L1048.2 349.2L1048.7 350.8L1049.2 357.2L1049.7 357.9L1050.2 361.7L1050.7 364.9L1051.2 365.4L1051.7 363.9L1052.2 368.4L1052.7 373.9L1053.2 373.9L1053.7 372.7L1054.2 374.3L1054.7 378.5L1055.2 381.6L1055.7 378.1L1056.2 376.1L1056.7 378.3L1057.2 381.6L1057.7 381L1058.2 376.1L1058.7 378.1L1059.2 377L1059.7 377.3L1060.2 373.6L1060.7 377.5L1061.2 378.8L1061.7 376.2L1062.2 372.6L1062.7 373.7L1063.2 371.4L1063.7 374.4L1064.2 371.8L1064.7 370L1065.2 369.8L1065.7 370L1066.2 366.2L1066.7 364.7L1067.2 380.2L1067.7 380.6L1068.2 384.6L1068.7 381.4L1069.2 383.7L1069.7 386.6L1070.2 380.2L1070.7 374.3L1071.2 367.9L1071.7 366.3L1072.2 364.6L1072.7 366.4L1073.2 367.5L1073.7 362.4L1074.2 364.3L1074.7 364.9L1075.2 366.4L1075.7 365.9L1076.2 365.6L1076.7 357.6L1077.2 360.7L1077.7 359.5L1078.2 357.3L1078.7 358.8L1079.2 357L1079.7 359.9L1080.2 355.5L1080.7 357.4L1081.2 355.4L1081.7 356.5L1082.2 355.1L1082.7 357.8L1083.2 358.6L1083.7 358.3L1084.2 357.4L1084.7 358.5L1085.2 356.7L1085.7 358.2L1086.2 358.1L1086.7 358.5L1087.2 356.2L1087.7 358L1088.2 361.3L1088.7 362.5L1089.2 361.3L1089.7 360L1090.2 359.2L1090.7 358.3L1091.2 361.9L1091.7 367.4L1092.2 365.6L1092.7 370.2L1093.2 367.2L1093.7 371.9L1094.2 369.8L1094.7 366.1L1095.2 371.5L1095.7 370.8L1096.2 368.8L1096.7 373.9L1097.2 368.8L1097.7 372.4L1098.2 373.2L1098.7 371L1099.2 373.4L1099.7 375.1L1100.2 374.1L1100.7 380.6L1101.2 378L1101.7 381.5L1102.2 379.3L1102.7 380.5L1103.2 383L1103.7 383.8L1104.2 383.6L1104.7 381.6L1105.2 386L1105.7 386.8L1106.2 387L1106.7 387.6L1107.2 383.5L1107.7 382.7L1108.2 387.2L1108.7 387.4L1109.2 384.4L1109.7 387.3L1110.2 383.2L1110.7 388.7L1111.2 385.7L1111.7 387.1L1112.2 391.1L1112.7 390.9L1113.2 393.9L1113.7 389.9L1114.2 388.1L1114.7 392.2L1115.2 390.3L1115.7 391.6L1116.2 389.4L1116.7 392.1L1117.2 395.7L1117.7 394.4L1118.2 392.6L1118.7 391.9L1119.2 389.7L1119.7 391.6L1120.2 392L1120.7 391.4L1121.2 389.7L1121.7 391.4" stroke="#ff1e28" stroke-width="1.0" stroke-linejoin="round"/>
<path d="M669.2 447.3L669.7 447L670.2 449.4L670.7 446.9L671.2 448.7L671.7 446.4L672.2 450.6L672.7 450.2L673.2 450.6L673.7 445L674.2 449.8L674.7 448.3L675.2 448.1L675.7 448.3L676.2 449L676.7 449.1L677.2 447L677.7 449.1L678.2 452.3L678.7 448.7L679.2 449.2L679.7 446.5L680.2 445.9L680.7 448.1L681.2 446.2L681.7 450.4L682.2 448.2L682.7 450.1L683.2 449.6L683.7 448.2L684.2 450L684.7 448.2L685.2 450.1L685.7 448.7L686.2 448.9L686.7 449.7L687.2 447.4L687.7 447.4L688.2 446.7L688.7 448.4L689.2 448.8L689.7 448.4L690.2 445.8L690.7 447L691.2 449.6L691.7 449L692.2 447.4L692.7 446.7L693.2 445.5L693.7 445.6L694.2 446.1L694.7 447.4L695.2 445.6L695.7 445.6L696.2 448.5L696.7 445.4L697.2 444.8L697.7 446.4L698.2 448.7L698.7 446.6L699.2 443L699.7 444.1L700.2 447.1L700.7 443.9L701.2 442.6L701.7 443.1L702.2 444.9L702.7 445.7L703.2 445.3L703.7 446.3L704.2 448.1L704.7 447.5L705.2 448L705.7 443.7L706.2 446.6L706.7 451L707.2 448.7L707.7 449.5L708.2 445.4L708.7 447.4L709.2 449.7L709.7 447.8L710.2 447.7L710.7 448.3L711.2 448.7L711.7 450.5L712.2 448.7L712.7 440.7L713.2 449.5L713.7 450.2L714.2 449.6L714.7 451.2L715.2 449.7L715.7 450.1L716.2 448.8L716.7 446.1L717.2 449.2L717.7 450.2L718.2 446L718.7 447.4L719.2 449.6L719.7 450L720.2 448.2L720.7 448.6L721.2 449.4L721.7 447.1L722.2 449.4L722.7 449.6L723.2 448.5L723.7 451.2L724.2 449.6L724.7 449.6L725.2 449.1L725.7 449.4L726.2 452.2L726.7 449.8L727.2 450L727.7 445.8L728.2 451.2L728.7 453.1L729.2 448.9L729.7 451.6L730.2 450.2L730.7 449.6L731.2 451.9L731.7 449.6L732.2 450.8L732.7 452.5L733.2 452.7L733.7 449.7L734.2 452.1L734.7 451.6L735.2 450.1L735.7 450.9L736.2 450.8L736.7 448.3L737.2 449.5L737.7 450.6L738.2 449.2L738.7 451.3L739.2 448.9L739.7 450.2L740.2 450.5L740.7 448.5L741.2 448.8L741.7 449.2L742.2 452.8L742.7 448L743.2 448.5L743.7 448.4L744.2 451.1L744.7 448L745.2 453.7L745.7 446.4L746.2 447.8L746.7 449.7L747.2 452.3L747.7 448.9L748.2 449.3L748.7 448.9L749.2 448.2L749.7 448.5L750.2 448.7L750.7 448.4L751.2 447.7L751.7 448L752.2 448.2L752.7 447.8L753.2 448L753.7 448.1L754.2 448.1L754.7 448.6L755.2 447.9L755.7 448.3L756.2 448.3L756.7 447.7L757.2 447.7L757.7 448L758.2 447.7L758.7 447.9L759.2 448.2L759.7 447.8L760.2 448.7L760.7 448L761.2 448.4L761.7 447.6L762.2 447.8L762.7 447.9L763.2 447.6L763.7 446.9L764.2 448L764.7 447.4L765.2 447.6L765.7 447.6L766.2 447.6L766.7 448.2L767.2 447.8L767.7 447.8L768.2 447.8L768.7 447.9L769.2 447.5L769.7 447.4L770.2 447.5L770.7 447.6L771.2 447.7L771.7 446.9L772.2 447.7L772.7 447.2L773.2 447.5L773.7 447.3L774.2 447.6L774.7 447.3L775.2 448.1L775.7 447.4L776.2 447.3L776.7 446.7L777.2 447.5L777.7 447.2L778.2 447.3L778.7 447.5L779.2 447.3L779.7 447.4L780.2 447L780.7 447.2L781.2 446.5L781.7 447.8L782.2 448.1L782.7 446.2L783.2 446.9L783.7 447.6L784.2 444.4L784.7 445.1L785.2 446.8L785.7 444.4L786.2 446L786.7 446.2L787.2 444.9L787.7 443.1L788.2 444.6L788.7 446.2L789.2 445.1L789.7 446.7L790.2 446.4L790.7 445.4L791.2 445.6L791.7 444.3L792.2 446.4L792.7 446.3L793.2 446.4L793.7 443.5L794.2 444.9L794.7 446.5L795.2 445.1L795.7 446.6L796.2 444.2L796.7 447.5L797.2 447.9L797.7 447.4L798.2 446.1L798.7 448.2L799.2 447.4L799.7 450.2L800.2 446.1L800.7 449.1L801.2 449.9L801.7 447.7L802.2 456.2L802.7 446.3L803.2 449.1L803.7 448.4L804.2 447.4L804.7 446.5L805.2 449.9L805.7 449.3L806.2 446.9L806.7 448.3L807.2 447.9L807.7 448.7L808.2 449.2L808.7 448.9L809.2 446.5L809.7 447.3L810.2 447.5L810.7 450.6L811.2 446.5L811.7 447.2L812.2 446.9L812.7 449.5L813.2 446.8L813.7 447.8L814.2 449.6L814.7 449.6L815.2 447.5L815.7 447.4L816.2 448.3L816.7 447.5L817.2 450.1L817.7 446.7L818.2 444.3L818.7 451.9L819.2 448.3L819.7 449.6L820.2 450.5L820.7 450.2L821.2 451.2L821.7 452.4L822.2 451.1L822.7 448.7L823.2 451.6L823.7 451.3L824.2 452.9L824.7 449.5L825.2 452.3L825.7 449.9L826.2 448.1L826.7 449L827.2 448.2L827.7 449.6L828.2 450.5L828.7 448.8L829.2 448.6L829.7 448.9L830.2 451.3L830.7 448.1L831.2 449L831.7 445.9L832.2 451.1L832.7 446.8L833.2 444.8L833.7 447.7L834.2 446L834.7 447.3L835.2 445.3L835.7 446.5L836.2 446.6L836.7 446.6L837.2 447.4L837.7 444.3L838.2 445.7L838.7 448.7L839.2 443.8L839.7 445L840.2 446.3L840.7 445.2L841.2 448.4L841.7 446.3L842.2 443.7L842.7 443.2L843.2 447L843.7 447.2L844.2 443.5L844.7 446.7L845.2 445L845.7 446L846.2 445.1L846.7 447.1L847.2 445L847.7 445.8L848.2 446.1L848.7 446.9L849.2 447.9L849.7 445.8L850.2 448.3L850.7 446.4L851.2 445.6L851.7 438.2L852.2 446.6L852.7 443.5L853.2 449.2L853.7 447L854.2 445.3L854.7 447.9L855.2 448.8L855.7 448.7L856.2 445.4L856.7 446.1L857.2 446.6L857.7 449.9L858.2 447.4L858.7 448L859.2 448.5L859.7 447.7L860.2 448.5L860.7 448L861.2 443.2L861.7 448.3L862.2 448.6L862.7 446.9L863.2 443.6L863.7 448.3L864.2 448.2L864.7 443.6L865.2 450.1L865.7 449.1L866.2 446.7L866.7 448.4L867.2 454.8L867.7 448.2L868.2 448.2L868.7 448L869.2 447.5L869.7 447.3L870.2 447.7L870.7 448.7L871.2 447.1L871.7 450.8L872.2 448.1L872.7 446.2L873.2 446.7L873.7 447.9L874.2 448.4L874.7 448.1L875.2 449.9L875.7 450.9L876.2 446.6L876.7 449.6L877.2 445.6L877.7 445.2L878.2 448.1L878.7 443.3L879.2 448.4L879.7 449.5L880.2 449.4L880.7 448.3L881.2 447.4L881.7 447.5L882.2 446.7L882.7 447.8L883.2 448.3L883.7 446.4L884.2 445.9L884.7 447.4L885.2 450.1L885.7 447.6L886.2 445.6L886.7 446.5L887.2 448.8L887.7 445.1L888.2 448.8L888.7 447.4L889.2 448.3L889.7 448.2L890.2 447.9L890.7 447L891.2 445L891.7 445L892.2 448L892.7 446.7L893.2 445.3L893.7 445.7L894.2 447.5L894.7 447L895.2 446.6L895.7 448.5L896.2 449.2L896.7 447.3L897.2 447.5L897.7 447.3L898.2 446.8L898.7 446.4L899.2 446.7L899.7 448.8L900.2 445.8L900.7 445L901.2 445.3L901.7 448.3L902.2 444.8L902.7 447L903.2 445.3L903.7 446.3L904.2 448.4L904.7 446.1L905.2 448.6L905.7 448.5L906.2 448L906.7 445.5L907.2 449.4L907.7 446.1L908.2 447.8L908.7 447.7L909.2 445.9L909.7 449.5L910.2 446.2L910.7 444.7L911.2 447.3L911.7 446.8L912.2 445.2L912.7 447.6L913.2 447.3L913.7 448.7L914.2 449.6L914.7 449.3L915.2 449.4L915.7 446.4L916.2 446.5L916.7 447.4L917.2 444.9L917.7 446.7L918.2 448.4L918.7 448.6L919.2 447L919.7 447.5L920.2 448.2L920.7 445.9L921.2 447.1L921.7 449.7L922.2 450.1L922.7 447.1L923.2 446.5L923.7 450.7L924.2 444.2L924.7 447L925.2 446.6L925.7 450.4L926.2 447.3L926.7 447.3L927.2 446.4L927.7 448L928.2 443.9L928.7 447.9L929.2 449L929.7 447.2L930.2 448.7L930.7 448.9L931.2 449.4L931.7 449.9L932.2 446.3L932.7 448.8L933.2 451.3L933.7 447.6L934.2 450.9L934.7 450.4L935.2 449.3L935.7 447.9L936.2 451L936.7 450.3L937.2 451.8L937.7 451.5L938.2 449.4L938.7 449L939.2 449.9L939.7 447.9L940.2 449.9L940.7 451L941.2 436L941.7 449.4L942.2 449.6L942.7 450.1L943.2 450L943.7 448.5L944.2 449.8L944.7 448.1L945.2 449.7L945.7 448.1L946.2 451.8L946.7 447.9L947.2 450.1L947.7 448.8L948.2 451.9L948.7 450.6L949.2 450.8L949.7 446.3L950.2 448.2L950.7 449.1L951.2 450.3L951.7 446.4L952.2 449.6L952.7 448.5L953.2 449.8L953.7 447.4L954.2 448L954.7 446.9L955.2 448.4L955.7 446.9L956.2 448.6L956.7 445.7L957.2 446.5L957.7 449L958.2 446.8L958.7 446.5L959.2 446.3L959.7 447.4L960.2 446.7L960.7 447.5L961.2 446.9L961.7 447.5L962.2 450.1L962.7 447.2L963.2 448.9L963.7 447.3L964.2 449.8L964.7 447.1L965.2 448.6L965.7 449.5L966.2 446.9L966.7 451.4L967.2 447.3L967.7 447.7L968.2 449.4L968.7 448.9L969.2 448.8L969.7 449.8L970.2 447.5L970.7 449.4L971.2 450.3L971.7 450L972.2 451L972.7 447.9L973.2 450.3L973.7 447.5L974.2 451.1L974.7 448.2L975.2 449.1L975.7 448.6L976.2 445.5L976.7 453.2L977.2 447.2L977.7 447.5L978.2 448.1L978.7 449.1L979.2 447.4L979.7 449.5L980.2 447.7L980.7 448.6L981.2 448.1L981.7 450.1L982.2 447.5L982.7 446.7L983.2 446.9L983.7 447.4L984.2 448.1L984.7 446.1L985.2 447L985.7 448.3L986.2 443.8L986.7 447L987.2 447.9L987.7 447.1L988.2 446.3L988.7 445.2L989.2 445.6L989.7 446.3L990.2 445.2L990.7 447.6L991.2 447.1L991.7 447L992.2 446.9L992.7 444L993.2 447.7L993.7 445.9L994.2 447.5L994.7 445.5L995.2 447.7L995.7 448.2L996.2 448.9L996.7 446.9L997.2 445.6L997.7 448.6L998.2 448.3L998.7 446.3L999.2 446.4L999.7 445.9L1000.2 447.8L1000.7 448L1001.2 447L1001.7 445L1002.2 447.6L1002.7 448.5L1003.2 447.2L1003.7 447.3L1004.2 443.6L1004.7 447.2L1005.2 448.1L1005.7 447.5L1006.2 448.6L1006.7 447L1007.2 446.2L1007.7 446.7L1008.2 456L1008.7 446.6L1009.2 445L1009.7 446.9L1010.2 448.2L1010.7 450.4L1011.2 446.6L1011.7 443.4L1012.2 448.6L1012.7 444.6L1013.2 447.3L1013.7 450.3L1014.2 445.3L1014.7 450.2L1015.2 446.8L1015.7 446.3L1016.2 446.6L1016.7 448.3L1017.2 445.2L1017.7 449L1018.2 449.4L1018.7 451.2L1019.2 444.9L1019.7 448.8L1020.2 449.1L1020.7 444.4L1021.2 448.3L1021.7 444.8L1022.2 456.1L1022.7 445.2L1023.2 446.7L1023.7 446.2L1024.2 442.6L1024.7 448L1025.2 446L1025.7 450.5L1026.2 449.5L1026.7 444.2L1027.2 445.6L1027.7 446.1L1028.2 440.8L1028.7 447.7L1029.2 446.6L1029.7 446.2L1030.2 444.9L1030.7 442.8L1031.2 444.4L1031.7 447L1032.2 448L1032.7 442.5L1033.2 446.3L1033.7 444.4L1034.2 443.7L1034.7 448.9L1035.2 446.6L1035.7 442.4L1036.2 448.8L1036.7 445.7L1037.2 445.9L1037.7 442L1038.2 444.6L1038.7 443.6L1039.2 444.7L1039.7 445.2L1040.2 443.7L1040.7 446.4L1041.2 441.7L1041.7 441.6L1042.2 446.1L1042.7 445.8L1043.2 445.2L1043.7 441.7L1044.2 443.6L1044.7 440.7L1045.2 444.7L1045.7 447.7L1046.2 444L1046.7 446.5L1047.2 443.6L1047.7 447.2L1048.2 442.5L1048.7 444.3L1049.2 441.6L1049.7 446.6L1050.2 447.4L1050.7 440.9L1051.2 448.8L1051.7 445.3L1052.2 444.8L1052.7 444L1053.2 447.3L1053.7 444.6L1054.2 447.5L1054.7 444.9L1055.2 448.5L1055.7 448.1L1056.2 446.1L1056.7 442.8L1057.2 448.6L1057.7 446.4L1058.2 447.5L1058.7 445.8L1059.2 446.8L1059.7 452.8L1060.2 447.2L1060.7 447.9L1061.2 454.2L1061.7 451.8L1062.2 447.2L1062.7 446.3L1063.2 449.2L1063.7 442.4L1064.2 443.5L1064.7 445.5L1065.2 440.2L1065.7 444.8L1066.2 441.2L1066.7 446.4L1067.2 442.5L1067.7 443L1068.2 439.1L1068.7 439.8L1069.2 440.7L1069.7 438.6L1070.2 444L1070.7 443.9L1071.2 443.4L1071.7 442.6L1072.2 443.1L1072.7 446.5L1073.2 445.5L1073.7 444.9L1074.2 443.4L1074.7 441.7L1075.2 443.1L1075.7 445.9L1076.2 445.2L1076.7 449.6L1077.2 443.8L1077.7 443.8L1078.2 444.5L1078.7 443.7L1079.2 447.5L1079.7 445.1L1080.2 442.7L1080.7 449.4L1081.2 446.2L1081.7 444.2L1082.2 444.9L1082.7 446.3L1083.2 445.9L1083.7 444.3L1084.2 444.4L1084.7 447.9L1085.2 447.4L1085.7 443.1L1086.2 443.3L1086.7 446.8L1087.2 446.1L1087.7 442.2L1088.2 448L1088.7 449.6L1089.2 441L1089.7 441L1090.2 447.9L1090.7 445.6L1091.2 446.6L1091.7 441.3L1092.2 444.4L1092.7 445L1093.2 443.5L1093.7 444.5L1094.2 446.6L1094.7 450L1095.2 447.6L1095.7 442.5L1096.2 445.5L1096.7 446.9L1097.2 444.3L1097.7 446.7L1098.2 446.8L1098.7 445.5L1099.2 447.3L1099.7 447.5L1100.2 448.9L1100.7 448.1L1101.2 449L1101.7 448.8L1102.2 448.3L1102.7 448.6L1103.2 449.6L1103.7 449.9L1104.2 448.9L1104.7 448.3L1105.2 448.2L1105.7 448.4L1106.2 448.1L1106.7 448L1107.2 448.6L1107.7 448.6L1108.2 448.2L1108.7 449L1109.2 449.2L1109.7 448.6L1110.2 448.3L1110.7 448.4L1111.2 447.1L1111.7 448.8L1112.2 447.9L1112.7 449L1113.2 448.3L1113.7 447.7L1114.2 448.5L1114.7 448.3L1115.2 448.1L1115.7 448.7L1116.2 448.9L1116.7 447.5L1117.2 447.4L1117.7 448.3L1118.2 447.7L1118.7 447.1L1119.2 447.9L1119.7 448.1L1120.2 447.4L1120.7 448L1121.2 448.3L1121.7 447.9" stroke="#111" stroke-width="1.0" stroke-linejoin="round"/>
<path d="M669.2 451.3L669.7 448.1L670.2 448.7L670.7 449.4L671.2 448.3L671.7 450.4L672.2 448.1L672.7 449.7L673.2 451.1L673.7 448.8L674.2 451.3L674.7 448.2L675.2 449.1L675.7 448.6L676.2 449L676.7 447.9L677.2 450L677.7 447.6L678.2 450.8L678.7 448.5L679.2 449.1L679.7 448.2L680.2 450.4L680.7 449.9L681.2 448.9L681.7 448.5L682.2 450.4L682.7 449.8L683.2 449.6L683.7 450.9L684.2 449.8L684.7 448.1L685.2 446.6L685.7 447.3L686.2 449.1L686.7 450.2L687.2 455.3L687.7 449.7L688.2 449.2L688.7 448.8L689.2 447.6L689.7 446.3L690.2 447.8L690.7 449.3L691.2 446.5L691.7 446.1L692.2 447L692.7 447.4L693.2 447.7L693.7 447.4L694.2 449.1L694.7 448.4L695.2 445.5L695.7 450.2L696.2 446.8L696.7 444.9L697.2 444.8L697.7 446.2L698.2 446.1L698.7 447.3L699.2 447.2L699.7 448.2L700.2 445.6L700.7 449.8L701.2 448.7L701.7 446.4L702.2 446.3L702.7 448.8L703.2 446.5L703.7 448.1L704.2 444.7L704.7 448L705.2 448.6L705.7 446.9L706.2 448.4L706.7 447.8L707.2 440.1L707.7 449.4L708.2 450.2L708.7 450L709.2 448.5L709.7 449.6L710.2 449.8L710.7 450.3L711.2 449.6L711.7 448.3L712.2 451.8L712.7 448.4L713.2 452L713.7 449.6L714.2 450.3L714.7 450.1L715.2 452.4L715.7 449L716.2 449.2L716.7 451.9L717.2 451.2L717.7 450.9L718.2 449L718.7 451.8L719.2 450.7L719.7 450.2L720.2 448.5L720.7 449.1L721.2 448.1L721.7 446.2L722.2 451.1L722.7 448.7L723.2 450.3L723.7 447.7L724.2 447.6L724.7 447.9L725.2 448.1L725.7 447.1L726.2 447.1L726.7 447.4L727.2 449.3L727.7 447.7L728.2 449.2L728.7 446.9L729.2 449.5L729.7 449.1L730.2 448.8L730.7 445.9L731.2 446.2L731.7 447.4L732.2 448.7L732.7 449L733.2 446.2L733.7 445.7L734.2 448L734.7 447.3L735.2 449.1L735.7 447.7L736.2 448.9L736.7 449.4L737.2 448.3L737.7 449.5L738.2 448.2L738.7 446.5L739.2 447.7L739.7 448.1L740.2 449.3L740.7 451.8L741.2 449.7L741.7 448.8L742.2 447.7L742.7 447.6L743.2 450.2L743.7 448.4L744.2 448.8L744.7 449.7L745.2 449L745.7 449.1L746.2 450L746.7 448.5L747.2 447.8L747.7 448.9L748.2 449.7L748.7 450.2L749.2 449.6L749.7 449.2L750.2 449.4L750.7 449L751.2 449.8L751.7 449.9L752.2 449.6L752.7 449L753.2 449.5L753.7 449.5L754.2 448.8L754.7 449.4L755.2 449.2L755.7 448.9L756.2 449.1L756.7 449.1L757.2 449.5L757.7 449L758.2 448.9L758.7 449L759.2 448.7L759.7 448.3L760.2 448.7L760.7 448.4L761.2 448.7L761.7 448.5L762.2 448.2L762.7 448.7L763.2 448.1L763.7 447.9L764.2 448L764.7 448.2L765.2 448.6L765.7 448.1L766.2 448L766.7 448.2L767.2 448.1L767.7 448.1L768.2 448.2L768.7 448.2L769.2 448.7L769.7 448L770.2 448.1L770.7 448.6L771.2 448.2L771.7 447.8L772.2 448L772.7 448L773.2 448.1L773.7 448L774.2 447.8L774.7 447.9L775.2 447.6L775.7 447.4L776.2 448.1L776.7 447.5L777.2 447.5L777.7 447.9L778.2 447.5L778.7 448.1L779.2 447.6L779.7 448.3L780.2 447.7L780.7 447.8L781.2 447.6L781.7 448.3L782.2 447.7L782.7 447.6L783.2 448L783.7 447.2L784.2 447.3L784.7 446.6L785.2 447.2L785.7 447.7L786.2 446.3L786.7 448.3L787.2 448L787.7 447.7L788.2 448.3L788.7 448.5L789.2 447.8L789.7 447.9L790.2 446.4L790.7 448.9L791.2 449.1L791.7 447.6L792.2 449.5L792.7 446.7L793.2 448.4L793.7 447.7L794.2 449.3L794.7 449.2L795.2 448L795.7 448.8L796.2 448.2L796.7 449L797.2 448.9L797.7 446.7L798.2 445.3L798.7 447.8L799.2 448.1L799.7 447L800.2 448.2L800.7 445.7L801.2 448.2L801.7 447.3L802.2 446.8L802.7 445.9L803.2 446.9L803.7 445.4L804.2 447L804.7 446.4L805.2 445.7L805.7 448.5L806.2 448.5L806.7 446.4L807.2 446.2L807.7 448.3L808.2 446.9L808.7 446.7L809.2 447.3L809.7 447.9L810.2 446.5L810.7 447.4L811.2 447.1L811.7 446L812.2 447.6L812.7 446.9L813.2 444.9L813.7 448.2L814.2 447L814.7 448.2L815.2 448.3L815.7 446.3L816.2 446L816.7 447.3L817.2 447L817.7 448.4L818.2 447.9L818.7 445.8L819.2 448.2L819.7 447.2L820.2 448.8L820.7 447.2L821.2 446.1L821.7 446.8L822.2 448L822.7 446.6L823.2 448.3L823.7 446.5L824.2 447.1L824.7 446.2L825.2 448.5L825.7 447.6L826.2 448L826.7 447.7L827.2 448.2L827.7 446.3L828.2 446.8L828.7 448L829.2 447.3L829.7 449.1L830.2 447.8L830.7 448.9L831.2 449.1L831.7 446.1L832.2 447.7L832.7 446.2L833.2 448.5L833.7 449.1L834.2 447.2L834.7 446.5L835.2 447L835.7 448.3L836.2 448L836.7 447.8L837.2 447.9L837.7 448.5L838.2 446.8L838.7 445.4L839.2 445.3L839.7 446.3L840.2 445.2L840.7 446.3L841.2 445.6L841.7 445.3L842.2 445.5L842.7 444.8L843.2 447.2L843.7 445.9L844.2 447.2L844.7 443.7L845.2 444.4L845.7 444.5L846.2 444.9L846.7 446.2L847.2 444.9L847.7 444.7L848.2 446L848.7 446L849.2 446.2L849.7 446.3L850.2 447.7L850.7 446.5L851.2 446.1L851.7 447.9L852.2 446.6L852.7 446.8L853.2 446.7L853.7 448.9L854.2 447L854.7 447.1L855.2 445.9L855.7 445.7L856.2 447.1L856.7 445.2L857.2 447.7L857.7 448.5L858.2 448.7L858.7 449.3L859.2 449.7L859.7 446.9L860.2 449L860.7 445.8L861.2 447.8L861.7 448.5L862.2 449.4L862.7 448.2L863.2 449.4L863.7 448L864.2 447.2L864.7 447.9L865.2 447.8L865.7 449.3L866.2 449.6L866.7 447.7L867.2 448.6L867.7 449.5L868.2 450.6L868.7 449.1L869.2 446.5L869.7 450.7L870.2 449.9L870.7 449.7L871.2 449.1L871.7 449L872.2 450.1L872.7 447.9L873.2 447.9L873.7 450.7L874.2 448.9L874.7 449.2L875.2 448.2L875.7 449L876.2 447.9L876.7 448.5L877.2 449L877.7 449.1L878.2 449.8L878.7 449.7L879.2 449.1L879.7 447.2L880.2 448.2L880.7 448.4L881.2 447.8L881.7 451.2L882.2 449.5L882.7 448.9L883.2 449.1L883.7 448.3L884.2 448.5L884.7 446.4L885.2 449L885.7 448.6L886.2 446.5L886.7 448.4L887.2 447L887.7 448.5L888.2 447.5L888.7 446.1L889.2 446.8L889.7 446.4L890.2 448L890.7 448L891.2 446.3L891.7 446.3L892.2 447.1L892.7 446.9L893.2 445.7L893.7 444.4L894.2 447L894.7 447.3L895.2 445L895.7 448.1L896.2 447.7L896.7 447.4L897.2 446.8L897.7 447.1L898.2 447.1L898.7 447.1L899.2 448.7L899.7 446.9L900.2 447L900.7 448.2L901.2 446.1L901.7 446.1L902.2 448L902.7 447.4L903.2 446.6L903.7 446.2L904.2 448.3L904.7 448.8L905.2 446.1L905.7 445.8L906.2 447.1L906.7 447.3L907.2 448.8L907.7 445.4L908.2 448.5L908.7 447L909.2 446.6L909.7 445.6L910.2 445.7L910.7 448.8L911.2 447L911.7 447.8L912.2 446L912.7 447.3L913.2 448.5L913.7 446.5L914.2 446.5L914.7 448.6L915.2 448L915.7 447L916.2 447.4L916.7 449L917.2 448L917.7 448.1L918.2 448.4L918.7 446.8L919.2 445.7L919.7 447.8L920.2 446.7L920.7 446.7L921.2 447.1L921.7 447.9L922.2 448.5L922.7 446.4L923.2 447.8L923.7 446L924.2 448.9L924.7 448.5L925.2 448.7L925.7 447.2L926.2 447.8L926.7 448.6L927.2 448.9L927.7 447.8L928.2 447.7L928.7 446.3L929.2 449L929.7 448L930.2 437.4L930.7 449.1L931.2 446.7L931.7 449.5L932.2 448L932.7 447.8L933.2 448.9L933.7 447.2L934.2 447.4L934.7 448.6L935.2 449.8L935.7 448.7L936.2 448.2L936.7 446.8L937.2 448.8L937.7 448.6L938.2 447.6L938.7 450.3L939.2 449.1L939.7 448.3L940.2 447.7L940.7 449.4L941.2 447.9L941.7 448.5L942.2 448.5L942.7 449.1L943.2 447.3L943.7 449.1L944.2 448.7L944.7 449.9L945.2 450.9L945.7 448.7L946.2 449.5L946.7 450.6L947.2 449.6L947.7 450L948.2 450.4L948.7 449L949.2 451.8L949.7 450.6L950.2 449.4L950.7 450.5L951.2 449.8L951.7 447.9L952.2 451.1L952.7 451.5L953.2 451.4L953.7 449.6L954.2 449.8L954.7 449.3L955.2 450.5L955.7 448.5L956.2 450.7L956.7 452.1L957.2 451L957.7 451.4L958.2 450.1L958.7 448.7L959.2 448.2L959.7 449.4L960.2 449.7L960.7 448.8L961.2 450.6L961.7 449.3L962.2 450.3L962.7 449.6L963.2 449.2L963.7 450L964.2 447.4L964.7 447.8L965.2 447.6L965.7 449L966.2 447.5L966.7 448.6L967.2 449.4L967.7 447.5L968.2 447.6L968.7 449.5L969.2 449.8L969.7 447.5L970.2 448.1L970.7 449.9L971.2 447.1L971.7 447.9L972.2 447.8L972.7 446.6L973.2 447.6L973.7 448.7L974.2 448L974.7 446.5L975.2 447.5L975.7 447.2L976.2 447.4L976.7 447.1L977.2 449.2L977.7 447.4L978.2 447L978.7 447.5L979.2 446.5L979.7 448.1L980.2 445.9L980.7 447.5L981.2 447.1L981.7 447.4L982.2 451.2L982.7 448.5L983.2 448.4L983.7 448.7L984.2 449.8L984.7 448.2L985.2 447L985.7 448L986.2 450.2L986.7 447.4L987.2 449.1L987.7 447.7L988.2 448.2L988.7 446L989.2 445.9L989.7 448.6L990.2 446.5L990.7 445.9L991.2 446.4L991.7 446L992.2 445.6L992.7 447L993.2 446L993.7 444.2L994.2 446.2L994.7 445.6L995.2 445.4L995.7 444.6L996.2 445L996.7 444.7L997.2 444.3L997.7 446.2L998.2 445.3L998.7 446.4L999.2 447.2L999.7 445.4L1000.2 450.4L1000.7 449L1001.2 448.3L1001.7 448.2L1002.2 448.3L1002.7 449.1L1003.2 450.2L1003.7 449.7L1004.2 448.7L1004.7 449.7L1005.2 454.3L1005.7 448.8L1006.2 448.4L1006.7 448.5L1007.2 448.2L1007.7 449.3L1008.2 449.8L1008.7 446L1009.2 449.4L1009.7 448.8L1010.2 447.6L1010.7 446.7L1011.2 447.4L1011.7 448.1L1012.2 447.9L1012.7 448.7L1013.2 448.2L1013.7 450.1L1014.2 449.4L1014.7 446.9L1015.2 445.4L1015.7 449.3L1016.2 446.1L1016.7 448.7L1017.2 446.2L1017.7 449.3L1018.2 446.9L1018.7 445.4L1019.2 448.4L1019.7 445.4L1020.2 447.7L1020.7 449.9L1021.2 449.7L1021.7 449.5L1022.2 450.1L1022.7 449.9L1023.2 450.9L1023.7 449.9L1024.2 451.2L1024.7 451L1025.2 450.1L1025.7 449.3L1026.2 450.3L1026.7 446.9L1027.2 445.1L1027.7 443.1L1028.2 445.5L1028.7 445.5L1029.2 443.9L1029.7 444L1030.2 439.4L1030.7 441.1L1031.2 440.9L1031.7 443.1L1032.2 443.5L1032.7 441.7L1033.2 441L1033.7 442.8L1034.2 442.5L1034.7 440.7L1035.2 440.9L1035.7 443.7L1036.2 439.1L1036.7 437.7L1037.2 442.1L1037.7 438.1L1038.2 438.1L1038.7 436.5L1039.2 437.8L1039.7 439.3L1040.2 433.6L1040.7 435.9L1041.2 437.6L1041.7 436.6L1042.2 437.7L1042.7 436.7L1043.2 439.4L1043.7 445.6L1044.2 445.1L1044.7 447.5L1045.2 447.5L1045.7 447.6L1046.2 447.8L1046.7 450L1047.2 447.1L1047.7 450.1L1048.2 447.7L1048.7 451.3L1049.2 448.3L1049.7 451.8L1050.2 453.9L1050.7 449.3L1051.2 449L1051.7 452.4L1052.2 452L1052.7 450.3L1053.2 452.9L1053.7 451.9L1054.2 450.7L1054.7 448.7L1055.2 451.1L1055.7 451.2L1056.2 449.6L1056.7 449.8L1057.2 446.7L1057.7 448.5L1058.2 450L1058.7 450.5L1059.2 452L1059.7 451.5L1060.2 453.2L1060.7 449.1L1061.2 454.7L1061.7 452.3L1062.2 452.5L1062.7 449.6L1063.2 449.7L1063.7 450.4L1064.2 449.9L1064.7 448L1065.2 449.5L1065.7 447.1L1066.2 443.9L1066.7 440.5L1067.2 445L1067.7 446.7L1068.2 444.1L1068.7 446.4L1069.2 440.3L1069.7 442.9L1070.2 443.3L1070.7 442.4L1071.2 442.3L1071.7 440L1072.2 442.5L1072.7 441.7L1073.2 443.3L1073.7 442.3L1074.2 440.6L1074.7 439.7L1075.2 440.4L1075.7 443.8L1076.2 440.7L1076.7 441.6L1077.2 441.3L1077.7 441L1078.2 441L1078.7 442.5L1079.2 445.7L1079.7 442.7L1080.2 443.4L1080.7 441.8L1081.2 442.6L1081.7 441.3L1082.2 441L1082.7 445.8L1083.2 444L1083.7 442L1084.2 443L1084.7 443.1L1085.2 445.5L1085.7 444.8L1086.2 446L1086.7 445.1L1087.2 441.6L1087.7 444.6L1088.2 442L1088.7 445L1089.2 443L1089.7 444L1090.2 444.9L1090.7 444.6L1091.2 443.1L1091.7 444.4L1092.2 446.9L1092.7 448.8L1093.2 445.9L1093.7 446.8L1094.2 448.8L1094.7 448.7L1095.2 452.3L1095.7 445.8L1096.2 451.4L1096.7 450.2L1097.2 449.9L1097.7 448.5L1098.2 448.3L1098.7 448.5L1099.2 448.8L1099.7 448.3L1100.2 448.9L1100.7 448.1L1101.2 448.9L1101.7 449L1102.2 448.3L1102.7 448.8L1103.2 448.4L1103.7 448.3L1104.2 448L1104.7 448.9L1105.2 448.7L1105.7 448.1L1106.2 448.4L1106.7 448.6L1107.2 448L1107.7 449.2L1108.2 448.3L1108.7 448.6L1109.2 448.1L1109.7 448.3L1110.2 448.5L1110.7 447.8L1111.2 447.9L1111.7 447.8L1112.2 448.8L1112.7 448.7L1113.2 448.9L1113.7 448.9L1114.2 448.2L1114.7 448.2L1115.2 448.7L1115.7 448.4L1116.2 448.3L1116.7 448.7L1117.2 448.3L1117.7 448.5L1118.2 447.9L1118.7 448.4L1119.2 448.3L1119.7 448L1120.2 448.1L1120.7 448L1121.2 448.5L1121.7 448.1" stroke="#14ee14" stroke-width="1.1" stroke-linejoin="round"/>
<path d="M669.2 551.7L669.7 550.8L670.2 545.5L670.7 546.5L671.2 547.5L671.7 552.7L672.2 546.5L672.7 542.2L673.2 550.9L673.7 552.1L674.2 551.7L674.7 550.3L675.2 553.7L675.7 547.2L676.2 547.7L676.7 538L677.2 548.6L677.7 547.4L678.2 551L678.7 554.6L679.2 547.5L679.7 549.6L680.2 554.1L680.7 541.9L681.2 537.9L681.7 548.7L682.2 546.3L682.7 527.8L683.2 547.7L683.7 533.6L684.2 535.8L684.7 538.8L685.2 529.7L685.7 541.5L686.2 544L686.7 537.9L687.2 542.2L687.7 543.3L688.2 547.2L688.7 551.7L689.2 542.7L689.7 551.8L690.2 546.4L690.7 546L691.2 545.4L691.7 533.6L692.2 541.5L692.7 552.2L693.2 546.5L693.7 549.1L694.2 549.5L694.7 546.1L695.2 544.9L695.7 551.5L696.2 548.5L696.7 545.3L697.2 548.4L697.7 555.8L698.2 541.8L698.7 542.4L699.2 548L699.7 547.6L700.2 547.2L700.7 542.1L701.2 549.7L701.7 548.8L702.2 548.4L702.7 544.8L703.2 545.3L703.7 546.8L704.2 551.5L704.7 552.7L705.2 546.2L705.7 544.6L706.2 545.8L706.7 547.1L707.2 549.7L707.7 547.2L708.2 551L708.7 545.8L709.2 556.9L709.7 547.7L710.2 539.8L710.7 540.6L711.2 549.2L711.7 556.6L712.2 551.4L712.7 557.2L713.2 553.2L713.7 555.5L714.2 547.4L714.7 545.3L715.2 538.6L715.7 546.7L716.2 555.9L716.7 545.8L717.2 552.1L717.7 546L718.2 545.8L718.7 552.7L719.2 544.8L719.7 546.3L720.2 543.9L720.7 550.1L721.2 550.2L721.7 548.8L722.2 548.9L722.7 553.3L723.2 548.3L723.7 548.9L724.2 546.6L724.7 545.3L725.2 553.5L725.7 546L726.2 550.8L726.7 552.5L727.2 550.2L727.7 548.6L728.2 552.5L728.7 553.1L729.2 556.9L729.7 552.4L730.2 547.7L730.7 548.6L731.2 557.6L731.7 531L732.2 551.9L732.7 549.8L733.2 553.1L733.7 551.8L734.2 549.8L734.7 553.1L735.2 547.2L735.7 547L736.2 548.9L736.7 553.2L737.2 548.1L737.7 554L738.2 553L738.7 547.9L739.2 552.3L739.7 547.6L740.2 554L740.7 550.1L741.2 547.6L741.7 544.7L742.2 547.2L742.7 550.5L743.2 551.7L743.7 545.7L744.2 546.6L744.7 551.9L745.2 548.9L745.7 551.6L746.2 555.5L746.7 543L747.2 546.4L747.7 544.5L748.2 547.6L748.7 543.3L749.2 552.7L749.7 539.9L750.2 550.3L750.7 542L751.2 551.6L751.7 546.6L752.2 540.2L752.7 548.3L753.2 547.8L753.7 541.6L754.2 541.1L754.7 550.1L755.2 551.6L755.7 544.1L756.2 546.1L756.7 536.9L757.2 544.9L757.7 551.6L758.2 542.9L758.7 550.9L759.2 543.6L759.7 548.6L760.2 528L760.7 546.2L761.2 548L761.7 540.4L762.2 544.6L762.7 542.2L763.2 550.3L763.7 544.4L764.2 549.8L764.7 545.5L765.2 546.2L765.7 549.3L766.2 554L766.7 545.9L767.2 548.8L767.7 548.3L768.2 550.5L768.7 550.5L769.2 532.9L769.7 546.5L770.2 549.1L770.7 544.1L771.2 549.9L771.7 547.1L772.2 550.4L772.7 546.5L773.2 543.9L773.7 547.1L774.2 548.9L774.7 533.6L775.2 540L775.7 551.8L776.2 549.9L776.7 550.1L777.2 543.6L777.7 545.3L778.2 553.4L778.7 545L779.2 543.2L779.7 552L780.2 548.5L780.7 539.9L781.2 554.6L781.7 546.6L782.2 534.2L782.7 544.3L783.2 540.2L783.7 552.4L784.2 544.2L784.7 548L785.2 557.7L785.7 542.2L786.2 550.7L786.7 545.5L787.2 536.2L787.7 551.9L788.2 548.3L788.7 553.3L789.2 543.3L789.7 547.1L790.2 543.4L790.7 547.8L791.2 554.8L791.7 553.9L792.2 548.6L792.7 551.1L793.2 548.7L793.7 548.7L794.2 542.3L794.7 542.2L795.2 549.2L795.7 552.3L796.2 534.9L796.7 545.2L797.2 547.7L797.7 545.3L798.2 546.1L798.7 545.8L799.2 548.3L799.7 545.1L800.2 540.4L800.7 532.3L801.2 543L801.7 550L802.2 544.7L802.7 543.9L803.2 521.9L803.7 551.4L804.2 524.5L804.7 541.6L805.2 540.3L805.7 545.1L806.2 550L806.7 544L807.2 534.9L807.7 552.6L808.2 548L808.7 546L809.2 544.5L809.7 547.9L810.2 546.2L810.7 544L811.2 550.9L811.7 548.5L812.2 545.1L812.7 548.8L813.2 515.4L813.7 544.8L814.2 543.7L814.7 550L815.2 548.1L815.7 548.2L816.2 545.8L816.7 551.1L817.2 551L817.7 542.4L818.2 552.5L818.7 548.8L819.2 548.4L819.7 547L820.2 554.3L820.7 544.4L821.2 548.4L821.7 547.5L822.2 542.8L822.7 546L823.2 550.8L823.7 547.9L824.2 542L824.7 544.4L825.2 542.8L825.7 554L826.2 546.1L826.7 538.9L827.2 557.9L827.7 551.5L828.2 551.2L828.7 547.7L829.2 549.9L829.7 543.6L830.2 546L830.7 556.2L831.2 543.9L831.7 546L832.2 550L832.7 538.2L833.2 543.7L833.7 547.6L834.2 540.8L834.7 542.5L835.2 550.2L835.7 539.1L836.2 549.5L836.7 544.7L837.2 547.2L837.7 553L838.2 550.3L838.7 547.3L839.2 538.6L839.7 550.5L840.2 545L840.7 547.7L841.2 540.4L841.7 536L842.2 534.2L842.7 539.1L843.2 548.5L843.7 550.6L844.2 550.4L844.7 542.3L845.2 547.7L845.7 549.5L846.2 541.2L846.7 554.4L847.2 545.1L847.7 538.4L848.2 544.8L848.7 543.9L849.2 552.8L849.7 544.6L850.2 536.1L850.7 539.4L851.2 552L851.7 545.9L852.2 541.5L852.7 550.6L853.2 546.6L853.7 549.3L854.2 547.7L854.7 548.8L855.2 539.8L855.7 525.8L856.2 547.5L856.7 537.8L857.2 546.8L857.7 533.3L858.2 544.8L858.7 540.2L859.2 548.8L859.7 539.4L860.2 522.6L860.7 536.8L861.2 544.4L861.7 541.1L862.2 540.7L862.7 537.6L863.2 516.7L863.7 542.9L864.2 540.8L864.7 507.6L865.2 547.5L865.7 539.7L866.2 539.4L866.7 542L867.2 545.3L867.7 548.8L868.2 544.4L868.7 545.2L869.2 543.9L869.7 543.1L870.2 543.8L870.7 544.6L871.2 538.9L871.7 550L872.2 541.9L872.7 547.6L873.2 537L873.7 545.2L874.2 544.8L874.7 545.2L875.2 537L875.7 544.3L876.2 540.2L876.7 543.7L877.2 539.7L877.7 538.8L878.2 533.6L878.7 541.5L879.2 542.1L879.7 540.2L880.2 541.2L880.7 532.9L881.2 533.3L881.7 543.3L882.2 533.1L882.7 538.8L883.2 540.1L883.7 539.9L884.2 546L884.7 544.2L885.2 546.2L885.7 541.6L886.2 543.7L886.7 541.4L887.2 526.5L887.7 544.5L888.2 548.1L888.7 551.8L889.2 540.6L889.7 545.5L890.2 548.2L890.7 539.1L891.2 547.2L891.7 539.9L892.2 549.7L892.7 549.9L893.2 548.6L893.7 539.1L894.2 545.1L894.7 554.1L895.2 544.2L895.7 539.8L896.2 542L896.7 539.8L897.2 541.6L897.7 557.7L898.2 546.6L898.7 540L899.2 548L899.7 533.5L900.2 531.5L900.7 553.8L901.2 540.9L901.7 537.4L902.2 538.8L902.7 551.6L903.2 543.1L903.7 551.8L904.2 550.7L904.7 545.8L905.2 547.4L905.7 541.7L906.2 536.3L906.7 544.2L907.2 542.2L907.7 541.5L908.2 545L908.7 534.5L909.2 538L909.7 548.1L910.2 544.4L910.7 535.1L911.2 544L911.7 534.7L912.2 557L912.7 544.4L913.2 544.8L913.7 550.5L914.2 539.1L914.7 554.7L915.2 535.2L915.7 533.4L916.2 532.9L916.7 545.3L917.2 544L917.7 538.7L918.2 552.4L918.7 540.4L919.2 533.9L919.7 536.8L920.2 544.9L920.7 530.8L921.2 523L921.7 546.6L922.2 539L922.7 542.8L923.2 534.4L923.7 536.5L924.2 534.4L924.7 546.9L925.2 540.7L925.7 525L926.2 529L926.7 529.8L927.2 533.8L927.7 528.8L928.2 539L928.7 548.9L929.2 537.2L929.7 540.5L930.2 536.3L930.7 533.4L931.2 538.8L931.7 543.9L932.2 526.7L932.7 508.9L933.2 534L933.7 533.3L934.2 539.6L934.7 529.6L935.2 517.8L935.7 503.1L936.2 524.5L936.7 539.9L937.2 527.1L937.7 547.9L938.2 537.3L938.7 498.3L939.2 525.3L939.7 537.6L940.2 540.6L940.7 545.4L941.2 530.5L941.7 537.6L942.2 543.7L942.7 519.2L943.2 526.6L943.7 535.1L944.2 534.3L944.7 548L945.2 545L945.7 530.1L946.2 534.9L946.7 540.2L947.2 529.3L947.7 540.1L948.2 546.8L948.7 532.1L949.2 548.3L949.7 543.4L950.2 544L950.7 512.8L951.2 551.3L951.7 545.5L952.2 546.8L952.7 546.6L953.2 533.1L953.7 534.8L954.2 540.1L954.7 536.6L955.2 535.2L955.7 534.1L956.2 531.6L956.7 534.6L957.2 542.8L957.7 538.1L958.2 550L958.7 529.2L959.2 546.4L959.7 532.9L960.2 551.3L960.7 551.3L961.2 531.9L961.7 541.4L962.2 548.3L962.7 545.1L963.2 549.4L963.7 544.6L964.2 540.3L964.7 551.7L965.2 556.1L965.7 547.2L966.2 538.2L966.7 540.7L967.2 551.4L967.7 547.3L968.2 534.3L968.7 539.4L969.2 538.1L969.7 546.5L970.2 534.7L970.7 542.3L971.2 551.2L971.7 546.1L972.2 532.4L972.7 501.2L973.2 528.6L973.7 542.5L974.2 555.6L974.7 542.2L975.2 532.1L975.7 537.5L976.2 551.4L976.7 517.2L977.2 534L977.7 540.3L978.2 545.8L978.7 531.2L979.2 537.4L979.7 548L980.2 533.9L980.7 536.9L981.2 542.3L981.7 546.3L982.2 535.6L982.7 533.7L983.2 509.6L983.7 544.3L984.2 542.6L984.7 539.1L985.2 537.3L985.7 539L986.2 539.9L986.7 537.8L987.2 524.3L987.7 536.2L988.2 537.2L988.7 538.8L989.2 541.7L989.7 527.8L990.2 543.8L990.7 549.1L991.2 538.5L991.7 544.6L992.2 537L992.7 541.8L993.2 525.5L993.7 546.6L994.2 553.1L994.7 524.1L995.2 538.5L995.7 549.1L996.2 544.2L996.7 544.9L997.2 540.4L997.7 544L998.2 534.8L998.7 529.8L999.2 524L999.7 532.6L1000.2 533.8L1000.7 530.6L1001.2 540.9L1001.7 537.5L1002.2 539L1002.7 546.7L1003.2 529.1L1003.7 502.2L1004.2 550.6L1004.7 550.3L1005.2 540.7L1005.7 546.5L1006.2 543.6L1006.7 547.9L1007.2 546.6L1007.7 545.4L1008.2 556.9L1008.7 538.7L1009.2 544.9L1009.7 545.6L1010.2 543.4L1010.7 545.2L1011.2 542.5L1011.7 552.2L1012.2 545.5L1012.7 541.7L1013.2 549.1L1013.7 540.4L1014.2 530.3L1014.7 546.5L1015.2 533.2L1015.7 550.1L1016.2 543.3L1016.7 548.4L1017.2 547.9L1017.7 555.1L1018.2 539.4L1018.7 542.1L1019.2 550.7L1019.7 554.6L1020.2 541.1L1020.7 543.3L1021.2 533.3L1021.7 543.8L1022.2 508.9L1022.7 540.7L1023.2 541.8L1023.7 533L1024.2 547.2L1024.7 536L1025.2 544.1L1025.7 552.2L1026.2 550.9L1026.7 550.7L1027.2 549.5L1027.7 551.2L1028.2 544.2L1028.7 547.7L1029.2 550.1L1029.7 546.1L1030.2 546.5L1030.7 550.8L1031.2 550.2L1031.7 549.6L1032.2 546.5L1032.7 542.2L1033.2 549L1033.7 550.5L1034.2 549.5L1034.7 549.9L1035.2 549.4L1035.7 555.7L1036.2 545.4L1036.7 552L1037.2 547.1L1037.7 544.7L1038.2 544.5L1038.7 545.9L1039.2 536.7L1039.7 548.6L1040.2 544.6L1040.7 556.6L1041.2 523.6L1041.7 538L1042.2 539.1L1042.7 537.5L1043.2 535.3L1043.7 542.5L1044.2 516.7L1044.7 541.1L1045.2 514.1L1045.7 544.4L1046.2 546.9L1046.7 540.7L1047.2 542.2L1047.7 520.9L1048.2 535.8L1048.7 538.2L1049.2 536.3L1049.7 525.5L1050.2 538.9L1050.7 525.8L1051.2 501.2L1051.7 531.1L1052.2 550.2L1052.7 537.5L1053.2 536.6L1053.7 543.1L1054.2 529.9L1054.7 543.1L1055.2 528.1L1055.7 529L1056.2 517.6L1056.7 535.7L1057.2 531.5L1057.7 528.5L1058.2 533.7L1058.7 533.5L1059.2 543.8L1059.7 512.8L1060.2 528.6L1060.7 549.6L1061.2 538.7L1061.7 532.7L1062.2 536.9L1062.7 542.7L1063.2 532.3L1063.7 531.4L1064.2 540.6L1064.7 540.1L1065.2 538.1L1065.7 535.6L1066.2 555.6L1066.7 507L1067.2 542.2L1067.7 524.4L1068.2 545.1L1068.7 535.2L1069.2 532.7L1069.7 531.7L1070.2 486.2L1070.7 530.7L1071.2 542.4L1071.7 547.6L1072.2 539.2L1072.7 556.5L1073.2 545.6L1073.7 544.4L1074.2 532.5L1074.7 550.2L1075.2 537.2L1075.7 537.7L1076.2 531.7L1076.7 540.6L1077.2 555.4L1077.7 548.7L1078.2 535.3L1078.7 534.9L1079.2 555.6L1079.7 547.9L1080.2 545.2L1080.7 553.9L1081.2 546.9L1081.7 544.1L1082.2 553.6L1082.7 542.7L1083.2 522.6L1083.7 547.3L1084.2 546.7L1084.7 542.7L1085.2 545.8L1085.7 539.6L1086.2 529.2L1086.7 548.9L1087.2 540L1087.7 526.8L1088.2 543.4L1088.7 547.4L1089.2 539.9L1089.7 539.9L1090.2 533.9L1090.7 541.5L1091.2 543.2L1091.7 536.5L1092.2 540.3L1092.7 536.7L1093.2 544L1093.7 535.2L1094.2 539.7L1094.7 545.1L1095.2 534L1095.7 545.1L1096.2 533.8L1096.7 542.9L1097.2 545.9L1097.7 525.1L1098.2 544.2L1098.7 538.1L1099.2 535.7L1099.7 536.3L1100.2 528.8L1100.7 535.4L1101.2 536.8L1101.7 523.9L1102.2 549.9L1102.7 545.4L1103.2 523.9L1103.7 529.6L1104.2 548L1104.7 544L1105.2 544.8L1105.7 535.3L1106.2 547.7L1106.7 533.6L1107.2 540L1107.7 541.1L1108.2 542.1L1108.7 539.1L1109.2 534.8L1109.7 550.8L1110.2 550.9L1110.7 544.4L1111.2 524.9L1111.7 539.7L1112.2 544.7L1112.7 542.4L1113.2 544L1113.7 540.3L1114.2 532.2L1114.7 549.2L1115.2 533.3L1115.7 548.6L1116.2 541.8L1116.7 540.4L1117.2 551.7L1117.7 538.7L1118.2 550.1L1118.7 544.2L1119.2 557.8L1119.7 545.4L1120.2 550.6L1120.7 546.3L1121.2 548.8L1121.7 527.2" stroke="#0a0a0a" stroke-width="1.25" stroke-linejoin="round"/>
<path d="M668.6 604.3L1122.5 604.3" stroke="#000" stroke-width="1.2" stroke-dasharray="4.5 2.6"/>
<path d="M669.2 601.1L669.7 595.7L670.2 597.2L670.7 601.1L671.2 593.5L671.7 598.9L672.2 594.1L672.7 601.6L673.2 596.1L673.7 601.3L674.2 600.9L674.7 577.6L675.2 592.8L675.7 598.8L676.2 595.8L676.7 597L677.2 596.8L677.7 603.1L678.2 598.9L678.7 600.7L679.2 603L679.7 599.9L680.2 590L680.7 594.3L681.2 596.7L681.7 594.8L682.2 591.7L682.7 596.9L683.2 599.1L683.7 599.8L684.2 605.5L684.7 600.4L685.2 594.1L685.7 594.1L686.2 595.3L686.7 602L687.2 588L687.7 595.7L688.2 595.7L688.7 596.2L689.2 598.5L689.7 597L690.2 599.6L690.7 600L691.2 599.5L691.7 592.4L692.2 588.7L692.7 605L693.2 602.9L693.7 599.7L694.2 603.5L694.7 596.8L695.2 594.4L695.7 590.2L696.2 593.9L696.7 600.5L697.2 592.9L697.7 597.9L698.2 600.9L698.7 597L699.2 597.6L699.7 591.9L700.2 598.5L700.7 600.6L701.2 597.4L701.7 603L702.2 596.4L702.7 593.8L703.2 597.5L703.7 599.5L704.2 599.5L704.7 600.8L705.2 597.4L705.7 599.1L706.2 591.7L706.7 595.1L707.2 600.6L707.7 596.3L708.2 596.2L708.7 590.4L709.2 589L709.7 598.1L710.2 600.1L710.7 600.1L711.2 595.6L711.7 594.4L712.2 597.1L712.7 593.8L713.2 593L713.7 597.6L714.2 602.6L714.7 600L715.2 599.1L715.7 602L716.2 597.6L716.7 599.3L717.2 596L717.7 597.6L718.2 595.4L718.7 595.1L719.2 604.9L719.7 595.3L720.2 591.3L720.7 594.1L721.2 597.8L721.7 603.3L722.2 603.5L722.7 604.3L723.2 593.9L723.7 603.4L724.2 597.2L724.7 595L725.2 599.1L725.7 600.3L726.2 592.8L726.7 597.3L727.2 599.3L727.7 597.8L728.2 604.6L728.7 598.9L729.2 598.4L729.7 602.1L730.2 600L730.7 598.7L731.2 621.5L731.7 597L732.2 600.3L732.7 594.9L733.2 596L733.7 606.5L734.2 601.3L734.7 594.8L735.2 597.4L735.7 600.1L736.2 604.4L736.7 594L737.2 602.3L737.7 593L738.2 601.8L738.7 596.5L739.2 597.2L739.7 598.7L740.2 595.9L740.7 597.7L741.2 598L741.7 598.1L742.2 596.8L742.7 597.5L743.2 601.5L743.7 598.6L744.2 595.6L744.7 603.4L745.2 601.3L745.7 601.9L746.2 599.8L746.7 593.1L747.2 595.7L747.7 599.7L748.2 597.9L748.7 606.1L749.2 597.8L749.7 601.5L750.2 603.4L750.7 598.4L751.2 598.9L751.7 594.5L752.2 598.5L752.7 599.7L753.2 601.2L753.7 596.1L754.2 592.3L754.7 593.7L755.2 597.7L755.7 597.8L756.2 596.6L756.7 596L757.2 603.2L757.7 597.1L758.2 597.5L758.7 598.5L759.2 600.8L759.7 597.9L760.2 591.9L760.7 587.1L761.2 603.9L761.7 600.2L762.2 597.2L762.7 599.6L763.2 598.8L763.7 605.4L764.2 600L764.7 589L765.2 600.5L765.7 603.9L766.2 599.8L766.7 599.2L767.2 608L767.7 600.9L768.2 599L768.7 600.8L769.2 598.7L769.7 592.2L770.2 593.6L770.7 590.1L771.2 600.6L771.7 597.4L772.2 596.7L772.7 607.7L773.2 600.2L773.7 599.4L774.2 597.3L774.7 596.4L775.2 595.3L775.7 598.3L776.2 603.9L776.7 591.8L777.2 603.1L777.7 591L778.2 600.8L778.7 607.1L779.2 598.4L779.7 602.7L780.2 593.7L780.7 597.1L781.2 600.8L781.7 599.6L782.2 600.2L782.7 604L783.2 598.3L783.7 598.4L784.2 597.4L784.7 598.7L785.2 595.5L785.7 590.4L786.2 598.5L786.7 596.1L787.2 601.1L787.7 592.6L788.2 598.2L788.7 600.8L789.2 599.6L789.7 598.9L790.2 587L790.7 601.1L791.2 600.4L791.7 599.4L792.2 591.7L792.7 600.7L793.2 596.4L793.7 601.6L794.2 603.7L794.7 600.7L795.2 600.5L795.7 600.1L796.2 599L796.7 596.4L797.2 603.8L797.7 601L798.2 599.1L798.7 600.3L799.2 604.7L799.7 607.8L800.2 596.9L800.7 596.9L801.2 590.4L801.7 598.5L802.2 596.6L802.7 599L803.2 595.9L803.7 601.6L804.2 586L804.7 597L805.2 599.2L805.7 600.3L806.2 592.9L806.7 599L807.2 597.4L807.7 596.8L808.2 598L808.7 597.7L809.2 592.9L809.7 601.4L810.2 593.8L810.7 596.1L811.2 596.6L811.7 607.8L812.2 597.8L812.7 601.9L813.2 578.5L813.7 598.5L814.2 599.9L814.7 600.8L815.2 597.3L815.7 602.6L816.2 602.5L816.7 597L817.2 607L817.7 601.6L818.2 602.9L818.7 597.4L819.2 600.7L819.7 592L820.2 601.3L820.7 594.6L821.2 599L821.7 599.7L822.2 597L822.7 600.3L823.2 599.4L823.7 594.6L824.2 596.6L824.7 595.3L825.2 606.3L825.7 594.6L826.2 597.8L826.7 600.4L827.2 601.2L827.7 596.2L828.2 608.7L828.7 598.2L829.2 597.5L829.7 593.4L830.2 603.4L830.7 603.1L831.2 599.7L831.7 594.8L832.2 599.7L832.7 600.2L833.2 592.6L833.7 591.4L834.2 591.9L834.7 599.4L835.2 597.4L835.7 595L836.2 603.7L836.7 598.2L837.2 604.2L837.7 594.8L838.2 598.7L838.7 594L839.2 595.9L839.7 604.4L840.2 600.6L840.7 595.2L841.2 594.1L841.7 586.8L842.2 598.5L842.7 601L843.2 594L843.7 599.3L844.2 592.9L844.7 597.3L845.2 596L845.7 591.3L846.2 593.5L846.7 599.1L847.2 602.3L847.7 604.4L848.2 596.1L848.7 594.3L849.2 604.1L849.7 598.5L850.2 597.3L850.7 602.2L851.2 591.2L851.7 599.8L852.2 601.4L852.7 600.3L853.2 621L853.7 598.8L854.2 595.1L854.7 595.4L855.2 600.4L855.7 608.5L856.2 599.2L856.7 604.5L857.2 593L857.7 599.3L858.2 601.8L858.7 596.3L859.2 592.6L859.7 593.5L860.2 598.7L860.7 596.8L861.2 601L861.7 593.9L862.2 595.8L862.7 599.2L863.2 573L863.7 598.8L864.2 630L864.7 601.8L865.2 603.1L865.7 603.3L866.2 608.4L866.7 591.4L867.2 608.6L867.7 594.4L868.2 598.3L868.7 598.8L869.2 602.3L869.7 601.3L870.2 604.2L870.7 598.1L871.2 592.9L871.7 605.8L872.2 596.5L872.7 602.1L873.2 601.1L873.7 594.6L874.2 592.6L874.7 596.2L875.2 603.1L875.7 594.3L876.2 589.3L876.7 594.2L877.2 598L877.7 593.7L878.2 597.7L878.7 601.9L879.2 603L879.7 590.7L880.2 602.4L880.7 596.5L881.2 596.2L881.7 593.8L882.2 595.8L882.7 604.2L883.2 593L883.7 599.3L884.2 588.9L884.7 595.3L885.2 596.6L885.7 594.4L886.2 601.6L886.7 599.5L887.2 599.4L887.7 601.7L888.2 599.5L888.7 600.5L889.2 590.4L889.7 592.4L890.2 591.6L890.7 599.2L891.2 603.7L891.7 597L892.2 598.6L892.7 594.6L893.2 603.5L893.7 593.8L894.2 597.5L894.7 593.9L895.2 597.6L895.7 590.7L896.2 601.2L896.7 606.2L897.2 591.7L897.7 599.5L898.2 597.1L898.7 592.3L899.2 603.7L899.7 591.6L900.2 585.9L900.7 603.5L901.2 601.2L901.7 603L902.2 603.3L902.7 596.1L903.2 594.1L903.7 601.2L904.2 596.9L904.7 587.8L905.2 595.9L905.7 601.6L906.2 593.3L906.7 597.2L907.2 594.4L907.7 597.2L908.2 581L908.7 601.8L909.2 606.5L909.7 601.7L910.2 590.3L910.7 593.2L911.2 592.4L911.7 601.7L912.2 606L912.7 592L913.2 595.3L913.7 586.1L914.2 599.8L914.7 595.6L915.2 587.9L915.7 600.1L916.2 599.6L916.7 592.4L917.2 594.3L917.7 592.4L918.2 589.4L918.7 597.4L919.2 591.3L919.7 600L920.2 598.5L920.7 599.9L921.2 597.7L921.7 595.9L922.2 588.4L922.7 601.1L923.2 602L923.7 591.4L924.2 598.3L924.7 598.3L925.2 604.8L925.7 599.8L926.2 614.8L926.7 601.3L927.2 593.1L927.7 597.2L928.2 602.3L928.7 606.2L929.2 599.7L929.7 596.9L930.2 590.4L930.7 586L931.2 586.3L931.7 589.7L932.2 598L932.7 598L933.2 595.3L933.7 599.4L934.2 590.8L934.7 598.3L935.2 586L935.7 596L936.2 596.3L936.7 603.9L937.2 593.2L937.7 605.6L938.2 618L938.7 592L939.2 604.7L939.7 599.1L940.2 598.1L940.7 593.3L941.2 595.3L941.7 589.6L942.2 588.5L942.7 599.5L943.2 602.8L943.7 605.3L944.2 599L944.7 606.2L945.2 602.8L945.7 595L946.2 598.6L946.7 592.1L947.2 596.4L947.7 594.8L948.2 576L948.7 599.6L949.2 596.2L949.7 595.8L950.2 598.6L950.7 593L951.2 594.1L951.7 597.5L952.2 591.6L952.7 601.2L953.2 594.8L953.7 598.2L954.2 592.4L954.7 595.1L955.2 598L955.7 599.5L956.2 596.9L956.7 600.5L957.2 599.3L957.7 600.6L958.2 571L958.7 603.9L959.2 598.7L959.7 600.4L960.2 598.7L960.7 595.5L961.2 594.5L961.7 602.3L962.2 594.4L962.7 596.7L963.2 594.3L963.7 595.3L964.2 591.8L964.7 586L965.2 607.1L965.7 599.3L966.2 600.1L966.7 601.1L967.2 605.8L967.7 597.3L968.2 597.7L968.7 596.5L969.2 598.3L969.7 605.1L970.2 599L970.7 607.4L971.2 599.7L971.7 600.8L972.2 602.7L972.7 593.5L973.2 604.1L973.7 601.4L974.2 603L974.7 600.8L975.2 595.3L975.7 595.1L976.2 570L976.7 599.6L977.2 603.9L977.7 594.2L978.2 589.1L978.7 600.6L979.2 597.2L979.7 599.7L980.2 600.6L980.7 593.2L981.2 597.9L981.7 601.1L982.2 592.7L982.7 595.5L983.2 598.3L983.7 600.5L984.2 604.2L984.7 602.4L985.2 602.1L985.7 594.7L986.2 604.6L986.7 597.1L987.2 596.2L987.7 590.5L988.2 595.4L988.7 595.2L989.2 595.4L989.7 608L990.2 605.6L990.7 599.7L991.2 602.6L991.7 595.9L992.2 590.4L992.7 594.7L993.2 597L993.7 596.3L994.2 602.8L994.7 595L995.2 595.6L995.7 598.4L996.2 590.4L996.7 599.3L997.2 592.7L997.7 586L998.2 596.6L998.7 595.7L999.2 595L999.7 593.4L1000.2 605.9L1000.7 591.4L1001.2 596.5L1001.7 596.5L1002.2 601.6L1002.7 604.1L1003.2 598.9L1003.7 603L1004.2 590L1004.7 592.3L1005.2 590.4L1005.7 600.3L1006.2 597.9L1006.7 594.3L1007.2 604.5L1007.7 590.7L1008.2 590.2L1008.7 588.6L1009.2 587L1009.7 600L1010.2 586.5L1010.7 594.2L1011.2 601.2L1011.7 602.2L1012.2 591.6L1012.7 597.2L1013.2 601.4L1013.7 595.1L1014.2 592.9L1014.7 594.7L1015.2 595.3L1015.7 590.4L1016.2 595.1L1016.7 596.1L1017.2 593.9L1017.7 593.7L1018.2 593.3L1018.7 596.7L1019.2 596.2L1019.7 597.7L1020.2 602.6L1020.7 598.6L1021.2 592.1L1021.7 592L1022.2 579L1022.7 593.1L1023.2 588.1L1023.7 592.4L1024.2 591.1L1024.7 598.5L1025.2 594.4L1025.7 594.5L1026.2 589.5L1026.7 594.8L1027.2 599.5L1027.7 590.4L1028.2 592.4L1028.7 592.2L1029.2 585.6L1029.7 596.3L1030.2 587L1030.7 594.1L1031.2 589.5L1031.7 589.1L1032.2 591.7L1032.7 589L1033.2 593.1L1033.7 600.7L1034.2 596.1L1034.7 587.3L1035.2 595.9L1035.7 592.2L1036.2 600.2L1036.7 591.7L1037.2 593.5L1037.7 593.1L1038.2 586.2L1038.7 593.2L1039.2 602.4L1039.7 594.5L1040.2 596.2L1040.7 595.2L1041.2 590L1041.7 584.2L1042.2 597.4L1042.7 586L1043.2 590.5L1043.7 589L1044.2 592.2L1044.7 593.9L1045.2 585.9L1045.7 588L1046.2 589.1L1046.7 593.6L1047.2 597.3L1047.7 594.2L1048.2 595.6L1048.7 588.3L1049.2 586.4L1049.7 586.9L1050.2 594.9L1050.7 598.1L1051.2 567.5L1051.7 588.6L1052.2 592.8L1052.7 588L1053.2 597.8L1053.7 596.7L1054.2 593.9L1054.7 601.5L1055.2 589.9L1055.7 600.3L1056.2 587L1056.7 583.8L1057.2 598.4L1057.7 582.8L1058.2 581.6L1058.7 594.7L1059.2 592.9L1059.7 594.6L1060.2 593.1L1060.7 595.5L1061.2 592.8L1061.7 597.2L1062.2 588.3L1062.7 594.7L1063.2 597.7L1063.7 596.7L1064.2 587L1064.7 596.7L1065.2 600.7L1065.7 585.5L1066.2 571L1066.7 593.1L1067.2 592.1L1067.7 586.3L1068.2 591.3L1068.7 606.2L1069.2 609.5L1069.7 592.4L1070.2 597.1L1070.7 592.3L1071.2 600.1L1071.7 603.5L1072.2 593.6L1072.7 601.7L1073.2 590.5L1073.7 593.4L1074.2 606.5L1074.7 598.3L1075.2 604.8L1075.7 607.3L1076.2 596.7L1076.7 602.5L1077.2 606.9L1077.7 597.7L1078.2 605.9L1078.7 597.2L1079.2 592.9L1079.7 592.2L1080.2 596.7L1080.7 592.6L1081.2 602.9L1081.7 603.4L1082.2 593.3L1082.7 595.4L1083.2 590.4L1083.7 595.6L1084.2 600.6L1084.7 595.2L1085.2 601.7L1085.7 601.4L1086.2 601.6L1086.7 601L1087.2 607.8L1087.7 594.5L1088.2 605L1088.7 601.3L1089.2 594.5L1089.7 604.4L1090.2 607.4L1090.7 603.1L1091.2 597L1091.7 600.5L1092.2 598.9L1092.7 601.3L1093.2 593.4L1093.7 601.3L1094.2 597.6L1094.7 590.7L1095.2 594.9L1095.7 599.5L1096.2 596.6L1096.7 599.8L1097.2 598.4L1097.7 598.9L1098.2 600.4L1098.7 592.8L1099.2 595.3L1099.7 607L1100.2 615L1100.7 589.2L1101.2 580.1L1101.7 598.8L1102.2 606.2L1102.7 595.6L1103.2 596L1103.7 590.5L1104.2 587L1104.7 599.9L1105.2 594.6L1105.7 598.7L1106.2 604.3L1106.7 603.2L1107.2 606.2L1107.7 598.4L1108.2 600.8L1108.7 596.6L1109.2 608L1109.7 603.5L1110.2 606.5L1110.7 600.5L1111.2 590.7L1111.7 598.1L1112.2 591.1L1112.7 607.7L1113.2 604.4L1113.7 597.8L1114.2 602.5L1114.7 604.4L1115.2 611.1L1115.7 605.5L1116.2 598.1L1116.7 603.7L1117.2 596.1L1117.7 602.6L1118.2 596.3L1118.7 603.1L1119.2 597.3L1119.7 598L1120.2 599.5L1120.7 591.9L1121.2 599.5L1121.7 588.2" stroke="#1414ff" stroke-width="1.1" stroke-linejoin="round"/>
<path d="M669.2 597.7L669.7 595.4L670.2 599.9L670.7 597L671.2 597.1L671.7 596.5L672.2 593.8L672.7 597.3L673.2 600.5L673.7 606.7L674.2 596.2L674.7 597.2L675.2 600.8L675.7 598.7L676.2 602.2L676.7 593.5L677.2 598.5L677.7 597L678.2 587L678.7 596.5L679.2 595.2L679.7 594.9L680.2 595.6L680.7 600.4L681.2 600.5L681.7 605.3L682.2 602.8L682.7 591.5L683.2 599.2L683.7 600.5L684.2 598L684.7 592.9L685.2 588.5L685.7 600.1L686.2 595.1L686.7 600.8L687.2 598.8L687.7 598.9L688.2 591.7L688.7 595.2L689.2 595.9L689.7 596.7L690.2 598.3L690.7 590.9L691.2 598.6L691.7 601.8L692.2 598.2L692.7 593.8L693.2 595.2L693.7 594.9L694.2 604.2L694.7 601.7L695.2 599.5L695.7 596.6L696.2 595.6L696.7 599.3L697.2 601.8L697.7 596L698.2 596.6L698.7 596L699.2 594.4L699.7 603.2L700.2 595.9L700.7 593.8L701.2 589.2L701.7 607.9L702.2 598.7L702.7 608.4L703.2 604.2L703.7 593.5L704.2 599.8L704.7 595.2L705.2 591.1L705.7 598.2L706.2 603.1L706.7 597.1L707.2 595.2L707.7 598.6L708.2 602.1L708.7 598.6L709.2 606.2L709.7 599L710.2 596.8L710.7 594.2L711.2 602.6L711.7 597L712.2 595.9L712.7 596.3L713.2 603.5L713.7 595.7L714.2 596.5L714.7 603.6L715.2 599.6L715.7 606.6L716.2 599.3L716.7 598.9L717.2 598.4L717.7 600.7L718.2 599.4L718.7 592.6L719.2 606.9L719.7 594.3L720.2 594.9L720.7 599.7L721.2 590.4L721.7 595.6L722.2 592.3L722.7 598.3L723.2 600.4L723.7 598.8L724.2 594.4L724.7 602.3L725.2 604.9L725.7 599.4L726.2 599.7L726.7 604.1L727.2 598.6L727.7 599.9L728.2 596.7L728.7 595.9L729.2 595.6L729.7 604.9L730.2 593.5L730.7 594.6L731.2 595.5L731.7 594.4L732.2 597.2L732.7 589.8L733.2 600.2L733.7 598.6L734.2 591.6L734.7 604.1L735.2 604L735.7 598.6L736.2 597.6L736.7 598.3L737.2 602.9L737.7 596.2L738.2 600.1L738.7 610L739.2 597.9L739.7 593.8L740.2 594.8L740.7 597.4L741.2 601.4L741.7 603.9L742.2 601.3L742.7 596.2L743.2 601.5L743.7 601.1L744.2 602.3L744.7 594.6L745.2 600.3L745.7 597.5L746.2 593.8L746.7 595.1L747.2 600.3L747.7 602.3L748.2 594.7L748.7 596.2L749.2 593.1L749.7 597.4L750.2 595.5L750.7 594.2L751.2 598.6L751.7 602.8L752.2 598.7L752.7 599.6L753.2 597.6L753.7 594.2L754.2 597.8L754.7 594.6L755.2 600.8L755.7 607.2L756.2 599.8L756.7 595.6L757.2 595.6L757.7 599.8L758.2 591.8L758.7 597.8L759.2 596.4L759.7 596.7L760.2 591.6L760.7 594.5L761.2 595.9L761.7 602.4L762.2 598.6L762.7 600.9L763.2 605.4L763.7 595.9L764.2 595.4L764.7 596.6L765.2 600.9L765.7 599.4L766.2 599L766.7 592.7L767.2 594.8L767.7 595.6L768.2 595.5L768.7 600.2L769.2 594L769.7 597.2L770.2 605.2L770.7 602.8L771.2 599.3L771.7 591.7L772.2 602.1L772.7 595.9L773.2 596L773.7 590.6L774.2 599.6L774.7 597.4L775.2 594.1L775.7 594.3L776.2 600.6L776.7 594.6L777.2 594L777.7 599.5L778.2 602.7L778.7 606.9L779.2 593.7L779.7 601.2L780.2 599.8L780.7 595.6L781.2 595.7L781.7 600.9L782.2 589.8L782.7 602.3L783.2 602.8L783.7 602.5L784.2 600.9L784.7 598L785.2 600.6L785.7 598L786.2 596.2L786.7 595.7L787.2 600.2L787.7 602.7L788.2 597.9L788.7 599.1L789.2 594.9L789.7 596.6L790.2 598L790.7 597.4L791.2 603.4L791.7 598.8L792.2 592.5L792.7 597.9L793.2 604.2L793.7 604.9L794.2 599.7L794.7 600.6L795.2 588.3L795.7 605.4L796.2 597.6L796.7 604.2L797.2 600.7L797.7 599.1L798.2 594.1L798.7 598.2L799.2 595.1L799.7 600L800.2 596.7L800.7 594.6L801.2 595.5L801.7 601.8L802.2 594.2L802.7 593.6L803.2 598.6L803.7 601.3L804.2 604.7L804.7 597.1L805.2 593.9L805.7 598L806.2 598.9L806.7 596.9L807.2 595L807.7 606.1L808.2 603.6L808.7 592.4L809.2 594.6L809.7 594.4L810.2 592L810.7 598.6L811.2 595.7L811.7 596.7L812.2 589.7L812.7 603.3L813.2 595.7L813.7 601.5L814.2 602.2L814.7 596.7L815.2 598.8L815.7 598.1L816.2 600L816.7 595L817.2 600.6L817.7 595.4L818.2 604.3L818.7 593.1L819.2 598.1L819.7 598.4L820.2 599.7L820.7 599.5L821.2 598.5L821.7 602.2L822.2 597.2L822.7 597.2L823.2 595.9L823.7 597.1L824.2 596.5L824.7 598.1L825.2 600.4L825.7 592.8L826.2 603L826.7 594L827.2 598.1L827.7 604.1L828.2 591.7L828.7 608.1L829.2 603.7L829.7 593.1L830.2 599.8L830.7 600.6L831.2 596.9L831.7 599.5L832.2 597L832.7 598.4L833.2 593.7L833.7 603.3L834.2 598.8L834.7 596.7L835.2 593.7L835.7 597.1L836.2 602.5L836.7 596.5L837.2 597.6L837.7 595L838.2 593.1L838.7 593.4L839.2 596.6L839.7 597.2L840.2 597.6L840.7 597.8L841.2 600.1L841.7 595.3L842.2 594.1L842.7 599.9L843.2 593.9L843.7 599.6L844.2 600.5L844.7 593.2L845.2 601.2L845.7 603L846.2 599.9L846.7 599.3L847.2 597.1L847.7 593.5L848.2 598.5L848.7 597.6L849.2 595.2L849.7 597.9L850.2 600.4L850.7 599.8L851.2 597L851.7 602.1L852.2 591.7L852.7 597.2L853.2 599.1L853.7 592.9L854.2 601L854.7 588.4L855.2 620L855.7 592.1L856.2 607.6L856.7 591.9L857.2 590.1L857.7 601.2L858.2 597.2L858.7 597L859.2 597.3L859.7 596.6L860.2 601.9L860.7 603.2L861.2 601.6L861.7 599.6L862.2 581.6L862.7 593.4L863.2 599L863.7 597.1L864.2 573.5L864.7 594.8L865.2 596.6L865.7 597L866.2 604.4L866.7 595.5L867.2 595L867.7 598.1L868.2 595.1L868.7 600.2L869.2 595.4L869.7 594.2L870.2 594.3L870.7 592L871.2 596.9L871.7 589L872.2 597.7L872.7 601.2L873.2 590L873.7 594.3L874.2 600.5L874.7 607.2L875.2 594.1L875.7 608.5L876.2 599.2L876.7 598.4L877.2 591.6L877.7 600.2L878.2 601.6L878.7 591.3L879.2 593.3L879.7 605.6L880.2 593L880.7 597.5L881.2 598L881.7 593.5L882.2 592L882.7 601.2L883.2 596.4L883.7 596.7L884.2 610.2L884.7 589L885.2 607.8L885.7 600L886.2 594.2L886.7 599.9L887.2 595.5L887.7 591.5L888.2 602.9L888.7 599L889.2 592.9L889.7 597.8L890.2 597.2L890.7 594.7L891.2 606.6L891.7 591.6L892.2 596.6L892.7 597.4L893.2 605.8L893.7 594.4L894.2 592.1L894.7 601.9L895.2 598L895.7 605.8L896.2 598.9L896.7 595.1L897.2 595.4L897.7 603.1L898.2 595.2L898.7 589.6L899.2 605.6L899.7 603.8L900.2 599.9L900.7 594.5L901.2 600.6L901.7 581.9L902.2 596.7L902.7 597.6L903.2 591.1L903.7 598.5L904.2 593.8L904.7 591.4L905.2 592.4L905.7 592.9L906.2 596.2L906.7 600.7L907.2 592.1L907.7 589.8L908.2 598.6L908.7 593.8L909.2 593.7L909.7 594.7L910.2 581.3L910.7 577.5L911.2 605L911.7 597.9L912.2 603.8L912.7 593.1L913.2 601.1L913.7 587.4L914.2 600.3L914.7 590.4L915.2 595L915.7 574.9L916.2 599.8L916.7 594.7L917.2 589.5L917.7 585.6L918.2 594.4L918.7 590.1L919.2 598.8L919.7 593.1L920.2 588.1L920.7 603.6L921.2 595.4L921.7 584.6L922.2 590.4L922.7 590.3L923.2 593.3L923.7 586.4L924.2 599.7L924.7 600.7L925.2 604.6L925.7 589.9L926.2 590.3L926.7 600.6L927.2 598.4L927.7 586.8L928.2 583.6L928.7 595.4L929.2 595.1L929.7 578.9L930.2 606.4L930.7 592.3L931.2 605L931.7 599.7L932.2 603L932.7 596.7L933.2 595.7L933.7 596.8L934.2 577L934.7 598.7L935.2 600.6L935.7 588.7L936.2 590.7L936.7 595L937.2 600.7L937.7 587.1L938.2 569L938.7 594.1L939.2 596.5L939.7 587.3L940.2 587.3L940.7 595.4L941.2 594.2L941.7 594.3L942.2 601.9L942.7 590.1L943.2 592.5L943.7 588.3L944.2 594.7L944.7 594.5L945.2 589.4L945.7 596.1L946.2 589.1L946.7 599.8L947.2 600.7L947.7 592.8L948.2 593.3L948.7 598.8L949.2 596L949.7 601.1L950.2 591.1L950.7 598.9L951.2 597L951.7 589.7L952.2 584.7L952.7 594.3L953.2 601.3L953.7 594.2L954.2 595.2L954.7 587.6L955.2 595.7L955.7 598.2L956.2 592.3L956.7 593L957.2 587.5L957.7 596L958.2 597.2L958.7 594.6L959.2 593.7L959.7 599.1L960.2 596.6L960.7 578.5L961.2 589.8L961.7 595L962.2 581.8L962.7 590.5L963.2 590.6L963.7 592.8L964.2 597.8L964.7 601.8L965.2 586.8L965.7 605.4L966.2 602L966.7 602.2L967.2 581.5L967.7 596.4L968.2 578.2L968.7 598.2L969.2 594.7L969.7 616.7L970.2 587.3L970.7 589.6L971.2 596.2L971.7 597.8L972.2 598.5L972.7 603.3L973.2 598.2L973.7 597L974.2 599.4L974.7 589L975.2 602L975.7 591.2L976.2 590.4L976.7 594.4L977.2 607.2L977.7 603.8L978.2 592.7L978.7 604L979.2 589.9L979.7 604.3L980.2 587.5L980.7 592L981.2 585.1L981.7 593.2L982.2 588.8L982.7 595.9L983.2 606.2L983.7 601L984.2 596L984.7 597.7L985.2 596.3L985.7 598.4L986.2 599.9L986.7 600.2L987.2 597.1L987.7 603.2L988.2 596.9L988.7 590.7L989.2 593.6L989.7 600L990.2 584.7L990.7 583.5L991.2 600.1L991.7 596.3L992.2 594.9L992.7 609.9L993.2 587.8L993.7 595.4L994.2 592.4L994.7 594.5L995.2 592.7L995.7 599.6L996.2 600.7L996.7 601.2L997.2 582.2L997.7 595.5L998.2 601.5L998.7 585.4L999.2 587L999.7 584.1L1000.2 593.6L1000.7 592.9L1001.2 579L1001.7 595.8L1002.2 606.9L1002.7 593.8L1003.2 600.7L1003.7 612L1004.2 611.8L1004.7 604.6L1005.2 597.6L1005.7 605.5L1006.2 593.6L1006.7 596.1L1007.2 597.2L1007.7 592.5L1008.2 598.2L1008.7 598.5L1009.2 593.5L1009.7 587.6L1010.2 594.4L1010.7 590L1011.2 596.8L1011.7 602L1012.2 594.6L1012.7 586.5L1013.2 604.2L1013.7 592.1L1014.2 603L1014.7 606L1015.2 588.2L1015.7 591.2L1016.2 597.6L1016.7 602.7L1017.2 605.4L1017.7 582.9L1018.2 594.8L1018.7 578L1019.2 602.4L1019.7 595.4L1020.2 585.6L1020.7 588.2L1021.2 585.8L1021.7 600.7L1022.2 606L1022.7 601.7L1023.2 596.6L1023.7 600.6L1024.2 605.1L1024.7 598.9L1025.2 608.2L1025.7 597L1026.2 606.8L1026.7 603.4L1027.2 603.6L1027.7 608.6L1028.2 590.8L1028.7 595L1029.2 595.2L1029.7 603.6L1030.2 601.4L1030.7 596.9L1031.2 589.5L1031.7 576.6L1032.2 595.4L1032.7 582.6L1033.2 596L1033.7 595.4L1034.2 599.2L1034.7 595.6L1035.2 610L1035.7 597.6L1036.2 576L1036.7 594.7L1037.2 600.6L1037.7 587.6L1038.2 602.2L1038.7 593.8L1039.2 594L1039.7 597.3L1040.2 604.1L1040.7 598.6L1041.2 593.2L1041.7 603.5L1042.2 599.3L1042.7 599.1L1043.2 600.3L1043.7 596.7L1044.2 609.1L1044.7 589.2L1045.2 589L1045.7 596.1L1046.2 595.6L1046.7 599.1L1047.2 613.1L1047.7 595.9L1048.2 590.6L1048.7 599.5L1049.2 598.2L1049.7 601.6L1050.2 588L1050.7 603.6L1051.2 607.9L1051.7 598L1052.2 587.8L1052.7 595.6L1053.2 627L1053.7 609.9L1054.2 600.7L1054.7 594.1L1055.2 592.5L1055.7 607.3L1056.2 602.4L1056.7 589.3L1057.2 594.3L1057.7 602.2L1058.2 602.5L1058.7 587.5L1059.2 575.1L1059.7 596.9L1060.2 616.1L1060.7 599.2L1061.2 592.8L1061.7 601.4L1062.2 593.2L1062.7 604.8L1063.2 595.9L1063.7 598.4L1064.2 595L1064.7 598.6L1065.2 583.6L1065.7 583.8L1066.2 596.4L1066.7 605L1067.2 595.9L1067.7 602.4L1068.2 595.3L1068.7 594.6L1069.2 628L1069.7 562L1070.2 589.2L1070.7 587L1071.2 597L1071.7 596.9L1072.2 608.9L1072.7 597.5L1073.2 602.3L1073.7 594.1L1074.2 599.2L1074.7 594.1L1075.2 597.6L1075.7 605.9L1076.2 585.2L1076.7 599.4L1077.2 592.8L1077.7 603L1078.2 593.8L1078.7 597.1L1079.2 590.8L1079.7 592.6L1080.2 590.4L1080.7 600.4L1081.2 609.8L1081.7 589.9L1082.2 590.1L1082.7 589.9L1083.2 590.2L1083.7 596.8L1084.2 611.2L1084.7 600.9L1085.2 592.2L1085.7 597.1L1086.2 600.8L1086.7 598.2L1087.2 605.7L1087.7 594.2L1088.2 593.7L1088.7 592.4L1089.2 605.5L1089.7 592.3L1090.2 607.3L1090.7 591L1091.2 601.8L1091.7 594.4L1092.2 598.5L1092.7 582.4L1093.2 596.9L1093.7 588.5L1094.2 594L1094.7 605.3L1095.2 589.7L1095.7 603.9L1096.2 592.1L1096.7 587.5L1097.2 603.3L1097.7 588.4L1098.2 592.9L1098.7 597.3L1099.2 578.3L1099.7 599.2L1100.2 594.7L1100.7 588.5L1101.2 592.3L1101.7 600.6L1102.2 594.4L1102.7 611.7L1103.2 582.1L1103.7 596L1104.2 597.6L1104.7 596.2L1105.2 598.1L1105.7 599.4L1106.2 592.8L1106.7 592.9L1107.2 607.4L1107.7 592.8L1108.2 595.2L1108.7 597L1109.2 596.5L1109.7 601.3L1110.2 602.7L1110.7 588.6L1111.2 592.7L1111.7 595.9L1112.2 607.9L1112.7 599.5L1113.2 598.9L1113.7 592.1L1114.2 590.5L1114.7 599.2L1115.2 605.1L1115.7 595L1116.2 596.2L1116.7 596L1117.2 601.1L1117.7 600.4L1118.2 592.4L1118.7 598.6L1119.2 593L1119.7 599.2L1120.2 600.6L1120.7 594.5L1121.2 588.9L1121.7 590.3" stroke="#1eff1e" stroke-width="1.1" stroke-linejoin="round"/>
<path d="M669.2 605.5L669.7 609.6L670.2 604.3L670.7 607.6L671.2 605.2L671.7 607.4L672.2 608.4L672.7 606L673.2 606L673.7 611.5L674.2 610.1L674.7 602.4L675.2 608.1L675.7 604.6L676.2 598.8L676.7 602.1L677.2 602.8L677.7 602.4L678.2 607.9L678.7 606.2L679.2 606.4L679.7 605.3L680.2 603.9L680.7 596.9L681.2 616L681.7 614.5L682.2 604L682.7 607.5L683.2 608.6L683.7 605.8L684.2 606.9L684.7 604.7L685.2 610.6L685.7 606L686.2 609L686.7 602.6L687.2 602L687.7 608.3L688.2 604.5L688.7 598.7L689.2 606.1L689.7 604.5L690.2 605.8L690.7 602.3L691.2 595.5L691.7 610.7L692.2 604.1L692.7 608L693.2 610.3L693.7 609L694.2 608.1L694.7 606.1L695.2 604.8L695.7 604.4L696.2 608.5L696.7 601.1L697.2 605.6L697.7 611.4L698.2 605.3L698.7 605L699.2 601.4L699.7 605.2L700.2 607.2L700.7 601.9L701.2 601.9L701.7 603.1L702.2 606.3L702.7 603.1L703.2 610.6L703.7 611.3L704.2 604.6L704.7 607.8L705.2 609.4L705.7 606.6L706.2 601.3L706.7 613.4L707.2 605.6L707.7 605.1L708.2 610.3L708.7 611.7L709.2 600.8L709.7 609.3L710.2 608L710.7 606L711.2 606.8L711.7 605L712.2 604.1L712.7 602.6L713.2 605.6L713.7 606.5L714.2 612.6L714.7 603.7L715.2 607.8L715.7 606.2L716.2 607.2L716.7 606.7L717.2 604.8L717.7 604.7L718.2 598.1L718.7 607.1L719.2 599.4L719.7 605.5L720.2 607.4L720.7 606.7L721.2 604.6L721.7 609.2L722.2 607.7L722.7 604.8L723.2 607.3L723.7 608.9L724.2 603.3L724.7 597.5L725.2 607.7L725.7 605.2L726.2 605.4L726.7 603.1L727.2 608.1L727.7 602.2L728.2 599.3L728.7 607.1L729.2 605.2L729.7 598.9L730.2 611L730.7 609.3L731.2 601.4L731.7 602.9L732.2 604.7L732.7 599.3L733.2 617.8L733.7 605.1L734.2 607.8L734.7 596.5L735.2 608L735.7 601.5L736.2 601.5L736.7 606.7L737.2 602.5L737.7 607L738.2 603.5L738.7 603.3L739.2 607L739.7 611L740.2 603.5L740.7 610.9L741.2 604.7L741.7 605.2L742.2 603.5L742.7 601.9L743.2 611.7L743.7 612.3L744.2 603.3L744.7 611.1L745.2 605.3L745.7 607.7L746.2 604.4L746.7 601.6L747.2 605.3L747.7 604.1L748.2 608.2L748.7 609.1L749.2 604.3L749.7 609.1L750.2 606.7L750.7 602.7L751.2 606.1L751.7 606L752.2 603.8L752.7 599.8L753.2 603L753.7 597.3L754.2 605.6L754.7 603.3L755.2 603.4L755.7 608.5L756.2 604.1L756.7 604.6L757.2 603.8L757.7 603.4L758.2 601L758.7 605.4L759.2 606.1L759.7 604L760.2 602L760.7 608.2L761.2 607.6L761.7 608.1L762.2 600.9L762.7 599.4L763.2 604.6L763.7 604.6L764.2 602.4L764.7 596.1L765.2 605.4L765.7 600.7L766.2 611.3L766.7 603.1L767.2 602.9L767.7 613.5L768.2 597.7L768.7 604.8L769.2 607.4L769.7 605.7L770.2 605.8L770.7 605.5L771.2 607.5L771.7 600.1L772.2 606L772.7 607.2L773.2 603.3L773.7 606.1L774.2 602.5L774.7 603.5L775.2 610.1L775.7 608.1L776.2 604.8L776.7 603.1L777.2 599.9L777.7 607L778.2 606.6L778.7 606.4L779.2 600.7L779.7 597L780.2 606L780.7 605.1L781.2 608L781.7 605.9L782.2 610.9L782.7 607.8L783.2 605.7L783.7 606.1L784.2 609.9L784.7 599.2L785.2 606.6L785.7 607.3L786.2 602.5L786.7 598L787.2 603.4L787.7 604.1L788.2 608.3L788.7 602.9L789.2 612.5L789.7 599.5L790.2 603.2L790.7 597.8L791.2 609.1L791.7 604.7L792.2 606.7L792.7 607.4L793.2 602.4L793.7 608.8L794.2 600.6L794.7 606.7L795.2 607.4L795.7 613.8L796.2 603.8L796.7 603.8L797.2 605.9L797.7 605.8L798.2 607.6L798.7 604.4L799.2 602.2L799.7 600.6L800.2 607.1L800.7 603.9L801.2 601.6L801.7 603.9L802.2 599.7L802.7 598.7L803.2 608.3L803.7 607.3L804.2 599.3L804.7 609.2L805.2 606.6L805.7 607.6L806.2 607.2L806.7 598.9L807.2 605.8L807.7 612L808.2 602.9L808.7 608.4L809.2 602.3L809.7 610.4L810.2 599.9L810.7 603.2L811.2 607L811.7 610.7L812.2 604.7L812.7 603.2L813.2 603.4L813.7 610.7L814.2 605.5L814.7 607L815.2 611.7L815.7 610.9L816.2 607.3L816.7 601.4L817.2 604.6L817.7 600.5L818.2 601.9L818.7 601L819.2 609.6L819.7 600.9L820.2 610.3L820.7 605.5L821.2 599.2L821.7 598.8L822.2 604.5L822.7 605.5L823.2 603.9L823.7 601L824.2 607.8L824.7 605.4L825.2 609.4L825.7 602.9L826.2 607.2L826.7 609.2L827.2 605L827.7 604.9L828.2 604.1L828.7 608.7L829.2 604.4L829.7 610.2L830.2 604.2L830.7 600.8L831.2 606.1L831.7 606.8L832.2 608.6L832.7 609.7L833.2 606.5L833.7 609.9L834.2 608.7L834.7 595.7L835.2 603.5L835.7 607.7L836.2 602.9L836.7 611.2L837.2 599.7L837.7 608.6L838.2 605.3L838.7 601.3L839.2 605.2L839.7 605.3L840.2 604.3L840.7 608.2L841.2 606.5L841.7 608.8L842.2 613.1L842.7 603.4L843.2 607.6L843.7 611.4L844.2 608.8L844.7 604.2L845.2 611.8L845.7 604.8L846.2 602.9L846.7 604.1L847.2 606L847.7 611.6L848.2 602.5L848.7 599.8L849.2 609.4L849.7 604.8L850.2 603.9L850.7 600.8L851.2 604.4L851.7 604L852.2 602.5L852.7 603.4L853.2 609L853.7 603.9L854.2 611L854.7 606.3L855.2 613.8L855.7 604.9L856.2 598.6L856.7 600.9L857.2 608.2L857.7 603.6L858.2 604.2L858.7 603.2L859.2 603.2L859.7 602.8L860.2 604.4L860.7 611.4L861.2 602.7L861.7 603.9L862.2 608.4L862.7 604.7L863.2 603.3L863.7 605.4L864.2 605.5L864.7 604L865.2 610.9L865.7 607L866.2 605.6L866.7 607.2L867.2 614.3L867.7 605.5L868.2 606.2L868.7 608.5L869.2 605.6L869.7 605L870.2 603.4L870.7 613.7L871.2 599.5L871.7 609.5L872.2 604.1L872.7 604.9L873.2 605L873.7 608L874.2 597.7L874.7 605.7L875.2 606L875.7 605.7L876.2 609.1L876.7 603.9L877.2 602.4L877.7 607L878.2 598.7L878.7 607.7L879.2 610.4L879.7 600.9L880.2 603.6L880.7 605L881.2 599.4L881.7 597.2L882.2 609.1L882.7 603.9L883.2 608.1L883.7 600.9L884.2 603.7L884.7 600.1L885.2 607.6L885.7 605.3L886.2 609.4L886.7 602.2L887.2 605.1L887.7 604.5L888.2 603.2L888.7 605.1L889.2 605.9L889.7 599.2L890.2 601.8L890.7 609.5L891.2 605.7L891.7 606.6L892.2 607.8L892.7 603.4L893.2 603.3L893.7 603L894.2 608.9L894.7 602.6L895.2 610.2L895.7 607.9L896.2 605L896.7 605.6L897.2 603.7L897.7 609.7L898.2 602.4L898.7 599L899.2 605.3L899.7 610.2L900.2 606.7L900.7 604L901.2 609.4L901.7 602.9L902.2 606L902.7 599.8L903.2 605.1L903.7 605.8L904.2 609.4L904.7 602.7L905.2 599L905.7 609.2L906.2 608L906.7 612.6L907.2 605.4L907.7 605.4L908.2 605.2L908.7 606.9L909.2 606.1L909.7 606.8L910.2 604.9L910.7 607.6L911.2 606.3L911.7 611.7L912.2 602.3L912.7 610.6L913.2 610L913.7 604.8L914.2 606.8L914.7 604.6L915.2 607.6L915.7 610.4L916.2 605.6L916.7 609.6L917.2 602.5L917.7 605.1L918.2 605.9L918.7 606.3L919.2 602.1L919.7 611.5L920.2 601.8L920.7 606.6L921.2 607.8L921.7 610L922.2 601.6L922.7 601.5L923.2 605L923.7 608.9L924.2 608.2L924.7 604.1L925.2 604.8L925.7 612.8L926.2 612.5L926.7 607L927.2 610.3L927.7 594.7L928.2 609L928.7 607.5L929.2 601.3L929.7 602L930.2 605.9L930.7 612.3L931.2 608.9L931.7 606.4L932.2 606L932.7 607.6L933.2 620L933.7 615L934.2 604.3L934.7 601.8L935.2 600.9L935.7 611.4L936.2 622L936.7 606.9L937.2 607.3L937.7 610L938.2 604.8L938.7 605.2L939.2 608.4L939.7 605.6L940.2 606L940.7 611L941.2 598.6L941.7 604.6L942.2 600L942.7 603.4L943.2 606.1L943.7 600L944.2 608.2L944.7 608.1L945.2 611.9L945.7 601.4L946.2 604.4L946.7 610.1L947.2 600.6L947.7 607.9L948.2 609.7L948.7 608L949.2 607L949.7 604.9L950.2 602.6L950.7 598.9L951.2 605.2L951.7 603.7L952.2 600.7L952.7 608.6L953.2 602.3L953.7 606L954.2 603L954.7 598.6L955.2 607.2L955.7 607L956.2 605.4L956.7 607.9L957.2 607.7L957.7 603.3L958.2 604.8L958.7 607.9L959.2 599.4L959.7 607.1L960.2 604.5L960.7 607.8L961.2 602.5L961.7 606.3L962.2 606.4L962.7 601L963.2 602.4L963.7 599.9L964.2 606.1L964.7 611L965.2 606.1L965.7 606.5L966.2 600.7L966.7 607.4L967.2 606.1L967.7 612.1L968.2 604.6L968.7 599.2L969.2 607.1L969.7 603.4L970.2 608.9L970.7 600.1L971.2 607.1L971.7 608.7L972.2 601L972.7 602.2L973.2 600.8L973.7 610.9L974.2 601.5L974.7 607.7L975.2 607.3L975.7 605.9L976.2 605L976.7 600.8L977.2 610.7L977.7 612.6L978.2 607.3L978.7 602.8L979.2 613.1L979.7 601.5L980.2 603.8L980.7 600.2L981.2 604.7L981.7 607.6L982.2 608.4L982.7 603.2L983.2 599.1L983.7 614L984.2 618.1L984.7 608.2L985.2 610.2L985.7 606.9L986.2 604.4L986.7 610.1L987.2 613.1L987.7 604.5L988.2 602.1L988.7 610L989.2 605.8L989.7 609.3L990.2 604.1L990.7 617.8L991.2 612.5L991.7 601.7L992.2 613.5L992.7 605.5L993.2 605.7L993.7 599.7L994.2 608.1L994.7 607.6L995.2 598.4L995.7 610.5L996.2 597.8L996.7 610.3L997.2 601.3L997.7 600.5L998.2 609.3L998.7 606L999.2 604.6L999.7 604.2L1000.2 601.6L1000.7 611.3L1001.2 602.6L1001.7 599.9L1002.2 602.2L1002.7 605.8L1003.2 623L1003.7 605.9L1004.2 604.4L1004.7 605.6L1005.2 602.8L1005.7 603.4L1006.2 603.6L1006.7 597.8L1007.2 604L1007.7 606.4L1008.2 597.8L1008.7 607.3L1009.2 606.4L1009.7 607.5L1010.2 604.1L1010.7 610.9L1011.2 615.5L1011.7 603.2L1012.2 604.9L1012.7 601.7L1013.2 606.5L1013.7 611.1L1014.2 602.7L1014.7 596.5L1015.2 605.3L1015.7 600.4L1016.2 603.7L1016.7 607.7L1017.2 607.7L1017.7 606.8L1018.2 602.7L1018.7 604.3L1019.2 617.1L1019.7 604.8L1020.2 606.8L1020.7 606.2L1021.2 603.3L1021.7 603.4L1022.2 596.9L1022.7 605.7L1023.2 603L1023.7 602.7L1024.2 613L1024.7 607.8L1025.2 601.4L1025.7 605.3L1026.2 602.5L1026.7 603.1L1027.2 603.9L1027.7 609.8L1028.2 594.8L1028.7 603.8L1029.2 600.7L1029.7 604.9L1030.2 607.9L1030.7 605.5L1031.2 605.4L1031.7 605.4L1032.2 607.9L1032.7 598.1L1033.2 603.5L1033.7 607L1034.2 609.3L1034.7 608.1L1035.2 604.1L1035.7 601.9L1036.2 608.7L1036.7 607.3L1037.2 605.2L1037.7 612.7L1038.2 610.6L1038.7 588.6L1039.2 602.8L1039.7 602.4L1040.2 602.3L1040.7 605.6L1041.2 601.1L1041.7 606.9L1042.2 599.8L1042.7 599.5L1043.2 600.9L1043.7 606.6L1044.2 605.8L1044.7 602.8L1045.2 607.4L1045.7 606.2L1046.2 594.1L1046.7 611.4L1047.2 606.9L1047.7 606.1L1048.2 606L1048.7 611.9L1049.2 598.5L1049.7 601.9L1050.2 603.7L1050.7 604.8L1051.2 601.2L1051.7 602.6L1052.2 603.4L1052.7 612.2L1053.2 610.5L1053.7 606L1054.2 603.8L1054.7 603.7L1055.2 608.6L1055.7 601.8L1056.2 608.2L1056.7 605.1L1057.2 606.9L1057.7 605.5L1058.2 602.4L1058.7 603L1059.2 608L1059.7 607.3L1060.2 601.6L1060.7 604.2L1061.2 600.5L1061.7 601.7L1062.2 611.3L1062.7 608.8L1063.2 605.2L1063.7 608.5L1064.2 604L1064.7 599.3L1065.2 601.5L1065.7 599.2L1066.2 605.2L1066.7 611.1L1067.2 600.6L1067.7 605.2L1068.2 601.3L1068.7 607L1069.2 603.7L1069.7 601.8L1070.2 602.5L1070.7 606L1071.2 602.8L1071.7 602.5L1072.2 605.3L1072.7 606.8L1073.2 608L1073.7 608.7L1074.2 605.4L1074.7 606.3L1075.2 607.4L1075.7 606.3L1076.2 607.1L1076.7 606.5L1077.2 610L1077.7 601L1078.2 608L1078.7 602.4L1079.2 609.6L1079.7 609.3L1080.2 607.1L1080.7 605.9L1081.2 600.5L1081.7 607.2L1082.2 611.2L1082.7 599.8L1083.2 598.2L1083.7 608.1L1084.2 610.1L1084.7 606.1L1085.2 603.8L1085.7 597.6L1086.2 605.2L1086.7 606.1L1087.2 611.5L1087.7 601.8L1088.2 606.8L1088.7 602.6L1089.2 605.9L1089.7 609.4L1090.2 604.3L1090.7 604.7L1091.2 609.2L1091.7 602.2L1092.2 620L1092.7 610.8L1093.2 606L1093.7 606.4L1094.2 605.6L1094.7 605.6L1095.2 603.3L1095.7 605.6L1096.2 600.4L1096.7 603.1L1097.2 606.2L1097.7 603.8L1098.2 605.1L1098.7 609.3L1099.2 605.2L1099.7 606.9L1100.2 605L1100.7 608L1101.2 609.5L1101.7 609.3L1102.2 597.7L1102.7 599.8L1103.2 606.4L1103.7 607L1104.2 608L1104.7 605.7L1105.2 604.1L1105.7 605.4L1106.2 605.2L1106.7 603.7L1107.2 608.3L1107.7 606.5L1108.2 604.3L1108.7 610.8L1109.2 611.4L1109.7 608.1L1110.2 603.1L1110.7 605L1111.2 607L1111.7 602.9L1112.2 606.8L1112.7 602.6L1113.2 603.7L1113.7 608.7L1114.2 601.4L1114.7 604.6L1115.2 609.6L1115.7 603.2L1116.2 607.2L1116.7 603.9L1117.2 604.2L1117.7 607.6L1118.2 604.5L1118.7 604.9L1119.2 608.5L1119.7 601.6L1120.2 607.2L1120.7 607.8L1121.2 599.7L1121.7 604.6" stroke="#ff1428" stroke-width="1.1" stroke-linejoin="round"/>
<path d="M669.2 683.1L669.7 681.9L670.2 682.2L670.7 682.7L671.2 677.9L671.7 681.3L672.2 681.9L672.7 677.2L673.2 679.7L673.7 680L674.2 680.6L674.7 678.1L675.2 679.7L675.7 684.3L676.2 684.2L676.7 679.8L677.2 684.5L677.7 678.5L678.2 676.9L678.7 681.5L679.2 679L679.7 677.4L680.2 677L680.7 683.2L681.2 680.3L681.7 677.6L682.2 679.8L682.7 680.5L683.2 676.4L683.7 682.3L684.2 686.3L684.7 676.6L685.2 684.1L685.7 680L686.2 681L686.7 682.2L687.2 678.2L687.7 677.7L688.2 678.4L688.7 677.4L689.2 680.8L689.7 680.1L690.2 682.2L690.7 684.5L691.2 681.6L691.7 678.9L692.2 679.4L692.7 680.3L693.2 678.2L693.7 680.6L694.2 682L694.7 680.3L695.2 679L695.7 679.3L696.2 678.3L696.7 680.2L697.2 681L697.7 679.9L698.2 681.4L698.7 681.9L699.2 682.2L699.7 681.5L700.2 684.9L700.7 680.8L701.2 678.8L701.7 680L702.2 682.2L702.7 676.3L703.2 676.9L703.7 680.7L704.2 681.8L704.7 681L705.2 683.5L705.7 680.3L706.2 678.5L706.7 682.4L707.2 678.7L707.7 686.2L708.2 679.8L708.7 680.6L709.2 680.7L709.7 681.1L710.2 681L710.7 679.5L711.2 682.2L711.7 681.8L712.2 680.2L712.7 682.3L713.2 676.1L713.7 678.5L714.2 680.9L714.7 678.1L715.2 678.4L715.7 679.5L716.2 681.6L716.7 677.9L717.2 680.1L717.7 681.8L718.2 680.4L718.7 678.9L719.2 678.7L719.7 680.3L720.2 678.5L720.7 678L721.2 677.5L721.7 678.9L722.2 680.9L722.7 682.5L723.2 679.5L723.7 682.9L724.2 682.7L724.7 682.2L725.2 679.9L725.7 679.9L726.2 681L726.7 677.9L727.2 682.2L727.7 682.8L728.2 678.2L728.7 678.9L729.2 679.5L729.7 680.5L730.2 680.1L730.7 680.8L731.2 665.1L731.7 678.5L732.2 679.8L732.7 681.4L733.2 677.4L733.7 677.9L734.2 681.4L734.7 678.1L735.2 679.1L735.7 678.1L736.2 679.5L736.7 679.5L737.2 678.2L737.7 684.2L738.2 673.2L738.7 678.7L739.2 681.1L739.7 681.6L740.2 679.9L740.7 678.3L741.2 679L741.7 680.7L742.2 679.5L742.7 679.3L743.2 678.5L743.7 681.5L744.2 678.3L744.7 684.7L745.2 679.9L745.7 682.3L746.2 679.9L746.7 686.6L747.2 675.9L747.7 681.6L748.2 678L748.7 685.3L749.2 679.5L749.7 677.1L750.2 681.1L750.7 678.9L751.2 679.4L751.7 678.8L752.2 678.8L752.7 678.6L753.2 680.6L753.7 679.2L754.2 680.2L754.7 680L755.2 679.9L755.7 679.2L756.2 678.8L756.7 680.1L757.2 679.6L757.7 680L758.2 680.5L758.7 679.6L759.2 680.7L759.7 680.7L760.2 679.2L760.7 679.4L761.2 680.7L761.7 679L762.2 679.7L762.7 679.4L763.2 680.4L763.7 679.8L764.2 679.1L764.7 680L765.2 680.2L765.7 679.7L766.2 681.5L766.7 680.4L767.2 679.3L767.7 679.7L768.2 680.4L768.7 681.7L769.2 681.8L769.7 679.8L770.2 680.3L770.7 679.5L771.2 679.4L771.7 679.7L772.2 680.5L772.7 679.5L773.2 680.5L773.7 683L774.2 680.4L774.7 680.3L775.2 679L775.7 678.9L776.2 680.2L776.7 679.3L777.2 679.7L777.7 680.4L778.2 679.4L778.7 680L779.2 679.7L779.7 680.9L780.2 680.8L780.7 679.8L781.2 679.7L781.7 679.8L782.2 668.8L782.7 681.8L783.2 680.8L783.7 679.4L784.2 680.9L784.7 680.4L785.2 679L785.7 679.7L786.2 679.8L786.7 681L787.2 680.5L787.7 680.2L788.2 679.6L788.7 678.3L789.2 681.8L789.7 680.5L790.2 680.4L790.7 680.7L791.2 679.1L791.7 680.4L792.2 678.4L792.7 681L793.2 678.6L793.7 679L794.2 680.8L794.7 678.6L795.2 668.3L795.7 677.4L796.2 680.3L796.7 679L797.2 679.8L797.7 682.1L798.2 681L798.7 685.1L799.2 678.8L799.7 680.8L800.2 678.4L800.7 681.5L801.2 681.5L801.7 678.3L802.2 679.8L802.7 682.3L803.2 681.3L803.7 681.8L804.2 666.6L804.7 679.6L805.2 678.4L805.7 678.3L806.2 682.3L806.7 679.5L807.2 681.1L807.7 670.7L808.2 680L808.7 679.7L809.2 679.2L809.7 676.9L810.2 681L810.7 678.4L811.2 680.7L811.7 677.6L812.2 679.7L812.7 676.7L813.2 658.1L813.7 678.7L814.2 681.7L814.7 679.3L815.2 681.4L815.7 680.9L816.2 676.9L816.7 677.6L817.2 680.9L817.7 679.2L818.2 680.9L818.7 679.9L819.2 679.3L819.7 680.9L820.2 681.5L820.7 677.6L821.2 678.5L821.7 666.6L822.2 678.5L822.7 675L823.2 688.5L823.7 681.1L824.2 681.7L824.7 679.9L825.2 679.9L825.7 677.8L826.2 681.6L826.7 677.9L827.2 679.7L827.7 681.7L828.2 681L828.7 681.5L829.2 680.3L829.7 678.2L830.2 680.5L830.7 682.7L831.2 678.5L831.7 681.4L832.2 679.8L832.7 682.3L833.2 681.9L833.7 681.3L834.2 678.5L834.7 680.1L835.2 682.2L835.7 679.9L836.2 679.7L836.7 679.1L837.2 682L837.7 679.9L838.2 678.7L838.7 679.8L839.2 679.5L839.7 676.8L840.2 678.3L840.7 678.2L841.2 680L841.7 679.1L842.2 680.1L842.7 677.6L843.2 679.8L843.7 680.7L844.2 679.9L844.7 679.3L845.2 678.3L845.7 679.2L846.2 680.5L846.7 680.2L847.2 681.5L847.7 684.5L848.2 681.8L848.7 680.8L849.2 677.9L849.7 679.2L850.2 678L850.7 680.2L851.2 682.6L851.7 683L852.2 681.3L852.7 680L853.2 679L853.7 678.3L854.2 680.5L854.7 664.4L855.2 681.8L855.7 679.2L856.2 678.6L856.7 682.2L857.2 677.1L857.7 679.4L858.2 678.7L858.7 677.3L859.2 672.6L859.7 677.9L860.2 677.3L860.7 679.1L861.2 682.7L861.7 681.2L862.2 680.8L862.7 679L863.2 677L863.7 688.5L864.2 679.2L864.7 682.4L865.2 678.7L865.7 680L866.2 682.5L866.7 681.5L867.2 678.8L867.7 679.6L868.2 677.8L868.7 680.6L869.2 677.6L869.7 680L870.2 678.6L870.7 680.4L871.2 682.3L871.7 681.3L872.2 677.2L872.7 679.1L873.2 678.4L873.7 678.4L874.2 681.6L874.7 682.3L875.2 683L875.7 681.4L876.2 677.1L876.7 679.6L877.2 680.3L877.7 677.8L878.2 681.1L878.7 681.9L879.2 679L879.7 681.3L880.2 679.2L880.7 679.1L881.2 679.2L881.7 680.5L882.2 681.1L882.7 677.2L883.2 680.3L883.7 679.1L884.2 675.9L884.7 681.1L885.2 681.9L885.7 677.2L886.2 680.6L886.7 669.5L887.2 680L887.7 677.3L888.2 675L888.7 676.1L889.2 677.7L889.7 680L890.2 682.1L890.7 681.3L891.2 681L891.7 679.6L892.2 679.5L892.7 680.4L893.2 681.5L893.7 680.8L894.2 682.6L894.7 681.1L895.2 679.5L895.7 679.5L896.2 680L896.7 680.5L897.2 680.3L897.7 677.2L898.2 680.3L898.7 677.5L899.2 676.9L899.7 681.4L900.2 680.1L900.7 678L901.2 680.6L901.7 682.2L902.2 679.8L902.7 681.6L903.2 682.9L903.7 678.6L904.2 678L904.7 678.7L905.2 679.8L905.7 679L906.2 682.2L906.7 681.3L907.2 688L907.7 678.9L908.2 680.2L908.7 682.1L909.2 681.2L909.7 684L910.2 680.6L910.7 677.3L911.2 679L911.7 681.5L912.2 681.9L912.7 677.5L913.2 679.4L913.7 680.3L914.2 682.2L914.7 682.6L915.2 680.3L915.7 678.2L916.2 679.4L916.7 682.8L917.2 678.2L917.7 680.7L918.2 680L918.7 677.8L919.2 682.2L919.7 679L920.2 681.2L920.7 679.6L921.2 684.4L921.7 680.8L922.2 676.2L922.7 677.2L923.2 679.1L923.7 665.1L924.2 677.8L924.7 680.1L925.2 694.4L925.7 679.3L926.2 683.3L926.7 681.5L927.2 683.1L927.7 676.6L928.2 681.3L928.7 678L929.2 678.1L929.7 679.7L930.2 675.4L930.7 679.4L931.2 684.7L931.7 684.5L932.2 682.4L932.7 657.1L933.2 676.8L933.7 685.1L934.2 681.5L934.7 679.1L935.2 676.9L935.7 682L936.2 684.3L936.7 671L937.2 686.7L937.7 685.2L938.2 671.7L938.7 684.5L939.2 679.5L939.7 675.6L940.2 680.8L940.7 678.2L941.2 658.5L941.7 692.1L942.2 669.9L942.7 676.2L943.2 681.4L943.7 661.5L944.2 678.5L944.7 682L945.2 684.9L945.7 678.9L946.2 681.1L946.7 678L947.2 680.3L947.7 682.5L948.2 676.9L948.7 684.5L949.2 679.6L949.7 688.1L950.2 677.9L950.7 656.3L951.2 677.9L951.7 679.1L952.2 683L952.7 678.4L953.2 682.4L953.7 677.5L954.2 682.2L954.7 679.7L955.2 685.8L955.7 690L956.2 690.5L956.7 687.7L957.2 673.5L957.7 677.8L958.2 677.9L958.7 679.7L959.2 677L959.7 681.8L960.2 657.1L960.7 683.3L961.2 684.1L961.7 675L962.2 677.5L962.7 675.3L963.2 682.7L963.7 685.5L964.2 673.9L964.7 676.1L965.2 682.4L965.7 679.1L966.2 678.2L966.7 680.3L967.2 680.5L967.7 678.6L968.2 679.3L968.7 686.3L969.2 681.5L969.7 679.1L970.2 681.9L970.7 682.1L971.2 683.8L971.7 680.6L972.2 678.7L972.7 633.3L973.2 683.7L973.7 675.8L974.2 685.1L974.7 684.8L975.2 683.1L975.7 681L976.2 664.9L976.7 681.1L977.2 678.9L977.7 682.6L978.2 681.1L978.7 683.3L979.2 679.1L979.7 679.3L980.2 680.5L980.7 685.9L981.2 682.3L981.7 677.7L982.2 701.7L982.7 678.3L983.2 675.1L983.7 677L984.2 676.3L984.7 660L985.2 697.3L985.7 669.7L986.2 674.3L986.7 669.6L987.2 673.7L987.7 676.5L988.2 672.3L988.7 669.3L989.2 674.5L989.7 671.3L990.2 672.6L990.7 678.4L991.2 673L991.7 672.2L992.2 672.3L992.7 672.6L993.2 673.6L993.7 676L994.2 668.4L994.7 675.2L995.2 691.5L995.7 672L996.2 668.6L996.7 669.3L997.2 669L997.7 668.7L998.2 664L998.7 667L999.2 668.5L999.7 672.9L1000.2 672.5L1000.7 680L1001.2 674.9L1001.7 674.8L1002.2 679.5L1002.7 675.7L1003.2 677.6L1003.7 677L1004.2 681.7L1004.7 681.8L1005.2 679.2L1005.7 682.6L1006.2 680.6L1006.7 682.7L1007.2 680.2L1007.7 682.9L1008.2 679.5L1008.7 676.6L1009.2 680.9L1009.7 684.1L1010.2 688.7L1010.7 681.1L1011.2 680.5L1011.7 680.2L1012.2 677.6L1012.7 680L1013.2 677.1L1013.7 680.6L1014.2 681.4L1014.7 680.3L1015.2 681L1015.7 679.8L1016.2 681.5L1016.7 681L1017.2 677.9L1017.7 677.1L1018.2 679.8L1018.7 680.4L1019.2 679.4L1019.7 680.6L1020.2 680.1L1020.7 677.8L1021.2 680.4L1021.7 665.1L1022.2 681.3L1022.7 677.3L1023.2 681.4L1023.7 680.3L1024.2 679.6L1024.7 681.5L1025.2 680.1L1025.7 677.7L1026.2 680L1026.7 674.7L1027.2 682.5L1027.7 679.5L1028.2 681.6L1028.7 686.6L1029.2 675.9L1029.7 676.4L1030.2 675.9L1030.7 678.4L1031.2 677.5L1031.7 677.4L1032.2 682.5L1032.7 685.5L1033.2 685.9L1033.7 681.1L1034.2 681L1034.7 678L1035.2 681.2L1035.7 677.4L1036.2 673.7L1036.7 684.2L1037.2 678.8L1037.7 675L1038.2 679.1L1038.7 680L1039.2 678.4L1039.7 681.6L1040.2 680.2L1040.7 678.3L1041.2 678.8L1041.7 660.7L1042.2 679.6L1042.7 677.3L1043.2 678.8L1043.7 679.8L1044.2 680.4L1044.7 678L1045.2 675.7L1045.7 686.6L1046.2 683.7L1046.7 678.5L1047.2 677L1047.7 677.3L1048.2 679.3L1048.7 679.3L1049.2 688.8L1049.7 660L1050.2 680.7L1050.7 682.5L1051.2 681.7L1051.7 659.3L1052.2 675.8L1052.7 685L1053.2 678.8L1053.7 686.6L1054.2 698.8L1054.7 685.1L1055.2 689.7L1055.7 688.2L1056.2 687.8L1056.7 696.9L1057.2 683.6L1057.7 694.4L1058.2 688.7L1058.7 690.5L1059.2 692.9L1059.7 685.2L1060.2 688.2L1060.7 686.8L1061.2 705.6L1061.7 689.2L1062.2 695.2L1062.7 689.2L1063.2 694.2L1063.7 687.8L1064.2 704.6L1064.7 687.9L1065.2 688.7L1065.7 694.3L1066.2 685.9L1066.7 694.4L1067.2 691.1L1067.7 688.9L1068.2 690.6L1068.7 692.4L1069.2 697.3L1069.7 691.8L1070.2 684.3L1070.7 677.6L1071.2 674L1071.7 670.1L1072.2 673.7L1072.7 675.8L1073.2 678.2L1073.7 679.4L1074.2 676.8L1074.7 665.2L1075.2 660.7L1075.7 670.8L1076.2 674.2L1076.7 672.3L1077.2 672.8L1077.7 669.1L1078.2 673.8L1078.7 670.1L1079.2 670.6L1079.7 686.2L1080.2 679.9L1080.7 671.5L1081.2 666.7L1081.7 673.8L1082.2 671.8L1082.7 674.9L1083.2 657.5L1083.7 671.2L1084.2 673.9L1084.7 674.1L1085.2 667.2L1085.7 677.7L1086.2 675.8L1086.7 673.2L1087.2 673.8L1087.7 664.4L1088.2 671L1088.7 669.4L1089.2 676.3L1089.7 672L1090.2 674.2L1090.7 675.3L1091.2 676.5L1091.7 673.5L1092.2 670.6L1092.7 680L1093.2 680.1L1093.7 676.9L1094.2 683.6L1094.7 681.1L1095.2 678.8L1095.7 682.6L1096.2 680.4L1096.7 686.7L1097.2 681.4L1097.7 684.6L1098.2 683.7L1098.7 686.4L1099.2 683.2L1099.7 685.9L1100.2 685.7L1100.7 683.8L1101.2 684.2L1101.7 683.2L1102.2 681.6L1102.7 683.9L1103.2 665.9L1103.7 680.4L1104.2 676.9L1104.7 679.3L1105.2 682.1L1105.7 680L1106.2 677.3L1106.7 677.2L1107.2 678.9L1107.7 679L1108.2 678.5L1108.7 675.9L1109.2 677.3L1109.7 678.5L1110.2 677.9L1110.7 677.4L1111.2 677L1111.7 678.1L1112.2 678L1112.7 680.7L1113.2 678.1L1113.7 679.5L1114.2 681.2L1114.7 678.9L1115.2 677.7L1115.7 678.5L1116.2 681.5L1116.7 681L1117.2 680.2L1117.7 680.1L1118.2 676.4L1118.7 680.9L1119.2 679.7L1119.7 680.1L1120.2 681.9L1120.7 677.6L1121.2 679.4L1121.7 680.5" stroke="#0c0c0c" stroke-width="1.1" stroke-linejoin="round"/>
<rect x="71.5" y="33.4" width="454" height="134.6" fill="none" stroke="#000" stroke-width="1.5"/>
<path d="M137.3 33.4v10.5M137.3 168v-10.5M219.9 33.4v10.5M219.9 168v-10.5M302.5 33.4v10.5M302.5 168v-10.5M385 33.4v10.5M385 168v-10.5M467.6 33.4v10.5M467.6 168v-10.5" stroke="#3c3c3c" stroke-width="1.3"/>
<path d="M75.4 33.4v4M75.4 168v-4M96 33.4v4M96 168v-4M116.7 33.4v4M116.7 168v-4M157.9 33.4v4M157.9 168v-4M178.6 33.4v4M178.6 168v-4M199.2 33.4v4M199.2 168v-4M240.5 33.4v4M240.5 168v-4M261.2 33.4v4M261.2 168v-4M281.8 33.4v4M281.8 168v-4M323.1 33.4v4M323.1 168v-4M343.8 33.4v4M343.8 168v-4M364.4 33.4v4M364.4 168v-4M405.7 33.4v4M405.7 168v-4M426.3 33.4v4M426.3 168v-4M447 33.4v4M447 168v-4M488.3 33.4v4M488.3 168v-4M508.9 33.4v4M508.9 168v-4" stroke="#444" stroke-width="1.1"/>
<rect x="71.5" y="176.4" width="454" height="68.3" fill="none" stroke="#000" stroke-width="1.5"/>
<path d="M137.3 176.4v10.5M137.3 244.8v-10.5M219.9 176.4v10.5M219.9 244.8v-10.5M302.5 176.4v10.5M302.5 244.8v-10.5M385 176.4v10.5M385 244.8v-10.5M467.6 176.4v10.5M467.6 244.8v-10.5" stroke="#3c3c3c" stroke-width="1.3"/>
<path d="M75.4 176.4v4M75.4 244.8v-4M96 176.4v4M96 244.8v-4M116.7 176.4v4M116.7 244.8v-4M157.9 176.4v4M157.9 244.8v-4M178.6 176.4v4M178.6 244.8v-4M199.2 176.4v4M199.2 244.8v-4M240.5 176.4v4M240.5 244.8v-4M261.2 176.4v4M261.2 244.8v-4M281.8 176.4v4M281.8 244.8v-4M323.1 176.4v4M323.1 244.8v-4M343.8 176.4v4M343.8 244.8v-4M364.4 176.4v4M364.4 244.8v-4M405.7 176.4v4M405.7 244.8v-4M426.3 176.4v4M426.3 244.8v-4M447 176.4v4M447 244.8v-4M488.3 176.4v4M488.3 244.8v-4M508.9 176.4v4M508.9 244.8v-4" stroke="#444" stroke-width="1.1"/>
<rect x="71.5" y="244.8" width="454" height="68.4" fill="none" stroke="#000" stroke-width="1.5"/>
<path d="M137.3 244.8v10.5M137.3 313.1v-10.5M219.9 244.8v10.5M219.9 313.1v-10.5M302.5 244.8v10.5M302.5 313.1v-10.5M385 244.8v10.5M385 313.1v-10.5M467.6 244.8v10.5M467.6 313.1v-10.5" stroke="#3c3c3c" stroke-width="1.3"/>
<path d="M75.4 244.8v4M75.4 313.1v-4M96 244.8v4M96 313.1v-4M116.7 244.8v4M116.7 313.1v-4M157.9 244.8v4M157.9 313.1v-4M178.6 244.8v4M178.6 313.1v-4M199.2 244.8v4M199.2 313.1v-4M240.5 244.8v4M240.5 313.1v-4M261.2 244.8v4M261.2 313.1v-4M281.8 244.8v4M281.8 313.1v-4M323.1 244.8v4M323.1 313.1v-4M343.8 244.8v4M343.8 313.1v-4M364.4 244.8v4M364.4 313.1v-4M405.7 244.8v4M405.7 313.1v-4M426.3 244.8v4M426.3 313.1v-4M447 244.8v4M447 313.1v-4M488.3 244.8v4M488.3 313.1v-4M508.9 244.8v4M508.9 313.1v-4" stroke="#444" stroke-width="1.1"/>
<rect x="71.5" y="313.1" width="454" height="68.3" fill="none" stroke="#000" stroke-width="1.5"/>
<path d="M137.3 313.1v10.5M137.3 381.4v-10.5M219.9 313.1v10.5M219.9 381.4v-10.5M302.5 313.1v10.5M302.5 381.4v-10.5M385 313.1v10.5M385 381.4v-10.5M467.6 313.1v10.5M467.6 381.4v-10.5" stroke="#3c3c3c" stroke-width="1.3"/>
<path d="M75.4 313.1v4M75.4 381.4v-4M96 313.1v4M96 381.4v-4M116.7 313.1v4M116.7 381.4v-4M157.9 313.1v4M157.9 381.4v-4M178.6 313.1v4M178.6 381.4v-4M199.2 313.1v4M199.2 381.4v-4M240.5 313.1v4M240.5 381.4v-4M261.2 313.1v4M261.2 381.4v-4M281.8 313.1v4M281.8 381.4v-4M323.1 313.1v4M323.1 381.4v-4M343.8 313.1v4M343.8 381.4v-4M364.4 313.1v4M364.4 381.4v-4M405.7 313.1v4M405.7 381.4v-4M426.3 313.1v4M426.3 381.4v-4M447 313.1v4M447 381.4v-4M488.3 313.1v4M488.3 381.4v-4M508.9 313.1v4M508.9 381.4v-4" stroke="#444" stroke-width="1.1"/>
<rect x="71.5" y="381.4" width="454" height="68.3" fill="none" stroke="#000" stroke-width="1.5"/>
<path d="M137.3 381.4v10.5M137.3 449.8v-10.5M219.9 381.4v10.5M219.9 449.8v-10.5M302.5 381.4v10.5M302.5 449.8v-10.5M385 381.4v10.5M385 449.8v-10.5M467.6 381.4v10.5M467.6 449.8v-10.5" stroke="#3c3c3c" stroke-width="1.3"/>
<path d="M75.4 381.4v4M75.4 449.8v-4M96 381.4v4M96 449.8v-4M116.7 381.4v4M116.7 449.8v-4M157.9 381.4v4M157.9 449.8v-4M178.6 381.4v4M178.6 449.8v-4M199.2 381.4v4M199.2 449.8v-4M240.5 381.4v4M240.5 449.8v-4M261.2 381.4v4M261.2 449.8v-4M281.8 381.4v4M281.8 449.8v-4M323.1 381.4v4M323.1 449.8v-4M343.8 381.4v4M343.8 449.8v-4M364.4 381.4v4M364.4 449.8v-4M405.7 381.4v4M405.7 449.8v-4M426.3 381.4v4M426.3 449.8v-4M447 381.4v4M447 449.8v-4M488.3 381.4v4M488.3 449.8v-4M508.9 381.4v4M508.9 449.8v-4" stroke="#444" stroke-width="1.1"/>
<rect x="71.5" y="449.8" width="454" height="68.4" fill="none" stroke="#000" stroke-width="1.5"/>
<path d="M137.3 449.8v10.5M137.3 518.1v-10.5M219.9 449.8v10.5M219.9 518.1v-10.5M302.5 449.8v10.5M302.5 518.1v-10.5M385 449.8v10.5M385 518.1v-10.5M467.6 449.8v10.5M467.6 518.1v-10.5" stroke="#3c3c3c" stroke-width="1.3"/>
<path d="M75.4 449.8v4M75.4 518.1v-4M96 449.8v4M96 518.1v-4M116.7 449.8v4M116.7 518.1v-4M157.9 449.8v4M157.9 518.1v-4M178.6 449.8v4M178.6 518.1v-4M199.2 449.8v4M199.2 518.1v-4M240.5 449.8v4M240.5 518.1v-4M261.2 449.8v4M261.2 518.1v-4M281.8 449.8v4M281.8 518.1v-4M323.1 449.8v4M323.1 518.1v-4M343.8 449.8v4M343.8 518.1v-4M364.4 449.8v4M364.4 518.1v-4M405.7 449.8v4M405.7 518.1v-4M426.3 449.8v4M426.3 518.1v-4M447 449.8v4M447 518.1v-4M488.3 449.8v4M488.3 518.1v-4M508.9 449.8v4M508.9 518.1v-4" stroke="#444" stroke-width="1.1"/>
<rect x="71.5" y="518.1" width="454" height="68.4" fill="none" stroke="#000" stroke-width="1.5"/>
<path d="M137.3 518.1v10.5M137.3 586.5v-10.5M219.9 518.1v10.5M219.9 586.5v-10.5M302.5 518.1v10.5M302.5 586.5v-10.5M385 518.1v10.5M385 586.5v-10.5M467.6 518.1v10.5M467.6 586.5v-10.5" stroke="#3c3c3c" stroke-width="1.3"/>
<path d="M75.4 518.1v4M75.4 586.5v-4M96 518.1v4M96 586.5v-4M116.7 518.1v4M116.7 586.5v-4M157.9 518.1v4M157.9 586.5v-4M178.6 518.1v4M178.6 586.5v-4M199.2 518.1v4M199.2 586.5v-4M240.5 518.1v4M240.5 586.5v-4M261.2 518.1v4M261.2 586.5v-4M281.8 518.1v4M281.8 586.5v-4M323.1 518.1v4M323.1 586.5v-4M343.8 518.1v4M343.8 586.5v-4M364.4 518.1v4M364.4 586.5v-4M405.7 518.1v4M405.7 586.5v-4M426.3 518.1v4M426.3 586.5v-4M447 518.1v4M447 586.5v-4M488.3 518.1v4M488.3 586.5v-4M508.9 518.1v4M508.9 586.5v-4" stroke="#444" stroke-width="1.1"/>
<rect x="71.5" y="586.5" width="454" height="68.3" fill="none" stroke="#000" stroke-width="1.5"/>
<path d="M137.3 586.5v10.5M137.3 654.8v-10.5M219.9 586.5v10.5M219.9 654.8v-10.5M302.5 586.5v10.5M302.5 654.8v-10.5M385 586.5v10.5M385 654.8v-10.5M467.6 586.5v10.5M467.6 654.8v-10.5" stroke="#3c3c3c" stroke-width="1.3"/>
<path d="M75.4 586.5v4M75.4 654.8v-4M96 586.5v4M96 654.8v-4M116.7 586.5v4M116.7 654.8v-4M157.9 586.5v4M157.9 654.8v-4M178.6 586.5v4M178.6 654.8v-4M199.2 586.5v4M199.2 654.8v-4M240.5 586.5v4M240.5 654.8v-4M261.2 586.5v4M261.2 654.8v-4M281.8 586.5v4M281.8 654.8v-4M323.1 586.5v4M323.1 654.8v-4M343.8 586.5v4M343.8 654.8v-4M364.4 586.5v4M364.4 654.8v-4M405.7 586.5v4M405.7 654.8v-4M426.3 586.5v4M426.3 654.8v-4M447 586.5v4M447 654.8v-4M488.3 586.5v4M488.3 654.8v-4M508.9 586.5v4M508.9 654.8v-4" stroke="#444" stroke-width="1.1"/>
<rect x="71.5" y="654.8" width="454" height="68.4" fill="none" stroke="#000" stroke-width="1.5"/>
<path d="M137.3 654.8v10.5M137.3 723.2v-10.5M219.9 654.8v10.5M219.9 723.2v-10.5M302.5 654.8v10.5M302.5 723.2v-10.5M385 654.8v10.5M385 723.2v-10.5M467.6 654.8v10.5M467.6 723.2v-10.5" stroke="#3c3c3c" stroke-width="1.3"/>
<path d="M75.4 654.8v4M75.4 723.2v-4M96 654.8v4M96 723.2v-4M116.7 654.8v4M116.7 723.2v-4M157.9 654.8v4M157.9 723.2v-4M178.6 654.8v4M178.6 723.2v-4M199.2 654.8v4M199.2 723.2v-4M240.5 654.8v4M240.5 723.2v-4M261.2 654.8v4M261.2 723.2v-4M281.8 654.8v4M281.8 723.2v-4M323.1 654.8v4M323.1 723.2v-4M343.8 654.8v4M343.8 723.2v-4M364.4 654.8v4M364.4 723.2v-4M405.7 654.8v4M405.7 723.2v-4M426.3 654.8v4M426.3 723.2v-4M447 654.8v4M447 723.2v-4M488.3 654.8v4M488.3 723.2v-4M508.9 654.8v4M508.9 723.2v-4" stroke="#444" stroke-width="1.1"/>
<rect x="668.6" y="41.8" width="453.9" height="73.8" fill="none" stroke="#000" stroke-width="1.5"/>
<path d="M734.4 41.8v10.5M734.4 115.6v-10.5M817 41.8v10.5M817 115.6v-10.5M899.5 41.8v10.5M899.5 115.6v-10.5M982.1 41.8v10.5M982.1 115.6v-10.5M1064.7 41.8v10.5M1064.7 115.6v-10.5" stroke="#3c3c3c" stroke-width="1.3"/>
<path d="M672.5 41.8v4M672.5 115.6v-4M693.1 41.8v4M693.1 115.6v-4M713.8 41.8v4M713.8 115.6v-4M755 41.8v4M755 115.6v-4M775.7 41.8v4M775.7 115.6v-4M796.3 41.8v4M796.3 115.6v-4M837.6 41.8v4M837.6 115.6v-4M858.3 41.8v4M858.3 115.6v-4M878.9 41.8v4M878.9 115.6v-4M920.2 41.8v4M920.2 115.6v-4M940.8 41.8v4M940.8 115.6v-4M961.5 41.8v4M961.5 115.6v-4M1002.8 41.8v4M1002.8 115.6v-4M1023.4 41.8v4M1023.4 115.6v-4M1044 41.8v4M1044 115.6v-4M1085.3 41.8v4M1085.3 115.6v-4M1106 41.8v4M1106 115.6v-4" stroke="#444" stroke-width="1.1"/>
<rect x="668.6" y="115.6" width="453.9" height="73.8" fill="none" stroke="#000" stroke-width="1.5"/>
<path d="M734.4 115.6v10.5M734.4 189.5v-10.5M817 115.6v10.5M817 189.5v-10.5M899.5 115.6v10.5M899.5 189.5v-10.5M982.1 115.6v10.5M982.1 189.5v-10.5M1064.7 115.6v10.5M1064.7 189.5v-10.5" stroke="#3c3c3c" stroke-width="1.3"/>
<path d="M672.5 115.6v4M672.5 189.5v-4M693.1 115.6v4M693.1 189.5v-4M713.8 115.6v4M713.8 189.5v-4M755 115.6v4M755 189.5v-4M775.7 115.6v4M775.7 189.5v-4M796.3 115.6v4M796.3 189.5v-4M837.6 115.6v4M837.6 189.5v-4M858.3 115.6v4M858.3 189.5v-4M878.9 115.6v4M878.9 189.5v-4M920.2 115.6v4M920.2 189.5v-4M940.8 115.6v4M940.8 189.5v-4M961.5 115.6v4M961.5 189.5v-4M1002.8 115.6v4M1002.8 189.5v-4M1023.4 115.6v4M1023.4 189.5v-4M1044 115.6v4M1044 189.5v-4M1085.3 115.6v4M1085.3 189.5v-4M1106 115.6v4M1106 189.5v-4" stroke="#444" stroke-width="1.1"/>
<rect x="668.6" y="189.5" width="453.9" height="73.8" fill="none" stroke="#000" stroke-width="1.5"/>
<path d="M734.4 189.5v10.5M734.4 263.3v-10.5M817 189.5v10.5M817 263.3v-10.5M899.5 189.5v10.5M899.5 263.3v-10.5M982.1 189.5v10.5M982.1 263.3v-10.5M1064.7 189.5v10.5M1064.7 263.3v-10.5" stroke="#3c3c3c" stroke-width="1.3"/>
<path d="M672.5 189.5v4M672.5 263.3v-4M693.1 189.5v4M693.1 263.3v-4M713.8 189.5v4M713.8 263.3v-4M755 189.5v4M755 263.3v-4M775.7 189.5v4M775.7 263.3v-4M796.3 189.5v4M796.3 263.3v-4M837.6 189.5v4M837.6 263.3v-4M858.3 189.5v4M858.3 263.3v-4M878.9 189.5v4M878.9 263.3v-4M920.2 189.5v4M920.2 263.3v-4M940.8 189.5v4M940.8 263.3v-4M961.5 189.5v4M961.5 263.3v-4M1002.8 189.5v4M1002.8 263.3v-4M1023.4 189.5v4M1023.4 263.3v-4M1044 189.5v4M1044 263.3v-4M1085.3 189.5v4M1085.3 263.3v-4M1106 189.5v4M1106 263.3v-4" stroke="#444" stroke-width="1.1"/>
<rect x="668.6" y="263.3" width="453.9" height="73.8" fill="none" stroke="#000" stroke-width="1.5"/>
<path d="M734.4 263.3v10.5M734.4 337.2v-10.5M817 263.3v10.5M817 337.2v-10.5M899.5 263.3v10.5M899.5 337.2v-10.5M982.1 263.3v10.5M982.1 337.2v-10.5M1064.7 263.3v10.5M1064.7 337.2v-10.5" stroke="#3c3c3c" stroke-width="1.3"/>
<path d="M672.5 263.3v4M672.5 337.2v-4M693.1 263.3v4M693.1 337.2v-4M713.8 263.3v4M713.8 337.2v-4M755 263.3v4M755 337.2v-4M775.7 263.3v4M775.7 337.2v-4M796.3 263.3v4M796.3 337.2v-4M837.6 263.3v4M837.6 337.2v-4M858.3 263.3v4M858.3 337.2v-4M878.9 263.3v4M878.9 337.2v-4M920.2 263.3v4M920.2 337.2v-4M940.8 263.3v4M940.8 337.2v-4M961.5 263.3v4M961.5 337.2v-4M1002.8 263.3v4M1002.8 337.2v-4M1023.4 263.3v4M1023.4 337.2v-4M1044 263.3v4M1044 337.2v-4M1085.3 263.3v4M1085.3 337.2v-4M1106 263.3v4M1106 337.2v-4" stroke="#444" stroke-width="1.1"/>
<rect x="668.6" y="337.2" width="453.9" height="73.8" fill="none" stroke="#000" stroke-width="1.5"/>
<path d="M734.4 337.2v10.5M734.4 411v-10.5M817 337.2v10.5M817 411v-10.5M899.5 337.2v10.5M899.5 411v-10.5M982.1 337.2v10.5M982.1 411v-10.5M1064.7 337.2v10.5M1064.7 411v-10.5" stroke="#3c3c3c" stroke-width="1.3"/>
<path d="M672.5 337.2v4M672.5 411v-4M693.1 337.2v4M693.1 411v-4M713.8 337.2v4M713.8 411v-4M755 337.2v4M755 411v-4M775.7 337.2v4M775.7 411v-4M796.3 337.2v4M796.3 411v-4M837.6 337.2v4M837.6 411v-4M858.3 337.2v4M858.3 411v-4M878.9 337.2v4M878.9 411v-4M920.2 337.2v4M920.2 411v-4M940.8 337.2v4M940.8 411v-4M961.5 337.2v4M961.5 411v-4M1002.8 337.2v4M1002.8 411v-4M1023.4 337.2v4M1023.4 411v-4M1044 337.2v4M1044 411v-4M1085.3 337.2v4M1085.3 411v-4M1106 337.2v4M1106 411v-4" stroke="#444" stroke-width="1.1"/>
<rect x="668.6" y="411" width="453.9" height="73.8" fill="none" stroke="#000" stroke-width="1.5"/>
<path d="M734.4 411v10.5M734.4 484.8v-10.5M817 411v10.5M817 484.8v-10.5M899.5 411v10.5M899.5 484.8v-10.5M982.1 411v10.5M982.1 484.8v-10.5M1064.7 411v10.5M1064.7 484.8v-10.5" stroke="#3c3c3c" stroke-width="1.3"/>
<path d="M672.5 411v4M672.5 484.8v-4M693.1 411v4M693.1 484.8v-4M713.8 411v4M713.8 484.8v-4M755 411v4M755 484.8v-4M775.7 411v4M775.7 484.8v-4M796.3 411v4M796.3 484.8v-4M837.6 411v4M837.6 484.8v-4M858.3 411v4M858.3 484.8v-4M878.9 411v4M878.9 484.8v-4M920.2 411v4M920.2 484.8v-4M940.8 411v4M940.8 484.8v-4M961.5 411v4M961.5 484.8v-4M1002.8 411v4M1002.8 484.8v-4M1023.4 411v4M1023.4 484.8v-4M1044 411v4M1044 484.8v-4M1085.3 411v4M1085.3 484.8v-4M1106 411v4M1106 484.8v-4" stroke="#444" stroke-width="1.1"/>
<rect x="668.6" y="484.8" width="453.9" height="73.8" fill="none" stroke="#000" stroke-width="1.5"/>
<path d="M734.4 484.8v10.5M734.4 558.7v-10.5M817 484.8v10.5M817 558.7v-10.5M899.5 484.8v10.5M899.5 558.7v-10.5M982.1 484.8v10.5M982.1 558.7v-10.5M1064.7 484.8v10.5M1064.7 558.7v-10.5" stroke="#3c3c3c" stroke-width="1.3"/>
<path d="M672.5 484.8v4M672.5 558.7v-4M693.1 484.8v4M693.1 558.7v-4M713.8 484.8v4M713.8 558.7v-4M755 484.8v4M755 558.7v-4M775.7 484.8v4M775.7 558.7v-4M796.3 484.8v4M796.3 558.7v-4M837.6 484.8v4M837.6 558.7v-4M858.3 484.8v4M858.3 558.7v-4M878.9 484.8v4M878.9 558.7v-4M920.2 484.8v4M920.2 558.7v-4M940.8 484.8v4M940.8 558.7v-4M961.5 484.8v4M961.5 558.7v-4M1002.8 484.8v4M1002.8 558.7v-4M1023.4 484.8v4M1023.4 558.7v-4M1044 484.8v4M1044 558.7v-4M1085.3 484.8v4M1085.3 558.7v-4M1106 484.8v4M1106 558.7v-4" stroke="#444" stroke-width="1.1"/>
<rect x="668.6" y="558.7" width="453.9" height="73.8" fill="none" stroke="#000" stroke-width="1.5"/>
<path d="M734.4 558.7v10.5M734.4 632.5v-10.5M817 558.7v10.5M817 632.5v-10.5M899.5 558.7v10.5M899.5 632.5v-10.5M982.1 558.7v10.5M982.1 632.5v-10.5M1064.7 558.7v10.5M1064.7 632.5v-10.5" stroke="#3c3c3c" stroke-width="1.3"/>
<path d="M672.5 558.7v4M672.5 632.5v-4M693.1 558.7v4M693.1 632.5v-4M713.8 558.7v4M713.8 632.5v-4M755 558.7v4M755 632.5v-4M775.7 558.7v4M775.7 632.5v-4M796.3 558.7v4M796.3 632.5v-4M837.6 558.7v4M837.6 632.5v-4M858.3 558.7v4M858.3 632.5v-4M878.9 558.7v4M878.9 632.5v-4M920.2 558.7v4M920.2 632.5v-4M940.8 558.7v4M940.8 632.5v-4M961.5 558.7v4M961.5 632.5v-4M1002.8 558.7v4M1002.8 632.5v-4M1023.4 558.7v4M1023.4 632.5v-4M1044 558.7v4M1044 632.5v-4M1085.3 558.7v4M1085.3 632.5v-4M1106 558.7v4M1106 632.5v-4" stroke="#444" stroke-width="1.1"/>
<rect x="668.6" y="632.5" width="453.9" height="73.8" fill="none" stroke="#000" stroke-width="1.5"/>
<path d="M734.4 632.5v10.5M734.4 706.4v-10.5M817 632.5v10.5M817 706.4v-10.5M899.5 632.5v10.5M899.5 706.4v-10.5M982.1 632.5v10.5M982.1 706.4v-10.5M1064.7 632.5v10.5M1064.7 706.4v-10.5" stroke="#3c3c3c" stroke-width="1.3"/>
<path d="M672.5 632.5v4M672.5 706.4v-4M693.1 632.5v4M693.1 706.4v-4M713.8 632.5v4M713.8 706.4v-4M755 632.5v4M755 706.4v-4M775.7 632.5v4M775.7 706.4v-4M796.3 632.5v4M796.3 706.4v-4M837.6 632.5v4M837.6 706.4v-4M858.3 632.5v4M858.3 706.4v-4M878.9 632.5v4M878.9 706.4v-4M920.2 632.5v4M920.2 706.4v-4M940.8 632.5v4M940.8 706.4v-4M961.5 632.5v4M961.5 706.4v-4M1002.8 632.5v4M1002.8 706.4v-4M1023.4 632.5v4M1023.4 706.4v-4M1044 632.5v4M1044 706.4v-4M1085.3 632.5v4M1085.3 706.4v-4M1106 632.5v4M1106 706.4v-4" stroke="#444" stroke-width="1.1"/>
<g fill="#000" stroke="none">
<text x="69" y="163.3" font-size="11" text-anchor="end">-60</text>
<text x="69" y="144.3" font-size="11" text-anchor="end">-40</text>
<text x="69" y="125.3" font-size="11" text-anchor="end">-20</text>
<text x="69" y="106.3" font-size="11" text-anchor="end">0</text>
<text x="69" y="87.3" font-size="11" text-anchor="end">20</text>
<text x="69" y="68.3" font-size="11" text-anchor="end">40</text>
<text x="69" y="49.3" font-size="11" text-anchor="end">60</text>
</g><path d="M71.5 159.4h6.5M525.5 159.4h-6.5M71.5 140.4h6.5M525.5 140.4h-6.5M71.5 121.4h6.5M525.5 121.4h-6.5M71.5 102.4h6.5M525.5 102.4h-6.5M71.5 83.4h6.5M525.5 83.4h-6.5M71.5 64.4h6.5M525.5 64.4h-6.5M71.5 45.4h6.5M525.5 45.4h-6.5M71.5 164.2h3.2M525.5 164.2h-3.2M71.5 154.7h3.2M525.5 154.7h-3.2M71.5 149.9h3.2M525.5 149.9h-3.2M71.5 145.2h3.2M525.5 145.2h-3.2M71.5 135.7h3.2M525.5 135.7h-3.2M71.5 130.9h3.2M525.5 130.9h-3.2M71.5 126.2h3.2M525.5 126.2h-3.2M71.5 116.7h3.2M525.5 116.7h-3.2M71.5 111.9h3.2M525.5 111.9h-3.2M71.5 107.2h3.2M525.5 107.2h-3.2M71.5 97.7h3.2M525.5 97.7h-3.2M71.5 92.9h3.2M525.5 92.9h-3.2M71.5 88.2h3.2M525.5 88.2h-3.2M71.5 78.7h3.2M525.5 78.7h-3.2M71.5 73.9h3.2M525.5 73.9h-3.2M71.5 69.2h3.2M525.5 69.2h-3.2M71.5 59.7h3.2M525.5 59.7h-3.2M71.5 54.9h3.2M525.5 54.9h-3.2M71.5 50.2h3.2M525.5 50.2h-3.2M71.5 40.7h3.2M525.5 40.7h-3.2M71.5 35.9h3.2M525.5 35.9h-3.2" stroke="#333" stroke-width="1"/><g fill="#000" stroke="none">
<text x="46.8" y="101" font-size="11" text-anchor="middle" transform="rotate(-90 46.8 101)"><tspan>B</tspan><tspan dy="3.3" font-size="8.8">L</tspan><tspan dy="-3.3">,|B| [nT]</tspan></text>
</g><path d="M77.5 38H95.1" stroke="#ff2020" stroke-width="1.3" stroke-dasharray="4.5 2.2"/><g fill="#000" stroke="none">
<text x="96.3" y="41.4" font-size="9.0" fill="#ff2020"><tspan>t  cs</tspan></text>
</g><path d="M77.5 45.6H95.1" stroke="#22aa22" stroke-width="1.3" stroke-dasharray="4.5 2.2"/><g fill="#000" stroke="none">
<text x="96.3" y="49" font-size="9.0" fill="#22aa22"><tspan>t  HT</tspan></text>
</g><path d="M77.5 53.4H95.1" stroke="#55ee22" stroke-width="1.3" stroke-dasharray="4.5 2.2"/><g fill="#000" stroke="none">
<text x="96.3" y="56.8" font-size="9.0" fill="#55ee22"><tspan>t  MVAB</tspan></text>
</g><path d="M77.5 61.2H95.1" stroke="#aaaaaa" stroke-width="3" stroke-dasharray="6 2"/><g fill="#000" stroke="none">
<text x="96.3" y="64.6" font-size="9.0" fill="#aaaaaa"><tspan>A/B, mvlines</tspan></text>
</g><path d="M77.5 61.2H95.1" stroke="#3030ff" stroke-width="0.01"/><g fill="#000" stroke="none">
<text x="96.3" y="64.6" font-size="9.0" fill="#3030ff"><tspan>BL, multisec</tspan></text>
</g><path d="M77.5 69H95.1" stroke="#3030ff" stroke-width="1.2" stroke-dasharray="4.5 2.2"/><g fill="#000" stroke="none">
<text x="96.3" y="72.4" font-size="9.0" fill="#3030ff"><tspan>BL, 90% of BL</tspan></text>
</g><path d="M77.5 76.7H95.1" stroke="#2020ff" stroke-width="1"/><g fill="#000" stroke="none">
<text x="96.3" y="80.1" font-size="9.0" fill="#2020ff"><tspan>BL  brst</tspan></text>
</g><path d="M77.5 83.9H95.1" stroke="#888888" stroke-width="1.2"/><g fill="#000" stroke="none">
<text x="96.3" y="87.3" font-size="9.0" fill="#888888"><tspan>|B|</tspan></text>
<text x="69" y="246.1" font-size="11" text-anchor="end">-60</text>
<text x="69" y="235.7" font-size="11" text-anchor="end">-40</text>
<text x="69" y="225.3" font-size="11" text-anchor="end">-20</text>
<text x="69" y="214.9" font-size="11" text-anchor="end">0</text>
<text x="69" y="204.5" font-size="11" text-anchor="end">20</text>
<text x="69" y="194.1" font-size="11" text-anchor="end">40</text>
<text x="69" y="183.7" font-size="11" text-anchor="end">60</text>
</g><path d="M71.5 242.2h6.5M525.5 242.2h-6.5M71.5 231.8h6.5M525.5 231.8h-6.5M71.5 221.4h6.5M525.5 221.4h-6.5M71.5 211h6.5M525.5 211h-6.5M71.5 200.6h6.5M525.5 200.6h-6.5M71.5 190.2h6.5M525.5 190.2h-6.5M71.5 179.8h6.5M525.5 179.8h-6.5M71.5 239.6h3.2M525.5 239.6h-3.2M71.5 237h3.2M525.5 237h-3.2M71.5 234.4h3.2M525.5 234.4h-3.2M71.5 229.2h3.2M525.5 229.2h-3.2M71.5 226.6h3.2M525.5 226.6h-3.2M71.5 224h3.2M525.5 224h-3.2M71.5 218.8h3.2M525.5 218.8h-3.2M71.5 216.2h3.2M525.5 216.2h-3.2M71.5 213.6h3.2M525.5 213.6h-3.2M71.5 208.4h3.2M525.5 208.4h-3.2M71.5 205.8h3.2M525.5 205.8h-3.2M71.5 203.2h3.2M525.5 203.2h-3.2M71.5 198h3.2M525.5 198h-3.2M71.5 195.4h3.2M525.5 195.4h-3.2M71.5 192.8h3.2M525.5 192.8h-3.2M71.5 187.6h3.2M525.5 187.6h-3.2M71.5 185h3.2M525.5 185h-3.2M71.5 182.4h3.2M525.5 182.4h-3.2" stroke="#333" stroke-width="1"/><g fill="#000" stroke="none">
<text x="41.5" y="211" font-size="11" text-anchor="middle" transform="rotate(-90 41.5 211)"><tspan>B</tspan><tspan dy="3.3" font-size="8.8" letter-spacing="0.35">LMN</tspan><tspan dy="-3.3"> [nT]</tspan></text>
</g><path d="M77.5 188H95.1" stroke="#1a1aff" stroke-width="1"/><g fill="#000" stroke="none">
<text x="96.3" y="191.4" font-size="9.0" fill="#1a1aff"><tspan>B</tspan><tspan dy="2.7" font-size="7.2">L</tspan></text>
</g><path d="M77.5 211.2H95.1" stroke="#22ee22" stroke-width="1"/><g fill="#000" stroke="none">
<text x="96.3" y="214.6" font-size="9.0" fill="#22ee22"><tspan>B</tspan><tspan dy="2.7" font-size="7.2">M</tspan></text>
</g><path d="M77.5 233.7H95.1" stroke="#ff2020" stroke-width="1"/><g fill="#000" stroke="none">
<text x="96.3" y="237.1" font-size="9.0" fill="#ff2020"><tspan>B</tspan><tspan dy="2.7" font-size="7.2">N</tspan></text>
<text x="528.5" y="257.5" font-size="11"><tspan>10</tspan><tspan dy="-5" font-size="8.8">4</tspan></text>
<text x="528.5" y="273.2" font-size="11"><tspan>10</tspan><tspan dy="-5" font-size="8.8">3</tspan></text>
<text x="528.5" y="289.2" font-size="11"><tspan>10</tspan><tspan dy="-5" font-size="8.8">2</tspan></text>
<text x="528.5" y="304.9" font-size="11"><tspan>10</tspan><tspan dy="-5" font-size="8.8">1</tspan></text>
</g><path d="M71.5 254.3h6.5M525.5 254.3h-6.5M71.5 270h6.5M525.5 270h-6.5M71.5 286h6.5M525.5 286h-6.5M71.5 301.7h6.5M525.5 301.7h-6.5M71.5 275h3.2M525.5 275h-3.2M71.5 277.8h3.2M525.5 277.8h-3.2M71.5 279.8h3.2M525.5 279.8h-3.2M71.5 281.3h3.2M525.5 281.3h-3.2M71.5 282.5h3.2M525.5 282.5h-3.2M71.5 283.6h3.2M525.5 283.6h-3.2M71.5 284.5h3.2M525.5 284.5h-3.2M71.5 285.3h3.2M525.5 285.3h-3.2M71.5 290.7h3.2M525.5 290.7h-3.2M71.5 293.5h3.2M525.5 293.5h-3.2M71.5 295.5h3.2M525.5 295.5h-3.2M71.5 297h3.2M525.5 297h-3.2M71.5 298.2h3.2M525.5 298.2h-3.2M71.5 299.3h3.2M525.5 299.3h-3.2M71.5 300.2h3.2M525.5 300.2h-3.2M71.5 301h3.2M525.5 301h-3.2M71.5 306.4h3.2M525.5 306.4h-3.2M71.5 309.2h3.2M525.5 309.2h-3.2M71.5 311.2h3.2M525.5 311.2h-3.2" stroke="#111" stroke-width="1"/><g fill="#000" stroke="none">
<text x="557.5" y="279" font-size="11" text-anchor="middle" transform="rotate(-90 557.5 279)">Energy (eV)</text>
<text x="69" y="373.9" font-size="11" text-anchor="end">200</text>
<text x="69" y="361.4" font-size="11" text-anchor="end">220</text>
<text x="69" y="348.9" font-size="11" text-anchor="end">240</text>
<text x="69" y="336.4" font-size="11" text-anchor="end">260</text>
<text x="69" y="323.9" font-size="11" text-anchor="end">280</text>
</g><path d="M71.5 370h6.5M525.5 370h-6.5M71.5 357.5h6.5M525.5 357.5h-6.5M71.5 345h6.5M525.5 345h-6.5M71.5 332.5h6.5M525.5 332.5h-6.5M71.5 320h6.5M525.5 320h-6.5M71.5 379.4h3.2M525.5 379.4h-3.2M71.5 376.2h3.2M525.5 376.2h-3.2M71.5 373.1h3.2M525.5 373.1h-3.2M71.5 366.9h3.2M525.5 366.9h-3.2M71.5 363.8h3.2M525.5 363.8h-3.2M71.5 360.6h3.2M525.5 360.6h-3.2M71.5 354.4h3.2M525.5 354.4h-3.2M71.5 351.2h3.2M525.5 351.2h-3.2M71.5 348.1h3.2M525.5 348.1h-3.2M71.5 341.9h3.2M525.5 341.9h-3.2M71.5 338.8h3.2M525.5 338.8h-3.2M71.5 335.6h3.2M525.5 335.6h-3.2M71.5 329.4h3.2M525.5 329.4h-3.2M71.5 326.2h3.2M525.5 326.2h-3.2M71.5 323.1h3.2M525.5 323.1h-3.2M71.5 316.9h3.2M525.5 316.9h-3.2" stroke="#333" stroke-width="1"/><g fill="#000" stroke="none">
<text x="42.5" y="347" font-size="11" text-anchor="middle" transform="rotate(-90 42.5 347)"><tspan>| V</tspan><tspan dy="3.3" font-size="8.8">i</tspan><tspan dy="-3.3"> | [km/s]</tspan></text>
</g><path d="M77.5 316.8H95.1" stroke="#33bb33" stroke-width="1.3" stroke-dasharray="4.5 2.2"/><g fill="#000" stroke="none">
<text x="96.3" y="320.2" font-size="9.0" fill="#33bb33"><tspan>t  HT</tspan></text>
</g><path d="M77.5 324H95.1" stroke="#33aaff" stroke-width="1.5" stroke-dasharray="1.5 1.5"/><g fill="#000" stroke="none">
<text x="96.3" y="327.4" font-size="9.0" fill="#33aaff"><tspan>t  vmax</tspan></text>
</g><path d="M77.5 331.1H95.1" stroke="#ff2020" stroke-width="1.3" stroke-dasharray="4.5 2.2"/><g fill="#000" stroke="none">
<text x="96.3" y="334.5" font-size="9.0" fill="#ff2020"><tspan>t  cs</tspan></text>
</g><path d="M77.5 338H95.1" stroke="#1a1aff" stroke-width="1.3" stroke-dasharray="1.5 1.5"/><g fill="#000" stroke="none">
<text x="96.3" y="341.4" font-size="9.0" fill="#1a1aff"><tspan>t  dvmax</tspan></text>
</g><path d="M77.5 345H95.1" stroke="#333333" stroke-width="1"/><g fill="#000" stroke="none">
<text x="96.3" y="348.4" font-size="9.0" fill="#333333"><tspan>|V</tspan><tspan dy="2.7" font-size="7.2">i</tspan></text>
<text x="528" y="441" font-size="11">-100</text>
<text x="528" y="427" font-size="11">0</text>
<text x="528" y="413" font-size="11">100</text>
<text x="528" y="399" font-size="11">200</text>
</g><path d="M71.5 437.1h6.5M525.5 437.1h-6.5M71.5 423.1h6.5M525.5 423.1h-6.5M71.5 409.1h6.5M525.5 409.1h-6.5M71.5 395.1h6.5M525.5 395.1h-6.5M71.5 448.3h3.2M525.5 448.3h-3.2M71.5 445.5h3.2M525.5 445.5h-3.2M71.5 442.7h3.2M525.5 442.7h-3.2M71.5 439.9h3.2M525.5 439.9h-3.2M71.5 434.3h3.2M525.5 434.3h-3.2M71.5 431.5h3.2M525.5 431.5h-3.2M71.5 428.7h3.2M525.5 428.7h-3.2M71.5 425.9h3.2M525.5 425.9h-3.2M71.5 420.3h3.2M525.5 420.3h-3.2M71.5 417.5h3.2M525.5 417.5h-3.2M71.5 414.7h3.2M525.5 414.7h-3.2M71.5 411.9h3.2M525.5 411.9h-3.2M71.5 406.3h3.2M525.5 406.3h-3.2M71.5 403.5h3.2M525.5 403.5h-3.2M71.5 400.7h3.2M525.5 400.7h-3.2M71.5 397.9h3.2M525.5 397.9h-3.2M71.5 392.3h3.2M525.5 392.3h-3.2M71.5 389.5h3.2M525.5 389.5h-3.2M71.5 386.7h3.2M525.5 386.7h-3.2M71.5 383.9h3.2M525.5 383.9h-3.2" stroke="#333" stroke-width="1"/><g fill="#000" stroke="none">
<text x="563.5" y="417" font-size="11" text-anchor="middle" transform="rotate(-90 563.5 417)"><tspan>V</tspan><tspan dy="3.3" font-size="8.8" letter-spacing="0.35">i LMN</tspan><tspan dy="-3.3"> [km/s]</tspan></text>
</g><path d="M77.5 389.4H95.1" stroke="#1a1aff" stroke-width="1"/><g fill="#000" stroke="none">
<text x="96.3" y="392.8" font-size="9.0" fill="#1a1aff"><tspan>V</tspan><tspan dy="2.7" font-size="7.2">L</tspan></text>
</g><path d="M77.5 404.3H95.1" stroke="#22ee22" stroke-width="1"/><g fill="#000" stroke="none">
<text x="96.3" y="407.7" font-size="9.0" fill="#22ee22"><tspan>V</tspan><tspan dy="2.7" font-size="7.2">M</tspan></text>
</g><path d="M77.5 419.2H95.1" stroke="#ff2020" stroke-width="1"/><g fill="#000" stroke="none">
<text x="96.3" y="422.6" font-size="9.0" fill="#ff2020"><tspan>V</tspan><tspan dy="2.7" font-size="7.2">N</tspan></text>
<text x="69" y="504.1" font-size="11" text-anchor="end">30</text>
<text x="69" y="484.3" font-size="11" text-anchor="end">40</text>
<text x="69" y="464.5" font-size="11" text-anchor="end">50</text>
</g><path d="M71.5 500.2h6.5M525.5 500.2h-6.5M71.5 480.4h6.5M525.5 480.4h-6.5M71.5 460.6h6.5M525.5 460.6h-6.5M71.5 516h3.2M525.5 516h-3.2M71.5 512.1h3.2M525.5 512.1h-3.2M71.5 508.1h3.2M525.5 508.1h-3.2M71.5 504.2h3.2M525.5 504.2h-3.2M71.5 496.2h3.2M525.5 496.2h-3.2M71.5 492.3h3.2M525.5 492.3h-3.2M71.5 488.3h3.2M525.5 488.3h-3.2M71.5 484.4h3.2M525.5 484.4h-3.2M71.5 476.4h3.2M525.5 476.4h-3.2M71.5 472.5h3.2M525.5 472.5h-3.2M71.5 468.5h3.2M525.5 468.5h-3.2M71.5 464.6h3.2M525.5 464.6h-3.2M71.5 456.6h3.2M525.5 456.6h-3.2M71.5 452.7h3.2M525.5 452.7h-3.2" stroke="#333" stroke-width="1"/><g fill="#000" stroke="none">
<text x="45.5" y="484" font-size="11" text-anchor="middle" transform="rotate(-90 45.5 484)"><tspan>N [cm</tspan><tspan dy="-5" font-size="8.8" letter-spacing="0.35">-3</tspan><tspan dy="5">]</tspan></text>
</g><path d="M77.5 457.1H95.1" stroke="#ff2020" stroke-width="1"/><g fill="#000" stroke="none">
<text x="96.3" y="460.5" font-size="9.0" fill="#ff2020"><tspan>Ne</tspan></text>
</g><path d="M77.5 470.7H95.1" stroke="#222222" stroke-width="1"/><g fill="#000" stroke="none">
<text x="96.3" y="474.1" font-size="9.0" fill="#222222"><tspan>Ni</tspan></text>
<text x="528" y="569.9" font-size="11">0.5</text>
<text x="528" y="549.7" font-size="11">1.0</text>
<text x="528" y="529.5" font-size="11">1.5</text>
</g><path d="M71.5 566h6.5M525.5 566h-6.5M71.5 545.8h6.5M525.5 545.8h-6.5M71.5 525.6h6.5M525.5 525.6h-6.5M71.5 582.2h3.2M525.5 582.2h-3.2M71.5 578.1h3.2M525.5 578.1h-3.2M71.5 574.1h3.2M525.5 574.1h-3.2M71.5 570h3.2M525.5 570h-3.2M71.5 562h3.2M525.5 562h-3.2M71.5 557.9h3.2M525.5 557.9h-3.2M71.5 553.9h3.2M525.5 553.9h-3.2M71.5 549.8h3.2M525.5 549.8h-3.2M71.5 541.8h3.2M525.5 541.8h-3.2M71.5 537.7h3.2M525.5 537.7h-3.2M71.5 533.7h3.2M525.5 533.7h-3.2M71.5 529.6h3.2M525.5 529.6h-3.2M71.5 521.6h3.2M525.5 521.6h-3.2" stroke="#333" stroke-width="1"/><g fill="#000" stroke="none">
<text x="560" y="552" font-size="11" text-anchor="middle" transform="rotate(-90 560 552)"><tspan>N</tspan><tspan dy="3.3" font-size="8.8">i</tspan><tspan dy="-3.3"> [cm</tspan><tspan dy="-5" font-size="8.8" letter-spacing="0.35">-3</tspan><tspan dy="5">]</tspan></text>
</g><path d="M77.5 523.5H95.1" stroke="#00ee00" stroke-width="1.3"/><g fill="#000" stroke="none">
<circle cx="86.3" cy="523.5" r="1.9" fill="#00ee00"/>
<text x="96.3" y="526.9" font-size="9.0" fill="#00ee00"><tspan>N  He+</tspan></text>
</g><path d="M77.5 532.5H95.1" stroke="#ff0000" stroke-width="1.3"/><g fill="#000" stroke="none">
<circle cx="86.3" cy="532.5" r="1.9" fill="#ff0000"/>
<text x="96.3" y="535.9" font-size="9.0" fill="#ff0000"><tspan>N  He++</tspan></text>
</g><path d="M77.5 541.7H95.1" stroke="#0000ff" stroke-width="1.3"/><g fill="#000" stroke="none">
<circle cx="86.3" cy="541.7" r="1.9" fill="#0000ff"/>
<text x="96.3" y="545.1" font-size="9.0" fill="#0000ff"><tspan>N  O+</tspan></text>
</g><path d="M71.5 589.3h2.6M525.5 589.3h-2.6M71.5 602.9h2.6M525.5 602.9h-2.6M71.5 619.2h2.6M525.5 619.2h-2.6M71.5 642h2.6M525.5 642h-2.6" stroke="#333" stroke-width="1"/><g fill="#000" stroke="none">
<text x="37.5" y="622" font-size="11" text-anchor="middle" transform="rotate(-90 37.5 622)"><tspan>T</tspan><tspan dy="3.3" font-size="8.8">i</tspan><tspan dy="-3.3"> [eV]</tspan></text>
</g><path d="M77.5 596.3H95.1" stroke="#ff2020" stroke-width="1"/><g fill="#000" stroke="none">
<text x="96.3" y="599.7" font-size="9.0" fill="#ff2020"><tspan>T</tspan><tspan dy="2.7" font-size="7.2" letter-spacing="0.35">||</tspan></text>
</g><path d="M77.5 615.1H95.1" stroke="#111111" stroke-width="1"/><g fill="#000" stroke="none">
<text x="96.3" y="618.5" font-size="9.0" fill="#111111"><tspan>T</tspan><tspan dy="2.7" font-size="7.2">⊥</tspan></text>
<text x="528" y="725.1" font-size="11">0</text>
<text x="528" y="708.7" font-size="11">1</text>
<text x="528" y="692.3" font-size="11">2</text>
<text x="528" y="675.9" font-size="11">3</text>
<text x="528" y="659.5" font-size="11">4</text>
</g><path d="M71.5 721.2h6.5M525.5 721.2h-6.5M71.5 704.8h6.5M525.5 704.8h-6.5M71.5 688.4h6.5M525.5 688.4h-6.5M71.5 672h6.5M525.5 672h-6.5M71.5 655.6h6.5M525.5 655.6h-6.5M71.5 717.9h3.2M525.5 717.9h-3.2M71.5 714.6h3.2M525.5 714.6h-3.2M71.5 711.4h3.2M525.5 711.4h-3.2M71.5 708.1h3.2M525.5 708.1h-3.2M71.5 701.5h3.2M525.5 701.5h-3.2M71.5 698.2h3.2M525.5 698.2h-3.2M71.5 695h3.2M525.5 695h-3.2M71.5 691.7h3.2M525.5 691.7h-3.2M71.5 685.1h3.2M525.5 685.1h-3.2M71.5 681.8h3.2M525.5 681.8h-3.2M71.5 678.6h3.2M525.5 678.6h-3.2M71.5 675.3h3.2M525.5 675.3h-3.2M71.5 668.7h3.2M525.5 668.7h-3.2M71.5 665.4h3.2M525.5 665.4h-3.2M71.5 662.2h3.2M525.5 662.2h-3.2M71.5 658.9h3.2M525.5 658.9h-3.2" stroke="#333" stroke-width="1"/><g fill="#000" stroke="none">
<text x="563" y="689.7" font-size="11" text-anchor="middle" transform="rotate(-90 563 689.7)">P [nPa]</text>
</g><path d="M77.5 660.8H95.1" stroke="#22ee22" stroke-width="1"/><g fill="#000" stroke="none">
<text x="96.3" y="664.2" font-size="9.0" fill="#22ee22"><tspan>P</tspan><tspan dy="2.7" font-size="7.2">p</tspan></text>
</g><path d="M77.5 671.7H95.1" stroke="#ff2020" stroke-width="1"/><g fill="#000" stroke="none">
<text x="96.3" y="675.1" font-size="9.0" fill="#ff2020"><tspan>P</tspan><tspan dy="2.7" font-size="7.2">e</tspan></text>
</g><path d="M77.5 683.1H95.1" stroke="#222222" stroke-width="1"/><g fill="#000" stroke="none">
<text x="96.3" y="686.5" font-size="9.0" fill="#222222"><tspan>P</tspan><tspan dy="2.7" font-size="7.2">b</tspan></text>
</g><path d="M77.5 693.8H95.1" stroke="#1a1aff" stroke-width="1"/><g fill="#000" stroke="none">
<text x="96.3" y="697.2" font-size="9.0" fill="#1a1aff"><tspan>P</tspan><tspan dy="2.7" font-size="7.2" letter-spacing="0.35">tot</tspan></text>
<text x="666.1" y="117.1" font-size="11" text-anchor="end">-60</text>
<text x="666.1" y="105.7" font-size="11" text-anchor="end">-40</text>
<text x="666.1" y="94.3" font-size="11" text-anchor="end">-20</text>
<text x="666.1" y="82.9" font-size="11" text-anchor="end">0</text>
<text x="666.1" y="71.5" font-size="11" text-anchor="end">20</text>
<text x="666.1" y="60.1" font-size="11" text-anchor="end">40</text>
<text x="666.1" y="48.7" font-size="11" text-anchor="end">60</text>
</g><path d="M668.6 113.2h6.5M1122.5 113.2h-6.5M668.6 101.8h6.5M1122.5 101.8h-6.5M668.6 90.4h6.5M1122.5 90.4h-6.5M668.6 79h6.5M1122.5 79h-6.5M668.6 67.6h6.5M1122.5 67.6h-6.5M668.6 56.2h6.5M1122.5 56.2h-6.5M668.6 44.8h6.5M1122.5 44.8h-6.5M668.6 110.3h3.2M1122.5 110.3h-3.2M668.6 107.5h3.2M1122.5 107.5h-3.2M668.6 104.7h3.2M1122.5 104.7h-3.2M668.6 99h3.2M1122.5 99h-3.2M668.6 96.1h3.2M1122.5 96.1h-3.2M668.6 93.2h3.2M1122.5 93.2h-3.2M668.6 87.5h3.2M1122.5 87.5h-3.2M668.6 84.7h3.2M1122.5 84.7h-3.2M668.6 81.8h3.2M1122.5 81.8h-3.2M668.6 76.2h3.2M1122.5 76.2h-3.2M668.6 73.3h3.2M1122.5 73.3h-3.2M668.6 70.5h3.2M1122.5 70.5h-3.2M668.6 64.8h3.2M1122.5 64.8h-3.2M668.6 61.9h3.2M1122.5 61.9h-3.2M668.6 59h3.2M1122.5 59h-3.2M668.6 53.4h3.2M1122.5 53.4h-3.2M668.6 50.5h3.2M1122.5 50.5h-3.2M668.6 47.7h3.2M1122.5 47.7h-3.2" stroke="#333" stroke-width="1"/><g fill="#000" stroke="none">
<text x="639.3" y="79" font-size="11" text-anchor="middle" transform="rotate(-90 639.3 79)"><tspan>B</tspan><tspan dy="3.3" font-size="8.8" letter-spacing="0.35">LMN</tspan><tspan dy="-3.3"> [nT]</tspan></text>
</g><path d="M674.6 54H692.2" stroke="#1a1aff" stroke-width="1"/><g fill="#000" stroke="none">
<text x="693.4" y="57.4" font-size="9.0" fill="#1a1aff"><tspan>B</tspan><tspan dy="2.7" font-size="7.2">L</tspan></text>
</g><path d="M674.6 79H692.2" stroke="#22ee22" stroke-width="1"/><g fill="#000" stroke="none">
<text x="693.4" y="82.4" font-size="9.0" fill="#22ee22"><tspan>B</tspan><tspan dy="2.7" font-size="7.2">M</tspan></text>
</g><path d="M674.6 104H692.2" stroke="#ff2020" stroke-width="1"/><g fill="#000" stroke="none">
<text x="693.4" y="107.4" font-size="9.0" fill="#ff2020"><tspan>B</tspan><tspan dy="2.7" font-size="7.2">N</tspan></text>
<text x="1125.5" y="129.2" font-size="11"><tspan>10</tspan><tspan dy="-5" font-size="8.8">4</tspan></text>
<text x="1125.5" y="149.2" font-size="11"><tspan>10</tspan><tspan dy="-5" font-size="8.8">3</tspan></text>
<text x="1125.5" y="168.5" font-size="11"><tspan>10</tspan><tspan dy="-5" font-size="8.8">2</tspan></text>
<text x="1125.5" y="187.5" font-size="11"><tspan>10</tspan><tspan dy="-5" font-size="8.8">1</tspan></text>
</g><path d="M668.6 125h6.5M1122.5 125h-6.5M668.6 145h6.5M1122.5 145h-6.5M668.6 164.3h6.5M1122.5 164.3h-6.5M668.6 183.3h6.5M1122.5 183.3h-6.5M668.6 149.3h3.2M1122.5 149.3h-3.2M668.6 152.8h3.2M1122.5 152.8h-3.2M668.6 155.3h3.2M1122.5 155.3h-3.2M668.6 157.3h3.2M1122.5 157.3h-3.2M668.6 158.9h3.2M1122.5 158.9h-3.2M668.6 160.2h3.2M1122.5 160.2h-3.2M668.6 161.4h3.2M1122.5 161.4h-3.2M668.6 162.4h3.2M1122.5 162.4h-3.2M668.6 169.3h3.2M1122.5 169.3h-3.2M668.6 172.8h3.2M1122.5 172.8h-3.2M668.6 175.3h3.2M1122.5 175.3h-3.2M668.6 177.3h3.2M1122.5 177.3h-3.2M668.6 178.9h3.2M1122.5 178.9h-3.2M668.6 180.2h3.2M1122.5 180.2h-3.2M668.6 181.4h3.2M1122.5 181.4h-3.2M668.6 182.4h3.2M1122.5 182.4h-3.2" stroke="#111" stroke-width="1"/><g fill="#000" stroke="none">
<text x="1154.5" y="153" font-size="11" text-anchor="middle" transform="rotate(-90 1154.5 153)">Energy (eV)</text>
<text x="666.1" y="253.3" font-size="11" text-anchor="end">-200</text>
<text x="666.1" y="234.4" font-size="11" text-anchor="end">0</text>
<text x="666.1" y="215.5" font-size="11" text-anchor="end">200</text>
<text x="666.1" y="196.6" font-size="11" text-anchor="end">400</text>
</g><path d="M668.6 249.4h6.5M1122.5 249.4h-6.5M668.6 230.5h6.5M1122.5 230.5h-6.5M668.6 211.6h6.5M1122.5 211.6h-6.5M668.6 192.7h6.5M1122.5 192.7h-6.5M668.6 258.9h3.2M1122.5 258.9h-3.2M668.6 254.1h3.2M1122.5 254.1h-3.2M668.6 244.7h3.2M1122.5 244.7h-3.2M668.6 239.9h3.2M1122.5 239.9h-3.2M668.6 235.2h3.2M1122.5 235.2h-3.2M668.6 225.8h3.2M1122.5 225.8h-3.2M668.6 221.1h3.2M1122.5 221.1h-3.2M668.6 216.3h3.2M1122.5 216.3h-3.2M668.6 206.9h3.2M1122.5 206.9h-3.2M668.6 202.2h3.2M1122.5 202.2h-3.2M668.6 197.4h3.2M1122.5 197.4h-3.2" stroke="#333" stroke-width="1"/><g fill="#000" stroke="none">
<text x="638.5" y="226" font-size="11" text-anchor="middle" transform="rotate(-90 638.5 226)"><tspan>V</tspan><tspan dy="3.3" font-size="8.8" letter-spacing="0.35">e LMN</tspan><tspan dy="-3.3"> [km/s]</tspan></text>
</g><path d="M674.6 198H692.2" stroke="#1a1aff" stroke-width="1"/><g fill="#000" stroke="none">
<text x="693.4" y="201.4" font-size="9.0" fill="#1a1aff"><tspan>V</tspan><tspan dy="2.7" font-size="7.2">L</tspan></text>
</g><path d="M668.6 265.7h2.6M1122.5 265.7h-2.6M668.6 275.2h2.6M1122.5 275.2h-2.6M668.6 286.2h2.6M1122.5 286.2h-2.6M668.6 299h2.6M1122.5 299h-2.6M668.6 315.2h2.6M1122.5 315.2h-2.6M668.6 335.2h2.6M1122.5 335.2h-2.6" stroke="#333" stroke-width="1"/><g fill="#000" stroke="none">
<text x="1160.5" y="300.5" font-size="11" text-anchor="middle" transform="rotate(-90 1160.5 300.5)"><tspan>T</tspan><tspan dy="3.3" font-size="8.8">e</tspan><tspan dy="-3.3"> [eV]</tspan></text>
</g><path d="M674.6 270.7H692.2" stroke="#ff2020" stroke-width="1"/><g fill="#000" stroke="none">
<text x="693.4" y="274.1" font-size="9.0" fill="#ff2020"><tspan>T</tspan><tspan dy="2.7" font-size="7.2" letter-spacing="0.35">||</tspan></text>
</g><path d="M674.6 285.6H692.2" stroke="#111111" stroke-width="1"/><g fill="#000" stroke="none">
<text x="693.4" y="289" font-size="9.0" fill="#111111"><tspan>T</tspan><tspan dy="2.7" font-size="7.2">⊥</tspan></text>
<text x="666.1" y="397.5" font-size="11" text-anchor="end">-10</text>
<text x="666.1" y="377.6" font-size="11" text-anchor="end">0</text>
<text x="666.1" y="357.7" font-size="11" text-anchor="end">10</text>
</g><path d="M668.6 393.6h6.5M1122.5 393.6h-6.5M668.6 373.7h6.5M1122.5 373.7h-6.5M668.6 353.8h6.5M1122.5 353.8h-6.5M668.6 409.5h3.2M1122.5 409.5h-3.2M668.6 405.5h3.2M1122.5 405.5h-3.2M668.6 401.6h3.2M1122.5 401.6h-3.2M668.6 397.6h3.2M1122.5 397.6h-3.2M668.6 389.6h3.2M1122.5 389.6h-3.2M668.6 385.6h3.2M1122.5 385.6h-3.2M668.6 381.7h3.2M1122.5 381.7h-3.2M668.6 377.7h3.2M1122.5 377.7h-3.2M668.6 369.7h3.2M1122.5 369.7h-3.2M668.6 365.7h3.2M1122.5 365.7h-3.2M668.6 361.8h3.2M1122.5 361.8h-3.2M668.6 357.8h3.2M1122.5 357.8h-3.2M668.6 349.8h3.2M1122.5 349.8h-3.2M668.6 345.8h3.2M1122.5 345.8h-3.2M668.6 341.9h3.2M1122.5 341.9h-3.2" stroke="#333" stroke-width="1"/><g fill="#000" stroke="none">
<text x="641" y="373" font-size="11" text-anchor="middle" transform="rotate(-90 641 373)"><tspan>E</tspan><tspan dy="3.3" font-size="8.8" letter-spacing="0.35">LMN</tspan><tspan dy="-3.3">  [mV m</tspan><tspan dy="-5" font-size="8.8" letter-spacing="0.35">-1</tspan><tspan dy="5">]</tspan></text>
</g><path d="M674.6 342.1H692.2" stroke="#1a1aff" stroke-width="1"/><g fill="#000" stroke="none">
<text x="693.4" y="345.5" font-size="9.0" fill="#1a1aff"><tspan>E</tspan><tspan dy="2.7" font-size="7.2">L</tspan></text>
</g><path d="M674.6 352.5H692.2" stroke="#22ee22" stroke-width="1"/><g fill="#000" stroke="none">
<text x="693.4" y="355.9" font-size="9.0" fill="#22ee22"><tspan>E</tspan><tspan dy="2.7" font-size="7.2">M</tspan></text>
</g><path d="M674.6 362.2H692.2" stroke="#ff2020" stroke-width="1"/><g fill="#000" stroke="none">
<text x="693.4" y="365.6" font-size="9.0" fill="#ff2020"><tspan>E</tspan><tspan dy="2.7" font-size="7.2">N</tspan></text>
<text x="1125" y="476.4" font-size="11">-10</text>
<text x="1125" y="451.8" font-size="11">0</text>
<text x="1125" y="427.2" font-size="11">10</text>
</g><path d="M668.6 472.5h6.5M1122.5 472.5h-6.5M668.6 447.9h6.5M1122.5 447.9h-6.5M668.6 423.3h6.5M1122.5 423.3h-6.5M668.6 482.3h3.2M1122.5 482.3h-3.2M668.6 477.4h3.2M1122.5 477.4h-3.2M668.6 467.6h3.2M1122.5 467.6h-3.2M668.6 462.7h3.2M1122.5 462.7h-3.2M668.6 457.7h3.2M1122.5 457.7h-3.2M668.6 452.8h3.2M1122.5 452.8h-3.2M668.6 443h3.2M1122.5 443h-3.2M668.6 438.1h3.2M1122.5 438.1h-3.2M668.6 433.1h3.2M1122.5 433.1h-3.2M668.6 428.2h3.2M1122.5 428.2h-3.2M668.6 418.4h3.2M1122.5 418.4h-3.2M668.6 413.5h3.2M1122.5 413.5h-3.2" stroke="#333" stroke-width="1"/><g fill="#000" stroke="none">
<text x="1155.8" y="448" font-size="11" text-anchor="middle" transform="rotate(-90 1155.8 448)"><tspan>E</tspan><tspan dy="3.3" font-size="8.8">M</tspan><tspan dy="-3.3"> [mW m</tspan><tspan dy="-5" font-size="8.8" letter-spacing="0.35">-2</tspan><tspan dy="5">]</tspan></text>
</g><path d="M674.6 417.4H692.2" stroke="#222222" stroke-width="1"/><g fill="#000" stroke="none">
<text x="693.4" y="420.8" font-size="9.0" fill="#222222"><tspan>-(VexB)</tspan><tspan dy="2.7" font-size="7.2">M</tspan></text>
</g><path d="M674.6 428.5H692.2" stroke="#22ee22" stroke-width="1"/><g fill="#000" stroke="none">
<text x="693.4" y="431.9" font-size="9.0" fill="#22ee22"><tspan>E</tspan><tspan dy="2.7" font-size="7.2">M</tspan></text>
<text x="666.1" y="545.5" font-size="11" text-anchor="end">0.5</text>
<text x="666.1" y="528.3" font-size="11" text-anchor="end">1.0</text>
<text x="666.1" y="511.2" font-size="11" text-anchor="end">1.5</text>
<text x="666.1" y="494" font-size="11" text-anchor="end">2.0</text>
</g><path d="M668.6 541.6h6.5M1122.5 541.6h-6.5M668.6 524.4h6.5M1122.5 524.4h-6.5M668.6 507.3h6.5M1122.5 507.3h-6.5M668.6 490.1h6.5M1122.5 490.1h-6.5M668.6 555.3h3.2M1122.5 555.3h-3.2M668.6 551.8h3.2M1122.5 551.8h-3.2M668.6 548.4h3.2M1122.5 548.4h-3.2M668.6 545h3.2M1122.5 545h-3.2M668.6 538.1h3.2M1122.5 538.1h-3.2M668.6 534.7h3.2M1122.5 534.7h-3.2M668.6 531.3h3.2M1122.5 531.3h-3.2M668.6 527.8h3.2M1122.5 527.8h-3.2M668.6 521h3.2M1122.5 521h-3.2M668.6 517.5h3.2M1122.5 517.5h-3.2M668.6 514.1h3.2M1122.5 514.1h-3.2M668.6 510.7h3.2M1122.5 510.7h-3.2M668.6 503.8h3.2M1122.5 503.8h-3.2M668.6 500.4h3.2M1122.5 500.4h-3.2M668.6 497h3.2M1122.5 497h-3.2M668.6 493.5h3.2M1122.5 493.5h-3.2M668.6 486.7h3.2M1122.5 486.7h-3.2" stroke="#333" stroke-width="1"/><g fill="#000" stroke="none">
<text x="643" y="521" font-size="11" text-anchor="middle" transform="rotate(-90 643 521)"><tspan>|J| [µA m</tspan><tspan dy="-5" font-size="8.8" letter-spacing="0.35">-2</tspan><tspan dy="5">]</tspan></text>
</g><path d="M674.6 500.3H692.2" stroke="#222222" stroke-width="1"/><g fill="#000" stroke="none">
<text x="693.4" y="503.7" font-size="9.0" fill="#222222"><tspan>|J|</tspan></text>
<text x="1125" y="630.4" font-size="11">-1</text>
<text x="1125" y="608.2" font-size="11">0</text>
<text x="1125" y="586" font-size="11">1</text>
<text x="1125" y="563.8" font-size="11">2</text>
</g><path d="M668.6 626.5h6.5M1122.5 626.5h-6.5M668.6 604.3h6.5M1122.5 604.3h-6.5M668.6 582.1h6.5M1122.5 582.1h-6.5M668.6 559.9h6.5M1122.5 559.9h-6.5M668.6 630.9h3.2M1122.5 630.9h-3.2M668.6 622.1h3.2M1122.5 622.1h-3.2M668.6 617.6h3.2M1122.5 617.6h-3.2M668.6 613.2h3.2M1122.5 613.2h-3.2M668.6 608.7h3.2M1122.5 608.7h-3.2M668.6 599.9h3.2M1122.5 599.9h-3.2M668.6 595.4h3.2M1122.5 595.4h-3.2M668.6 591h3.2M1122.5 591h-3.2M668.6 586.5h3.2M1122.5 586.5h-3.2M668.6 577.7h3.2M1122.5 577.7h-3.2M668.6 573.2h3.2M1122.5 573.2h-3.2M668.6 568.8h3.2M1122.5 568.8h-3.2M668.6 564.3h3.2M1122.5 564.3h-3.2" stroke="#333" stroke-width="1"/><g fill="#000" stroke="none">
<text x="1160" y="595" font-size="11" text-anchor="middle" transform="rotate(-90 1160 595)"><tspan>J [µA m</tspan><tspan dy="-5" font-size="8.8" letter-spacing="0.35">-2</tspan><tspan dy="5">]</tspan></text>
</g><path d="M674.6 562.8H692.2" stroke="#ff00ff" stroke-width="2" stroke-dasharray="1.5 1"/><g fill="#000" stroke="none">
<text x="693.4" y="566.2" font-size="9.0" fill="#ff00ff"><tspan>t  maxJ</tspan></text>
</g><path d="M674.6 570H692.2" stroke="#1a1aff" stroke-width="1"/><g fill="#000" stroke="none">
<text x="693.4" y="573.4" font-size="9.0" fill="#1a1aff"><tspan>J</tspan><tspan dy="2.7" font-size="7.2">L</tspan></text>
</g><path d="M674.6 577.5H692.2" stroke="#22ee22" stroke-width="1"/><g fill="#000" stroke="none">
<text x="693.4" y="580.9" font-size="9.0" fill="#22ee22"><tspan>J</tspan><tspan dy="2.7" font-size="7.2">M</tspan></text>
</g><path d="M674.6 584.9H692.2" stroke="#ff2020" stroke-width="1"/><g fill="#000" stroke="none">
<text x="693.4" y="588.3" font-size="9.0" fill="#ff2020"><tspan>J</tspan><tspan dy="2.7" font-size="7.2">N</tspan></text>
<text x="666.1" y="697.1" font-size="11" text-anchor="end">-1</text>
<text x="666.1" y="683.9" font-size="11" text-anchor="end">0</text>
<text x="666.1" y="670.7" font-size="11" text-anchor="end">1</text>
<text x="666.1" y="657.5" font-size="11" text-anchor="end">2</text>
<text x="666.1" y="644.3" font-size="11" text-anchor="end">3</text>
</g><path d="M668.6 693.2h6.5M1122.5 693.2h-6.5M668.6 680h6.5M1122.5 680h-6.5M668.6 666.8h6.5M1122.5 666.8h-6.5M668.6 653.6h6.5M1122.5 653.6h-6.5M668.6 640.4h6.5M1122.5 640.4h-6.5M668.6 703.8h3.2M1122.5 703.8h-3.2M668.6 701.1h3.2M1122.5 701.1h-3.2M668.6 698.5h3.2M1122.5 698.5h-3.2M668.6 695.8h3.2M1122.5 695.8h-3.2M668.6 690.6h3.2M1122.5 690.6h-3.2M668.6 687.9h3.2M1122.5 687.9h-3.2M668.6 685.3h3.2M1122.5 685.3h-3.2M668.6 682.6h3.2M1122.5 682.6h-3.2M668.6 677.4h3.2M1122.5 677.4h-3.2M668.6 674.7h3.2M1122.5 674.7h-3.2M668.6 672.1h3.2M1122.5 672.1h-3.2M668.6 669.4h3.2M1122.5 669.4h-3.2M668.6 664.2h3.2M1122.5 664.2h-3.2M668.6 661.5h3.2M1122.5 661.5h-3.2M668.6 658.9h3.2M1122.5 658.9h-3.2M668.6 656.2h3.2M1122.5 656.2h-3.2M668.6 651h3.2M1122.5 651h-3.2M668.6 648.3h3.2M1122.5 648.3h-3.2M668.6 645.7h3.2M1122.5 645.7h-3.2M668.6 643h3.2M1122.5 643h-3.2M668.6 637.8h3.2M1122.5 637.8h-3.2M668.6 635.1h3.2M1122.5 635.1h-3.2" stroke="#333" stroke-width="1"/><g fill="#000" stroke="none">
<text x="642.5" y="670.5" font-size="11" text-anchor="middle" transform="rotate(-90 642.5 670.5)"><tspan>J*E' [nW m</tspan><tspan dy="-5" font-size="8.8" letter-spacing="0.35">-3</tspan><tspan dy="5">]</tspan></text>
</g><path d="M674.6 647.9H692.2" stroke="#222222" stroke-width="1"/><g fill="#000" stroke="none">
<text x="697.4" y="651.3" font-size="9.0" fill="#222222"><tspan>J*E'</tspan></text>
</g>
</svg>
<pre>:
 Event ID         : 20161124_182744
 FlagStr          : msh,udef,nmon,bf,mult,part,keep
 GSEpos [Re]      : [ 6.69, 7.75, 1.26 ]
                  :
 LMN coords       :
    L             : [  0.176,  0.007,  0.984 ]
    M             : [ -0.536,  0.839,  0.090 ]
    N             : [  0.826,  0.543, -0.151 ]
                  :
  Times           : (as indicated by red, green lines in plots)
    t_0           : 18:28:47  (red dotted line)
    t_MVAB1       : 18:28:07  (leftmost green line)
    t_MVAB2       : 18:29:33  (rightmost green line)
                  :
|Bmin|, |Vmax|    :
    Bmin          : 5.87 [nT]  at 18:29:08
    Vmax_tht      : 284.53 [km/s]  at 18:29:10
    Vmax_tburst   : 284.53 [km/s]  at 18:28:51
                  :
 Normals          :
    N MVAB        : [  0.812,  0.554, -0.181 ]   (L2/L1 = 4.60)
    N MVAB0       : [  0.832,  0.522, -0.187 ]   (L3/L2 = 16.91)
    N MFR         : [  0.780,  0.602, -0.167 ]   (L2/L1 = 3.87)
                  :
 Durations [s]    : (between red, resp green lines)
    T_CS          : 42.84
    T_MFR/HT      : 125.68
                  :
 Velocity [km/s]  : (based on FPI ion data)
    VnMFR         : 5.4
    VHT.Nmvab     : 1.8  (HTcc = 0.971)
    VHT.Nmvab0    : 10.1
                  :
 CS thickness [km]: (D=T_CS * Vs from above)
    D1=TCS*Vnmfr  : 229
    D2=TCS*VHTn   : 79
    D3=TCS*VHTn0  : 433
                  :
 Currents [uA/m2] :
    Jave_CS       : 0.333
    Jmax_THT      : 2.157  at 18:29:21
    Jmax_brst     : 2.157  at 18:29:21
                  :
 HPCA mom [1/cm3] :   Min   -  Max    (  Ave   )  within full brst int
    H+            :  38.632 - 50.244  ( 46.457 )
    He+           :   0.000 -  0.007  (  0.002 )
    He++          :   0.604 -  1.699  (  1.057 )
    O+            :   0.003 -  0.035  (  0.012 )
                  :
 SEH date         : 2019-11-29 10:10:01
                  :</pre>
</body></html>
